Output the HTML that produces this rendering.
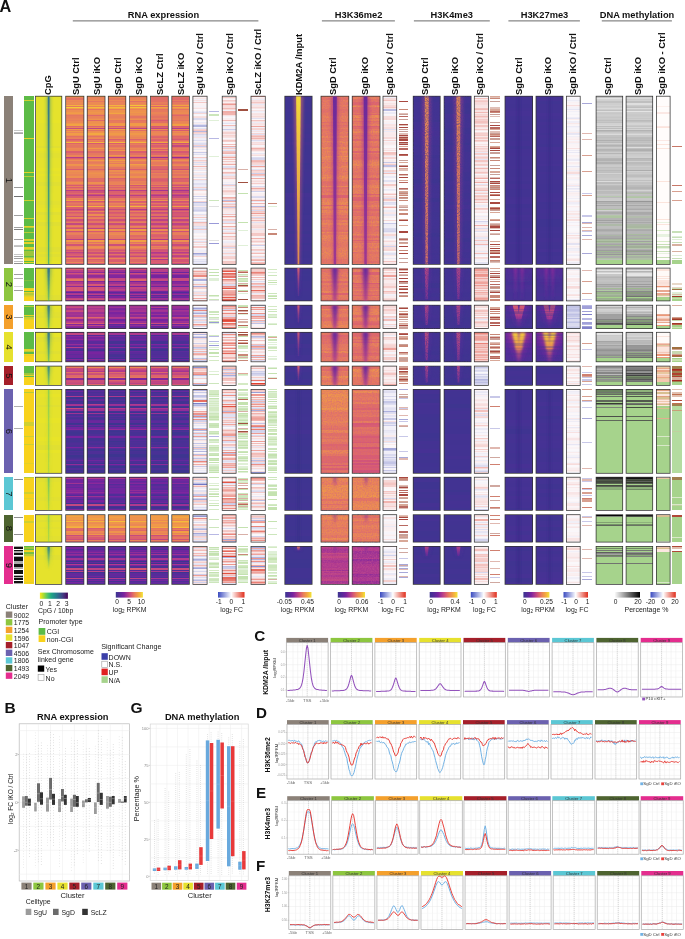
<!DOCTYPE html><html><head><meta charset="utf-8"><style>
html,body{margin:0;padding:0;background:#fff}
body{width:685px;height:939px;overflow:hidden;position:relative;font-family:"Liberation Sans",sans-serif}
#h>div,#o>div{position:absolute}
svg{position:absolute;left:0;top:0;will-change:transform}
.b{fill:none;stroke:#333;stroke-width:.75px}
</style></head><body><div id="h"><div style="left:4px;top:96.2px;width:9.1px;height:168.3px;background:#8b8178"></div><div style="left:4px;top:268.1px;width:9.1px;height:32.8px;background:#8dc63f"></div><div style="left:4px;top:305.2px;width:9.1px;height:23.4px;background:#f4a02c"></div><div style="left:4px;top:332.3px;width:9.1px;height:29.5px;background:#e6e12e"></div><div style="left:4px;top:366.1px;width:9.1px;height:19.4px;background:#a51f2a"></div><div style="left:4px;top:389.4px;width:9.1px;height:83.9px;background:#6b61af"></div><div style="left:4px;top:477.2px;width:9.1px;height:33.3px;background:#5bc7d4"></div><div style="left:4px;top:514.7px;width:9.1px;height:27.4px;background:#4e6430"></div><div style="left:4px;top:546.4px;width:9.1px;height:38.1px;background:#e42d8e"></div><div style="left:14.1px;top:130.4px;width:9.2px;height:0.6px;background:#c8c8c8"></div><div style="left:14.1px;top:131.9px;width:9.2px;height:0.6px;background:#c0c0c0"></div><div style="left:14.1px;top:133.3px;width:9.2px;height:0.7px;background:#a8a8a8"></div><div style="left:14.1px;top:186.6px;width:9.2px;height:0.6px;background:#9a9a9a"></div><div style="left:14.1px;top:196px;width:9.2px;height:1.1px;background:#707070"></div><div style="left:14.1px;top:215px;width:9.2px;height:0.6px;background:#a0a0a0"></div><div style="left:14.1px;top:227.2px;width:9.2px;height:0.6px;background:#a0a0a0"></div><div style="left:14.1px;top:228.7px;width:9.2px;height:0.9px;background:#808080"></div><div style="left:14.1px;top:239px;width:9.2px;height:0.6px;background:#a0a0a0"></div><div style="left:14.1px;top:244.6px;width:9.2px;height:0.9px;background:#c8c8c8"></div><div style="left:14.1px;top:246.4px;width:9.2px;height:0.9px;background:#c0c0c0"></div><div style="left:14.1px;top:254.4px;width:9.2px;height:0.6px;background:#c8c8c8"></div><div style="left:14.1px;top:256.3px;width:9.2px;height:0.7px;background:#a8a8a8"></div><div style="left:14.1px;top:258.4px;width:9.2px;height:0.7px;background:#a0a0a0"></div><div style="left:14.1px;top:260.5px;width:9.2px;height:0.7px;background:#c0c0c0"></div><div style="left:14.1px;top:262.6px;width:9.2px;height:0.9px;background:#909090"></div><div style="left:14.1px;top:273.5px;width:9.2px;height:0.6px;background:#a0a0a0"></div><div style="left:14.1px;top:277.5px;width:9.2px;height:0.6px;background:#b0b0b0"></div><div style="left:14.1px;top:286px;width:9.2px;height:0.8px;background:#d8d8d8"></div><div style="left:14.1px;top:290px;width:9.2px;height:0.6px;background:#a0a0a0"></div><div style="left:14.1px;top:316.5px;width:9.2px;height:0.6px;background:#a0a0a0"></div><div style="left:14.1px;top:406px;width:9.2px;height:0.5px;background:#b0b0b0"></div><div style="left:14.1px;top:428px;width:9.2px;height:0.5px;background:#b0b0b0"></div><div style="left:14.1px;top:478.5px;width:9.2px;height:0.5px;background:#909090"></div><div style="left:14.1px;top:516.5px;width:9.2px;height:0.5px;background:#909090"></div><div style="left:14.1px;top:533.5px;width:9.2px;height:0.5px;background:#909090"></div><div style="left:14.1px;top:546.4px;width:9.2px;height:38.1px;background:linear-gradient(#aaa 0px 1px,#111 1px 2.9px,#fff 2.9px 4px,#111 4px 5.5px,#aaa 5.5px 7.5px,#111 7.5px 9.2px,#fff 9.2px 9.7px,#aaa 9.7px 10.9px,#111 10.9px 15.4px,#aaa 15.4px 17.8px,#111 17.8px 20.8px,#fff 20.8px 21.4px,#aaa 21.4px 22.7px,#fff 22.7px 23.7px,#111 23.7px 27.7px,#fff 27.7px 28.9px,#aaa 28.9px 30.1px,#111 30.1px 31px,#aaa 31px 32.3px,#111 32.3px 34.1px,#fff 34.1px 34.7px,#111 34.7px 37.5px,#aaa 37.5px 38.1px)"></div><div style="left:24.2px;top:96.2px;width:9.7px;height:168.3px;background:linear-gradient(#5dbb46 0px 4.4px,#d0d030 4.4px 5.5px,#5dbb46 5.5px 41.8px,#e4d228 41.8px 43.3px,#5dbb46 43.3px 76.4px,#e4d228 76.4px 77.2px,#5dbb46 77.2px 79.6px,#b8cc36 79.6px 81px,#5dbb46 81px 103.7px,#d0d030 103.7px 105.1px,#5dbb46 105.1px 121.6px,#d0d030 121.6px 123px,#5dbb46 123px 129.8px,#e4d228 129.8px 131px,#b8cc36 131px 132.2px,#5dbb46 132.2px 136.3px,#b8cc36 136.3px 137.2px,#5dbb46 137.2px 142.8px,#e4d228 142.8px 143.6px,#d0d030 143.6px 144.8px,#5dbb46 144.8px 145.8px,#e4d228 145.8px 147.7px,#5dbb46 147.7px 151.4px,#e4d228 151.4px 153.5px,#b8cc36 153.5px 154.4px,#5dbb46 154.4px 155.1px,#9cc63c 155.1px 157.6px,#e4d228 157.6px 158.4px,#9cc63c 158.4px 159.9px,#5dbb46 159.9px 160.8px,#9cc63c 160.8px 162px,#d0d030 162px 163.5px,#e4d228 163.5px 164.8px,#5dbb46 164.8px 166.2px,#e4d228 166.2px 167.5px,#5dbb46 167.5px 168.1px,#b8cc36 168.1px 168.3px)"></div><div style="left:24.2px;top:268.1px;width:9.7px;height:32.8px;background:linear-gradient(#5dbb46 0px 11.9px,#7cc040 11.9px 12.9px,#5dbb46 12.9px 20.4px,#e4d228 20.4px 21.2px,#f8d21c 21.2px 22.7px,#5dbb46 22.7px 24.2px,#e4d228 24.2px 25.2px,#b8cc36 25.2px 26.7px,#d0d030 26.7px 28.1px,#e4d228 28.1px 28.7px,#f8d21c 28.7px 32.8px)"></div><div style="left:24.2px;top:305.2px;width:9.7px;height:23.4px;background:linear-gradient(#5dbb46 0px 1px,#b8cc36 1px 1.7px,#5dbb46 1.7px 10.1px,#e4d228 10.1px 10.9px,#7cc040 10.9px 12.4px,#d0d030 12.4px 14px,#e4d228 14px 15.1px,#f8d21c 15.1px 23.4px)"></div><div style="left:24.2px;top:332.3px;width:9.7px;height:29.5px;background:linear-gradient(#5dbb46 0px 17.4px,#e4d228 17.4px 18.7px,#d0d030 18.7px 19.4px,#b8cc36 19.4px 20.5px,#5dbb46 20.5px 21.6px,#f8d21c 21.6px 22.8px,#e4d228 22.8px 23.6px,#f8d21c 23.6px 29.5px)"></div><div style="left:24.2px;top:366.1px;width:9.7px;height:19.4px;background:linear-gradient(#5dbb46 0px 7.3px,#9cc63c 7.3px 8.8px,#e4d228 8.8px 9.8px,#5dbb46 9.8px 10.8px,#f8d21c 10.8px 19.4px)"></div><div style="left:24.2px;top:389.4px;width:9.7px;height:83.9px;background:linear-gradient(#f8d21c 0px 3.1px,#b8cc36 3.1px 4px,#f8d21c 4px 33.1px,#d0d030 33.1px 34.6px,#f8d21c 34.6px 35.4px,#d0d030 35.4px 36.5px,#f8d21c 36.5px 47.3px,#d0d030 47.3px 48.2px,#f8d21c 48.2px 54.9px,#d0d030 54.9px 56px,#f8d21c 56px 73.7px,#e4d228 73.7px 74.8px,#f8d21c 74.8px 83.9px)"></div><div style="left:24.2px;top:477.2px;width:9.7px;height:33.3px;background:linear-gradient(#b8cc36 0px 0.6px,#f8d21c 0.6px 15.1px,#d0d030 15.1px 16.6px,#f8d21c 16.6px 20.7px,#e4d228 20.7px 21.6px,#f8d21c 21.6px 33.3px)"></div><div style="left:24.2px;top:514.7px;width:9.7px;height:27.4px;background:linear-gradient(#f8d21c 0px 6.2px,#d0d030 6.2px 7.7px,#f8d21c 7.7px 27.4px)"></div><div style="left:24.2px;top:546.4px;width:9.7px;height:38.1px;background:linear-gradient(#5dbb46 0px 1.5px,#9cc63c 1.5px 2.9px,#5dbb46 2.9px 3.9px,#e4d228 3.9px 5.4px,#f8d21c 5.4px 6.5px,#7cc040 6.5px 8.1px,#b8cc36 8.1px 10.3px,#e4d228 10.3px 10.9px,#f8d21c 10.9px 36.1px,#e4d228 36.1px 37.3px,#f8d21c 37.3px 38.1px)"></div><div style="left:35.5px;top:96.2px;width:26.3px;height:168.3px;background:linear-gradient(#e5e22c 0px 23.6px,#e8e428 23.6px 27.4px,#e5e22c 27.4px 50.2px,#e0df32 50.2px 52.3px,#e8e428 52.3px 54.9px,#e5e22c 54.9px 57px,#e2e030 57px 61.8px,#e5e22c 61.8px 72.2px,#e8e428 72.2px 74.7px,#e5e22c 74.7px 77.7px,#e8e428 77.7px 79.9px,#e5e22c 79.9px 85.9px,#e0df32 85.9px 89.6px,#e5e22c 89.6px 104.7px,#e2e030 104.7px 109.1px,#e5e22c 109.1px 111.7px,#e8e428 111.7px 116.2px,#e0df32 116.2px 118.9px,#e5e22c 118.9px 123.9px,#e8e428 123.9px 126.5px,#e0df32 126.5px 130px,#e5e22c 130px 150.7px,#e0df32 150.7px 155.6px,#e5e22c 155.6px 157.9px,#e0df32 157.9px 161.2px,#e5e22c 161.2px 165.3px,#e8e428 165.3px 168px,#e5e22c 168px 168.3px)"></div><div style="left:35.5px;top:268.1px;width:26.3px;height:32.8px;background:linear-gradient(#e5e22c 0px 27.5px,#e0df32 27.5px 32.2px,#e8e428 32.2px 32.8px)"></div><div style="left:35.5px;top:305.2px;width:26.3px;height:23.4px;background:linear-gradient(#e8e428 0px 2.9px,#e5e22c 2.9px 7px,#e2e030 7px 10.8px,#e0df32 10.8px 13px,#e5e22c 13px 22.2px,#e8e428 22.2px 23.4px)"></div><div style="left:35.5px;top:332.3px;width:26.3px;height:29.5px;background:linear-gradient(#e8e428 0px 4.9px,#e0df32 4.9px 7.5px,#e2e030 7.5px 10.1px,#e5e22c 10.1px 19.4px,#e0df32 19.4px 21.8px,#e5e22c 21.8px 29.5px)"></div><div style="left:35.5px;top:366.1px;width:26.3px;height:19.4px;background:linear-gradient(#e5e22c 0px 19.4px)"></div><div style="left:35.5px;top:389.4px;width:26.3px;height:83.9px;background:linear-gradient(#e5e22c 0px 4.7px,#e8e428 4.7px 8.2px,#e5e22c 8.2px 15.5px,#e0df32 15.5px 18.4px,#e5e22c 18.4px 29.4px,#e8e428 29.4px 33.8px,#e5e22c 33.8px 48.3px,#e8e428 48.3px 52px,#e5e22c 52px 56.2px,#e0df32 56.2px 61.1px,#e8e428 61.1px 64.4px,#e5e22c 64.4px 83.9px)"></div><div style="left:35.5px;top:477.2px;width:26.3px;height:33.3px;background:linear-gradient(#e2e030 0px 4.8px,#e5e22c 4.8px 19.6px,#e2e030 19.6px 24.1px,#e5e22c 24.1px 33.3px)"></div><div style="left:35.5px;top:514.7px;width:26.3px;height:27.4px;background:linear-gradient(#e5e22c 0px 4.6px,#e0df32 4.6px 7.5px,#e5e22c 7.5px 12.2px,#e2e030 12.2px 14.5px,#e5e22c 14.5px 21.4px,#e2e030 21.4px 25.1px,#e5e22c 25.1px 27.4px)"></div><div style="left:35.5px;top:546.4px;width:26.3px;height:38.1px;background:linear-gradient(#e5e22c 0px 8.9px,#e0df32 8.9px 13.6px,#e5e22c 13.6px 38.1px)"></div><div style="left:65.7px;top:96.2px;width:18.2px;height:168.3px;background:linear-gradient(#f19e45 0px 1.1px,#ea8458 1.1px 2.5px,#e37263 2.5px 3.7px,#ec8a53 3.7px 4.6px,#f4b83d 4.6px 5.3px,#ea8557 5.3px 6.4px,#ec8c52 6.4px 7.8px,#eb8656 7.8px 9px,#f4b33e 9px 9.7px,#e57760 9.7px 10.7px,#f4cb3a 10.7px 11.7px,#f19d46 11.7px 12.9px,#e77c5d 12.9px 14.1px,#ed8e51 14.1px 15.6px,#f0984a 15.6px 16.6px,#f19c47 16.6px 17.6px,#ec8a54 17.6px 18.8px,#e47760 18.8px 20.3px,#e77d5c 20.3px 21.6px,#e9815a 21.6px 22.7px,#ea8557 22.7px 24.1px,#e87f5b 24.1px 25.2px,#eb8855 25.2px 26.7px,#ef964b 26.7px 27.6px,#f2a343 27.6px 29.8px,#df6b68 29.8px 30.7px,#e9815a 30.7px 32.1px,#c94d7d 32.1px 33.3px,#f0984a 33.3px 34.4px,#e67b5e 34.4px 35.1px,#f0974a 35.1px 36.5px,#ea8657 36.5px 37.2px,#f19c47 37.2px 38.7px,#ed904f 38.7px 40.2px,#e27164 40.2px 41.1px,#e87e5c 41.1px 41.8px,#e9825a 41.8px 43.3px,#d85b72 43.3px 44.4px,#df6b68 44.4px 45.1px,#e87e5c 45.1px 46.2px,#f4b43e 46.2px 47.1px,#dc646c 47.1px 48.1px,#e77c5d 48.1px 49.3px,#e47661 49.3px 50.8px,#e67a5e 50.8px 52.2px,#ec8b53 52.2px 53px,#eb8855 53px 54.1px,#eb8756 54.1px 55.2px,#da5f6f 55.2px 56.8px,#ef974b 56.8px 57.5px,#e27264 57.5px 58.6px,#eb8756 58.6px 60.1px,#ea8458 60.1px 61.1px,#b43c8c 61.1px 61.9px,#da5f6f 61.9px 63.1px,#e77c5d 63.1px 64px,#ed8e51 64px 65.5px,#e67a5e 65.5px 66.2px,#e77b5d 66.2px 67px,#e67b5e 67px 67.7px,#ef954c 67.7px 69px,#ee924e 69px 69.9px,#e87f5b 69.9px 71.4px,#e77c5d 71.4px 72.9px,#d85a72 72.9px 74.5px,#ec8b53 74.5px 75.3px,#ed8f50 75.3px 75.9px,#eb8954 75.9px 76.9px,#ec8b53 76.9px 78.5px,#ea8458 78.5px 79.8px,#dc626d 79.8px 80.5px,#ee914f 80.5px 81.8px,#e06c67 81.8px 83.3px,#e27064 83.3px 84.9px,#e77d5c 84.9px 86.2px,#ed8f50 86.2px 87.6px,#e77d5c 87.6px 89.1px,#d85b71 89.1px 90px,#e9805a 90px 90.7px,#d95b71 90.7px 92.1px,#e47661 92.1px 92.8px,#e87e5c 92.8px 93.8px,#b83f89 93.8px 95.4px,#d95d70 95.4px 96.6px,#df6b68 96.6px 97.7px,#d45675 97.7px 99.2px,#bf4585 99.2px 100.1px,#d95c71 100.1px 101.7px,#eb8954 101.7px 103.2px,#e8805b 103.2px 104.2px,#f29f45 104.2px 105.1px,#da5e70 105.1px 105.8px,#e16f65 105.8px 107.4px,#e67b5e 107.4px 108.1px,#e27164 108.1px 108.7px,#e16f65 108.7px 110.2px,#f3a842 110.2px 111.4px,#da5e70 111.4px 112.7px,#c14783 112.7px 114px,#d85a72 114px 114.7px,#e57760 114.7px 115.4px,#e57860 115.4px 116.5px,#d85a72 116.5px 117.1px,#dd666b 117.1px 118.2px,#e37363 118.2px 119.6px,#ce5279 119.6px 120.8px,#ea8656 120.8px 122px,#e87f5b 122px 122.7px,#e67a5e 122.7px 123.5px,#cd517a 123.5px 125px,#dd666b 125px 125.7px,#e6795f 125.7px 126.9px,#e27264 126.9px 127.5px,#c34981 127.5px 129.1px,#e6795f 129.1px 129.8px,#ea8557 129.8px 130.8px,#dc636c 130.8px 132px,#cf5378 132px 133.3px,#ed904f 133.3px 134.8px,#ce517a 134.8px 136.2px,#e57760 136.2px 137.1px,#e98359 137.1px 137.8px,#e87f5b 137.8px 139.1px,#e16e66 139.1px 140.7px,#d95c71 140.7px 141.3px,#df6969 141.3px 142.7px,#dd666a 142.7px 143.5px,#b83f8a 143.5px 144.5px,#ef964b 144.5px 145.6px,#e57860 145.6px 146.9px,#ea8458 146.9px 148.4px,#d15477 148.4px 149.7px,#e8805b 149.7px 150.7px,#eb8855 150.7px 152px,#ec8b53 152px 153.1px,#e27164 153.1px 154.1px,#ce5279 154.1px 155.1px,#dc636c 155.1px 156.2px,#bf4585 156.2px 157.1px,#d05478 157.1px 157.9px,#d95d70 157.9px 158.6px,#dd646c 158.6px 159.7px,#bf4585 159.7px 160.6px,#dc636c 160.6px 162px,#ed8d51 162px 163.5px,#dc646c 163.5px 164.4px,#e06d66 164.4px 165.6px,#eb8756 165.6px 167.1px,#da5e70 167.1px 168.1px,#c74c7e 168.1px 168.3px)"></div><div style="left:87.2px;top:96.2px;width:17.8px;height:168.3px;background:linear-gradient(#f19c47 0px 1.1px,#e9815a 1.1px 2.5px,#ea8458 2.5px 3.7px,#ec8c52 3.7px 4.6px,#f3ae40 4.6px 5.3px,#e57760 5.3px 6.4px,#ec8a53 6.4px 7.8px,#ec8b53 7.8px 9px,#f3a941 9px 9.7px,#e9815a 9.7px 10.7px,#f4bb3c 10.7px 11.7px,#f29f45 11.7px 12.9px,#e37462 12.9px 14.1px,#ed904f 14.1px 15.6px,#ef974a 15.6px 16.6px,#ee934d 16.6px 17.6px,#ec8b53 17.6px 18.8px,#df6969 18.8px 20.3px,#e98259 20.3px 21.6px,#eb8855 21.6px 22.7px,#ee934d 22.7px 24.1px,#df6969 24.1px 25.2px,#ed8f50 25.2px 26.7px,#ee924e 26.7px 27.6px,#f29f45 27.6px 28.3px,#f0984a 28.3px 29.8px,#dd656b 29.8px 30.7px,#e9825a 30.7px 32.1px,#be4485 32.1px 33.3px,#ef964b 33.3px 34.4px,#e37363 34.4px 35.1px,#ed8e51 35.1px 36.5px,#ee934d 36.5px 37.2px,#f3a842 37.2px 38.7px,#ec8c52 38.7px 40.2px,#e37363 40.2px 41.1px,#eb8756 41.1px 41.8px,#ec8b53 41.8px 43.3px,#dd656b 43.3px 44.4px,#e98259 44.4px 45.1px,#e67a5e 45.1px 46.2px,#f4b33e 46.2px 47.1px,#d65873 47.1px 48.1px,#e67a5e 48.1px 49.3px,#e5795f 49.3px 50.8px,#e87f5b 50.8px 52.2px,#f19b47 52.2px 53px,#e9805b 53px 54.1px,#eb8756 54.1px 55.2px,#df6a68 55.2px 56.8px,#f19b47 56.8px 57.5px,#e5795f 57.5px 58.6px,#e9815a 58.6px 60.1px,#ea8458 60.1px 61.1px,#b73e8b 61.1px 61.9px,#e06d66 61.9px 63.1px,#e77c5d 63.1px 64px,#f19b47 64px 65.5px,#ea8458 65.5px 66.2px,#e67a5f 66.2px 67px,#e87f5b 67px 67.7px,#ed8e51 67.7px 69px,#f09a48 69px 69.9px,#e87f5c 69.9px 71.4px,#e98259 71.4px 72.9px,#dd656b 72.9px 74.5px,#e87f5b 74.5px 75.3px,#eb8756 75.3px 75.9px,#ec8d51 75.9px 76.9px,#ee924e 76.9px 78.5px,#ec8b53 78.5px 79.8px,#dd656b 79.8px 80.5px,#eb8954 80.5px 81.8px,#e06c67 81.8px 83.3px,#e16e66 83.3px 86.2px,#ed8f50 86.2px 87.6px,#e67b5e 87.6px 89.1px,#d55874 89.1px 90px,#e87e5c 90px 90.7px,#d65874 90.7px 92.1px,#e27164 92.1px 92.8px,#df6969 92.8px 93.8px,#be4485 93.8px 95.4px,#ce5279 95.4px 96.6px,#e47561 96.6px 97.7px,#cc507b 97.7px 99.2px,#b23a8e 99.2px 100.1px,#da606f 100.1px 101.7px,#e67a5f 101.7px 103.2px,#e27264 103.2px 104.2px,#f2a144 104.2px 105.1px,#d35676 105.1px 105.8px,#e06c67 105.8px 107.4px,#eb8656 107.4px 108.1px,#e77d5c 108.1px 108.7px,#e06c67 108.7px 110.2px,#f4b23f 110.2px 111.4px,#df6969 111.4px 112.7px,#c34882 112.7px 114px,#d55874 114px 114.7px,#e57860 114.7px 115.4px,#eb8855 115.4px 116.5px,#da5e6f 116.5px 117.1px,#dc636c 117.1px 118.2px,#ec8d52 118.2px 119.6px,#d85a72 119.6px 120.8px,#e87e5c 120.8px 122px,#ea8458 122px 122.7px,#e37462 122.7px 123.5px,#d95c71 123.5px 125px,#e57760 125px 125.7px,#e47561 125.7px 126.9px,#dc636d 126.9px 127.5px,#cc507a 127.5px 129.1px,#e06d66 129.1px 129.8px,#e57760 129.8px 130.8px,#e06b67 130.8px 132px,#bb4188 132px 133.3px,#ef974b 133.3px 134.8px,#d75973 134.8px 136.2px,#e87f5b 136.2px 137.1px,#eb8756 137.1px 137.8px,#e57860 137.8px 139.1px,#e57760 139.1px 140.7px,#d75972 140.7px 141.3px,#e47561 141.3px 142.7px,#d65874 142.7px 143.5px,#ba4088 143.5px 144.5px,#f19d46 144.5px 145.6px,#e37362 145.6px 146.9px,#ec8c52 146.9px 148.4px,#dd666a 148.4px 149.7px,#ed8d51 149.7px 150.7px,#ee924e 150.7px 152px,#ea8657 152px 153.1px,#dc646c 153.1px 154.1px,#da606e 154.1px 155.1px,#e06c67 155.1px 156.2px,#cd517a 156.2px 157.9px,#e57860 157.9px 158.6px,#db616e 158.6px 159.7px,#c84c7e 159.7px 160.6px,#e16e66 160.6px 162px,#ed8e51 162px 163.5px,#d95d70 163.5px 164.4px,#e06c67 164.4px 165.6px,#eb8756 165.6px 167.1px,#d65973 167.1px 168.1px,#cb4f7c 168.1px 168.3px)"></div><div style="left:108.3px;top:96.2px;width:17.5px;height:168.3px;background:linear-gradient(#ee934d 0px 1.1px,#eb8855 1.1px 2.5px,#e5795f 2.5px 3.7px,#eb8954 3.7px 4.6px,#f5bf3b 4.6px 5.3px,#e77c5d 5.3px 6.4px,#ea8458 6.4px 7.8px,#e9825a 7.8px 9px,#f4b23f 9px 9.7px,#ec8b53 9.7px 10.7px,#f4b93d 10.7px 11.7px,#f2a443 11.7px 12.9px,#e87e5c 12.9px 14.1px,#ee934d 14.1px 15.6px,#ef974a 15.6px 16.6px,#f2a543 16.6px 17.6px,#ea8656 17.6px 18.8px,#e9815a 18.8px 20.3px,#e8805b 20.3px 21.6px,#ea8656 21.6px 22.7px,#ed8d51 22.7px 24.1px,#e47661 24.1px 25.2px,#e67a5e 25.2px 26.7px,#f0984a 26.7px 27.6px,#f19d46 27.6px 28.3px,#f19b48 28.3px 29.8px,#da5f6f 29.8px 30.7px,#e77c5d 30.7px 32.1px,#c64b7f 32.1px 33.3px,#f2a144 33.3px 34.4px,#e9805a 34.4px 35.1px,#ee914e 35.1px 36.5px,#ee914f 36.5px 37.2px,#f09a48 37.2px 38.7px,#ee914f 38.7px 40.2px,#e9805a 40.2px 41.1px,#e87f5b 41.1px 41.8px,#ec8b53 41.8px 43.3px,#da5f6f 43.3px 44.4px,#e57760 44.4px 45.1px,#e87f5b 45.1px 46.2px,#f4b83d 46.2px 47.1px,#d95c71 47.1px 48.1px,#e9825a 48.1px 49.3px,#e27064 49.3px 50.8px,#e8805b 50.8px 52.2px,#ec8c52 52.2px 53px,#e67a5e 53px 54.1px,#f09849 54.1px 55.2px,#e16e65 55.2px 56.8px,#ee934d 56.8px 57.5px,#e37462 57.5px 58.6px,#ef974b 58.6px 60.1px,#ea8458 60.1px 61.1px,#aa3790 61.1px 61.9px,#e37462 61.9px 63.1px,#ea8458 63.1px 64px,#f19e45 64px 65.5px,#e98359 65.5px 66.2px,#ed9050 66.2px 67px,#e67b5e 67px 67.7px,#ef974a 67.7px 69px,#ee914e 69px 69.9px,#ec8a54 69.9px 71.4px,#e47661 71.4px 72.9px,#da5f6f 72.9px 74.5px,#ed9050 74.5px 75.3px,#ec8d52 75.3px 75.9px,#e8805b 75.9px 76.9px,#ec8d52 76.9px 78.5px,#e67a5e 78.5px 79.8px,#df6b68 79.8px 80.5px,#ed8f50 80.5px 81.8px,#db626d 81.8px 83.3px,#e27164 83.3px 84.9px,#e77c5d 84.9px 86.2px,#ea8358 86.2px 87.6px,#ea8558 87.6px 89.1px,#dd666b 89.1px 90px,#e6795f 90px 90.7px,#db616e 90.7px 92.1px,#e47760 92.1px 92.8px,#e27064 92.8px 93.8px,#b43c8c 93.8px 95.4px,#db606e 95.4px 96.6px,#de676a 96.6px 97.7px,#d95c71 97.7px 99.2px,#bb4188 99.2px 100.1px,#d75973 100.1px 101.7px,#e77d5c 101.7px 103.2px,#e77c5d 103.2px 104.2px,#ec8b53 104.2px 105.1px,#db606e 105.1px 105.8px,#e06c67 105.8px 107.4px,#ea8458 107.4px 108.1px,#e67a5e 108.1px 108.7px,#e67a5f 108.7px 110.2px,#f2a044 110.2px 111.4px,#de6969 111.4px 112.7px,#c64b7f 112.7px 114px,#de6969 114px 114.7px,#e47562 114.7px 115.4px,#e27064 115.4px 116.5px,#d55774 116.5px 117.1px,#da5e6f 117.1px 118.2px,#e27064 118.2px 119.6px,#d55874 119.6px 120.8px,#e67b5e 120.8px 122px,#e47462 122px 122.7px,#ea8458 122.7px 123.5px,#cd507a 123.5px 125px,#e06c67 125px 125.7px,#e87f5b 125.7px 126.9px,#e16f65 126.9px 127.5px,#c94d7d 127.5px 129.1px,#e06d66 129.1px 129.8px,#e5785f 129.8px 130.8px,#e47561 130.8px 132px,#ce5279 132px 133.3px,#ee924e 133.3px 134.8px,#d95c70 134.8px 136.2px,#ea8656 136.2px 137.1px,#eb8855 137.1px 137.8px,#ed8d51 137.8px 139.1px,#e77e5c 139.1px 140.7px,#d55774 140.7px 141.3px,#e67a5e 141.3px 142.7px,#d65873 142.7px 143.5px,#c44981 143.5px 144.5px,#f19c47 144.5px 145.6px,#ed8e51 145.6px 146.9px,#ec8d52 146.9px 148.4px,#cc507b 148.4px 149.7px,#e98259 149.7px 150.7px,#eb8954 150.7px 152px,#e87f5b 152px 153.1px,#dd666b 153.1px 154.1px,#d35676 154.1px 155.1px,#e06c67 155.1px 156.2px,#c44981 156.2px 157.1px,#c74b7f 157.1px 157.9px,#e37462 157.9px 158.6px,#d45775 158.6px 159.7px,#bf4585 159.7px 160.6px,#da5e6f 160.6px 162px,#ea8656 162px 163.5px,#db616e 163.5px 164.4px,#d95d70 164.4px 165.6px,#e8805b 165.6px 167.1px,#dc626d 167.1px 168.1px,#bb4287 168.1px 168.3px)"></div><div style="left:129.5px;top:96.2px;width:17.4px;height:168.3px;background:linear-gradient(#ef954b 0px 1.1px,#e5795f 1.1px 2.5px,#ea8458 2.5px 3.7px,#ee924e 3.7px 4.6px,#f3af3f 4.6px 5.3px,#e27064 5.3px 6.4px,#ea8657 6.4px 7.8px,#ec8c52 7.8px 9px,#f5c33a 9px 9.7px,#e87f5c 9.7px 10.7px,#f5c23a 10.7px 11.7px,#f09949 11.7px 12.9px,#ea8458 12.9px 14.1px,#ee914f 14.1px 15.6px,#ef964b 15.6px 16.6px,#ed8e51 16.6px 17.6px,#ee914f 17.6px 18.8px,#ea8657 18.8px 20.3px,#e37462 20.3px 21.6px,#ea8458 21.6px 22.7px,#ed9050 22.7px 24.1px,#e37363 24.1px 25.2px,#e67a5e 25.2px 26.7px,#f09949 26.7px 27.6px,#f19b48 27.6px 28.3px,#f09b48 28.3px 29.8px,#e77c5d 29.8px 30.7px,#e27164 30.7px 32.1px,#be4485 32.1px 33.3px,#f09b48 33.3px 34.4px,#e06c67 34.4px 35.1px,#ed904f 35.1px 36.5px,#ed8e51 36.5px 37.2px,#f0984a 37.2px 38.7px,#ed8e51 38.7px 40.2px,#ec8c52 40.2px 41.1px,#ea8557 41.1px 41.8px,#eb8955 41.8px 43.3px,#dc636d 43.3px 44.4px,#e77d5d 44.4px 45.1px,#ec8b53 45.1px 46.2px,#f4b53e 46.2px 47.1px,#e37263 47.1px 48.1px,#e87e5c 48.1px 49.3px,#e16f65 49.3px 50.8px,#e5795f 50.8px 52.2px,#ec8a53 52.2px 53px,#ea8359 53px 54.1px,#ef954c 54.1px 55.2px,#da5e6f 55.2px 56.8px,#ed9050 56.8px 57.5px,#e27263 57.5px 58.6px,#ea8458 58.6px 60.1px,#e5795f 60.1px 61.1px,#ac3790 61.1px 61.9px,#dc636c 61.9px 63.1px,#ea8359 63.1px 64px,#ef954c 64px 65.5px,#e87e5c 65.5px 66.2px,#e67a5e 66.2px 67px,#e47660 67px 67.7px,#f29f45 67.7px 69px,#ed8f50 69px 69.9px,#eb8855 69.9px 71.4px,#e87e5c 71.4px 72.9px,#d95d70 72.9px 74.5px,#e98259 74.5px 75.3px,#ec8b53 75.3px 75.9px,#ee924e 75.9px 76.9px,#eb8955 76.9px 78.5px,#e98259 78.5px 79.8px,#e37263 79.8px 80.5px,#ee914e 80.5px 81.8px,#e47561 81.8px 83.3px,#e37263 83.3px 84.9px,#ea8359 84.9px 86.2px,#e8805b 86.2px 87.6px,#ed8f50 87.6px 89.1px,#d25576 89.1px 90px,#e57760 90px 90.7px,#db616e 90.7px 92.1px,#e5795f 92.1px 92.8px,#e77c5d 92.8px 93.8px,#b94089 93.8px 95.4px,#db616d 95.4px 96.6px,#e37462 96.6px 97.7px,#dc646c 97.7px 99.2px,#b94089 99.2px 100.1px,#dc626d 100.1px 101.7px,#e87e5c 101.7px 103.2px,#e77c5d 103.2px 104.2px,#ef964b 104.2px 105.1px,#d95c71 105.1px 105.8px,#dc636d 105.8px 107.4px,#ec8d51 107.4px 108.1px,#de676a 108.1px 108.7px,#e6795f 108.7px 110.2px,#f4b23f 110.2px 111.4px,#e16e66 111.4px 112.7px,#b53c8c 112.7px 114px,#d95b71 114px 114.7px,#e87e5c 114.7px 115.4px,#e9805b 115.4px 116.5px,#da5e70 116.5px 117.1px,#df6a68 117.1px 118.2px,#e5795f 118.2px 119.6px,#d75973 119.6px 120.8px,#e5785f 120.8px 122px,#ea8458 122px 122.7px,#e87e5c 122.7px 123.5px,#cf5279 123.5px 125px,#e47661 125px 125.7px,#e87f5b 125.7px 126.9px,#d05378 126.9px 127.5px,#cb4f7b 127.5px 129.1px,#db616e 129.1px 129.8px,#eb8656 129.8px 130.8px,#e67b5e 130.8px 132px,#c64b7f 132px 133.3px,#f09a48 133.3px 134.8px,#d85a72 134.8px 136.2px,#ea8458 136.2px 137.1px,#eb8954 137.1px 137.8px,#ec8a54 137.8px 139.1px,#df6a68 139.1px 140.7px,#de686a 140.7px 141.3px,#e37363 141.3px 142.7px,#dd656b 142.7px 143.5px,#cb4f7c 143.5px 144.5px,#f29f45 144.5px 145.6px,#e37462 145.6px 146.9px,#eb8755 146.9px 148.4px,#d85a72 148.4px 149.7px,#eb8656 149.7px 150.7px,#ed9050 150.7px 152px,#e87f5b 152px 153.1px,#e27064 153.1px 154.1px,#d95c71 154.1px 155.1px,#e16e66 155.1px 156.2px,#c94d7d 156.2px 157.1px,#d85a72 157.1px 157.9px,#e27263 157.9px 158.6px,#db616e 158.6px 159.7px,#c64b7f 159.7px 160.6px,#e5785f 160.6px 162px,#e87e5c 162px 163.5px,#dd666b 163.5px 164.4px,#de6869 164.4px 165.6px,#e87e5c 165.6px 167.1px,#d35676 167.1px 168.1px,#b0398f 168.1px 168.3px)"></div><div style="left:150.5px;top:96.2px;width:17.8px;height:168.3px;background:linear-gradient(#ea8558 0px 1.1px,#e06c67 1.1px 2.5px,#e06d66 2.5px 3.7px,#e27164 3.7px 4.6px,#f3a941 4.6px 5.3px,#e27064 5.3px 6.4px,#e77d5c 6.4px 7.8px,#e27164 7.8px 9px,#f19d46 9px 9.7px,#dc636d 9.7px 10.7px,#f2a243 10.7px 11.7px,#ed904f 11.7px 12.9px,#e37462 12.9px 14.1px,#e6795f 14.1px 15.6px,#ea8458 15.6px 16.6px,#ea8557 16.6px 17.6px,#e87e5c 17.6px 18.8px,#e67b5e 18.8px 20.3px,#e27263 20.3px 21.6px,#e77d5d 21.6px 22.7px,#e37363 22.7px 24.1px,#d95c71 24.1px 25.2px,#e16f65 25.2px 26.7px,#ec8b53 26.7px 27.6px,#eb8855 27.6px 28.3px,#ee914e 28.3px 29.8px,#d45675 29.8px 30.7px,#db606e 30.7px 32.1px,#c04584 32.1px 33.3px,#eb8954 33.3px 34.4px,#db626d 34.4px 35.1px,#e98359 35.1px 36.5px,#ea8458 36.5px 37.2px,#eb8855 37.2px 38.7px,#e77c5d 38.7px 40.2px,#dd666b 40.2px 41.1px,#dc636c 41.1px 41.8px,#e57860 41.8px 43.3px,#dc636c 43.3px 44.4px,#db606e 44.4px 45.1px,#e5795f 45.1px 46.2px,#f3a642 46.2px 47.1px,#ca4e7d 47.1px 48.1px,#e37362 48.1px 49.3px,#da5f6f 49.3px 50.8px,#e16e66 50.8px 52.2px,#ec8c52 52.2px 53px,#da606f 53px 54.1px,#e9815a 54.1px 55.2px,#d45775 55.2px 56.8px,#e87f5c 56.8px 57.5px,#dd666b 57.5px 58.6px,#e9815a 58.6px 60.1px,#e37362 60.1px 61.1px,#9c3195 61.1px 61.9px,#dd676a 61.9px 63.1px,#db626d 63.1px 64px,#ee924e 64px 65.5px,#ea8558 65.5px 66.2px,#e67a5e 66.2px 67.7px,#e77b5d 67.7px 69px,#ec8a54 69px 69.9px,#de676a 69.9px 71.4px,#dc646c 71.4px 72.9px,#d55874 72.9px 74.5px,#e47561 74.5px 75.3px,#e37462 75.3px 75.9px,#df6969 75.9px 76.9px,#e9815a 76.9px 78.5px,#e47661 78.5px 79.8px,#d25576 79.8px 80.5px,#e77d5d 80.5px 81.8px,#dc646c 81.8px 83.3px,#d95d70 83.3px 84.9px,#dd666a 84.9px 86.2px,#e37363 86.2px 87.6px,#e67b5e 87.6px 89.1px,#d85a72 89.1px 90px,#e77b5d 90px 90.7px,#cb4f7b 90.7px 92.1px,#dd666a 92.1px 92.8px,#dd646c 92.8px 93.8px,#a33493 93.8px 95.4px,#d95d70 95.4px 96.6px,#df6a68 96.6px 97.7px,#c74c7f 97.7px 99.2px,#af398f 99.2px 100.1px,#cf5279 100.1px 101.7px,#e47760 101.7px 103.2px,#dd656b 103.2px 104.2px,#ed904f 104.2px 105.1px,#c84d7e 105.1px 105.8px,#d25576 105.8px 107.4px,#e57760 107.4px 108.1px,#db606e 108.1px 108.7px,#d65874 108.7px 110.2px,#ed904f 110.2px 111.4px,#d55874 111.4px 112.7px,#b63e8b 112.7px 114px,#d95d70 114px 114.7px,#e17065 114.7px 115.4px,#e37362 115.4px 116.5px,#c74c7e 116.5px 117.1px,#d05478 117.1px 118.2px,#e16f65 118.2px 119.6px,#bf4585 119.6px 120.8px,#e06d66 120.8px 122px,#e16f65 122px 122.7px,#df6a68 122.7px 123.5px,#bb4287 123.5px 125px,#db606e 125px 125.7px,#de676a 125.7px 126.9px,#db606e 126.9px 127.5px,#bd4386 127.5px 129.1px,#d85a72 129.1px 129.8px,#e27065 129.8px 130.8px,#d35675 130.8px 132px,#b63d8b 132px 133.3px,#ec8a54 133.3px 134.8px,#d15477 134.8px 136.2px,#e47660 136.2px 137.1px,#e9805a 137.1px 137.8px,#dc646c 137.8px 139.1px,#da5f6f 139.1px 140.7px,#c74c7e 140.7px 141.3px,#e06c67 141.3px 142.7px,#ce517a 142.7px 143.5px,#af398f 143.5px 144.5px,#ee934d 144.5px 145.6px,#e06c67 145.6px 146.9px,#e47561 146.9px 148.4px,#d65973 148.4px 149.7px,#e8805b 149.7px 150.7px,#e47561 150.7px 152px,#e8805b 152px 153.1px,#d55774 153.1px 154.1px,#cf5378 154.1px 155.1px,#d65874 155.1px 156.2px,#b0398e 156.2px 157.1px,#bc4287 157.1px 157.9px,#d65874 157.9px 158.6px,#cb4f7c 158.6px 159.7px,#b53d8c 159.7px 160.6px,#d85a72 160.6px 162px,#e6795f 162px 163.5px,#af398f 163.5px 164.4px,#d85b72 164.4px 165.6px,#db616e 165.6px 167.1px,#cd517a 167.1px 168.1px,#b83f8a 168.1px 168.3px)"></div><div style="left:171.8px;top:96.2px;width:17.6px;height:168.3px;background:linear-gradient(#eb8955 0px 1.1px,#e16e66 1.1px 2.5px,#de6869 2.5px 3.7px,#e77c5d 3.7px 4.6px,#f09a48 4.6px 5.3px,#df6969 5.3px 6.4px,#e57860 6.4px 7.8px,#e9815a 7.8px 9px,#f2a343 9px 9.7px,#e37462 9.7px 10.7px,#f2a443 10.7px 11.7px,#ee914f 11.7px 12.9px,#e37462 12.9px 14.1px,#eb8756 14.1px 15.6px,#ec8b53 15.6px 16.6px,#ec8d52 16.6px 17.6px,#e57760 17.6px 18.8px,#dd666b 18.8px 20.3px,#e67a5e 20.3px 21.6px,#e77d5c 21.6px 22.7px,#e87e5c 22.7px 24.1px,#e37462 24.1px 25.2px,#ea8557 25.2px 26.7px,#ec8a53 26.7px 27.6px,#ec8b53 27.6px 28.3px,#f2a044 28.3px 29.8px,#d95d70 29.8px 30.7px,#dc646c 30.7px 32.1px,#b43c8c 32.1px 33.3px,#ea8458 33.3px 34.4px,#d85a72 34.4px 35.1px,#ec8a53 35.1px 36.5px,#e9815a 36.5px 37.2px,#ec8d52 37.2px 38.7px,#e77b5e 38.7px 40.2px,#dd656b 40.2px 41.1px,#e06c67 41.1px 41.8px,#de6869 41.8px 43.3px,#d45775 43.3px 44.4px,#e27263 44.4px 45.1px,#eb8756 45.1px 46.2px,#f3ab41 46.2px 47.1px,#cd517a 47.1px 48.1px,#e16f65 48.1px 49.3px,#c54a80 49.3px 50.8px,#e16f65 50.8px 52.2px,#e87e5c 52.2px 53px,#e57760 53px 54.1px,#e98259 54.1px 55.2px,#d65973 55.2px 56.8px,#ea8458 56.8px 57.5px,#df6a68 57.5px 58.6px,#ea8557 58.6px 60.1px,#df6969 60.1px 61.1px,#942e97 61.1px 61.9px,#d45775 61.9px 63.1px,#e87f5b 63.1px 64px,#ed904f 64px 65.5px,#e6795f 65.5px 66.2px,#de6969 66.2px 67px,#e37363 67px 67.7px,#ea8458 67.7px 69px,#ec8b53 69px 69.9px,#e06c67 69.9px 71.4px,#e06d66 71.4px 72.9px,#cc4f7b 72.9px 74.5px,#e98259 74.5px 75.3px,#e57760 75.3px 75.9px,#e47661 75.9px 76.9px,#e9815a 76.9px 78.5px,#e27164 78.5px 79.8px,#db606e 79.8px 80.5px,#e9815a 80.5px 81.8px,#d55874 81.8px 83.3px,#dc636c 83.3px 84.9px,#dc636d 84.9px 86.2px,#e9815a 86.2px 87.6px,#de6869 87.6px 89.1px,#ce517a 89.1px 90px,#e77c5d 90px 90.7px,#c54a80 90.7px 92.1px,#dc626d 92.1px 92.8px,#d65874 92.8px 93.8px,#a43492 93.8px 95.4px,#c84c7e 95.4px 96.6px,#dd656b 96.6px 97.7px,#c54a80 97.7px 99.2px,#ad3890 99.2px 100.1px,#c64b7f 100.1px 101.7px,#e06c67 101.7px 103.2px,#de686a 103.2px 104.2px,#eb8855 104.2px 105.1px,#cf5279 105.1px 105.8px,#d85a72 105.8px 107.4px,#e37263 107.4px 108.1px,#d75973 108.1px 108.7px,#db616e 108.7px 110.2px,#f19d46 110.2px 111.4px,#d95d70 111.4px 112.7px,#a33493 112.7px 114px,#d05378 114px 114.7px,#e87e5c 114.7px 115.4px,#de676a 115.4px 116.5px,#cd517a 116.5px 117.1px,#d45675 117.1px 118.2px,#d65973 118.2px 119.6px,#c74c7e 119.6px 120.8px,#e16f65 120.8px 122px,#e6795f 122px 122.7px,#df6b68 122.7px 123.5px,#bd4486 123.5px 125px,#d85b71 125px 125.7px,#df6b68 125.7px 126.9px,#d25577 126.9px 127.5px,#bc4387 127.5px 129.1px,#d05478 129.1px 129.8px,#e06d66 129.8px 130.8px,#d95d70 130.8px 132px,#c94e7d 132px 133.3px,#ee914f 133.3px 134.8px,#ce517a 134.8px 136.2px,#e67b5e 136.2px 137.1px,#e87e5c 137.1px 137.8px,#e87f5b 137.8px 139.1px,#df6b68 139.1px 140.7px,#c94e7d 140.7px 141.3px,#e06c67 141.3px 142.7px,#d25576 142.7px 143.5px,#b63d8b 143.5px 144.5px,#ed8f50 144.5px 145.6px,#dd656c 145.6px 146.9px,#e06d66 146.9px 148.4px,#c84c7e 148.4px 149.7px,#de676a 149.7px 150.7px,#e67a5e 150.7px 152px,#e5795f 152px 153.1px,#ce5279 153.1px 154.1px,#cc507b 154.1px 155.1px,#db606e 155.1px 156.2px,#b73e8a 156.2px 157.1px,#cb4f7c 157.1px 157.9px,#e06d66 157.9px 158.6px,#c14683 158.6px 159.7px,#bb4287 159.7px 160.6px,#d95d70 160.6px 162px,#e9815a 162px 163.5px,#d15477 163.5px 164.4px,#d35576 164.4px 165.6px,#df6b67 165.6px 167.1px,#c64a80 167.1px 168.1px,#a83691 168.1px 168.3px)"></div><div style="left:65.7px;top:268.1px;width:18.2px;height:32.8px;background:linear-gradient(#cc507b 0px 0.9px,#da5f6f 0.9px 2.2px,#ba4188 2.2px 3.6px,#9c3295 3.6px 4.6px,#d05378 4.6px 6.2px,#b83f89 6.2px 7.4px,#9f3294 7.4px 8.8px,#aa3790 8.8px 9.4px,#9c3295 9.4px 10.1px,#d65874 10.1px 11.4px,#e57860 11.4px 13px,#973096 13px 14.2px,#b33b8d 14.2px 15.7px,#ae388f 15.7px 16.4px,#c94e7d 16.4px 17.9px,#8e2c99 17.9px 19.3px,#d45775 19.3px 20.6px,#d45675 20.6px 21.6px,#d95c71 21.6px 22.9px,#922d98 22.9px 23.7px,#66289c 23.7px 25px,#aa3791 25px 26.3px,#b33b8d 26.3px 27.4px,#6a279d 27.4px 28.3px,#8c2b9a 28.3px 28.9px,#892a9a 28.9px 29.7px,#c24782 29.7px 31.1px,#cd517a 31.1px 31.9px,#8b2b9a 31.9px 32.6px,#ae388f 32.6px 32.8px)"></div><div style="left:87.2px;top:268.1px;width:17.8px;height:32.8px;background:linear-gradient(#c54a80 0px 0.9px,#db616e 0.9px 2.2px,#b94089 2.2px 3.6px,#8e2c99 3.6px 4.6px,#d95c71 4.6px 6.2px,#bd4486 6.2px 7.4px,#912d98 7.4px 8.8px,#b43c8c 8.8px 9.4px,#9f3294 9.4px 10.1px,#d15477 10.1px 11.4px,#e16f65 11.4px 13px,#86299b 13px 14.2px,#a73691 14.2px 15.7px,#942e97 15.7px 16.4px,#d75973 16.4px 17.9px,#7d259e 17.9px 19.3px,#d05378 19.3px 20.6px,#d65873 20.6px 21.6px,#cd517a 21.6px 22.9px,#84289c 22.9px 23.7px,#6b279d 23.7px 25px,#9f3294 25px 26.3px,#bc4287 26.3px 27.4px,#68289d 27.4px 28.3px,#9d3294 28.3px 28.9px,#892a9a 28.9px 29.7px,#c44981 29.7px 31.1px,#ca4e7c 31.1px 31.9px,#7c259e 31.9px 32.6px,#a23493 32.6px 32.8px)"></div><div style="left:108.3px;top:268.1px;width:17.5px;height:32.8px;background:linear-gradient(#ad388f 0px 0.9px,#c64b7f 0.9px 2.2px,#983096 2.2px 3.6px,#77259f 3.6px 4.6px,#ba4188 4.6px 6.2px,#952e97 6.2px 7.4px,#82279d 7.4px 8.8px,#942e97 8.8px 9.4px,#7f269e 9.4px 10.1px,#c34882 10.1px 11.4px,#c64b7f 11.4px 13px,#70269e 13px 14.2px,#9c3195 14.2px 15.7px,#83289c 15.7px 16.4px,#ba4188 16.4px 17.9px,#6a279d 17.9px 19.3px,#aa3790 19.3px 20.6px,#bc4287 20.6px 21.6px,#b43c8c 21.6px 22.9px,#85289c 22.9px 23.7px,#5d2a9b 23.7px 25px,#78249f 25px 26.3px,#a03393 26.3px 27.4px,#542d99 27.4px 28.3px,#7c259e 28.3px 28.9px,#7a249f 28.9px 29.7px,#a43492 29.7px 31.1px,#b53d8c 31.1px 31.9px,#6f269e 31.9px 32.6px,#912d98 32.6px 32.8px)"></div><div style="left:129.5px;top:268.1px;width:17.4px;height:32.8px;background:linear-gradient(#b53d8b 0px 0.9px,#ce5279 0.9px 2.2px,#a23493 2.2px 3.6px,#72269e 3.6px 4.6px,#cb4f7b 4.6px 6.2px,#b43b8d 6.2px 7.4px,#8c2b9a 7.4px 8.8px,#9d3294 8.8px 9.4px,#8c2b9a 9.4px 10.1px,#c14683 10.1px 11.4px,#dc646c 11.4px 13px,#79249f 13px 14.2px,#a43592 14.2px 15.7px,#8c2b9a 15.7px 16.4px,#c04684 16.4px 17.9px,#79249f 17.9px 19.3px,#c24782 19.3px 20.6px,#b83f8a 20.6px 21.6px,#bb4188 21.6px 22.9px,#8d2c99 22.9px 23.7px,#5b2b9b 23.7px 25px,#86299b 25px 26.3px,#a93691 26.3px 27.4px,#63299c 27.4px 28.3px,#973096 28.3px 28.9px,#65299c 28.9px 29.7px,#ad3890 29.7px 31.1px,#ac3890 31.1px 31.9px,#6b279d 31.9px 32.6px,#8d2b99 32.6px 32.8px)"></div><div style="left:150.5px;top:268.1px;width:17.8px;height:32.8px;background:linear-gradient(#a23493 0px 0.9px,#c04684 0.9px 2.2px,#b83f89 2.2px 3.6px,#76259e 3.6px 4.6px,#ba4188 4.6px 6.2px,#8f2c99 6.2px 7.4px,#75259e 7.4px 8.8px,#82279d 8.8px 9.4px,#78259f 9.4px 10.1px,#b23a8e 10.1px 11.4px,#c54a80 11.4px 13px,#6a279d 13px 14.2px,#87299b 14.2px 15.7px,#71269e 15.7px 16.4px,#9e3294 16.4px 17.9px,#6f269e 17.9px 19.3px,#b13a8e 19.3px 20.6px,#bc4287 20.6px 21.6px,#b33b8d 21.6px 22.9px,#6d279d 22.9px 23.7px,#592b9a 23.7px 25px,#70269e 25px 26.3px,#a73691 26.3px 27.4px,#5b2b9b 27.4px 28.3px,#81279d 28.3px 28.9px,#5e2a9b 28.9px 29.7px,#9d3294 29.7px 31.1px,#962f96 31.1px 31.9px,#62299c 31.9px 32.6px,#80269d 32.6px 32.8px)"></div><div style="left:171.8px;top:268.1px;width:17.6px;height:32.8px;background:linear-gradient(#a63592 0px 0.9px,#b63e8b 0.9px 2.2px,#a53592 2.2px 3.6px,#6a279d 3.6px 4.6px,#b73e8a 4.6px 6.2px,#932e97 6.2px 7.4px,#74259e 7.4px 8.8px,#902d98 8.8px 9.4px,#75259e 9.4px 10.1px,#c84c7e 10.1px 11.4px,#c64b7f 11.4px 13px,#78249f 13px 14.2px,#86299b 14.2px 15.7px,#7f269e 15.7px 16.4px,#a03394 16.4px 17.9px,#64299c 17.9px 19.3px,#b23a8e 19.3px 20.6px,#b94089 20.6px 21.6px,#9e3294 21.6px 22.9px,#77259f 22.9px 23.7px,#512d99 23.7px 25px,#7a249f 25px 26.3px,#952f97 26.3px 27.4px,#572c9a 27.4px 28.3px,#75259e 28.3px 28.9px,#6f269e 28.9px 29.7px,#9f3294 29.7px 31.1px,#a43492 31.1px 31.9px,#602a9c 31.9px 32.6px,#6f269d 32.6px 32.8px)"></div><div style="left:65.7px;top:305.2px;width:18.2px;height:23.4px;background:linear-gradient(#b43c8d 0px 1.4px,#bc4287 1.4px 2.1px,#c94d7d 2.1px 2.7px,#a73691 2.7px 4px,#a53592 4px 5px,#c34882 5px 6px,#c94d7d 6px 7.4px,#a03393 7.4px 8.9px,#a73691 8.9px 10.5px,#9d3294 10.5px 11.9px,#8c2b99 11.9px 12.5px,#d95d70 12.5px 13.3px,#cf5378 13.3px 14.4px,#932e98 14.4px 16px,#b33b8d 16px 16.7px,#bb4188 16.7px 17.8px,#dc646c 17.8px 18.8px,#83289c 18.8px 19.8px,#b83f89 19.8px 20.7px,#da5e6f 20.7px 21.5px,#8f2c98 21.5px 22.4px,#7e269e 22.4px 23.1px,#8e2c99 23.1px 23.4px)"></div><div style="left:87.2px;top:305.2px;width:17.8px;height:23.4px;background:linear-gradient(#b73e8b 0px 1.4px,#b0398f 1.4px 2.1px,#bc4387 2.1px 2.7px,#a63592 2.7px 4px,#b43c8c 4px 5px,#ba4088 5px 6px,#b83f8a 6px 7.4px,#9e3294 7.4px 8.9px,#b43c8c 8.9px 10.5px,#aa3790 10.5px 11.9px,#942e97 11.9px 12.5px,#de676a 12.5px 13.3px,#c64b7f 13.3px 14.4px,#9e3294 14.4px 16px,#ba4188 16px 16.7px,#b94089 16.7px 17.8px,#d85b71 17.8px 18.8px,#78249f 18.8px 19.8px,#c34882 19.8px 20.7px,#d35576 20.7px 21.5px,#8a2a9a 21.5px 22.4px,#8d2b99 22.4px 23.1px,#932e97 23.1px 23.4px)"></div><div style="left:108.3px;top:305.2px;width:17.5px;height:23.4px;background:linear-gradient(#84289c 0px 1.4px,#85289c 1.4px 2.1px,#9b3195 2.1px 2.7px,#7c259e 2.7px 4px,#77259f 4px 5px,#892a9b 5px 6px,#922d98 6px 7.4px,#7a249f 7.4px 8.9px,#84289c 8.9px 10.5px,#87299b 10.5px 11.9px,#6b279d 11.9px 12.5px,#b33b8d 12.5px 13.3px,#ab3790 13.3px 14.4px,#6f269e 14.4px 16px,#85289c 16px 16.7px,#8c2b99 16.7px 17.8px,#b73e8a 17.8px 18.8px,#5a2b9b 18.8px 19.8px,#78249f 19.8px 20.7px,#a63592 20.7px 21.5px,#552c9a 21.5px 22.4px,#64299c 22.4px 23.1px,#65289c 23.1px 23.4px)"></div><div style="left:129.5px;top:305.2px;width:17.4px;height:23.4px;background:linear-gradient(#952f97 0px 1.4px,#a03394 1.4px 2.1px,#aa3790 2.1px 2.7px,#952f97 2.7px 4px,#9f3394 4px 5px,#a53592 5px 6px,#ab3790 6px 7.4px,#87299b 7.4px 8.9px,#a83691 8.9px 10.5px,#8e2c99 10.5px 11.9px,#76259e 11.9px 12.5px,#c44981 12.5px 13.3px,#b33b8d 13.3px 14.4px,#79249f 14.4px 16px,#9f3394 16px 16.7px,#993096 16.7px 17.8px,#cb4f7c 17.8px 18.8px,#71269e 18.8px 19.8px,#932e98 19.8px 20.7px,#ab3790 20.7px 21.5px,#79249f 21.5px 22.4px,#5d2a9b 22.4px 23.1px,#75259e 23.1px 23.4px)"></div><div style="left:150.5px;top:305.2px;width:17.8px;height:23.4px;background:linear-gradient(#993095 0px 1.4px,#87299b 1.4px 2.1px,#b43c8c 2.1px 2.7px,#71269e 2.7px 4px,#912d98 4px 5px,#a53592 5px 6px,#a03393 6px 7.4px,#80269d 7.4px 8.9px,#9a3195 8.9px 10.5px,#7a249f 10.5px 11.9px,#76259e 11.9px 12.5px,#b33b8d 12.5px 13.3px,#a63592 13.3px 14.4px,#76259e 14.4px 16px,#86299b 16px 16.7px,#8f2c99 16.7px 17.8px,#c94d7d 17.8px 18.8px,#5d2a9b 18.8px 19.8px,#a23493 19.8px 20.7px,#a93691 20.7px 21.5px,#5f2a9b 21.5px 22.4px,#66289c 22.4px 23.1px,#6d279d 23.1px 23.4px)"></div><div style="left:171.8px;top:305.2px;width:17.6px;height:23.4px;background:linear-gradient(#902d98 0px 1.4px,#9b3195 1.4px 2.1px,#9a3095 2.1px 2.7px,#912d98 2.7px 4px,#81279d 4px 5px,#a43492 5px 6px,#9b3195 6px 7.4px,#8d2c99 7.4px 8.9px,#952f97 8.9px 10.5px,#81279d 10.5px 11.9px,#6d279d 11.9px 12.5px,#c34882 12.5px 13.3px,#b43c8c 13.3px 14.4px,#82279c 14.4px 16px,#a03393 16px 16.7px,#983096 16.7px 17.8px,#c94d7d 17.8px 18.8px,#6a279d 18.8px 19.8px,#9b3195 19.8px 20.7px,#b63d8b 20.7px 21.5px,#70269e 21.5px 22.4px,#64299c 22.4px 23.1px,#70269e 23.1px 23.4px)"></div><div style="left:65.7px;top:332.3px;width:18.2px;height:29.5px;background:linear-gradient(#7e269e 0px 1.3px,#c24782 1.3px 2.8px,#5c2b9b 2.8px 4.3px,#85289c 4.3px 5.2px,#77259f 5.2px 6.7px,#912d98 6.7px 7.7px,#68289d 7.7px 9px,#5f2a9b 9px 10.5px,#68289d 10.5px 11.7px,#962f97 11.7px 12.9px,#70269e 12.9px 13.6px,#582b9a 13.6px 14.8px,#b83f8a 14.8px 15.6px,#5d2a9b 15.6px 16.6px,#4e2f97 16.6px 17.6px,#473194 17.6px 19.2px,#77259f 19.2px 20.4px,#6d279d 20.4px 21.7px,#6a289d 21.7px 22.5px,#5f2a9b 22.5px 23.4px,#6a279d 23.4px 25.6px,#443293 25.6px 27.2px,#892a9a 27.2px 28.2px,#542d99 28.2px 29.2px,#922e98 29.2px 29.5px)"></div><div style="left:87.2px;top:332.3px;width:17.8px;height:29.5px;background:linear-gradient(#9a3095 0px 1.3px,#c34881 1.3px 2.8px,#542c9a 2.8px 4.3px,#942e97 4.3px 5.2px,#75259e 5.2px 6.7px,#892a9a 6.7px 7.7px,#77259f 7.7px 9px,#5b2b9b 9px 10.5px,#5a2b9b 10.5px 11.7px,#902d98 11.7px 12.9px,#71269e 12.9px 13.6px,#602a9b 13.6px 14.8px,#932e97 14.8px 15.6px,#64299c 15.6px 16.6px,#4f2e98 16.6px 17.6px,#443293 17.6px 19.2px,#6b279d 19.2px 20.4px,#79249f 20.4px 21.7px,#63299c 21.7px 22.5px,#6e279d 22.5px 23.4px,#6d279d 23.4px 24.9px,#6f269e 24.9px 25.6px,#493195 25.6px 27.2px,#902d98 27.2px 28.2px,#5b2b9b 28.2px 29.2px,#a13393 29.2px 29.5px)"></div><div style="left:108.3px;top:332.3px;width:17.5px;height:29.5px;background:linear-gradient(#6b279d 0px 1.3px,#a23493 1.3px 2.8px,#4d2f97 2.8px 4.3px,#6e279d 4.3px 5.2px,#592b9a 5.2px 6.7px,#62299c 6.7px 7.7px,#5e2a9b 7.7px 9px,#443393 9px 10.5px,#453293 10.5px 11.7px,#6b279d 11.7px 12.9px,#542c9a 12.9px 13.6px,#443293 13.6px 14.8px,#882a9b 14.8px 15.6px,#4d2f97 15.6px 16.6px,#443293 16.6px 17.6px,#3d3590 17.6px 19.2px,#6c279d 19.2px 20.4px,#572c9a 20.4px 21.7px,#502e98 21.7px 22.5px,#493095 22.5px 23.4px,#463294 23.4px 24.9px,#532d99 24.9px 25.6px,#3d3590 25.6px 27.2px,#76259e 27.2px 28.2px,#3d3590 28.2px 29.2px,#86299b 29.2px 29.5px)"></div><div style="left:129.5px;top:332.3px;width:17.4px;height:29.5px;background:linear-gradient(#70269e 0px 1.3px,#b23a8e 1.3px 2.8px,#433392 2.8px 4.3px,#71269e 4.3px 5.2px,#64299c 5.2px 6.7px,#71269e 6.7px 7.7px,#64299c 7.7px 9px,#463294 9px 10.5px,#4f2e97 10.5px 11.7px,#7e269e 11.7px 12.9px,#612a9c 12.9px 13.6px,#4b3096 13.6px 14.8px,#942e97 14.8px 15.6px,#522d99 15.6px 16.6px,#3d3590 16.6px 19.2px,#68289d 19.2px 20.4px,#5c2a9b 20.4px 21.7px,#532d99 21.7px 22.5px,#4f2e97 22.5px 23.4px,#562c9a 23.4px 24.9px,#5b2b9b 24.9px 25.6px,#3d3590 25.6px 27.2px,#6d279d 27.2px 28.2px,#502e98 28.2px 29.2px,#81279d 29.2px 29.5px)"></div><div style="left:150.5px;top:332.3px;width:17.8px;height:29.5px;background:linear-gradient(#69289d 0px 1.3px,#973096 1.3px 2.8px,#473194 2.8px 4.3px,#70269e 4.3px 5.2px,#66289c 5.2px 6.7px,#67289c 6.7px 7.7px,#5f2a9b 7.7px 9px,#463194 9px 10.5px,#433393 10.5px 11.7px,#7d259e 11.7px 12.9px,#5a2b9b 12.9px 13.6px,#4e2f97 13.6px 14.8px,#7c259f 14.8px 15.6px,#4e2f97 15.6px 16.6px,#413392 16.6px 17.6px,#3d3590 17.6px 19.2px,#532d99 19.2px 20.4px,#502e98 20.4px 22.5px,#4e2e97 22.5px 23.4px,#522d99 23.4px 24.9px,#5c2a9b 24.9px 25.6px,#3d3590 25.6px 27.2px,#6e279d 27.2px 28.2px,#443293 28.2px 29.2px,#77259f 29.2px 29.5px)"></div><div style="left:171.8px;top:332.3px;width:17.6px;height:29.5px;background:linear-gradient(#70269e 0px 1.3px,#ac3890 1.3px 2.8px,#4a3095 2.8px 4.3px,#6e279d 4.3px 5.2px,#5f2a9b 5.2px 7.7px,#592b9a 7.7px 9px,#4b3096 9px 10.5px,#4a3095 10.5px 11.7px,#7f269d 11.7px 12.9px,#582b9a 12.9px 13.6px,#473194 13.6px 14.8px,#8f2c99 14.8px 15.6px,#532d99 15.6px 16.6px,#3d3590 16.6px 19.2px,#5c2b9b 19.2px 20.4px,#502e98 20.4px 21.7px,#522d99 21.7px 22.5px,#512d98 22.5px 23.4px,#512e98 23.4px 24.9px,#62299c 24.9px 25.6px,#3d3590 25.6px 27.2px,#6b279d 27.2px 28.2px,#433393 28.2px 29.2px,#74259e 29.2px 29.5px)"></div><div style="left:65.7px;top:366.1px;width:18.2px;height:19.4px;background:linear-gradient(#de676a 0px 1.3px,#e87f5b 1.3px 1.9px,#c54a80 1.9px 3.3px,#c24882 3.3px 4.1px,#c24782 4.1px 4.9px,#bb4287 4.9px 6px,#e16e66 6px 7.2px,#ce517a 7.2px 8.5px,#c74b7f 8.5px 9.4px,#de6869 9.4px 11px,#e27264 11px 12.2px,#8a2a9a 12.2px 13.6px,#cb4f7c 13.6px 14.7px,#d05478 14.7px 15.4px,#d05378 15.4px 16px,#ca4f7c 16px 17.2px,#c54a80 17.2px 18.3px,#d65973 18.3px 19.3px,#c14783 19.3px 19.4px)"></div><div style="left:87.2px;top:366.1px;width:17.8px;height:19.4px;background:linear-gradient(#d65874 0px 1.3px,#ec8c52 1.3px 1.9px,#d65874 1.9px 3.3px,#c74c7f 3.3px 4.1px,#cb4f7c 4.1px 4.9px,#b13a8e 4.9px 6px,#e27064 6px 7.2px,#d05378 7.2px 8.5px,#cc507b 8.5px 9.4px,#e37462 9.4px 11px,#e37363 11px 12.2px,#83279c 12.2px 13.6px,#cd517a 13.6px 14.7px,#d15477 14.7px 15.4px,#cb4f7c 15.4px 17.2px,#bf4585 17.2px 18.3px,#e06b67 18.3px 19.3px,#c84d7e 19.3px 19.4px)"></div><div style="left:108.3px;top:366.1px;width:17.5px;height:19.4px;background:linear-gradient(#d55774 0px 1.3px,#ec8c52 1.3px 1.9px,#d85b72 1.9px 3.3px,#cd517a 3.3px 4.1px,#b53d8c 4.1px 4.9px,#af398f 4.9px 6px,#df6969 6px 7.2px,#cc507b 7.2px 8.5px,#d95d70 8.5px 9.4px,#dc626d 9.4px 11px,#e87e5c 11px 12.2px,#86299b 12.2px 13.6px,#dd656b 13.6px 14.7px,#cf5279 14.7px 15.4px,#d35576 15.4px 16px,#c74c7f 16px 17.2px,#b73f8a 17.2px 18.3px,#d55774 18.3px 19.3px,#c74c7e 19.3px 19.4px)"></div><div style="left:129.5px;top:366.1px;width:17.4px;height:19.4px;background:linear-gradient(#d35676 0px 1.3px,#ec8c52 1.3px 1.9px,#d85a72 1.9px 3.3px,#cc507b 3.3px 4.1px,#ba4188 4.1px 4.9px,#b33b8d 4.9px 6px,#da5f6f 6px 7.2px,#d75973 7.2px 8.5px,#d25577 8.5px 9.4px,#e27164 9.4px 11px,#e47661 11px 12.2px,#79249f 12.2px 13.6px,#d25576 13.6px 14.7px,#c74c7e 14.7px 15.4px,#ce517a 15.4px 16px,#cc507b 16px 17.2px,#bc4287 17.2px 18.3px,#d95c70 18.3px 19.3px,#d75973 19.3px 19.4px)"></div><div style="left:150.5px;top:366.1px;width:17.8px;height:19.4px;background:linear-gradient(#ca4f7c 0px 1.3px,#e37462 1.3px 1.9px,#c44981 1.9px 3.3px,#bc4386 3.3px 4.1px,#b63d8b 4.1px 4.9px,#ae388f 4.9px 6px,#de6869 6px 7.2px,#b63e8b 7.2px 8.5px,#c64b7f 8.5px 9.4px,#dc646c 9.4px 11px,#e16e65 11px 12.2px,#7f269e 12.2px 13.6px,#cd507a 13.6px 14.7px,#ce5279 14.7px 15.4px,#bf4585 15.4px 16px,#c24782 16px 17.2px,#b94089 17.2px 18.3px,#d55874 18.3px 19.3px,#c14783 19.3px 19.4px)"></div><div style="left:171.8px;top:366.1px;width:17.6px;height:19.4px;background:linear-gradient(#d85b71 0px 1.3px,#e67b5e 1.3px 1.9px,#c74b7f 1.9px 3.3px,#c14783 3.3px 4.1px,#b23a8e 4.1px 4.9px,#a13393 4.9px 6px,#d15477 6px 7.2px,#c54a80 7.2px 8.5px,#c14783 8.5px 9.4px,#d85b71 9.4px 11px,#e27164 11px 12.2px,#85289c 12.2px 13.6px,#c24882 13.6px 14.7px,#d35676 14.7px 15.4px,#c24882 15.4px 16px,#c24782 16px 17.2px,#c14683 17.2px 18.3px,#d55774 18.3px 19.3px,#be4485 19.3px 19.4px)"></div><div style="left:65.7px;top:389.4px;width:18.2px;height:83.9px;background:linear-gradient(#522d99 0px 0.7px,#4c2f96 0.7px 2.1px,#6f269e 2.1px 3px,#493095 3px 3.7px,#483195 3.7px 4.4px,#502e98 4.4px 5.6px,#4e2f97 5.6px 6.7px,#af398f 6.7px 8.1px,#3d3590 8.1px 9.5px,#83279c 9.5px 10.1px,#5c2a9b 10.1px 11.6px,#413492 11.6px 13.1px,#483195 13.1px 14.6px,#a13393 14.6px 16px,#a53592 16px 17px,#3d3590 17px 19.4px,#c64b7f 19.4px 20.4px,#932e97 20.4px 21.5px,#463294 21.5px 22.8px,#3d3590 22.8px 24px,#9f3294 24px 25.3px,#4b3096 25.3px 26.6px,#602a9c 26.6px 27.7px,#4d2f97 27.7px 29px,#473194 29px 30px,#542c9a 30px 30.9px,#61299c 30.9px 32.4px,#5c2a9b 32.4px 33.9px,#3d3590 33.9px 35.2px,#423392 35.2px 35.9px,#67289c 35.9px 36.6px,#4a3095 36.6px 38.1px,#73259e 38.1px 39.6px,#84289c 39.6px 40.5px,#4b3096 40.5px 41.8px,#473194 41.8px 42.4px,#433393 42.4px 43.4px,#403491 43.4px 44.7px,#423392 44.7px 45.6px,#4a3095 45.6px 47px,#78249f 47px 48.5px,#3f3491 48.5px 49.3px,#473194 49.3px 50.6px,#582b9a 50.6px 51.5px,#473194 51.5px 52.3px,#443393 52.3px 53.3px,#4a3095 53.3px 54.4px,#4f2e97 54.4px 55.9px,#493195 55.9px 57.2px,#4b3096 57.2px 57.8px,#7a249f 57.8px 58.5px,#532d99 58.5px 60.1px,#483195 60.1px 61.2px,#3e3590 61.2px 62.4px,#4f2e98 62.4px 63.4px,#473194 63.4px 64.8px,#4b3096 64.8px 66px,#3d3590 66px 68px,#423392 68px 69.4px,#483194 69.4px 70.2px,#512e98 70.2px 70.9px,#67289c 70.9px 72.1px,#4d2f97 72.1px 73.6px,#3e3590 73.6px 74.5px,#423392 74.5px 75.4px,#902d98 75.4px 76.1px,#532d99 76.1px 77.3px,#3d3590 77.3px 79.4px,#522d99 79.4px 80.6px,#3d3590 80.6px 81.7px,#493095 81.7px 82.4px,#463294 82.4px 83.5px,#4e2f97 83.5px 83.9px)"></div><div style="left:87.2px;top:389.4px;width:17.8px;height:83.9px;background:linear-gradient(#4e2e97 0px 0.7px,#4d2f97 0.7px 2.1px,#5a2b9b 2.1px 3px,#4a3095 3px 3.7px,#473194 3.7px 4.4px,#522d99 4.4px 5.6px,#4c2f96 5.6px 6.7px,#9c3195 6.7px 8.1px,#3d3590 8.1px 9.5px,#84289c 9.5px 10.1px,#64299c 10.1px 11.6px,#423392 11.6px 13.1px,#453293 13.1px 14.6px,#b63e8b 14.6px 16px,#942e97 16px 17px,#4d2f97 17px 17.8px,#3e3590 17.8px 19.4px,#ad388f 19.4px 20.4px,#a03394 20.4px 21.5px,#512d98 21.5px 22.8px,#3d3590 22.8px 24px,#a13393 24px 25.3px,#4a3095 25.3px 26.6px,#66289c 26.6px 27.7px,#4b3096 27.7px 29px,#423392 29px 30px,#493095 30px 30.9px,#67289c 30.9px 32.4px,#6d279d 32.4px 33.9px,#3d3590 33.9px 35.2px,#443393 35.2px 35.9px,#63299c 35.9px 36.6px,#453293 36.6px 38.1px,#71269e 38.1px 39.6px,#8a2a9a 39.6px 40.5px,#483194 40.5px 41.8px,#3f3491 41.8px 42.4px,#453293 42.4px 43.4px,#463294 43.4px 44.7px,#4e2f97 44.7px 45.6px,#502e98 45.6px 47px,#76259e 47px 48.5px,#473194 48.5px 49.3px,#413392 49.3px 50.6px,#542c9a 50.6px 51.5px,#443293 51.5px 52.3px,#4c2f96 52.3px 53.3px,#4f2e98 53.3px 54.4px,#473194 54.4px 55.9px,#522d99 55.9px 57.2px,#502e98 57.2px 57.8px,#8e2c99 57.8px 58.5px,#572c9a 58.5px 60.1px,#423392 60.1px 61.2px,#3e3590 61.2px 62.4px,#4f2e98 62.4px 63.4px,#4e2f97 63.4px 64.8px,#403491 64.8px 66px,#3d3590 66px 68px,#443293 68px 69.4px,#502e98 69.4px 70.2px,#4d2f97 70.2px 70.9px,#6e279d 70.9px 72.1px,#552c9a 72.1px 73.6px,#3f3491 73.6px 74.5px,#4a3095 74.5px 75.4px,#81279d 75.4px 76.1px,#502e98 76.1px 77.3px,#3e3590 77.3px 78.7px,#3d3590 78.7px 79.4px,#572c9a 79.4px 80.6px,#3d3590 80.6px 81.7px,#473194 81.7px 82.4px,#423392 82.4px 83.5px,#4f2e97 83.5px 83.9px)"></div><div style="left:108.3px;top:389.4px;width:17.5px;height:83.9px;background:linear-gradient(#493095 0px 0.7px,#473194 0.7px 2.1px,#602a9b 2.1px 3px,#473194 3px 3.7px,#413492 3.7px 4.4px,#502e98 4.4px 5.6px,#443293 5.6px 6.7px,#ac3890 6.7px 8.1px,#3d3590 8.1px 9.5px,#7f269e 9.5px 10.1px,#4f2e98 10.1px 11.6px,#3f3491 11.6px 13.1px,#4b3096 13.1px 14.6px,#9b3195 14.6px 16px,#952f97 16px 17px,#403491 17px 17.8px,#3d3590 17.8px 19.4px,#b13a8e 19.4px 20.4px,#932e97 20.4px 21.5px,#433392 21.5px 22.8px,#3d3590 22.8px 24px,#84289c 24px 25.3px,#443293 25.3px 26.6px,#572b9a 26.6px 27.7px,#463194 27.7px 29px,#4e2e97 29px 30px,#3e3590 30px 30.9px,#602a9c 30.9px 32.4px,#61299c 32.4px 33.9px,#3d3590 33.9px 35.9px,#63299c 35.9px 36.6px,#423392 36.6px 38.1px,#70269e 38.1px 39.6px,#952e97 39.6px 40.5px,#443293 40.5px 41.8px,#413392 41.8px 42.4px,#3d3590 42.4px 43.4px,#433393 43.4px 44.7px,#3d3590 44.7px 45.6px,#4b3096 45.6px 47px,#75259e 47px 48.5px,#3d3590 48.5px 49.3px,#4a3095 49.3px 50.6px,#592b9b 50.6px 51.5px,#4c2f96 51.5px 52.3px,#3e3590 52.3px 53.3px,#483195 53.3px 54.4px,#463294 54.4px 55.9px,#4e2f97 55.9px 57.2px,#443293 57.2px 57.8px,#86299b 57.8px 58.5px,#532d99 58.5px 60.1px,#433393 60.1px 61.2px,#3d3590 61.2px 62.4px,#512e98 62.4px 63.4px,#483195 63.4px 64.8px,#3d3590 64.8px 68px,#483195 68px 69.4px,#483194 69.4px 70.2px,#483195 70.2px 70.9px,#5f2a9b 70.9px 72.1px,#4e2f97 72.1px 73.6px,#3d3590 73.6px 74.5px,#413492 74.5px 75.4px,#7b249f 75.4px 76.1px,#512d99 76.1px 77.3px,#3d3590 77.3px 79.4px,#502e98 79.4px 80.6px,#3d3590 80.6px 81.7px,#443293 81.7px 82.4px,#3f3491 82.4px 83.5px,#4c2f96 83.5px 83.9px)"></div><div style="left:129.5px;top:389.4px;width:17.4px;height:83.9px;background:linear-gradient(#512e98 0px 0.7px,#483195 0.7px 2.1px,#6a279d 2.1px 3px,#413392 3px 3.7px,#4f2e97 3.7px 4.4px,#532d99 4.4px 6.7px,#a63592 6.7px 8.1px,#3d3590 8.1px 9.5px,#8d2b99 9.5px 10.1px,#5c2b9b 10.1px 11.6px,#453293 11.6px 13.1px,#493095 13.1px 14.6px,#b0398f 14.6px 16px,#a13393 16px 17px,#3f3491 17px 17.8px,#423392 17.8px 19.4px,#b1398e 19.4px 20.4px,#922e98 20.4px 21.5px,#512d99 21.5px 22.8px,#3d3590 22.8px 24px,#902c98 24px 25.3px,#443293 25.3px 26.6px,#5d2a9b 26.6px 27.7px,#4f2e97 27.7px 29px,#483195 29px 30px,#423392 30px 30.9px,#5c2b9b 30.9px 32.4px,#582b9a 32.4px 33.9px,#3d3590 33.9px 35.2px,#443293 35.2px 35.9px,#6b279d 35.9px 36.6px,#443293 36.6px 38.1px,#74259e 38.1px 39.6px,#972f96 39.6px 40.5px,#473194 40.5px 41.8px,#483195 41.8px 42.4px,#4d2f97 42.4px 43.4px,#473194 43.4px 45.6px,#4b3096 45.6px 47px,#79249f 47px 48.5px,#3e3590 48.5px 49.3px,#463294 49.3px 50.6px,#5e2a9b 50.6px 51.5px,#542c9a 51.5px 52.3px,#4b3096 52.3px 53.3px,#502e98 53.3px 54.4px,#4c3096 54.4px 55.9px,#502e98 55.9px 57.2px,#4b3096 57.2px 57.8px,#902c98 57.8px 58.5px,#522d99 58.5px 60.1px,#493195 60.1px 61.2px,#3d3590 61.2px 62.4px,#483194 62.4px 63.4px,#463194 63.4px 64.8px,#3d3590 64.8px 68px,#473194 68px 69.4px,#4d2f97 69.4px 70.2px,#512e98 70.2px 70.9px,#70269e 70.9px 72.1px,#4c2f96 72.1px 73.6px,#423392 73.6px 74.5px,#483195 74.5px 75.4px,#892a9a 75.4px 76.1px,#542c9a 76.1px 77.3px,#3d3590 77.3px 79.4px,#502e98 79.4px 80.6px,#3d3590 80.6px 81.7px,#443293 81.7px 82.4px,#413491 82.4px 83.5px,#4e2e97 83.5px 83.9px)"></div><div style="left:150.5px;top:389.4px;width:17.8px;height:83.9px;background:linear-gradient(#4f2e97 0px 0.7px,#4a3096 0.7px 2.1px,#6e279d 2.1px 3px,#413392 3px 3.7px,#443293 3.7px 4.4px,#4f2e98 4.4px 5.6px,#493195 5.6px 6.7px,#9d3294 6.7px 8.1px,#3d3590 8.1px 9.5px,#77259f 9.5px 10.1px,#522d99 10.1px 11.6px,#433392 11.6px 13.1px,#4d2f97 13.1px 14.6px,#a33492 14.6px 16px,#a03394 16px 17px,#403491 17px 17.8px,#3d3590 17.8px 19.4px,#a83691 19.4px 20.4px,#8e2c99 20.4px 21.5px,#4f2e97 21.5px 22.8px,#3d3590 22.8px 24px,#9b3195 24px 25.3px,#443293 25.3px 26.6px,#562c9a 26.6px 27.7px,#4d2f96 27.7px 29px,#483194 29px 30px,#453293 30px 30.9px,#532d99 30.9px 32.4px,#5d2a9b 32.4px 33.9px,#3d3590 33.9px 35.2px,#483195 35.2px 35.9px,#5e2a9b 35.9px 36.6px,#443293 36.6px 38.1px,#66289c 38.1px 39.6px,#86299b 39.6px 40.5px,#403491 40.5px 41.8px,#493095 41.8px 42.4px,#403491 42.4px 43.4px,#453293 43.4px 44.7px,#3e3590 44.7px 45.6px,#473194 45.6px 47px,#7d259e 47px 48.5px,#3e3590 48.5px 49.3px,#3d3590 49.3px 50.6px,#552c9a 50.6px 51.5px,#443293 51.5px 52.3px,#413392 52.3px 53.3px,#4e2f97 53.3px 54.4px,#453293 54.4px 55.9px,#532d99 55.9px 57.2px,#463294 57.2px 57.8px,#902d98 57.8px 58.5px,#582b9a 58.5px 60.1px,#403491 60.1px 61.2px,#3d3590 61.2px 62.4px,#483195 62.4px 64.8px,#453293 64.8px 66px,#3d3590 66px 68px,#3f3491 68px 69.4px,#453294 69.4px 70.2px,#423392 70.2px 70.9px,#70269e 70.9px 72.1px,#4b3096 72.1px 73.6px,#3d3590 73.6px 74.5px,#413492 74.5px 75.4px,#8c2b9a 75.4px 76.1px,#473194 76.1px 77.3px,#3d3590 77.3px 79.4px,#4c2f96 79.4px 80.6px,#3d3590 80.6px 81.7px,#453293 81.7px 82.4px,#3d3590 82.4px 83.5px,#473194 83.5px 83.9px)"></div><div style="left:171.8px;top:389.4px;width:17.6px;height:83.9px;background:linear-gradient(#4d2f97 0px 0.7px,#483195 0.7px 2.1px,#68289d 2.1px 3px,#423392 3px 3.7px,#463294 3.7px 4.4px,#4e2f97 4.4px 5.6px,#502e98 5.6px 6.7px,#a83691 6.7px 8.1px,#3d3590 8.1px 9.5px,#69289d 9.5px 10.1px,#5a2b9b 10.1px 11.6px,#443293 11.6px 13.1px,#423392 13.1px 14.6px,#902d98 14.6px 16px,#8a2a9a 16px 17px,#463294 17px 17.8px,#3d3590 17.8px 19.4px,#aa3790 19.4px 20.4px,#912d98 20.4px 21.5px,#4c2f96 21.5px 22.8px,#3d3590 22.8px 24px,#8a2a9a 24px 25.3px,#463294 25.3px 26.6px,#61299c 26.6px 27.7px,#4d2f97 27.7px 29px,#453293 29px 30px,#3f3491 30px 30.9px,#572c9a 30.9px 32.4px,#5e2a9b 32.4px 33.9px,#3d3590 33.9px 35.2px,#413392 35.2px 35.9px,#62299c 35.9px 36.6px,#453293 36.6px 38.1px,#71269e 38.1px 39.6px,#8f2c99 39.6px 40.5px,#423392 40.5px 41.8px,#443293 41.8px 42.4px,#4a3096 42.4px 43.4px,#3e3590 43.4px 44.7px,#3f3491 44.7px 45.6px,#4e2f97 45.6px 47px,#73269e 47px 48.5px,#3f3491 48.5px 49.3px,#3e3590 49.3px 50.6px,#552c9a 50.6px 51.5px,#4d2f96 51.5px 52.3px,#483195 52.3px 53.3px,#4a3095 53.3px 54.4px,#4c2f96 54.4px 55.9px,#4b3096 55.9px 57.2px,#493095 57.2px 57.8px,#7c259e 57.8px 58.5px,#522d99 58.5px 60.1px,#453293 60.1px 61.2px,#423392 61.2px 62.4px,#483194 62.4px 63.4px,#4c2f96 63.4px 64.8px,#3e3591 64.8px 66px,#3d3590 66px 68px,#3f3491 68px 69.4px,#493195 69.4px 70.2px,#4a3096 70.2px 70.9px,#62299c 70.9px 72.1px,#4d2f97 72.1px 73.6px,#3d3590 73.6px 74.5px,#433393 74.5px 75.4px,#76259e 75.4px 76.1px,#4f2e98 76.1px 77.3px,#3d3590 77.3px 79.4px,#4d2f97 79.4px 80.6px,#3d3590 80.6px 83.5px,#463294 83.5px 83.9px)"></div><div style="left:65.7px;top:477.2px;width:18.2px;height:33.3px;background:linear-gradient(#a13393 0px 0.9px,#b23a8e 0.9px 1.7px,#78259f 1.7px 3.1px,#70269e 3.1px 4.7px,#75259e 4.7px 6px,#a03393 6px 6.9px,#63299c 6.9px 8.5px,#6f269d 8.5px 9.3px,#75259e 9.3px 10.4px,#62299c 10.4px 11.5px,#7c259e 11.5px 12.6px,#8a2a9a 12.6px 14px,#83289c 14px 14.6px,#973096 14.6px 15.8px,#7e269e 15.8px 17.2px,#67289c 17.2px 17.8px,#542c9a 17.8px 19px,#a23493 19px 20px,#6c279d 20px 21px,#70269e 21px 22.2px,#532d99 22.2px 23.4px,#6c279d 23.4px 24.7px,#72269e 24.7px 26.2px,#433392 26.2px 27.4px,#c34882 27.4px 29px,#483194 29px 30.3px,#473194 30.3px 31.2px,#4c2f96 31.2px 31.9px,#84289c 31.9px 32.6px,#65299c 32.6px 33.3px)"></div><div style="left:87.2px;top:477.2px;width:17.8px;height:33.3px;background:linear-gradient(#9a3195 0px 0.9px,#b53d8c 0.9px 1.7px,#7b259f 1.7px 3.1px,#7c259e 3.1px 3.8px,#6a279d 3.8px 4.7px,#7b249f 4.7px 6px,#8a2a9a 6px 6.9px,#63299c 6.9px 8.5px,#6e279d 8.5px 9.3px,#73269e 9.3px 10.4px,#72269e 10.4px 11.5px,#64299c 11.5px 12.6px,#7b249f 12.6px 14px,#6f269e 14px 14.6px,#8f2c99 14.6px 15.8px,#79249f 15.8px 17.2px,#5b2b9b 17.2px 17.8px,#522d99 17.8px 19px,#9b3195 19px 20px,#72269e 20px 21px,#62299c 21px 22.2px,#4f2e98 22.2px 23.4px,#79249f 23.4px 24.7px,#64299c 24.7px 26.2px,#413492 26.2px 27.4px,#c14783 27.4px 29px,#512e98 29px 30.3px,#433393 30.3px 31.2px,#4f2e97 31.2px 31.9px,#81279d 31.9px 32.6px,#6f269d 32.6px 33.3px)"></div><div style="left:108.3px;top:477.2px;width:17.5px;height:33.3px;background:linear-gradient(#78249f 0px 0.9px,#ab3790 0.9px 1.7px,#6a289d 1.7px 3.1px,#6d279d 3.1px 3.8px,#66289c 3.8px 4.7px,#69289d 4.7px 6px,#76259e 6px 6.9px,#552c9a 6.9px 8.5px,#65299c 8.5px 9.3px,#6b279d 9.3px 10.4px,#5e2a9b 10.4px 11.5px,#70269e 11.5px 12.6px,#71269e 12.6px 14px,#6e279d 14px 14.6px,#78249f 14.6px 15.8px,#6a279d 15.8px 17.2px,#502e98 17.2px 17.8px,#4f2e98 17.8px 19px,#77259f 19px 20px,#63299c 20px 21px,#532d99 21px 22.2px,#4d2f96 22.2px 23.4px,#5b2b9b 23.4px 24.7px,#66289c 24.7px 26.2px,#3d3590 26.2px 27.4px,#9e3294 27.4px 29px,#493095 29px 30.3px,#3d3590 30.3px 31.2px,#483195 31.2px 31.9px,#6e279d 31.9px 32.6px,#562c9a 32.6px 33.3px)"></div><div style="left:129.5px;top:477.2px;width:17.4px;height:33.3px;background:linear-gradient(#87299b 0px 0.9px,#bf4584 0.9px 1.7px,#78249f 1.7px 3.1px,#7c259e 3.1px 3.8px,#602a9b 3.8px 4.7px,#70269e 4.7px 6px,#84289c 6px 6.9px,#5b2b9b 6.9px 8.5px,#6f269e 8.5px 9.3px,#7a249f 9.3px 10.4px,#6b279d 10.4px 11.5px,#71269e 11.5px 12.6px,#932e97 12.6px 14px,#76259e 14px 14.6px,#972f96 14.6px 15.8px,#79249f 15.8px 17.2px,#502e98 17.2px 17.8px,#512d98 17.8px 19px,#a13393 19px 20px,#72269e 20px 21px,#69289d 21px 22.2px,#522d99 22.2px 23.4px,#69289d 23.4px 24.7px,#79249f 24.7px 26.2px,#403491 26.2px 27.4px,#ae398f 27.4px 29px,#423392 29px 30.3px,#443293 30.3px 31.2px,#473194 31.2px 31.9px,#6e279d 31.9px 32.6px,#6c279d 32.6px 33.3px)"></div><div style="left:150.5px;top:477.2px;width:17.8px;height:33.3px;background:linear-gradient(#86299b 0px 0.9px,#922d98 0.9px 1.7px,#6d279d 1.7px 3.1px,#69289d 3.1px 3.8px,#592b9b 3.8px 4.7px,#70269e 4.7px 6px,#75259e 6px 6.9px,#4e2f97 6.9px 8.5px,#532d99 8.5px 9.3px,#602a9c 9.3px 10.4px,#62299c 10.4px 11.5px,#592b9b 11.5px 12.6px,#70269e 12.6px 14px,#63299c 14px 14.6px,#7f269e 14.6px 15.8px,#68289d 15.8px 17.2px,#532d99 17.2px 17.8px,#463294 17.8px 19px,#75259e 19px 20px,#63299c 20px 21px,#5c2b9b 21px 22.2px,#473194 22.2px 23.4px,#5f2a9b 23.4px 24.7px,#6f269d 24.7px 26.2px,#3d3590 26.2px 27.4px,#a23493 27.4px 29px,#4b3096 29px 30.3px,#3d3590 30.3px 31.2px,#423392 31.2px 31.9px,#64299c 31.9px 32.6px,#5b2b9b 32.6px 33.3px)"></div><div style="left:171.8px;top:477.2px;width:17.6px;height:33.3px;background:linear-gradient(#8c2b9a 0px 0.9px,#aa3791 0.9px 1.7px,#6d279d 1.7px 3.1px,#73259e 3.1px 3.8px,#68289d 3.8px 6px,#892a9b 6px 6.9px,#572b9a 6.9px 8.5px,#63299c 8.5px 9.3px,#6b279d 9.3px 10.4px,#5d2a9b 10.4px 11.5px,#64299c 11.5px 12.6px,#71269e 12.6px 14px,#6d279d 14px 14.6px,#7f269e 14.6px 15.8px,#71269e 15.8px 17.2px,#4e2e97 17.2px 17.8px,#4a3096 17.8px 19px,#7c259e 19px 20px,#64299c 20px 22.2px,#4c2f96 22.2px 23.4px,#65299c 23.4px 24.7px,#61299c 24.7px 26.2px,#3d3590 26.2px 27.4px,#993096 27.4px 29px,#463194 29px 30.3px,#3e3590 30.3px 31.2px,#4b3096 31.2px 31.9px,#70269e 31.9px 32.6px,#5c2b9b 32.6px 33.3px)"></div><div style="left:65.7px;top:514.7px;width:18.2px;height:27.4px;background:linear-gradient(#f2a443 0px 1.6px,#f09a48 1.6px 2.6px,#ea8557 2.6px 3.2px,#f19d46 3.2px 4.6px,#ec8c52 4.6px 5.5px,#f4b53e 5.5px 6.9px,#e9815a 6.9px 7.5px,#eb8955 7.5px 8.1px,#ee934d 8.1px 9.3px,#ef974b 9.3px 10.6px,#f3a941 10.6px 11.8px,#f4b23f 11.8px 12.9px,#e16e66 12.9px 14.1px,#df6b68 14.1px 14.8px,#de676a 14.8px 15.5px,#e17065 15.5px 16.4px,#ee934d 16.4px 17.6px,#ec8b53 17.6px 18.4px,#ea8657 18.4px 19.2px,#ed8f50 19.2px 20.3px,#c94e7d 20.3px 21.3px,#de676a 21.3px 22.1px,#d95d70 22.1px 23.7px,#cb4f7b 23.7px 25.2px,#e98359 25.2px 25.9px,#de6969 25.9px 26.9px,#ed8e51 26.9px 27.4px)"></div><div style="left:87.2px;top:514.7px;width:17.8px;height:27.4px;background:linear-gradient(#f09949 0px 1.6px,#f0984a 1.6px 2.6px,#e87f5b 2.6px 3.2px,#f2a044 3.2px 4.6px,#eb8756 4.6px 5.5px,#f3b03f 5.5px 6.9px,#e87f5b 6.9px 7.5px,#ed8e51 7.5px 8.1px,#ec8c52 8.1px 9.3px,#ef964b 9.3px 10.6px,#f2a243 10.6px 11.8px,#f3ad40 11.8px 12.9px,#da5d70 12.9px 14.1px,#df6b68 14.1px 14.8px,#e06c67 14.8px 15.5px,#e5795f 15.5px 16.4px,#eb8855 16.4px 17.6px,#ec8a54 17.6px 18.4px,#e77c5d 18.4px 19.2px,#ef964b 19.2px 20.3px,#d75973 20.3px 21.3px,#e16e66 21.3px 22.1px,#d75973 22.1px 23.7px,#ca4e7c 23.7px 25.2px,#e98259 25.2px 25.9px,#df6a68 25.9px 26.9px,#f19d46 26.9px 27.4px)"></div><div style="left:108.3px;top:514.7px;width:17.5px;height:27.4px;background:linear-gradient(#f09a48 0px 1.6px,#f2a044 1.6px 2.6px,#eb8756 2.6px 3.2px,#f0984a 3.2px 4.6px,#eb8954 4.6px 5.5px,#f5bd3b 5.5px 6.9px,#e9805b 6.9px 7.5px,#ef944c 7.5px 8.1px,#ef954b 8.1px 9.3px,#ec8b53 9.3px 10.6px,#f3a941 10.6px 11.8px,#f3a842 11.8px 12.9px,#df6b67 12.9px 14.1px,#e5795f 14.1px 14.8px,#e57760 14.8px 15.5px,#e87e5c 15.5px 16.4px,#ee934e 16.4px 17.6px,#ef974b 17.6px 18.4px,#e67a5f 18.4px 19.2px,#ec8a54 19.2px 20.3px,#dc626d 20.3px 21.3px,#db616e 21.3px 22.1px,#dc636c 22.1px 23.7px,#cb4f7b 23.7px 25.2px,#e47661 25.2px 25.9px,#d45675 25.9px 26.9px,#f2a144 26.9px 27.4px)"></div><div style="left:129.5px;top:514.7px;width:17.4px;height:27.4px;background:linear-gradient(#ef964b 0px 1.6px,#ee914f 1.6px 2.6px,#e67a5e 2.6px 3.2px,#ee924e 3.2px 4.6px,#eb8855 4.6px 5.5px,#f3ad40 5.5px 6.9px,#ee934d 6.9px 7.5px,#ee914e 7.5px 8.1px,#ed8e51 8.1px 9.3px,#eb8855 9.3px 10.6px,#f3a642 10.6px 11.8px,#f2a144 11.8px 12.9px,#e06d66 12.9px 14.1px,#e37462 14.1px 14.8px,#de6869 14.8px 15.5px,#e5785f 15.5px 16.4px,#ed8f50 16.4px 17.6px,#ea8557 17.6px 18.4px,#e9815a 18.4px 19.2px,#ea8358 19.2px 20.3px,#c64b7f 20.3px 21.3px,#dd656b 21.3px 22.1px,#db616e 22.1px 23.7px,#cd517a 23.7px 25.2px,#ea8657 25.2px 25.9px,#de6869 25.9px 26.9px,#f19b47 26.9px 27.4px)"></div><div style="left:150.5px;top:514.7px;width:17.8px;height:27.4px;background:linear-gradient(#f19c47 0px 1.6px,#f09a48 1.6px 2.6px,#e16e66 2.6px 3.2px,#f19b47 3.2px 4.6px,#eb8954 4.6px 5.5px,#f2a144 5.5px 6.9px,#ea8458 6.9px 7.5px,#ec8a54 7.5px 8.1px,#ec8d52 8.1px 9.3px,#f09949 9.3px 10.6px,#ef964b 10.6px 11.8px,#f3ab41 11.8px 12.9px,#e57760 12.9px 14.1px,#e77d5c 14.1px 14.8px,#e37362 14.8px 15.5px,#e67a5e 15.5px 16.4px,#eb8954 16.4px 17.6px,#eb8855 17.6px 18.4px,#e9815a 18.4px 19.2px,#ee924e 19.2px 20.3px,#ca4e7d 20.3px 21.3px,#dd656b 21.3px 22.1px,#df6969 22.1px 23.7px,#be4485 23.7px 25.2px,#e77c5d 25.2px 25.9px,#e37462 25.9px 26.9px,#f3ab41 26.9px 27.4px)"></div><div style="left:171.8px;top:514.7px;width:17.6px;height:27.4px;background:linear-gradient(#f2a044 0px 1.6px,#f3a742 1.6px 2.6px,#e87f5b 2.6px 3.2px,#f09949 3.2px 4.6px,#ea8656 4.6px 5.5px,#f4bb3c 5.5px 6.9px,#eb8756 6.9px 7.5px,#f2a144 7.5px 8.1px,#ed904f 8.1px 9.3px,#f0984a 9.3px 10.6px,#f29f45 10.6px 11.8px,#f5bf3b 11.8px 12.9px,#df6a68 12.9px 14.1px,#e67b5e 14.1px 14.8px,#d95c71 14.8px 15.5px,#ea8657 15.5px 16.4px,#f19e45 16.4px 17.6px,#ee914f 17.6px 18.4px,#e98359 18.4px 19.2px,#ee944d 19.2px 20.3px,#da5e6f 20.3px 21.3px,#e16f65 21.3px 22.1px,#e77c5d 22.1px 23.7px,#cf5379 23.7px 25.2px,#e9805a 25.2px 25.9px,#df6969 25.9px 26.9px,#ed8f50 26.9px 27.4px)"></div><div style="left:65.7px;top:546.4px;width:18.2px;height:38.1px;background:linear-gradient(#5b2b9b 0px 1.3px,#79249f 1.3px 2.6px,#71269e 2.6px 3.5px,#512e98 3.5px 4.2px,#6b279d 4.2px 4.8px,#79249f 4.8px 5.6px,#552c9a 5.6px 6.5px,#8b2b9a 6.5px 7.3px,#68289d 7.3px 8px,#912d98 8px 8.7px,#84289c 8.7px 9.7px,#6f269e 9.7px 10.4px,#532d99 10.4px 11.2px,#572c9a 11.2px 12.2px,#a13393 12.2px 13.7px,#65289c 13.7px 15.1px,#3e3590 15.1px 16.1px,#72269e 16.1px 16.9px,#443293 16.9px 17.7px,#b23a8e 17.7px 19px,#74259e 19px 20px,#532d99 20px 21.2px,#443393 21.2px 22.5px,#c54a80 22.5px 23.8px,#582b9a 23.8px 25.2px,#bc4386 25.2px 25.9px,#3d3590 25.9px 26.8px,#6a279d 26.8px 27.5px,#64299c 27.5px 28.6px,#69289d 28.6px 29.8px,#62299c 29.8px 30.7px,#4f2e97 30.7px 31.3px,#512d98 31.3px 32.4px,#c14683 32.4px 33.1px,#542c99 33.1px 33.9px,#76259e 33.9px 34.9px,#502e98 34.9px 36.5px,#79249f 36.5px 37.4px,#5d2a9b 37.4px 38.1px)"></div><div style="left:87.2px;top:546.4px;width:17.8px;height:38.1px;background:linear-gradient(#542c9a 0px 1.3px,#5d2a9b 1.3px 2.6px,#73269e 2.6px 3.5px,#532d99 3.5px 4.2px,#6b279d 4.2px 4.8px,#74259e 4.8px 5.6px,#572c9a 5.6px 6.5px,#8b2b9a 6.5px 7.3px,#5e2a9b 7.3px 8px,#902c98 8px 8.7px,#73269e 8.7px 9.7px,#62299c 9.7px 10.4px,#582b9a 10.4px 11.2px,#5f2a9b 11.2px 12.2px,#ab3790 12.2px 13.7px,#67289c 13.7px 15.1px,#3f3491 15.1px 16.1px,#62299c 16.1px 16.9px,#3d3590 16.9px 17.7px,#b63d8b 17.7px 19px,#7c259e 19px 20px,#562c9a 20px 21.2px,#493195 21.2px 22.5px,#bb4287 22.5px 23.8px,#4f2e97 23.8px 25.2px,#b73e8b 25.2px 25.9px,#3d3590 25.9px 26.8px,#68289d 26.8px 27.5px,#542c9a 27.5px 28.6px,#572c9a 28.6px 29.8px,#70269e 29.8px 30.7px,#522d99 30.7px 31.3px,#4c2f96 31.3px 32.4px,#af398f 32.4px 33.1px,#552c9a 33.1px 33.9px,#75259e 33.9px 34.9px,#4c2f96 34.9px 36.5px,#6a289d 36.5px 37.4px,#502e98 37.4px 38.1px)"></div><div style="left:108.3px;top:546.4px;width:17.5px;height:38.1px;background:linear-gradient(#4c2f96 0px 1.3px,#5d2a9b 1.3px 2.6px,#6d279d 2.6px 3.5px,#493195 3.5px 4.2px,#68289d 4.2px 4.8px,#72269e 4.8px 5.6px,#582b9a 5.6px 6.5px,#86299b 6.5px 7.3px,#64299c 7.3px 8px,#962f96 8px 8.7px,#79249f 8.7px 9.7px,#69289d 9.7px 10.4px,#502e98 10.4px 11.2px,#552c9a 11.2px 12.2px,#a53592 12.2px 13.7px,#61299c 13.7px 15.1px,#3d3590 15.1px 16.1px,#6f269e 16.1px 16.9px,#3d3590 16.9px 17.7px,#b23a8e 17.7px 19px,#74259e 19px 20px,#4e2f97 20px 21.2px,#483195 21.2px 22.5px,#c24882 22.5px 23.8px,#532d99 23.8px 25.2px,#a83691 25.2px 25.9px,#3d3590 25.9px 26.8px,#66289c 26.8px 27.5px,#63299c 27.5px 28.6px,#5f2a9b 28.6px 29.8px,#602a9c 29.8px 30.7px,#4c2f96 30.7px 31.3px,#4a3096 31.3px 32.4px,#b23a8e 32.4px 33.1px,#552c9a 33.1px 33.9px,#7c259e 33.9px 34.9px,#473194 34.9px 36.5px,#6c279d 36.5px 37.4px,#592b9a 37.4px 38.1px)"></div><div style="left:129.5px;top:546.4px;width:17.4px;height:38.1px;background:linear-gradient(#522d99 0px 1.3px,#5f2a9b 1.3px 2.6px,#69289d 2.6px 3.5px,#512e98 3.5px 4.2px,#78249f 4.2px 4.8px,#69289d 4.8px 5.6px,#68289d 5.6px 6.5px,#8f2c99 6.5px 7.3px,#6f269e 7.3px 8px,#a03393 8px 8.7px,#81279d 8.7px 9.7px,#6c279d 9.7px 10.4px,#5c2b9b 10.4px 11.2px,#5b2b9b 11.2px 12.2px,#a63592 12.2px 13.7px,#72269e 13.7px 15.1px,#3f3491 15.1px 16.1px,#7c259e 16.1px 16.9px,#3d3590 16.9px 17.7px,#ae388f 17.7px 19px,#80269d 19px 20px,#4d2f96 20px 21.2px,#493195 21.2px 22.5px,#d45775 22.5px 23.8px,#582b9a 23.8px 25.2px,#ab3790 25.2px 25.9px,#413492 25.9px 26.8px,#73259e 26.8px 27.5px,#61299c 27.5px 29.8px,#6c279d 29.8px 30.7px,#4d2f97 30.7px 31.3px,#4e2e97 31.3px 32.4px,#bd4386 32.4px 33.1px,#592b9b 33.1px 33.9px,#7f269d 33.9px 34.9px,#502e98 34.9px 36.5px,#5c2a9b 36.5px 37.4px,#592b9b 37.4px 38.1px)"></div><div style="left:150.5px;top:546.4px;width:17.8px;height:38.1px;background:linear-gradient(#532d99 0px 1.3px,#5d2a9b 1.3px 2.6px,#68289d 2.6px 3.5px,#4a3095 3.5px 4.2px,#76259e 4.2px 4.8px,#69289d 4.8px 5.6px,#5f2a9b 5.6px 6.5px,#892a9b 6.5px 7.3px,#592b9b 7.3px 8px,#a23493 8px 8.7px,#63299c 8.7px 9.7px,#5e2a9b 9.7px 10.4px,#542d99 10.4px 11.2px,#542c9a 11.2px 12.2px,#ad388f 12.2px 13.7px,#68289d 13.7px 15.1px,#3d3590 15.1px 16.1px,#77259f 16.1px 16.9px,#3e3491 16.9px 17.7px,#a73691 17.7px 19px,#6c279d 19px 20px,#4b3096 20px 21.2px,#493195 21.2px 22.5px,#c34881 22.5px 23.8px,#4e2f97 23.8px 25.2px,#a53592 25.2px 25.9px,#3d3590 25.9px 26.8px,#5d2a9b 26.8px 27.5px,#552c9a 27.5px 28.6px,#582b9a 28.6px 29.8px,#61299c 29.8px 30.7px,#4e2f97 30.7px 31.3px,#4b3096 31.3px 32.4px,#aa3790 32.4px 33.1px,#5f2a9b 33.1px 33.9px,#72269e 33.9px 34.9px,#532d99 34.9px 36.5px,#66289c 36.5px 37.4px,#5c2b9b 37.4px 38.1px)"></div><div style="left:171.8px;top:546.4px;width:17.6px;height:38.1px;background:linear-gradient(#552c9a 0px 1.3px,#62299c 1.3px 2.6px,#76259e 2.6px 3.5px,#4d2f97 3.5px 4.2px,#6f269d 4.2px 4.8px,#6d279d 4.8px 5.6px,#4b3096 5.6px 6.5px,#7e269e 6.5px 7.3px,#61299c 7.3px 8px,#9b3195 8px 8.7px,#6f269e 8.7px 9.7px,#6b279d 9.7px 10.4px,#582b9a 10.4px 11.2px,#542c9a 11.2px 12.2px,#b33b8d 12.2px 13.7px,#74259e 13.7px 15.1px,#3d3590 15.1px 16.1px,#63299c 16.1px 16.9px,#453293 16.9px 17.7px,#a73691 17.7px 19px,#70269e 19px 20px,#4f2e98 20px 21.2px,#443293 21.2px 22.5px,#c74c7f 22.5px 23.8px,#512d98 23.8px 25.2px,#b63d8b 25.2px 25.9px,#3d3590 25.9px 26.8px,#62299c 26.8px 27.5px,#562c9a 27.5px 28.6px,#5f2a9b 28.6px 29.8px,#64299c 29.8px 30.7px,#5b2b9b 30.7px 31.3px,#4c2f96 31.3px 32.4px,#ad3890 32.4px 33.1px,#5b2b9b 33.1px 33.9px,#72269e 33.9px 34.9px,#4e2f97 34.9px 36.5px,#65299c 36.5px 37.4px,#592b9b 37.4px 38.1px)"></div><div style="left:192.9px;top:96.2px;width:14.2px;height:168.3px;background:linear-gradient(#f8e6e6 0px 1.2px,#faf0f1 1.2px 2px,#f8e6e6 2px 2.7px,#dedef0 2.7px 3.3px,#f1eff7 3.3px 4.2px,#f8e1e1 4.2px 5.1px,#f4f2f8 5.1px 6.2px,#f4c8c6 6.2px 7.3px,#faf3f5 7.3px 8.4px,#faf2f4 8.4px 9px,#faf1f3 9px 10.1px,#f4f2f9 10.1px 11px,#faeef0 11px 12.2px,#f8e2e2 12.2px 13.4px,#fbf8fb 13.4px 14px,#fbf5f7 14px 14.8px,#ebe9f5 14.8px 15.8px,#dddcf0 15.8px 17px,#f6d6d5 17px 17.6px,#f7f5fa 17.6px 18.8px,#f8f6fa 18.8px 19.3px,#f9f7fb 19.3px 19.9px,#f8e1e1 19.9px 21.2px,#f7dedd 21.2px 22.4px,#dadaee 22.4px 23.7px,#f3f1f8 23.7px 24.2px,#faf1f3 24.2px 25.4px,#faf7fb 25.4px 26.5px,#ebeaf5 26.5px 27.1px,#f9ecee 27.1px 27.9px,#dfdff1 27.9px 28.6px,#e7e6f3 28.6px 29.5px,#b4b7e0 29.5px 30.7px,#f5f3f9 30.7px 31.9px,#e2e2f2 31.9px 33px,#f6d4d3 33px 34.2px,#f4c7c5 34.2px 34.8px,#b5b8e1 34.8px 35.7px,#edecf6 35.7px 36.2px,#f5cecc 36.2px 37.2px,#f7dad9 37.2px 37.7px,#e2e2f2 37.7px 38.5px,#d7d7ed 38.5px 39.5px,#e7e6f3 39.5px 40.8px,#f8e0e0 40.8px 41.9px,#f9eaeb 41.9px 42.5px,#f0eef7 42.5px 43.2px,#f1eff7 43.2px 44.1px,#dddcf0 44.1px 45.3px,#faf0f2 45.3px 46.3px,#ecebf5 46.3px 47.5px,#ddddf0 47.5px 48.8px,#e3e3f2 48.8px 49.3px,#f5cfcd 49.3px 49.9px,#cacbe9 49.9px 50.8px,#f7dddd 50.8px 51.7px,#f7dbdb 51.7px 52.3px,#faf0f1 52.3px 53.1px,#e9e8f4 53.1px 54.2px,#faf7fb 54.2px 54.8px,#faf0f1 54.8px 55.6px,#faf7fb 55.6px 56.3px,#cacbe8 56.3px 56.9px,#e1e1f1 56.9px 57.5px,#f0eef7 57.5px 58.5px,#dfdff1 58.5px 59px,#faf4f6 59px 59.8px,#f8f6fa 59.8px 60.8px,#f4cac7 60.8px 61.9px,#edebf6 61.9px 63.1px,#f2f1f8 63.1px 64.1px,#f5cecc 64.1px 64.9px,#f8e3e3 64.9px 65.8px,#dcdcf0 65.8px 66.9px,#f9e7e8 66.9px 68px,#e0dff1 68px 68.9px,#faf0f1 68.9px 70px,#f2b8b4 70px 71.1px,#f1f0f7 71.1px 71.6px,#f8e1e1 71.6px 72.6px,#f9ebec 72.6px 73.8px,#f5d0ce 73.8px 74.5px,#eae9f5 74.5px 75px,#fbf8fb 75px 76.3px,#f9e8e9 76.3px 77px,#f0eef7 77px 77.8px,#e9e8f4 77.8px 78.8px,#faf3f5 78.8px 79.3px,#f8e5e5 79.3px 80.1px,#f9ebec 80.1px 80.9px,#e2e2f2 80.9px 81.8px,#fbf4f6 81.8px 82.4px,#fbf8fa 82.4px 83.2px,#f6d5d4 83.2px 84px,#e6e5f3 84px 85.1px,#efeef7 85.1px 85.8px,#f5cdca 85.8px 86.5px,#f1eff7 86.5px 87.3px,#e0dff1 87.3px 88.6px,#edebf6 88.6px 89.6px,#eceaf5 89.6px 90.6px,#ebeaf5 90.6px 91.4px,#f5d0ce 91.4px 91.9px,#e6e5f3 91.9px 92.9px,#d1d1eb 92.9px 94px,#f6d7d6 94px 95.1px,#fbf6f8 95.1px 95.7px,#f9edee 95.7px 96.2px,#fbf5f8 96.2px 96.8px,#faeeef 96.8px 98.1px,#f9e9ea 98.1px 99.1px,#faf4f6 99.1px 100.4px,#cfd0eb 100.4px 101.4px,#faf8fb 101.4px 102.2px,#dfdef0 102.2px 102.7px,#faf3f5 102.7px 103.8px,#faf8fb 103.8px 105px,#f6d4d2 105px 106px,#babde3 106px 106.7px,#e1e0f1 106.7px 107.9px,#dedef0 107.9px 109.1px,#ddddf0 109.1px 109.8px,#f9eced 109.8px 110.9px,#dbdbef 110.9px 112.2px,#ddddf0 112.2px 112.7px,#f9e8e8 112.7px 113.3px,#d8d8ee 113.3px 114px,#cdceea 114px 114.7px,#ddddf0 114.7px 115.6px,#fbf8fb 115.6px 116.6px,#d3d3ec 116.6px 117.1px,#f8f6fa 117.1px 117.9px,#e4e3f2 117.9px 119.2px,#f8e3e3 119.2px 120.1px,#f2f0f8 120.1px 121.4px,#f4c9c6 121.4px 122.4px,#f5f3f9 122.4px 123.1px,#e1e1f1 123.1px 123.6px,#f9f7fa 123.6px 124.9px,#f1f0f7 124.9px 125.5px,#e9e7f4 125.5px 126.1px,#f2b9b4 126.1px 127.3px,#f6d8d7 127.3px 128px,#f7dfde 128px 129px,#f7dede 129px 129.7px,#dedef0 129.7px 130.9px,#e9e8f4 130.9px 131.8px,#d7d8ee 131.8px 132.6px,#f7dddd 132.6px 133.4px,#f4c9c6 133.4px 134.5px,#edecf6 134.5px 135.6px,#f6f4f9 135.6px 136.4px,#edebf6 136.4px 137px,#faf2f4 137px 137.8px,#fbf8fb 137.8px 139px,#faf3f5 139px 139.9px,#faeeef 139.9px 140.9px,#fbf8fa 140.9px 142.1px,#f1eff7 142.1px 143.2px,#f6d7d6 143.2px 144.3px,#faf0f1 144.3px 145px,#e3e2f2 145px 145.7px,#f6d3d2 145.7px 147px,#f6f4f9 147px 147.8px,#f8e2e2 147.8px 149.1px,#f6f4f9 149.1px 150.3px,#f4cac8 150.3px 152.4px,#f9f7fa 152.4px 153.2px,#f4f2f9 153.2px 154.5px,#f0eef7 154.5px 155.6px,#f9edee 155.6px 156.8px,#f9eced 156.8px 157.3px,#9fa4d8 157.3px 158.1px,#c5c6e6 158.1px 159.4px,#dfdef0 159.4px 160px,#f6d4d2 160px 160.9px,#fbf7f9 160.9px 161.7px,#c2c4e5 161.7px 162.2px,#f9f6fa 162.2px 163px,#e3e2f2 163px 163.7px,#ecebf6 163.7px 164.6px,#ddddf0 164.6px 165.7px,#edebf6 165.7px 167px,#dadaef 167px 167.7px,#eae9f5 167.7px 168.3px)"></div><div style="left:222.2px;top:96.2px;width:13.9px;height:168.3px;background:linear-gradient(#fbf9fb 0px 0.8px,#f4c8c5 0.8px 1.7px,#f9ebec 1.7px 2.6px,#f7dad9 2.6px 3.1px,#faf3f5 3.1px 4.4px,#f4cbc9 4.4px 5px,#f7dbda 5px 6px,#faeff0 6px 6.9px,#f3c2bf 6.9px 7.8px,#f8e6e7 7.8px 8.5px,#ed9b93 8.5px 9.1px,#f7dad9 9.1px 9.6px,#f7dcdc 9.6px 10.8px,#f7dcdb 10.8px 11.8px,#f2bbb6 11.8px 12.7px,#f7dbda 12.7px 13.6px,#f9edee 13.6px 14.2px,#f2f0f8 14.2px 15.4px,#f0aea9 15.4px 16.6px,#f2bbb7 16.6px 17.3px,#f1b4af 17.3px 18.6px,#f8e2e2 18.6px 19.6px,#f4f2f8 19.6px 20.8px,#f6d8d7 20.8px 21.5px,#f9f7fa 21.5px 22.5px,#faeef0 22.5px 23.7px,#f2bcb8 23.7px 24.9px,#faf0f1 24.9px 26px,#f1eff7 26px 26.6px,#f7dede 26.6px 27.3px,#e3e3f2 27.3px 28px,#f5d1cf 28px 28.5px,#f8f6fa 28.5px 29.1px,#f2bab5 29.1px 30.1px,#ecebf5 30.1px 31.1px,#f0eff7 31.1px 32px,#faeeef 32px 32.8px,#cbcce9 32.8px 33.9px,#efeef7 33.9px 35.1px,#f8e5e6 35.1px 36.3px,#f5d2d0 36.3px 37.6px,#f9e8e9 37.6px 38.8px,#f6d4d2 38.8px 39.6px,#f7dcdb 39.6px 40.9px,#f8e2e2 40.9px 41.9px,#f8f6fa 41.9px 42.9px,#f9e9ea 42.9px 43.9px,#f4c5c2 43.9px 44.8px,#f4c7c4 44.8px 45.5px,#f5d0ce 45.5px 46.4px,#fbf8fb 46.4px 47.6px,#f2bdb9 47.6px 48.6px,#fbf6f8 48.6px 49.9px,#f8e0e0 49.9px 50.5px,#f0b0aa 50.5px 51.3px,#dedef0 51.3px 52px,#f8e0e0 52px 52.5px,#f4cac8 52.5px 53.1px,#f9ebec 53.1px 53.9px,#e0e0f1 53.9px 54.8px,#f4c7c4 54.8px 55.9px,#f3beba 55.9px 57.2px,#f1b4af 57.2px 58.4px,#f4f2f9 58.4px 59.4px,#e7e6f3 59.4px 60.3px,#f6d9d8 60.3px 61.4px,#efa7a0 61.4px 62.5px,#f9e8e8 62.5px 63.2px,#f3c3c0 63.2px 64.2px,#faf2f4 64.2px 64.8px,#f5d0ce 64.8px 65.5px,#f4cbc8 65.5px 66.1px,#f9eced 66.1px 66.6px,#f0ada7 66.6px 67.1px,#f8e5e5 67.1px 68.2px,#f0aba5 68.2px 69.2px,#faf4f6 69.2px 69.9px,#f0eef7 69.9px 70.5px,#dfdff1 70.5px 71.7px,#f3c1be 71.7px 72.7px,#f7dad9 72.7px 73.8px,#f9ecee 73.8px 74.5px,#fbf6f8 74.5px 75.2px,#faeff1 75.2px 76.4px,#f2bab6 76.4px 77.1px,#f5d0ce 77.1px 77.8px,#d2d3ec 77.8px 78.4px,#ecebf5 78.4px 79.2px,#e6e5f3 79.2px 79.9px,#f6d8d6 79.9px 80.9px,#f7dddd 80.9px 82px,#f4c6c3 82px 82.9px,#faeef0 82.9px 83.8px,#f9eced 83.8px 84.5px,#faf3f5 84.5px 85.8px,#f5ccca 85.8px 86.5px,#f1eff7 86.5px 87.1px,#faf2f4 87.1px 87.9px,#dbdbef 87.9px 88.9px,#f4cbc8 88.9px 89.9px,#ebeaf5 89.9px 90.6px,#faf1f2 90.6px 91.6px,#f8e3e3 91.6px 92.8px,#faedef 92.8px 93.7px,#d1d2eb 93.7px 94.4px,#f6d2d0 94.4px 95.1px,#f4cbc8 95.1px 96.2px,#f7dedd 96.2px 96.8px,#faeeef 96.8px 97.4px,#f8e4e4 97.4px 98.6px,#eea19a 98.6px 99.3px,#fbf8fb 99.3px 100.4px,#f7f5f9 100.4px 100.9px,#f4c8c6 100.9px 101.5px,#f0aca6 101.5px 102.1px,#f3c1be 102.1px 103px,#f8e1e0 103px 103.6px,#bdbfe4 103.6px 104.6px,#f0aca6 104.6px 105.9px,#faf0f2 105.9px 106.6px,#f5d0ce 106.6px 107.3px,#e0e0f1 107.3px 108.1px,#f4c7c4 108.1px 109px,#f8e2e2 109px 109.8px,#f2bab5 109.8px 110.9px,#c8c9e8 110.9px 112.1px,#f6d5d4 112.1px 112.8px,#f8e3e3 112.8px 114px,#f9e7e8 114px 114.9px,#f7d9d9 114.9px 115.5px,#f9eaeb 115.5px 116.7px,#f4cac7 116.7px 117.4px,#f0eef7 117.4px 117.9px,#f6d3d1 117.9px 118.4px,#f3bfbb 118.4px 119.3px,#f6f4f9 119.3px 120.5px,#efa69f 120.5px 121px,#f8e2e2 121px 122.1px,#fbf5f7 122.1px 122.7px,#f5d0ce 122.7px 124px,#f5d1d0 124px 124.6px,#f6d7d6 124.6px 125.4px,#e3e2f2 125.4px 126.7px,#f4c8c5 126.7px 127.6px,#f4c9c6 127.6px 128.5px,#fbf8fa 128.5px 129.7px,#f0ada7 129.7px 130.8px,#f8e4e4 130.8px 131.6px,#f6d6d5 131.6px 132.3px,#e8e7f4 132.3px 133.2px,#f6d2d0 133.2px 134.2px,#f2f0f8 134.2px 135.3px,#e8e7f4 135.3px 136.4px,#f7dddc 136.4px 137.2px,#f2b9b4 137.2px 137.7px,#faf4f6 137.7px 139px,#f6f4f9 139px 139.9px,#f3beba 139.9px 140.7px,#f3c3c0 140.7px 141.4px,#f8e1e1 141.4px 142.6px,#f6d7d6 142.6px 143.7px,#f7f5f9 143.7px 144.9px,#efeef7 144.9px 146px,#edebf6 146px 147.1px,#f9eaeb 147.1px 147.9px,#f4c9c6 147.9px 148.5px,#f9eaea 148.5px 149.2px,#f7e0df 149.2px 149.8px,#f5ccca 149.8px 151.1px,#d8d8ee 151.1px 151.6px,#f4c5c1 151.6px 152.5px,#f6d7d5 152.5px 153.1px,#f6f4f9 153.1px 154.3px,#f9e7e8 154.3px 155.6px,#e9e8f4 155.6px 156.6px,#f5d0ce 156.6px 157.6px,#f8e0e0 157.6px 158.3px,#f9e7e7 158.3px 158.8px,#efeef7 158.8px 159.7px,#f6d4d3 159.7px 160.8px,#f6d2d0 160.8px 161.5px,#f5cecc 161.5px 162.7px,#e7e6f4 162.7px 163.2px,#f9eaeb 163.2px 164.2px,#faeeef 164.2px 164.9px,#f4c7c4 164.9px 165.8px,#f4cac8 165.8px 166.6px,#f6d3d2 166.6px 167.2px,#f4c7c4 167.2px 167.9px,#f7dfde 167.9px 168.3px)"></div><div style="left:251px;top:96.2px;width:14.3px;height:168.3px;background:linear-gradient(#eea19a 0px 1.2px,#faeff0 1.2px 2.3px,#f9e9ea 2.3px 3px,#ebeaf5 3px 4px,#f7dfdf 4px 5.2px,#f8e0e0 5.2px 6.2px,#f4c6c3 6.2px 6.9px,#f7dddd 6.9px 8.1px,#eae9f5 8.1px 9.2px,#f9e7e7 9.2px 9.9px,#f8e6e6 9.9px 10.9px,#f6d5d4 10.9px 11.8px,#f8e5e5 11.8px 13px,#fbf6f8 13px 13.7px,#f8e4e5 13.7px 14.2px,#f8e3e3 14.2px 15.3px,#efeef7 15.3px 16.2px,#f5f3f9 16.2px 16.8px,#f8e5e5 16.8px 17.6px,#f4cac7 17.6px 18.2px,#f8e3e3 18.2px 19.2px,#f9e9e9 19.2px 19.8px,#f7dad9 19.8px 21px,#f8e6e7 21px 22px,#e1e0f1 22px 23.2px,#fbf7f9 23.2px 23.8px,#f4c5c2 23.8px 24.8px,#f8e4e4 24.8px 25.7px,#edecf6 25.7px 26.8px,#cbcce9 26.8px 27.4px,#f8e3e4 27.4px 28.6px,#f9ebec 28.6px 29.6px,#efa8a2 29.6px 30.6px,#f3f1f8 30.6px 31.7px,#f6d6d5 31.7px 32.6px,#f4c5c2 32.6px 33.2px,#f6d5d4 33.2px 34.1px,#eeecf6 34.1px 35px,#f8e3e3 35px 36.1px,#f5f3f9 36.1px 36.7px,#faf3f5 36.7px 37.3px,#f6d5d3 37.3px 38.4px,#e0dff1 38.4px 39px,#f5ccca 39px 40.2px,#f2b8b4 40.2px 40.9px,#f5d1cf 40.9px 42px,#faf1f2 42px 42.5px,#f1b5b0 42.5px 43.4px,#f7dddc 43.4px 44.3px,#dcdcef 44.3px 44.9px,#f2f0f8 44.9px 46px,#f7dede 46px 46.7px,#f8e3e4 46.7px 47.8px,#f6d8d7 47.8px 48.6px,#f7dad9 48.6px 49.5px,#f7f4f9 49.5px 50.5px,#faf3f5 50.5px 51.3px,#f7dedd 51.3px 52.3px,#f1b0ab 52.3px 53.1px,#f4cac7 53.1px 53.8px,#f3c1bd 53.8px 54.3px,#f6d4d2 54.3px 55px,#f9eced 55px 55.8px,#fbf7f9 55.8px 56.9px,#e8e7f4 56.9px 57.9px,#f9e9e9 57.9px 58.7px,#f7dede 58.7px 59.7px,#faf8fb 59.7px 60.8px,#deddf0 60.8px 61.9px,#d4d5ec 61.9px 62.9px,#d7d8ee 62.9px 63.9px,#f2bcb8 63.9px 64.8px,#f2b8b3 64.8px 65.8px,#f5ccca 65.8px 66.9px,#f6d6d4 66.9px 67.9px,#f6d9d8 67.9px 69.1px,#e6e5f3 69.1px 69.6px,#efa49d 69.6px 70.7px,#f9e9e9 70.7px 71.2px,#f8e4e4 71.2px 72.3px,#faf4f6 72.3px 73.1px,#e3e3f2 73.1px 73.6px,#f7dfdf 73.6px 74.5px,#f4c9c6 74.5px 75.4px,#f7d9d8 75.4px 76.6px,#e6e5f3 76.6px 77.4px,#cfd0ea 77.4px 78.3px,#f2b7b3 78.3px 79.5px,#f4c6c3 79.5px 80.3px,#e5e4f3 80.3px 81.1px,#faf3f5 81.1px 81.7px,#f0ada7 81.7px 82.8px,#faf2f4 82.8px 83.9px,#faf2f3 83.9px 84.4px,#f8e5e5 84.4px 85.1px,#f7dcdb 85.1px 85.9px,#f9ebec 85.9px 86.7px,#f5ccca 86.7px 87.9px,#faeff1 87.9px 88.9px,#fbf8fb 88.9px 89.8px,#dadaef 89.8px 90.7px,#f7e0df 90.7px 91.8px,#efa9a3 91.8px 92.8px,#f6d7d6 92.8px 93.7px,#f3c4c1 93.7px 94.3px,#f7dedd 94.3px 94.9px,#f7dfdf 94.9px 95.5px,#d1d2eb 95.5px 96.5px,#fbf8fa 96.5px 97.4px,#faf0f2 97.4px 98.6px,#f5d1d0 98.6px 99.3px,#faeeef 99.3px 100.4px,#dddcf0 100.4px 101.3px,#d8d8ee 101.3px 102.1px,#faf0f2 102.1px 103.2px,#f8e5e6 103.2px 104.3px,#efa8a1 104.3px 105.3px,#e9e8f4 105.3px 105.9px,#f9f7fb 105.9px 106.5px,#fbf8fb 106.5px 107.5px,#f1b6b1 107.5px 108.2px,#faf1f3 108.2px 108.8px,#faedef 108.8px 109.7px,#f7d9d8 109.7px 110.3px,#b4b7e0 110.3px 111.2px,#f4c8c5 111.2px 112px,#f8e6e7 112px 113.1px,#f6d6d4 113.1px 114.2px,#d9d9ee 114.2px 115.5px,#f4c8c5 115.5px 116.3px,#f5d2d0 116.3px 117px,#ee9d95 117px 117.8px,#f9e9ea 117.8px 118.7px,#f3c0bc 118.7px 119.3px,#f5cdca 119.3px 120.2px,#f9e9ea 120.2px 121.2px,#d7d7ed 121.2px 122.2px,#f5ccc9 122.2px 123.3px,#f9e7e8 123.3px 124.5px,#f2b8b4 124.5px 125.2px,#f8e6e6 125.2px 126.4px,#e2e1f2 126.4px 127.5px,#f8e5e5 127.5px 129.5px,#f7dad9 129.5px 130.6px,#f6d3d2 130.6px 131.8px,#f9e8e8 131.8px 132.6px,#dbdbef 132.6px 133.3px,#e8e7f4 133.3px 134.5px,#f8e6e7 134.5px 135.8px,#f8e6e6 135.8px 136.9px,#f4c7c4 136.9px 137.9px,#f8e3e3 137.9px 138.4px,#f4c9c6 138.4px 139.6px,#f8e0e0 139.6px 140.5px,#faf2f4 140.5px 141.6px,#f1b1ac 141.6px 142.6px,#f9e9ea 142.6px 143.5px,#f9eaeb 143.5px 144.5px,#f8e2e2 144.5px 145.1px,#f4cac8 145.1px 145.7px,#faeff0 145.7px 146.3px,#f8e0e0 146.3px 147.1px,#faf8fb 147.1px 147.8px,#f7dad9 147.8px 148.8px,#cecfea 148.8px 149.6px,#f9f7fa 149.6px 150.7px,#fbf7f9 150.7px 151.5px,#f9edee 151.5px 152.2px,#faf4f6 152.2px 153.4px,#f4cac7 153.4px 154.3px,#f5d2d0 154.3px 154.8px,#f0eff7 154.8px 155.6px,#f8e0e0 155.6px 156.8px,#f2bcb8 156.8px 158px,#fbf9fb 158px 159.1px,#faf0f2 159.1px 160px,#f6d7d6 160px 161.1px,#e5e4f3 161.1px 161.9px,#f9eaea 161.9px 163px,#f3c1bd 163px 164.1px,#f1b2ad 164.1px 165.4px,#f2f0f8 165.4px 166.1px,#f3c3c0 166.1px 167px,#ebeaf5 167px 167.5px,#f0aba5 167.5px 168.3px)"></div><div style="left:192.9px;top:268.1px;width:14.2px;height:32.8px;background:linear-gradient(#f7dcdc 0px 0.8px,#f5f3f9 0.8px 1.7px,#ebeaf5 1.7px 2.5px,#f7dad9 2.5px 3.3px,#efa8a2 3.3px 4.1px,#f6d7d5 4.1px 5px,#f2bbb6 5px 6px,#f3c2bf 6px 6.8px,#f4c6c3 6.8px 7.4px,#eb8a80 7.4px 8.6px,#f2bbb7 8.6px 9.5px,#faeff1 9.5px 10.2px,#f8e1e1 10.2px 10.7px,#b7bae1 10.7px 11.5px,#aeb1de 11.5px 12.7px,#eeecf6 12.7px 13.5px,#fbf5f7 13.5px 14.5px,#edecf6 14.5px 15.6px,#f5f3f9 15.6px 16.1px,#f3beba 16.1px 17.1px,#f8e6e6 17.1px 18.2px,#a8acdc 18.2px 19.2px,#f5cdcb 19.2px 20.3px,#f5cfcd 20.3px 21.5px,#faf3f5 21.5px 22.8px,#f9e8e9 22.8px 23.5px,#e4e3f2 23.5px 24.5px,#f7dddc 24.5px 25.6px,#e6e5f3 25.6px 26.7px,#faf7fb 26.7px 27.4px,#f4c6c3 27.4px 28px,#faf0f1 28px 29.3px,#faf3f5 29.3px 30.1px,#efa8a2 30.1px 30.7px,#f3f1f8 30.7px 31.8px,#f3beba 31.8px 32.8px,#f8e6e7 32.8px 32.8px)"></div><div style="left:222.2px;top:268.1px;width:13.9px;height:32.8px;background:linear-gradient(#f4cbc9 0px 0.7px,#f4c7c4 0.7px 1.9px,#ec928a 1.9px 3px,#e45849 3px 3.7px,#f7dedd 3.7px 4.3px,#f9ecee 4.3px 5.4px,#e66759 5.4px 6.4px,#ea847a 6.4px 7px,#efa49d 7px 7.7px,#f7f5fa 7.7px 8.5px,#e8776c 8.5px 9.8px,#f6f4f9 9.8px 10.7px,#ea8277 10.7px 11.7px,#f2bdb9 11.7px 12.2px,#f0aea8 12.2px 13.4px,#f4c5c1 13.4px 14.1px,#f7dcdc 14.1px 15px,#f4c6c2 15px 15.8px,#ec938a 15.8px 16.5px,#dbdbef 16.5px 17.7px,#faf7fb 17.7px 18.5px,#eb8b82 18.5px 19.2px,#eea29b 19.2px 20.4px,#e25040 20.4px 21.1px,#faf1f3 21.1px 21.8px,#f8e3e3 21.8px 22.5px,#f1b5af 22.5px 23.2px,#f0aca6 23.2px 24.3px,#efa49d 24.3px 25.1px,#efa59f 25.1px 25.9px,#eb8c83 25.9px 26.7px,#e5e4f3 26.7px 27.3px,#efa69f 27.3px 28.1px,#f5cdcb 28.1px 28.7px,#f5d2d0 28.7px 29.2px,#e45a4b 29.2px 30.4px,#f3c2bf 30.4px 31.1px,#e77265 31.1px 32.2px,#e0402e 32.2px 32.8px)"></div><div style="left:251px;top:268.1px;width:14.3px;height:32.8px;background:linear-gradient(#f7dede 0px 1px,#f5cdca 1px 1.9px,#f5d1cf 1.9px 2.7px,#f4c6c3 2.7px 4px,#ea8176 4px 5.1px,#ee9f97 5.1px 6.3px,#f4c6c3 6.3px 6.9px,#f4cac8 6.9px 7.9px,#faf8fb 7.9px 8.9px,#f2bab6 8.9px 10px,#e7e6f4 10px 10.5px,#fbf5f7 10.5px 11.1px,#f4c8c5 11.1px 11.6px,#faf3f5 11.6px 12.6px,#ddddf0 12.6px 13.7px,#f6d4d3 13.7px 14.3px,#f2f0f8 14.3px 15.2px,#f1b1ac 15.2px 16.5px,#f3c4c0 16.5px 17.1px,#e3e2f2 17.1px 17.8px,#f2bab6 17.8px 18.4px,#f0aaa4 18.4px 19.3px,#f3c4c1 19.3px 20.3px,#f6d9d8 20.3px 21.2px,#f8e5e5 21.2px 21.8px,#e66c5e 21.8px 22.9px,#f4c6c3 22.9px 23.6px,#f4cbc9 23.6px 24.7px,#f7dddc 24.7px 25.5px,#eae9f5 25.5px 26.1px,#f9e8e9 26.1px 27.2px,#f0b0aa 27.2px 28.2px,#f2bdb9 28.2px 30.3px,#f4c7c4 30.3px 31px,#f8f6fa 31px 31.7px,#f4cbc8 31.7px 32.8px)"></div><div style="left:192.9px;top:305.2px;width:14.2px;height:23.4px;background:linear-gradient(#f4c8c6 0px 0.7px,#f8f6fa 0.7px 1.8px,#868ccf 1.8px 2.4px,#d3d3ec 2.4px 3.2px,#9ca0d7 3.2px 4px,#cccde9 4px 5.2px,#eb897f 5.2px 6.5px,#e4e3f2 6.5px 7.5px,#cecfea 7.5px 8.5px,#a7abdb 8.5px 9.5px,#ecebf6 9.5px 10.4px,#f2b8b4 10.4px 11.6px,#cfd0ea 11.6px 12.6px,#f8e4e5 12.6px 13.1px,#faf0f1 13.1px 13.7px,#dbdbef 13.7px 14.9px,#f6d5d4 14.9px 16px,#e4e3f2 16px 16.6px,#d3d3ec 16.6px 17.2px,#d7d7ed 17.2px 17.9px,#faeef0 17.9px 18.9px,#ed988f 18.9px 20.1px,#f4c9c6 20.1px 20.8px,#d5d5ed 20.8px 21.9px,#fbf8fb 21.9px 23.2px,#cecfea 23.2px 23.4px)"></div><div style="left:222.2px;top:305.2px;width:13.9px;height:23.4px;background:linear-gradient(#f5d1cf 0px 1px,#f3f1f8 1px 1.5px,#ec8e85 1.5px 2.4px,#f3bfbb 2.4px 3.3px,#f0aca6 3.3px 4px,#d1d2eb 4px 5.1px,#eb8e85 5.1px 6.3px,#f9ebec 6.3px 7px,#f7dfdf 7px 8.2px,#eb8980 8.2px 9.2px,#f6d8d7 9.2px 10px,#f6d5d4 10px 10.8px,#e77164 10.8px 11.4px,#dcdcef 11.4px 12.5px,#efa59f 12.5px 13.8px,#e56152 13.8px 14.6px,#e14837 14.6px 15.9px,#e35748 15.9px 17.2px,#f9edee 17.2px 17.8px,#ed978f 17.8px 18.3px,#e77265 18.3px 19.2px,#ec8f86 19.2px 20px,#f1b6b2 20px 21px,#f7dad9 21px 22px,#e97f74 22px 23px,#faedef 23px 23.4px)"></div><div style="left:251px;top:305.2px;width:14.3px;height:23.4px;background:linear-gradient(#d3d3ec 0px 1.2px,#f8f5fa 1.2px 1.7px,#f5ccca 1.7px 2.5px,#eb897f 2.5px 3.4px,#f7dddc 3.4px 4.3px,#ee9d95 4.3px 5px,#f5f3f9 5px 6px,#f8e6e6 6px 6.6px,#f8e2e2 6.6px 7.4px,#faf2f4 7.4px 8.1px,#ec9289 8.1px 8.9px,#dbdbef 8.9px 9.7px,#d6d6ed 9.7px 10.7px,#ec948b 10.7px 11.9px,#f3c0bc 11.9px 13.2px,#f0aba5 13.2px 14.3px,#fbf7f9 14.3px 14.8px,#f0ada7 14.8px 15.7px,#cdceea 15.7px 16.6px,#f6d5d4 16.6px 17.6px,#f3beba 17.6px 18.4px,#c1c2e5 18.4px 19.4px,#fbf4f6 19.4px 20.7px,#deddf0 20.7px 21.3px,#f8f5fa 21.3px 22.3px,#f8e1e1 22.3px 23px,#f9e7e7 23px 23.4px)"></div><div style="left:192.9px;top:332.3px;width:14.2px;height:29.5px;background:linear-gradient(#9096d3 0px 1.1px,#f7dedd 1.1px 2.1px,#b4b6e0 2.1px 3.1px,#faf2f3 3.1px 4.1px,#d0d1eb 4.1px 5.1px,#a2a6d9 5.1px 6px,#f6d5d3 6px 6.7px,#e9e8f4 6.7px 7.9px,#f9eced 7.9px 9.1px,#f9eaeb 9.1px 10.3px,#faf1f2 10.3px 11px,#cecfea 11px 12.2px,#f9e9e9 12.2px 13.4px,#f5d1cf 13.4px 14.6px,#d2d2eb 14.6px 15.5px,#bfc1e4 15.5px 16.2px,#d6d6ed 16.2px 16.8px,#f4c9c7 16.8px 18px,#efeef7 18px 18.6px,#f1b6b1 18.6px 19.6px,#dfdff1 19.6px 20.8px,#f5f3f9 20.8px 21.3px,#f1b4af 21.3px 22.4px,#f0aaa3 22.4px 23px,#f7dbda 23px 23.6px,#bcbee3 23.6px 24.1px,#f5f3f9 24.1px 25px,#f1f0f7 25px 26.1px,#c0c2e5 26.1px 26.9px,#f3c0bc 26.9px 27.7px,#f9ebec 27.7px 28.4px,#c9cae8 28.4px 29.3px,#bbbde3 29.3px 29.5px)"></div><div style="left:222.2px;top:332.3px;width:13.9px;height:29.5px;background:linear-gradient(#f1b6b1 0px 1.2px,#dddcf0 1.2px 2.1px,#ec9087 2.1px 2.8px,#f7d9d8 2.8px 3.9px,#f2f0f8 3.9px 4.8px,#efa59e 4.8px 5.6px,#faeeef 5.6px 6.6px,#f4c8c6 6.6px 7.6px,#f2b9b4 7.6px 8.8px,#faf3f5 8.8px 9.7px,#f0aca6 9.7px 10.6px,#e97e73 10.6px 11.6px,#eb8b81 11.6px 12.5px,#f4c5c1 12.5px 13.1px,#ed9990 13.1px 13.8px,#fbf8fb 13.8px 15.1px,#f4cac8 15.1px 16px,#eb887e 16px 16.8px,#fbf7f9 16.8px 17.9px,#f2b7b3 17.9px 19px,#ed978e 19px 20.3px,#f2bbb6 20.3px 21.4px,#e66659 21.4px 22.3px,#f6d5d4 22.3px 23.5px,#f7dddc 23.5px 24.6px,#ebe9f5 24.6px 25.2px,#f1b5b0 25.2px 25.7px,#f2bab6 25.7px 26.9px,#f9ebec 26.9px 28.1px,#f0ada7 28.1px 28.9px,#e76f63 28.9px 29.5px)"></div><div style="left:251px;top:332.3px;width:14.3px;height:29.5px;background:linear-gradient(#faeef0 0px 0.8px,#ec8f85 0.8px 2.1px,#f0aea8 2.1px 2.9px,#f7dcdc 2.9px 4.1px,#b5b8e1 4.1px 5.3px,#cccde9 5.3px 6.1px,#f7dada 6.1px 7.3px,#f8f5fa 7.3px 8.1px,#f3c3bf 8.1px 9px,#faeff1 9px 9.8px,#f7dfde 9.8px 10.5px,#faf8fb 10.5px 11.4px,#faf1f3 11.4px 12.4px,#f3bfbb 12.4px 13.2px,#c6c7e7 13.2px 13.9px,#ed988f 13.9px 15px,#f1b5b0 15px 15.9px,#c2c4e5 15.9px 16.6px,#f4c5c1 16.6px 17.7px,#f9e8e9 17.7px 18.3px,#faf3f5 18.3px 19.1px,#f7dfdf 19.1px 20.2px,#f7dcdc 20.2px 21px,#f4f2f9 21px 22.1px,#faeeef 22.1px 23.2px,#ee9d95 23.2px 24.2px,#d2d2eb 24.2px 24.9px,#efa6a0 24.9px 25.8px,#f6f4f9 25.8px 26.9px,#f2bbb7 26.9px 28px,#dadaef 28px 29px,#f5f3f9 29px 29.5px)"></div><div style="left:192.9px;top:366.1px;width:14.2px;height:19.4px;background:linear-gradient(#e8e7f4 0px 1px,#8e94d2 1px 1.6px,#b3b6e0 1.6px 2.3px,#f0b0aa 2.3px 2.9px,#f6d6d4 2.9px 4px,#f5cecc 4px 5.1px,#f8e0e0 5.1px 5.8px,#d8d8ee 5.8px 6.3px,#efa59e 6.3px 7.6px,#eb8c82 7.6px 8.7px,#bcbee3 8.7px 9.7px,#f4f2f8 9.7px 10.5px,#eeedf6 10.5px 11.6px,#f2f0f8 11.6px 12.5px,#f5cfcd 12.5px 13.4px,#f5f3f9 13.4px 14.2px,#fbf9fb 14.2px 15.4px,#f5f3f9 15.4px 16.5px,#b5b8e1 16.5px 17.2px,#efa69f 17.2px 17.8px,#b0b3df 17.8px 18.8px,#e5e4f3 18.8px 19.4px)"></div><div style="left:222.2px;top:366.1px;width:13.9px;height:19.4px;background:linear-gradient(#f8e3e3 0px 1.2px,#f4c4c1 1.2px 2.1px,#f2b8b4 2.1px 3.1px,#b9bce2 3.1px 4.1px,#f5cfcd 4.1px 5.2px,#e8e7f4 5.2px 6.3px,#f3c0bc 6.3px 6.9px,#bbbde3 6.9px 7.6px,#f4cbc9 7.6px 8.8px,#aaaedc 8.8px 9.8px,#d9d9ee 9.8px 10.8px,#f7dddd 10.8px 12px,#f2b7b3 12px 12.9px,#f0aea8 12.9px 13.5px,#f3c4c0 13.5px 14.6px,#fbf8fb 14.6px 15.9px,#f4cac8 15.9px 16.9px,#f7dcdb 16.9px 17.9px,#fbf4f6 17.9px 18.7px,#eea29b 18.7px 19.4px)"></div><div style="left:251px;top:366.1px;width:14.3px;height:19.4px;background:linear-gradient(#f8e0e0 0px 1px,#f8e1e1 1px 2.2px,#f2bdb9 2.2px 2.9px,#f2f1f8 2.9px 4.2px,#f9eced 4.2px 5.1px,#d0d0eb 5.1px 6.2px,#dfdff1 6.2px 7.4px,#c6c8e7 7.4px 8.4px,#d3d3ec 8.4px 9.5px,#d9d9ee 9.5px 10.5px,#faeff0 10.5px 11.5px,#f5cdca 11.5px 12.3px,#efeef7 12.3px 13.1px,#f8e2e3 13.1px 13.8px,#e8766b 13.8px 15px,#ebeaf5 15px 16.2px,#fbf7f9 16.2px 17.3px,#e0402e 17.3px 18.3px,#eb8b81 18.3px 19.3px,#f7f4f9 19.3px 19.4px)"></div><div style="left:192.9px;top:389.4px;width:14.2px;height:83.9px;background:linear-gradient(#efa7a1 0px 0.8px,#faf2f4 0.8px 1.3px,#adb1de 1.3px 2.3px,#f9eced 2.3px 2.9px,#cacbe8 2.9px 4px,#f1eff7 4px 4.5px,#f7d9d9 4.5px 5.1px,#fbf4f7 5.1px 6.2px,#c3c5e6 6.2px 7.5px,#a9acdc 7.5px 8.1px,#d6d7ed 8.1px 9.1px,#faeff1 9.1px 9.8px,#d6d6ed 9.8px 11.4px,#e77064 11.4px 12.5px,#f6f4f9 12.5px 13.7px,#f5ccca 13.7px 14.4px,#7d84cb 14.4px 15.4px,#c1c3e5 15.4px 16.1px,#b3b6e0 16.1px 17.1px,#dedef0 17.1px 17.7px,#f6d2d0 17.7px 18.3px,#f8e4e4 18.3px 19.3px,#fbf8fa 19.3px 19.8px,#f7dedd 19.8px 20.3px,#f0eef7 20.3px 21.1px,#fbf8fb 21.1px 21.7px,#efa59f 21.7px 23px,#f6d7d6 23px 23.5px,#f3bfbb 23.5px 24.4px,#ec948c 24.4px 25.7px,#babce2 25.7px 26.9px,#eb8a80 26.9px 27.8px,#babce2 27.8px 28.5px,#f2b9b5 28.5px 29.4px,#edecf6 29.4px 30px,#ec8f85 30px 30.6px,#f2bab6 30.6px 31.4px,#cfcfea 31.4px 32.6px,#f7dedd 32.6px 33.5px,#f7dddd 33.5px 34.2px,#d8d8ee 34.2px 35.2px,#faf0f2 35.2px 35.9px,#d9d9ee 35.9px 36.4px,#e9e8f4 36.4px 36.9px,#f4f2f8 36.9px 38.2px,#faf7fb 38.2px 39.1px,#c3c5e6 39.1px 39.9px,#ed9b93 39.9px 41px,#b3b6e0 41px 41.8px,#faf3f5 41.8px 42.9px,#d9d9ee 42.9px 43.7px,#f1b7b2 43.7px 44.6px,#e2e1f1 44.6px 45.9px,#e1e1f1 45.9px 47px,#ee9e97 47px 48.2px,#dfdff1 48.2px 48.8px,#f6f4f9 48.8px 50px,#d1d2eb 50px 51.3px,#f8e2e2 51.3px 52.5px,#faf1f3 52.5px 53.8px,#c3c5e6 53.8px 55px,#faeeef 55px 56px,#ddddf0 56px 57px,#f9e7e7 57px 57.7px,#bfc1e4 57.7px 58.8px,#f5d0ce 58.8px 59.5px,#f4c8c5 59.5px 60.1px,#cccde9 60.1px 61.2px,#f4f2f8 61.2px 61.9px,#f7dcdb 61.9px 62.4px,#b4b7e0 62.4px 63.3px,#fbf8fb 63.3px 63.9px,#f9edee 63.9px 65.1px,#bbbde3 65.1px 65.9px,#cecfea 65.9px 66.4px,#f2b9b5 66.4px 67.4px,#f9e9ea 67.4px 68.1px,#e8e7f4 68.1px 68.7px,#c2c4e6 68.7px 69.7px,#f7dcdc 69.7px 70.8px,#dadaef 70.8px 71.7px,#eb887e 71.7px 72.8px,#f9eced 72.8px 73.5px,#f3c4c1 73.5px 74.1px,#faf2f3 74.1px 75.3px,#f0aca6 75.3px 76.3px,#f9eaeb 76.3px 77.2px,#c9cbe8 77.2px 78.1px,#faf0f2 78.1px 79.2px,#e8e7f4 79.2px 80.1px,#faf3f4 80.1px 81.2px,#ecebf6 81.2px 82px,#f5f3f9 82px 83.3px,#dbdbef 83.3px 83.9px)"></div><div style="left:222.2px;top:389.4px;width:13.9px;height:83.9px;background:linear-gradient(#f9e8e8 0px 1px,#f4c8c6 1px 2.1px,#f8e1e1 2.1px 2.7px,#ee9e96 2.7px 3.4px,#f0aaa3 3.4px 4px,#f9e8e9 4px 4.9px,#e4e3f2 4.9px 6px,#ec9086 6px 6.8px,#f9e9e9 6.8px 8px,#e2e2f2 8px 8.7px,#f9f7fa 8.7px 9.9px,#f8e2e3 9.9px 10.5px,#eb8d84 10.5px 11.2px,#efa9a2 11.2px 12.3px,#f5cecc 12.3px 13.4px,#ddddf0 13.4px 14.3px,#f8e6e6 14.3px 14.8px,#faf3f5 14.8px 15.3px,#ea867c 15.3px 16.2px,#f7dcdc 16.2px 17.2px,#e35545 17.2px 18.2px,#f2b9b5 18.2px 18.8px,#faf8fb 18.8px 19.4px,#f4cbc8 19.4px 20.5px,#f3f1f8 20.5px 21.4px,#f2bbb7 21.4px 22.4px,#b6b9e1 22.4px 23.1px,#ec958c 23.1px 24px,#f4c9c6 24px 24.7px,#f0aba5 24.7px 25.3px,#e0e0f1 25.3px 26.6px,#e45d4e 26.6px 27.1px,#e0dff1 27.1px 28px,#f4cac7 28px 29.3px,#dfdff1 29.3px 29.9px,#f8e5e6 29.9px 31px,#f3c3c0 31px 31.7px,#d4d5ec 31.7px 32.3px,#f7dcdb 32.3px 32.9px,#f2bdb9 32.9px 33.6px,#ebeaf5 33.6px 34.7px,#efa59e 34.7px 35.9px,#f7dede 35.9px 36.9px,#e2e2f2 36.9px 37.8px,#fbf8fa 37.8px 38.7px,#f3f1f8 38.7px 40px,#f6d8d7 40px 41.1px,#f1b4af 41.1px 42.2px,#f6d5d4 42.2px 42.9px,#f4c5c2 42.9px 43.5px,#f6d6d5 43.5px 44.2px,#f2b8b4 44.2px 45.2px,#ed9b93 45.2px 47.5px,#d0d1eb 47.5px 48.2px,#f5cdcb 48.2px 49.4px,#f7dede 49.4px 50.6px,#eb887e 50.6px 51.4px,#ee9f98 51.4px 52.5px,#dddcf0 52.5px 53.5px,#faf1f3 53.5px 54.5px,#c3c5e6 54.5px 55.5px,#f3c0bc 55.5px 56.1px,#f4c7c4 56.1px 56.8px,#f8e5e6 56.8px 58.1px,#d2d3ec 58.1px 58.9px,#f3bfbb 58.9px 59.4px,#f0eef7 59.4px 60.7px,#f1b4af 60.7px 61.8px,#f2f0f8 61.8px 62.7px,#e66a5d 62.7px 63.3px,#eb8b81 63.3px 63.8px,#eb8c82 63.8px 64.4px,#c2c4e5 64.4px 65.4px,#eea099 65.4px 66.2px,#ed9890 66.2px 66.9px,#f9f6fa 66.9px 67.9px,#f6d7d6 67.9px 68.8px,#faeeef 68.8px 69.4px,#efa9a2 69.4px 70.5px,#e56153 70.5px 71.1px,#e5e4f3 71.1px 71.8px,#ddddf0 71.8px 72.6px,#f2bab5 72.6px 73.3px,#eae9f5 73.3px 73.8px,#f0ada7 73.8px 74.8px,#f9e7e8 74.8px 75.4px,#f2bdb9 75.4px 76.3px,#efa59e 76.3px 77.1px,#f4cac8 77.1px 78.2px,#eea19a 78.2px 79.4px,#eae9f5 79.4px 80.2px,#e4e3f2 80.2px 81px,#f4cbc8 81px 82.2px,#e7e6f3 82.2px 83px,#f6d6d5 83px 83.7px,#f2b9b4 83.7px 83.9px)"></div><div style="left:251px;top:389.4px;width:14.3px;height:83.9px;background:linear-gradient(#f7dfde 0px 1.3px,#f4c9c6 1.3px 2px,#f5cfcd 2px 2.8px,#9a9fd6 2.8px 3.6px,#f9eaeb 3.6px 4.2px,#fbf7fa 4.2px 5.1px,#ed958d 5.1px 6.3px,#ed9b93 6.3px 7.3px,#f9f7fa 7.3px 7.9px,#f0ada7 7.9px 8.5px,#f9ebec 8.5px 9.5px,#f2bcb8 9.5px 10.7px,#d5d5ed 10.7px 11.6px,#f2bab5 11.6px 12.2px,#f1b7b2 12.2px 13.1px,#cccde9 13.1px 13.7px,#f4c6c3 13.7px 14.9px,#ed978e 14.9px 16px,#f8e2e2 16px 16.7px,#eea099 16.7px 18px,#e6e6f3 18px 18.9px,#e1e0f1 18.9px 19.4px,#d3d4ec 19.4px 19.9px,#f0afa9 19.9px 21.2px,#aaaedc 21.2px 22.4px,#f2b8b4 22.4px 23.2px,#f9ebec 23.2px 24.2px,#f1b1ac 24.2px 25.3px,#f5d0cf 25.3px 26.2px,#f7dede 26.2px 27px,#f2b9b5 27px 28.1px,#f0aaa4 28.1px 29.2px,#eea19a 29.2px 30.3px,#efa59e 30.3px 31px,#f1b3ae 31px 31.8px,#f9f7fa 31.8px 32.8px,#f9e7e8 32.8px 34px,#c5c6e7 34px 34.7px,#f9ebec 34.7px 35.2px,#f9e9e9 35.2px 35.8px,#ed978f 35.8px 36.9px,#e97e73 36.9px 37.6px,#dbdbef 37.6px 38.1px,#c2c4e6 38.1px 38.7px,#f2f0f8 38.7px 39.3px,#f5d2d0 39.3px 39.9px,#e98075 39.9px 41px,#d5d5ed 41px 41.6px,#d2d3ec 41.6px 42.6px,#d7d7ed 42.6px 43.7px,#ed9c94 43.7px 44.5px,#f4f2f9 44.5px 45.1px,#faeff0 45.1px 46.2px,#dadaef 46.2px 46.9px,#f3c1be 46.9px 48.2px,#faf2f3 48.2px 49.3px,#f7dfdf 49.3px 50.2px,#f1eff7 50.2px 51.2px,#f7f5fa 51.2px 52.3px,#eea098 52.3px 53.1px,#f8f6fa 53.1px 54px,#f2bcb7 54px 54.9px,#fbf6f8 54.9px 55.6px,#ddddf0 55.6px 56.4px,#f5cecb 56.4px 57px,#e7e6f3 57px 57.9px,#f7dbdb 57.9px 58.8px,#efa8a2 58.8px 59.3px,#f9edee 59.3px 60.2px,#f2f0f8 60.2px 61px,#efa59f 61px 61.6px,#f8e6e6 61.6px 62.4px,#f0eef7 62.4px 63.3px,#f7dfdf 63.3px 64.4px,#f2bab5 64.4px 65.1px,#f3bfbb 65.1px 66.4px,#f5ccc9 66.4px 67.3px,#f3c4c0 67.3px 68.3px,#f8e2e2 68.3px 69.5px,#d9d9ee 69.5px 70.1px,#f7dfde 70.1px 70.9px,#bcbee3 70.9px 71.7px,#f4c7c4 71.7px 72.8px,#e1e0f1 72.8px 74px,#d6d7ed 74px 75.3px,#ec9087 75.3px 76px,#f6d4d3 76px 76.9px,#f6d6d4 76.9px 77.8px,#faf1f3 77.8px 78.6px,#f7dbda 78.6px 79.7px,#f1eff7 79.7px 80.7px,#faf8fb 80.7px 81.8px,#f7dfde 81.8px 82.4px,#f7dede 82.4px 83px,#8c92d1 83px 83.9px)"></div><div style="left:192.9px;top:477.2px;width:14.2px;height:33.3px;background:linear-gradient(#f2bdb9 0px 0.5px,#cfd0ea 0.5px 1.1px,#f6d5d3 1.1px 2.1px,#f3c4c1 2.1px 2.6px,#faf0f2 2.6px 3.5px,#dadaef 3.5px 4.5px,#f8e5e6 4.5px 5.4px,#dcdcef 5.4px 6px,#bcbee3 6px 6.7px,#7078c6 6.7px 7.9px,#f8e0e0 7.9px 8.8px,#f8f5fa 8.8px 9.5px,#f1b7b2 9.5px 10.4px,#eeecf6 10.4px 11.6px,#fbf5f7 11.6px 12.4px,#faf7fb 12.4px 13.5px,#e3e2f2 13.5px 14.8px,#f9e8e9 14.8px 15.4px,#f8e6e7 15.4px 17.3px,#c4c5e6 17.3px 18.6px,#e4e4f3 18.6px 19.2px,#eea29b 19.2px 19.7px,#fbf8fb 19.7px 20.7px,#d1d2eb 20.7px 21.9px,#a9acdc 21.9px 22.9px,#f3c0bc 22.9px 23.5px,#f5ccca 23.5px 24.7px,#faeef0 24.7px 25.5px,#dcdcef 25.5px 26.2px,#f8e1e1 26.2px 27.2px,#f4c8c5 27.2px 28.2px,#f9f7fa 28.2px 28.7px,#f3f1f8 28.7px 29.6px,#dedef0 29.6px 30.9px,#f2f0f8 30.9px 32px,#c6c7e7 32px 32.8px,#fbf4f6 32.8px 33.3px)"></div><div style="left:222.2px;top:477.2px;width:13.9px;height:33.3px;background:linear-gradient(#f7dede 0px 1.1px,#f6d3d1 1.1px 2.2px,#f9eced 2.2px 3px,#faf8fb 3px 4px,#f0aca6 4px 5.2px,#e35647 5.2px 6.4px,#dedef0 6.4px 6.9px,#f1b4af 6.9px 7.5px,#efeef7 7.5px 8.5px,#f1b5b0 8.5px 9.3px,#f1eff7 9.3px 10px,#f2b7b2 10px 11px,#f4c9c6 11px 12.3px,#f0ada8 12.3px 13px,#ee9f97 13px 14.2px,#f2bab6 14.2px 15px,#f1b6b1 15px 15.5px,#f7dddc 15.5px 16.1px,#f5d1cf 16.1px 16.9px,#f3c2be 16.9px 17.5px,#f2b7b2 17.5px 18.1px,#efa59e 18.1px 19.1px,#ee9d95 19.1px 20.1px,#fbf7f9 20.1px 21px,#e97f74 21px 21.9px,#ee9f97 21.9px 22.8px,#f1b5b0 22.8px 23.7px,#f1b3ae 23.7px 24.6px,#f8e3e3 24.6px 25.2px,#ed978f 25.2px 26.1px,#c9cae8 26.1px 27px,#d0d0eb 27px 27.9px,#ec9087 27.9px 28.6px,#f6d5d3 28.6px 29.8px,#f3beba 29.8px 30.5px,#f7dad9 30.5px 31.4px,#ec9189 31.4px 31.9px,#f9e7e8 31.9px 32.7px,#f1b3ae 32.7px 33.3px)"></div><div style="left:251px;top:477.2px;width:14.3px;height:33.3px;background:linear-gradient(#f5ccc9 0px 1.1px,#ec9087 1.1px 1.7px,#f0aba4 1.7px 2.6px,#f7dfdf 2.6px 3.4px,#f2b7b3 3.4px 4.1px,#faf7fb 4.1px 5px,#f8e1e1 5px 5.8px,#f2bab5 5.8px 7px,#ed9991 7px 7.5px,#d7d7ed 7.5px 8.4px,#fbf5f7 8.4px 9.6px,#f4c8c5 9.6px 10.2px,#f3c0bc 10.2px 10.9px,#f5d1cf 10.9px 11.7px,#f9e8e9 11.7px 12.7px,#e3e2f2 12.7px 13.7px,#d9d9ee 13.7px 14.7px,#f4c9c7 14.7px 15.8px,#f8f6fa 15.8px 16.8px,#f9eced 16.8px 17.6px,#efedf6 17.6px 18.2px,#fbf7fa 18.2px 18.9px,#e6e5f3 18.9px 19.7px,#faf2f4 19.7px 20.4px,#faeef0 20.4px 21.7px,#f4cac7 21.7px 22.8px,#e6e5f3 22.8px 23.3px,#bbbde3 23.3px 24.3px,#faf3f5 24.3px 25.1px,#f6d4d2 25.1px 25.8px,#f8f5fa 25.8px 26.4px,#f2b8b4 26.4px 27.4px,#f8e2e2 27.4px 28.4px,#e7e6f4 28.4px 29.5px,#f3beba 29.5px 30px,#f5d0ce 30px 31.1px,#faeeef 31.1px 32.3px,#faf2f4 32.3px 33.3px)"></div><div style="left:192.9px;top:514.7px;width:14.2px;height:27.4px;background:linear-gradient(#babce2 0px 1.3px,#9297d3 1.3px 2.3px,#f9eced 2.3px 3px,#ec9087 3px 4.2px,#f7dcdb 4.2px 5.5px,#f9e9ea 5.5px 6.4px,#f5f3f9 6.4px 7px,#dcdcef 7px 7.8px,#f1b2ad 7.8px 8.4px,#fbf7f9 8.4px 9.5px,#f5ccca 9.5px 10.6px,#eae9f5 10.6px 11.9px,#f8e1e1 11.9px 12.6px,#f7dad9 12.6px 13.2px,#c8cae8 13.2px 13.9px,#afb3de 13.9px 15px,#f9e7e7 15px 16.2px,#f6d4d2 16.2px 17.1px,#f8e6e6 17.1px 17.7px,#dedef0 17.7px 18.4px,#a4a8da 18.4px 19.5px,#d0d0eb 19.5px 20.8px,#f5cfcd 20.8px 21.6px,#f7dad9 21.6px 22.8px,#e2e1f2 22.8px 23.9px,#f7dad9 23.9px 24.7px,#e7e6f4 24.7px 25.6px,#c6c7e7 25.6px 26.7px,#f0eef7 26.7px 27.3px,#cdceea 27.3px 27.4px)"></div><div style="left:222.2px;top:514.7px;width:13.9px;height:27.4px;background:linear-gradient(#f1b3ae 0px 0.7px,#eeecf6 0.7px 1.4px,#f6d5d3 1.4px 2.5px,#efa59e 2.5px 3.7px,#f8e4e4 3.7px 4.3px,#edecf6 4.3px 4.8px,#f0b0aa 4.8px 6.1px,#f4c8c6 6.1px 7.3px,#efa69f 7.3px 7.8px,#f8e5e6 7.8px 8.5px,#f4cac8 8.5px 9.4px,#f9e8e8 9.4px 9.9px,#f3c4c1 9.9px 10.6px,#f7dddd 10.6px 11.6px,#fbf4f7 11.6px 12.7px,#dadaef 12.7px 13.6px,#eeedf6 13.6px 14.1px,#faf4f6 14.1px 15.1px,#f4cac8 15.1px 16px,#f4c7c4 16px 17px,#f9e9ea 17px 18.1px,#f1b6b1 18.1px 18.6px,#eb887e 18.6px 19.9px,#faf4f6 19.9px 21px,#f2bdb9 21px 21.9px,#f5ccca 21.9px 22.6px,#f5d0ce 22.6px 23.5px,#f7dbdb 23.5px 24.4px,#a0a5d9 24.4px 25.5px,#f0aaa4 25.5px 26.4px,#afb3de 26.4px 26.9px,#c0c2e5 26.9px 27.4px)"></div><div style="left:251px;top:514.7px;width:14.3px;height:27.4px;background:linear-gradient(#f8e1e1 0px 1.3px,#f3c3c0 1.3px 2px,#f5cfcd 2px 2.7px,#d3d3ec 2.7px 3.6px,#cbcce9 3.6px 4.2px,#f9e7e8 4.2px 5.3px,#b5b8e1 5.3px 5.8px,#efa49d 5.8px 7px,#ed9a92 7px 8.3px,#fbf5f7 8.3px 9.5px,#fbf7f9 9.5px 10.5px,#f8e3e3 10.5px 11.3px,#ea857a 11.3px 11.8px,#d7d7ed 11.8px 12.6px,#dfdff1 12.6px 13.7px,#f6d7d6 13.7px 14.3px,#eeecf6 14.3px 15px,#f3c1bd 15px 16.2px,#e97d72 16.2px 17px,#f3c4c0 17px 17.9px,#e6e5f3 17.9px 18.4px,#f8e4e4 18.4px 19.4px,#fbf8fb 19.4px 20.7px,#d1d1eb 20.7px 21.9px,#f4c9c6 21.9px 22.6px,#efa8a2 22.6px 23.6px,#f5cdcb 23.6px 24.5px,#ec9188 24.5px 25.7px,#dedef0 25.7px 26.5px,#fbf4f6 26.5px 27px,#c4c6e6 27px 27.4px)"></div><div style="left:192.9px;top:546.4px;width:14.2px;height:38.1px;background:linear-gradient(#fbf8fb 0px 1.2px,#f2b8b4 1.2px 1.8px,#f5f3f9 1.8px 2.3px,#e4e3f2 2.3px 3.2px,#f6d7d6 3.2px 4px,#f2bcb8 4px 4.8px,#faf3f4 4.8px 5.9px,#f2f0f8 5.9px 7.1px,#f2bab6 7.1px 7.7px,#f8e4e4 7.7px 8.9px,#f1b6b1 8.9px 10px,#d7d8ee 10px 11.1px,#f6f4f9 11.1px 12.3px,#d9d9ee 12.3px 13.4px,#aaaedd 13.4px 14.1px,#c2c4e6 14.1px 15px,#f8e1e0 15px 15.9px,#f5cfcd 15.9px 17.2px,#e9e8f4 17.2px 18.2px,#e1e1f1 18.2px 19.4px,#f2b9b4 19.4px 20px,#d5d6ed 20px 20.5px,#f8e0e0 20.5px 21.2px,#bcbee3 21.2px 22.4px,#a5a9db 22.4px 23.3px,#fbf5f7 23.3px 24.1px,#f2f0f8 24.1px 25.1px,#d6d7ed 25.1px 25.9px,#abafdd 25.9px 26.4px,#faf0f2 26.4px 27.6px,#cdceea 27.6px 28.8px,#eea19a 28.8px 29.9px,#f8e2e2 29.9px 30.8px,#dadaef 30.8px 31.6px,#bec0e4 31.6px 32.3px,#f4f2f8 32.3px 33.2px,#d5d5ed 33.2px 34.3px,#b8bbe2 34.3px 35.5px,#f7dddc 35.5px 36.3px,#d0d0eb 36.3px 36.9px,#f8e1e1 36.9px 37.8px,#dadaef 37.8px 38.1px)"></div><div style="left:222.2px;top:546.4px;width:13.9px;height:38.1px;background:linear-gradient(#f2b9b4 0px 0.7px,#f3bfbb 0.7px 2px,#ec948b 2px 2.9px,#ee9f98 2.9px 3.4px,#f8f6fa 3.4px 4.4px,#ee9e96 4.4px 5.1px,#e6695b 5.1px 6.3px,#fbf8fa 6.3px 7px,#efa49e 7px 8.1px,#f5cfcd 8.1px 9.3px,#f1b6b2 9.3px 10px,#e0402e 10px 11px,#adb1de 11px 11.9px,#f4f2f9 11.9px 13.1px,#f4c6c3 13.1px 13.8px,#f1eff7 13.8px 14.4px,#f6d4d3 14.4px 15.4px,#ed9a92 15.4px 16.2px,#f4cbc8 16.2px 16.9px,#f7f4f9 16.9px 17.7px,#ed978e 17.7px 18.7px,#f1b3ae 18.7px 19.2px,#faf3f5 19.2px 19.8px,#f1b0ab 19.8px 20.3px,#bfc1e4 20.3px 21.4px,#cbcce9 21.4px 22.6px,#f3c1bd 22.6px 23.3px,#f6d8d7 23.3px 24.4px,#eb8d84 24.4px 25.3px,#f5d1cf 25.3px 26.6px,#d4d4ec 26.6px 27.4px,#e25140 27.4px 28.2px,#f4c8c5 28.2px 29.1px,#f3c0bd 29.1px 30.3px,#e0e0f1 30.3px 31.5px,#e66b5e 31.5px 32.6px,#e8796d 32.6px 33.8px,#e97f75 33.8px 34.8px,#f1b1ac 34.8px 35.7px,#ed978e 35.7px 36.5px,#ee9d95 36.5px 37.3px,#e2e1f2 37.3px 38.1px,#ea8379 38.1px 38.1px)"></div><div style="left:251px;top:546.4px;width:14.3px;height:38.1px;background:linear-gradient(#e1e0f1 0px 0.6px,#f1b1ac 0.6px 1.2px,#a5a9da 1.2px 1.9px,#efa6a0 1.9px 3.1px,#cacbe8 3.1px 4.2px,#eea099 4.2px 5px,#f2bab6 5px 5.6px,#f3bfbc 5.6px 6.2px,#f8e4e4 6.2px 7.2px,#f4c6c3 7.2px 7.9px,#efa39c 7.9px 8.8px,#f7f4f9 8.8px 9.5px,#e7e6f4 9.5px 10.6px,#ee9c94 10.6px 11.5px,#b2b5df 11.5px 12.5px,#ec958c 12.5px 13.4px,#b1b4df 13.4px 14.2px,#f6d9d8 14.2px 15px,#ec8f85 15px 15.7px,#ec948c 15.7px 16.2px,#d7d7ed 16.2px 17.3px,#f9eced 17.3px 18.6px,#eea099 18.6px 19.3px,#efa59e 19.3px 20.3px,#878ecf 20.3px 21.4px,#f2bcb8 21.4px 21.9px,#edebf6 21.9px 22.7px,#e77063 22.7px 23.6px,#fbf8fb 23.6px 24.1px,#e76e61 24.1px 25px,#f1b4af 25px 25.8px,#ee9c94 25.8px 26.5px,#eea29b 26.5px 27.3px,#f2bab6 27.3px 28.2px,#faf1f2 28.2px 29.2px,#faeff0 29.2px 29.7px,#fbf5f8 29.7px 30.3px,#e8e7f4 30.3px 30.9px,#f8e6e7 30.9px 31.9px,#f5cdcb 31.9px 32.7px,#f7dfdf 32.7px 33.3px,#ed9b93 33.3px 34.3px,#f8e0e0 34.3px 34.8px,#eea099 34.8px 35.5px,#f2bab5 35.5px 36.3px,#e97f74 36.3px 37.3px,#f1b4af 37.3px 37.9px,#ec9188 37.9px 38.1px)"></div><div style="left:209px;top:96.2px;width:9.7px;height:168.3px;background:linear-gradient(#ffffff 0px 14.7px,#b8b8e4 14.7px 15.6px,#ffffff 15.6px 18.4px,#cce6bc 18.4px 19.6px,#ffffff 19.6px 23.6px,#e0f0d8 23.6px 24.6px,#ffffff 24.6px 41.9px,#b8b8e4 41.9px 43.1px,#ffffff 43.1px 59.7px,#e0f0d8 59.7px 60.7px,#ffffff 60.7px 104.1px,#cce6bc 104.1px 104.7px,#ffffff 104.7px 109.8px,#e0e0e0 109.8px 110.8px,#ffffff 110.8px 120.6px,#9a9ad8 120.6px 121.2px,#ffffff 121.2px 127.3px,#9a9ad8 127.3px 127.9px,#ffffff 127.9px 143.8px,#e0e0e0 143.8px 145px,#ffffff 145px 147.4px,#9a9ad8 147.4px 148.3px,#ffffff 148.3px 161.5px,#b8b8e4 161.5px 162.4px,#ffffff 162.4px 168.3px)"></div><div style="left:238px;top:96.2px;width:10px;height:168.3px;background:linear-gradient(#ffffff 0px 13.5px,#a05040 13.5px 14.7px,#ffffff 14.7px 23.7px,#b86858 23.7px 24.3px,#ffffff 24.3px 72.6px,#d8b0a8 72.6px 73.6px,#ffffff 73.6px 85.9px,#a05040 85.9px 86.7px,#ffffff 86.7px 97.1px,#c4e2b0 97.1px 98.1px,#ffffff 98.1px 108.7px,#e0f0d8 108.7px 109.5px,#ffffff 109.5px 126.3px,#c4e2b0 126.3px 126.9px,#ffffff 126.9px 133.8px,#e0f0d8 133.8px 134.6px,#ffffff 134.6px 148.9px,#e0f0d8 148.9px 149.7px,#ffffff 149.7px 168.3px)"></div><div style="left:267.8px;top:96.2px;width:9.2px;height:168.3px;background:linear-gradient(#ffffff 0px 27.7px,#e0a89c 27.7px 28.3px,#ffffff 28.3px 106.9px,#c88878 106.9px 107.9px,#ffffff 107.9px 110.1px,#e0f0d8 110.1px 111px,#ffffff 111px 133.5px,#d8b0a8 133.5px 134.4px,#ffffff 134.4px 137px,#c88878 137px 137.7px,#ffffff 137.7px 138.4px,#c88878 138.4px 139.4px,#ffffff 139.4px 148.6px,#e0f0d8 148.6px 149.1px,#ffffff 149.1px 168.3px)"></div><div style="left:209px;top:268.1px;width:9.7px;height:32.8px;background:linear-gradient(#ffffff 0px 1.2px,#cce6bc 1.2px 2px,#ffffff 2px 3.7px,#c4e2b0 3.7px 4.8px,#ffffff 4.8px 7.3px,#c4e2b0 7.3px 8.4px,#ffffff 8.4px 10.5px,#e0f0d8 10.5px 11.7px,#ffffff 11.7px 12.5px,#e0f0d8 12.5px 13.2px,#ffffff 13.2px 16.7px,#cce6bc 16.7px 17.5px,#ffffff 17.5px 27.5px,#c4e2b0 27.5px 28.3px,#e0f0d8 28.3px 29.1px,#ffffff 29.1px 31.4px,#cce6bc 31.4px 32.4px,#e0e0e0 32.4px 32.8px)"></div><div style="left:238px;top:268.1px;width:10px;height:32.8px;background:linear-gradient(#ffffff 0px 2.2px,#c4e2b0 2.2px 3px,#e0a89c 3px 3.7px,#b86858 3.7px 4.7px,#ffffff 4.7px 5.6px,#cce6bc 5.6px 7.3px,#e0f0d8 7.3px 8.2px,#d8b0a8 8.2px 9px,#ffffff 9px 10px,#c4e2b0 10px 11px,#d4eac4 11px 12.9px,#c4e2b0 12.9px 13.6px,#d4eac4 13.6px 14.5px,#ffffff 14.5px 15.3px,#d8b0a8 15.3px 16.1px,#d4eac4 16.1px 16.9px,#a05040 16.9px 17.9px,#e0a89c 17.9px 18.8px,#ffffff 18.8px 21.7px,#c4e2b0 21.7px 22.6px,#c88878 22.6px 23.6px,#c4e2b0 23.6px 24.1px,#ffffff 24.1px 24.8px,#e0f0d8 24.8px 25.6px,#d8b0a8 25.6px 26.2px,#ffffff 26.2px 30.7px,#a05040 30.7px 31.7px,#ffffff 31.7px 32.7px,#b86858 32.7px 32.8px)"></div><div style="left:267.8px;top:268.1px;width:9.2px;height:32.8px;background:linear-gradient(#ffffff 0px 1px,#d4eac4 1px 2.1px,#ffffff 2.1px 3.8px,#c4e2b0 3.8px 4.3px,#e0f0d8 4.3px 5.3px,#ffffff 5.3px 7.1px,#cce6bc 7.1px 7.9px,#ffffff 7.9px 10.9px,#cce6bc 10.9px 11.5px,#ffffff 11.5px 12.1px,#d4eac4 12.1px 12.6px,#e0f0d8 12.6px 13.4px,#ffffff 13.4px 14.1px,#c4e2b0 14.1px 14.7px,#ffffff 14.7px 15.8px,#e0f0d8 15.8px 16.9px,#ffffff 16.9px 24.9px,#cce6bc 24.9px 25.8px,#ffffff 25.8px 26.6px,#d4eac4 26.6px 27.7px,#e0f0d8 27.7px 28.5px,#c4e2b0 28.5px 29.1px,#ffffff 29.1px 30px,#c4e2b0 30px 31.1px,#ffffff 31.1px 32.8px)"></div><div style="left:209px;top:305.2px;width:9.7px;height:23.4px;background:linear-gradient(#ffffff 0px 6.4px,#cce6bc 6.4px 7.6px,#ffffff 7.6px 9.2px,#cce6bc 9.2px 9.9px,#ffffff 9.9px 12.1px,#cce6bc 12.1px 12.6px,#e0f0d8 12.6px 13.7px,#e0e0e0 13.7px 14.8px,#ffffff 14.8px 15.8px,#cce6bc 15.8px 16.6px,#ffffff 16.6px 17.4px,#9a9ad8 17.4px 18px,#e0f0d8 18px 18.6px,#d4eac4 18.6px 19.3px,#ffffff 19.3px 23.4px)"></div><div style="left:238px;top:305.2px;width:10px;height:23.4px;background:linear-gradient(#cce6bc 0px 0.7px,#c4e2b0 0.7px 1.7px,#ffffff 1.7px 2.2px,#c88878 2.2px 2.8px,#ffffff 2.8px 5.3px,#a05040 5.3px 6.3px,#d8b0a8 6.3px 7px,#ffffff 7px 7.9px,#b86858 7.9px 8.7px,#e0f0d8 8.7px 9.9px,#ffffff 9.9px 13.7px,#d4eac4 13.7px 14.4px,#d8b0a8 14.4px 15.4px,#ffffff 15.4px 16px,#d8b0a8 16px 17.9px,#ffffff 17.9px 20.1px,#b86858 20.1px 20.8px,#e0f0d8 20.8px 22px,#c4e2b0 22px 22.7px,#ffffff 22.7px 23.4px)"></div><div style="left:267.8px;top:305.2px;width:9.2px;height:23.4px;background:linear-gradient(#ffffff 0px 0.7px,#d4eac4 0.7px 1.6px,#ffffff 1.6px 4.2px,#d4eac4 4.2px 4.8px,#ffffff 4.8px 5.7px,#d4eac4 5.7px 6.3px,#cce6bc 6.3px 7.2px,#ffffff 7.2px 9.5px,#d4eac4 9.5px 10px,#e0f0d8 10px 11.6px,#ffffff 11.6px 12.2px,#cce6bc 12.2px 13.4px,#ffffff 13.4px 17.9px,#e0f0d8 17.9px 18.7px,#cce6bc 18.7px 19.9px,#ffffff 19.9px 23.4px)"></div><div style="left:209px;top:332.3px;width:9.7px;height:29.5px;background:linear-gradient(#ffffff 0px 3px,#d4eac4 3px 3.7px,#ffffff 3.7px 4.4px,#b8b8e4 4.4px 5.2px,#ffffff 5.2px 9.1px,#b8b8e4 9.1px 9.9px,#ffffff 9.9px 11px,#e0f0d8 11px 12.1px,#ffffff 12.1px 13.2px,#9a9ad8 13.2px 14.1px,#ffffff 14.1px 14.7px,#e0f0d8 14.7px 15.8px,#ffffff 15.8px 17.2px,#cce6bc 17.2px 17.8px,#ffffff 17.8px 20px,#c4e2b0 20px 20.6px,#ffffff 20.6px 21.5px,#c4e2b0 21.5px 22.5px,#ffffff 22.5px 24.5px,#cce6bc 24.5px 25.4px,#ffffff 25.4px 28px,#d4eac4 28px 28.7px,#ffffff 28.7px 29.5px)"></div><div style="left:238px;top:332.3px;width:10px;height:29.5px;background:linear-gradient(#a05040 0px 1.2px,#ffffff 1.2px 1.7px,#a05040 1.7px 2.6px,#d4eac4 2.6px 3.3px,#c88878 3.3px 4.2px,#c4e2b0 4.2px 5.4px,#ffffff 5.4px 8px,#b86858 8px 8.7px,#ffffff 8.7px 10.4px,#e0a89c 10.4px 11.4px,#a05040 11.4px 11.9px,#ffffff 11.9px 12.8px,#c4e2b0 12.8px 13.4px,#d4eac4 13.4px 14px,#c4e2b0 14px 14.9px,#d4eac4 14.9px 16.9px,#ffffff 16.9px 18.6px,#e0f0d8 18.6px 19.6px,#ffffff 19.6px 22.5px,#c88878 22.5px 23.9px,#cce6bc 23.9px 25px,#d8b0a8 25px 25.6px,#d4eac4 25.6px 26.9px,#ffffff 26.9px 28px,#c88878 28px 29.2px,#ffffff 29.2px 29.5px)"></div><div style="left:267.8px;top:332.3px;width:9.2px;height:29.5px;background:linear-gradient(#ffffff 0px 3.6px,#d4eac4 3.6px 4.2px,#c4e2b0 4.2px 4.8px,#ffffff 4.8px 5.4px,#e0a89c 5.4px 6.4px,#ffffff 6.4px 7.5px,#cce6bc 7.5px 8.7px,#ffffff 8.7px 9.6px,#e0f0d8 9.6px 10.7px,#ffffff 10.7px 11.8px,#e0f0d8 11.8px 12.7px,#ffffff 12.7px 14.2px,#e0f0d8 14.2px 15.2px,#cce6bc 15.2px 15.7px,#d4eac4 15.7px 16.8px,#ffffff 16.8px 18.2px,#d4eac4 18.2px 19.4px,#ffffff 19.4px 23.7px,#e0f0d8 23.7px 24.6px,#c4e2b0 24.6px 25.2px,#ffffff 25.2px 26px,#e0f0d8 26px 27.7px,#ffffff 27.7px 28.6px,#cce6bc 28.6px 29.2px,#ffffff 29.2px 29.5px)"></div><div style="left:209px;top:366.1px;width:9.7px;height:19.4px;background:linear-gradient(#ffffff 0px 5.2px,#e0f0d8 5.2px 6.2px,#ffffff 6.2px 8.3px,#d4eac4 8.3px 9px,#ffffff 9px 16.9px,#cce6bc 16.9px 17.8px,#ffffff 17.8px 18.6px,#e0f0d8 18.6px 19.4px)"></div><div style="left:238px;top:366.1px;width:10px;height:19.4px;background:linear-gradient(#ffffff 0px 7.5px,#e0a89c 7.5px 8.5px,#cce6bc 8.5px 9.3px,#e0f0d8 9.3px 9.9px,#ffffff 9.9px 17.5px,#d4eac4 17.5px 18.7px,#ffffff 18.7px 19.4px)"></div><div style="left:267.8px;top:366.1px;width:9.2px;height:19.4px;background:linear-gradient(#ffffff 0px 1.3px,#e0f0d8 1.3px 2.1px,#c4e2b0 2.1px 3.2px,#ffffff 3.2px 4.8px,#c4e2b0 4.8px 5.5px,#ffffff 5.5px 7.4px,#c4e2b0 7.4px 8.3px,#ffffff 8.3px 10.9px,#e0f0d8 10.9px 12px,#c88878 12px 12.6px,#ffffff 12.6px 19.1px,#c4e2b0 19.1px 19.4px)"></div><div style="left:209px;top:389.4px;width:9.7px;height:83.9px;background:linear-gradient(#ffffff 0px 0.9px,#d4eac4 0.9px 4.7px,#c4e2b0 4.7px 5.7px,#e0f0d8 5.7px 6.5px,#d4eac4 6.5px 7.6px,#ffffff 7.6px 8.7px,#c4e2b0 8.7px 9.8px,#e0f0d8 9.8px 12.2px,#d4eac4 12.2px 13.3px,#e0f0d8 13.3px 13.8px,#d4eac4 13.8px 14.9px,#e0f0d8 14.9px 15.8px,#d4eac4 15.8px 16.8px,#e0f0d8 16.8px 18.3px,#d4eac4 18.3px 21.6px,#e0f0d8 21.6px 23.6px,#cce6bc 23.6px 25px,#d4eac4 25px 26.7px,#c4e2b0 26.7px 28.9px,#d4eac4 28.9px 29.5px,#ffffff 29.5px 30.1px,#c4e2b0 30.1px 30.7px,#cce6bc 30.7px 31.4px,#e0f0d8 31.4px 31.9px,#cce6bc 31.9px 32.4px,#ffffff 32.4px 33.5px,#cce6bc 33.5px 35.6px,#c4e2b0 35.6px 36.6px,#cce6bc 36.6px 38.5px,#ffffff 38.5px 39.5px,#cce6bc 39.5px 40.2px,#ffffff 40.2px 41.9px,#cce6bc 41.9px 42.7px,#d4eac4 42.7px 43.8px,#c4e2b0 43.8px 44.7px,#ffffff 44.7px 45.2px,#e0f0d8 45.2px 46.2px,#ffffff 46.2px 46.8px,#b8b8e4 46.8px 47.6px,#ffffff 47.6px 49.6px,#e0f0d8 49.6px 50.1px,#cce6bc 50.1px 51.7px,#e0f0d8 51.7px 52.8px,#d4eac4 52.8px 53.7px,#cce6bc 53.7px 54.4px,#ffffff 54.4px 55.6px,#d4eac4 55.6px 56.6px,#e0f0d8 56.6px 57.9px,#c4e2b0 57.9px 59.5px,#cce6bc 59.5px 60.7px,#d4eac4 60.7px 61.8px,#e0f0d8 61.8px 62.8px,#ffffff 62.8px 63.9px,#cce6bc 63.9px 65.7px,#d4eac4 65.7px 66.3px,#c4e2b0 66.3px 67.4px,#ffffff 67.4px 69.2px,#c4e2b0 69.2px 69.7px,#cce6bc 69.7px 70.7px,#c4e2b0 70.7px 72.4px,#ffffff 72.4px 73.1px,#c4e2b0 73.1px 73.7px,#ffffff 73.7px 74.8px,#e0f0d8 74.8px 76.9px,#d4eac4 76.9px 77.6px,#cce6bc 77.6px 80px,#d4eac4 80px 80.7px,#c4e2b0 80.7px 81.7px,#e0f0d8 81.7px 83.4px,#c4e2b0 83.4px 83.9px)"></div><div style="left:238px;top:389.4px;width:10px;height:83.9px;background:linear-gradient(#c4e2b0 0px 0.5px,#e0f0d8 0.5px 1.1px,#cce6bc 1.1px 2.3px,#ffffff 2.3px 2.9px,#d8b0a8 2.9px 3.4px,#e0f0d8 3.4px 4.5px,#cce6bc 4.5px 5.7px,#d4eac4 5.7px 6.6px,#c4e2b0 6.6px 7.4px,#ffffff 7.4px 8px,#c4e2b0 8px 9.9px,#b86858 9.9px 10.7px,#c4e2b0 10.7px 11.3px,#ffffff 11.3px 12.9px,#c4e2b0 12.9px 16.1px,#ffffff 16.1px 17.3px,#cce6bc 17.3px 18.2px,#e0f0d8 18.2px 19.4px,#cce6bc 19.4px 19.9px,#c4e2b0 19.9px 20.8px,#d4eac4 20.8px 21.9px,#d8b0a8 21.9px 22.5px,#ffffff 22.5px 23.5px,#c4e2b0 23.5px 24.6px,#d4eac4 24.6px 25.7px,#c4e2b0 25.7px 26.7px,#cce6bc 26.7px 28.2px,#d4eac4 28.2px 29px,#e0f0d8 29px 30.1px,#d4eac4 30.1px 31.2px,#c4e2b0 31.2px 32px,#e0f0d8 32px 32.6px,#d4eac4 32.6px 33.2px,#c4e2b0 33.2px 33.9px,#a05040 33.9px 34.7px,#c4e2b0 34.7px 35.7px,#cce6bc 35.7px 36.4px,#d4eac4 36.4px 37.4px,#ffffff 37.4px 38.5px,#e0f0d8 38.5px 39.1px,#d8b0a8 39.1px 40.2px,#c4e2b0 40.2px 41.2px,#ffffff 41.2px 42.2px,#a05040 42.2px 43px,#e0a89c 43px 43.8px,#cce6bc 43.8px 44.8px,#c4e2b0 44.8px 45.8px,#e0f0d8 45.8px 46.9px,#c4e2b0 46.9px 47.8px,#e0f0d8 47.8px 48.9px,#cce6bc 48.9px 49.6px,#ffffff 49.6px 51.4px,#e0f0d8 51.4px 52.3px,#c4e2b0 52.3px 53.4px,#d4eac4 53.4px 54.6px,#e0f0d8 54.6px 55.2px,#d4eac4 55.2px 55.8px,#e0f0d8 55.8px 56.5px,#c4e2b0 56.5px 57.4px,#e0f0d8 57.4px 58.4px,#c4e2b0 58.4px 59.4px,#cce6bc 59.4px 60.5px,#ffffff 60.5px 62.4px,#cce6bc 62.4px 63.1px,#c4e2b0 63.1px 63.6px,#ffffff 63.6px 65.3px,#e0f0d8 65.3px 66.2px,#ffffff 66.2px 66.7px,#d4eac4 66.7px 67.7px,#cce6bc 67.7px 68.8px,#c4e2b0 68.8px 69.9px,#e0f0d8 69.9px 70.5px,#c4e2b0 70.5px 71.6px,#e0f0d8 71.6px 72.7px,#ffffff 72.7px 74px,#e0f0d8 74px 76.1px,#ffffff 76.1px 76.6px,#cce6bc 76.6px 77.4px,#e0f0d8 77.4px 78.5px,#d4eac4 78.5px 79.5px,#e0f0d8 79.5px 80.1px,#c4e2b0 80.1px 80.7px,#d4eac4 80.7px 81.3px,#ffffff 81.3px 82px,#c4e2b0 82px 82.8px,#e0f0d8 82.8px 83.9px)"></div><div style="left:267.8px;top:389.4px;width:9.2px;height:83.9px;background:linear-gradient(#cce6bc 0px 0.8px,#ffffff 0.8px 2.2px,#cce6bc 2.2px 3px,#e0f0d8 3px 4px,#d4eac4 4px 7.7px,#cce6bc 7.7px 9.4px,#ffffff 9.4px 10.4px,#d4eac4 10.4px 11.4px,#ffffff 11.4px 12.4px,#c4e2b0 12.4px 13px,#ffffff 13px 14.1px,#e0f0d8 14.1px 14.8px,#d4eac4 14.8px 15.4px,#ffffff 15.4px 16.1px,#e0f0d8 16.1px 16.9px,#c4e2b0 16.9px 17.9px,#d4eac4 17.9px 18.5px,#ffffff 18.5px 19.1px,#c4e2b0 19.1px 20.3px,#ffffff 20.3px 21.8px,#d4eac4 21.8px 22.8px,#c4e2b0 22.8px 23.5px,#ffffff 23.5px 24.1px,#e0f0d8 24.1px 24.8px,#d4eac4 24.8px 26.5px,#e0f0d8 26.5px 27px,#c4e2b0 27px 27.6px,#cce6bc 27.6px 29.3px,#e0f0d8 29.3px 29.9px,#cce6bc 29.9px 30.9px,#c4e2b0 30.9px 31.7px,#cce6bc 31.7px 33.7px,#e0f0d8 33.7px 35.9px,#cce6bc 35.9px 37.1px,#ffffff 37.1px 37.6px,#d4eac4 37.6px 38.6px,#ffffff 38.6px 39.5px,#cce6bc 39.5px 40px,#c4e2b0 40px 41.2px,#d4eac4 41.2px 42.6px,#cce6bc 42.6px 43.2px,#ffffff 43.2px 44.4px,#c4e2b0 44.4px 46px,#ffffff 46px 47.5px,#e0f0d8 47.5px 48.3px,#d4eac4 48.3px 49.7px,#cce6bc 49.7px 50.4px,#c4e2b0 50.4px 51.5px,#e0f0d8 51.5px 52.4px,#d4eac4 52.4px 53.3px,#e0f0d8 53.3px 53.9px,#d4eac4 53.9px 54.8px,#c4e2b0 54.8px 55.5px,#cce6bc 55.5px 56.2px,#e0f0d8 56.2px 56.9px,#ffffff 56.9px 58.7px,#c4e2b0 58.7px 59.3px,#cce6bc 59.3px 61.2px,#ffffff 61.2px 62.3px,#d4eac4 62.3px 63px,#ffffff 63px 64.4px,#e0f0d8 64.4px 65.4px,#c4e2b0 65.4px 67px,#cce6bc 67px 67.7px,#ffffff 67.7px 68.5px,#cce6bc 68.5px 69.3px,#e0f0d8 69.3px 70.3px,#ffffff 70.3px 71.4px,#cce6bc 71.4px 72.3px,#c4e2b0 72.3px 72.9px,#e0f0d8 72.9px 74.1px,#c4e2b0 74.1px 75.5px,#ffffff 75.5px 77.1px,#e0f0d8 77.1px 78.4px,#d4eac4 78.4px 79.2px,#cce6bc 79.2px 79.8px,#d4eac4 79.8px 80.9px,#c4e2b0 80.9px 81.6px,#ffffff 81.6px 83.3px,#d4eac4 83.3px 83.9px)"></div><div style="left:209px;top:477.2px;width:9.7px;height:33.3px;background:linear-gradient(#c4e2b0 0px 0.6px,#ffffff 0.6px 6.4px,#e0f0d8 6.4px 7.2px,#ffffff 7.2px 8.1px,#d4eac4 8.1px 8.7px,#ffffff 8.7px 11px,#e0f0d8 11px 12.1px,#cce6bc 12.1px 13.2px,#ffffff 13.2px 14.1px,#e0f0d8 14.1px 14.7px,#ffffff 14.7px 15.7px,#d4eac4 15.7px 16.9px,#c4e2b0 16.9px 17.7px,#ffffff 17.7px 18.6px,#c4e2b0 18.6px 19.6px,#ffffff 19.6px 23.3px,#e0f0d8 23.3px 24.3px,#ffffff 24.3px 26.5px,#d4eac4 26.5px 27px,#ffffff 27px 28.2px,#c4e2b0 28.2px 28.8px,#ffffff 28.8px 32.5px,#d4eac4 32.5px 33.2px,#c4e2b0 33.2px 33.3px)"></div><div style="left:238px;top:477.2px;width:10px;height:33.3px;background:linear-gradient(#ffffff 0px 0.9px,#cce6bc 0.9px 1.8px,#e0a89c 1.8px 2.6px,#c4e2b0 2.6px 3.8px,#e0f0d8 3.8px 4.8px,#d4eac4 4.8px 5.9px,#e0a89c 5.9px 6.9px,#ffffff 6.9px 8.5px,#d8b0a8 8.5px 9.5px,#ffffff 9.5px 11px,#c88878 11px 11.7px,#c4e2b0 11.7px 12.7px,#ffffff 12.7px 13.9px,#cce6bc 13.9px 14.4px,#ffffff 14.4px 16px,#cce6bc 16px 17px,#e0a89c 17px 18px,#cce6bc 18px 20.6px,#c4e2b0 20.6px 21.4px,#d8b0a8 21.4px 22.1px,#c4e2b0 22.1px 22.8px,#e0f0d8 22.8px 23.5px,#d8b0a8 23.5px 24.1px,#ffffff 24.1px 25.1px,#d4eac4 25.1px 26px,#e0a89c 26px 26.9px,#d4eac4 26.9px 27.5px,#b86858 27.5px 28.4px,#cce6bc 28.4px 29px,#d8b0a8 29px 29.9px,#c4e2b0 29.9px 30.8px,#e0f0d8 30.8px 31.8px,#ffffff 31.8px 32.3px,#d4eac4 32.3px 32.9px,#c88878 32.9px 33.3px)"></div><div style="left:267.8px;top:477.2px;width:9.2px;height:33.3px;background:linear-gradient(#cce6bc 0px 1px,#ffffff 1px 1.6px,#d4eac4 1.6px 2.7px,#ffffff 2.7px 3.6px,#d4eac4 3.6px 4.3px,#ffffff 4.3px 6.6px,#c4e2b0 6.6px 7.5px,#e0f0d8 7.5px 8.5px,#c4e2b0 8.5px 9.2px,#cce6bc 9.2px 10px,#ffffff 10px 10.8px,#c4e2b0 10.8px 11.3px,#cce6bc 11.3px 13.3px,#ffffff 13.3px 14.4px,#d4eac4 14.4px 15.3px,#c4e2b0 15.3px 17px,#e0f0d8 17px 17.5px,#c4e2b0 17.5px 19.5px,#ffffff 19.5px 21.9px,#c4e2b0 21.9px 22.9px,#ffffff 22.9px 27.1px,#d4eac4 27.1px 27.7px,#cce6bc 27.7px 28.9px,#ffffff 28.9px 29.7px,#c4e2b0 29.7px 30.6px,#ffffff 30.6px 31.5px,#c4e2b0 31.5px 33.3px,#d4eac4 33.3px 33.3px)"></div><div style="left:209px;top:514.7px;width:9.7px;height:27.4px;background:linear-gradient(#ffffff 0px 4.1px,#cce6bc 4.1px 5.1px,#ffffff 5.1px 11.6px,#cce6bc 11.6px 12.7px,#ffffff 12.7px 13.6px,#c4e2b0 13.6px 14.1px,#ffffff 14.1px 18.8px,#b8b8e4 18.8px 19.6px,#ffffff 19.6px 27.4px)"></div><div style="left:238px;top:514.7px;width:10px;height:27.4px;background:linear-gradient(#ffffff 0px 11.8px,#c4e2b0 11.8px 12.8px,#ffffff 12.8px 19.1px,#d8b0a8 19.1px 19.7px,#ffffff 19.7px 22.7px,#d8b0a8 22.7px 23.4px,#ffffff 23.4px 27.4px)"></div><div style="left:267.8px;top:514.7px;width:9.2px;height:27.4px;background:linear-gradient(#ffffff 0px 5.6px,#c4e2b0 5.6px 6.6px,#ffffff 6.6px 13.1px,#e0f0d8 13.1px 14px,#ffffff 14px 18.6px,#cce6bc 18.6px 19.6px,#ffffff 19.6px 20.5px,#e0f0d8 20.5px 21.2px,#ffffff 21.2px 24.7px,#d4eac4 24.7px 25.5px,#ffffff 25.5px 27.4px)"></div><div style="left:209px;top:546.4px;width:9.7px;height:38.1px;background:linear-gradient(#cce6bc 0px 0.5px,#ffffff 0.5px 1.5px,#c4e2b0 1.5px 2px,#e0f0d8 2px 2.8px,#cce6bc 2.8px 4.4px,#ffffff 4.4px 5px,#c4e2b0 5px 6.1px,#e0f0d8 6.1px 6.8px,#c4e2b0 6.8px 8.6px,#ffffff 8.6px 9.5px,#cce6bc 9.5px 10.2px,#ffffff 10.2px 10.9px,#e0f0d8 10.9px 12.6px,#d4eac4 12.6px 13.8px,#ffffff 13.8px 16.4px,#e0f0d8 16.4px 17.5px,#c4e2b0 17.5px 18.2px,#cce6bc 18.2px 19.3px,#e0f0d8 19.3px 20.1px,#d4eac4 20.1px 21.1px,#c4e2b0 21.1px 22.1px,#ffffff 22.1px 22.7px,#c4e2b0 22.7px 23.4px,#ffffff 23.4px 24px,#d4eac4 24px 24.6px,#cce6bc 24.6px 25.2px,#ffffff 25.2px 26px,#c4e2b0 26px 26.6px,#e0f0d8 26.6px 28.2px,#d4eac4 28.2px 29.2px,#cce6bc 29.2px 30.4px,#d4eac4 30.4px 30.9px,#ffffff 30.9px 31.6px,#d4eac4 31.6px 32.6px,#c4e2b0 32.6px 33.1px,#cce6bc 33.1px 34.9px,#e0f0d8 34.9px 35.9px,#cce6bc 35.9px 37px,#ffffff 37px 38.1px)"></div><div style="left:238px;top:546.4px;width:10px;height:38.1px;background:linear-gradient(#c4e2b0 0px 0.9px,#ffffff 0.9px 1.6px,#d4eac4 1.6px 2.7px,#c4e2b0 2.7px 3.6px,#d4eac4 3.6px 4.6px,#c4e2b0 4.6px 5.2px,#d4eac4 5.2px 6.3px,#e0f0d8 6.3px 6.9px,#c4e2b0 6.9px 7.5px,#ffffff 7.5px 8px,#c88878 8px 9.1px,#d4eac4 9.1px 10.2px,#ffffff 10.2px 13.9px,#cce6bc 13.9px 14.9px,#e0f0d8 14.9px 15.7px,#c4e2b0 15.7px 16.7px,#cce6bc 16.7px 17.9px,#ffffff 17.9px 18.9px,#d4eac4 18.9px 19.6px,#c4e2b0 19.6px 20.2px,#cce6bc 20.2px 21.4px,#c4e2b0 21.4px 22.5px,#e0f0d8 22.5px 23.6px,#c4e2b0 23.6px 24.5px,#d4eac4 24.5px 27.8px,#c4e2b0 27.8px 29.4px,#ffffff 29.4px 30.4px,#c4e2b0 30.4px 32.9px,#d4eac4 32.9px 33.7px,#e0f0d8 33.7px 36.3px,#c4e2b0 36.3px 36.9px,#ffffff 36.9px 38.1px)"></div><div style="left:267.8px;top:546.4px;width:9.2px;height:38.1px;background:linear-gradient(#e0f0d8 0px 0.7px,#d4eac4 0.7px 1.8px,#ffffff 1.8px 4.7px,#e0f0d8 4.7px 5.6px,#ffffff 5.6px 6.4px,#e0f0d8 6.4px 8.1px,#d4eac4 8.1px 8.9px,#e0f0d8 8.9px 10.8px,#d4eac4 10.8px 12.5px,#c4e2b0 12.5px 13.6px,#cce6bc 13.6px 14.3px,#d4eac4 14.3px 16.9px,#ffffff 16.9px 17.9px,#e0f0d8 17.9px 18.7px,#ffffff 18.7px 19.3px,#cce6bc 19.3px 21.9px,#e0f0d8 21.9px 22.5px,#d4eac4 22.5px 25.1px,#ffffff 25.1px 25.7px,#cce6bc 25.7px 26.3px,#d4eac4 26.3px 27.2px,#e0f0d8 27.2px 28.2px,#ffffff 28.2px 29.3px,#c4e2b0 29.3px 29.9px,#cce6bc 29.9px 30.5px,#d4eac4 30.5px 31.3px,#ffffff 31.3px 32.4px,#d4eac4 32.4px 33.4px,#d8b0a8 33.4px 34px,#ffffff 34px 34.8px,#d4eac4 34.8px 35.3px,#e0f0d8 35.3px 36.9px,#c4e2b0 36.9px 37.6px,#ffffff 37.6px 38.1px)"></div><div style="left:284.8px;top:96.2px;width:27.3px;height:168.3px;background:linear-gradient(#403491 0px 6.5px,#3f3491 6.5px 13.1px,#413392 13.1px 16.1px,#3f3491 16.1px 20.5px,#3e3590 20.5px 23.4px,#3f3491 23.4px 27.8px,#423392 27.8px 32.3px,#403491 32.3px 35.8px,#3f3491 35.8px 37.9px,#423392 37.9px 42.2px,#403491 42.2px 46.5px,#433392 46.5px 49.1px,#403491 49.1px 53.9px,#3f3491 53.9px 58.8px,#403491 58.8px 67px,#3d3590 67px 69.4px,#3f3491 69.4px 72.7px,#403491 72.7px 76.2px,#413392 76.2px 79.9px,#403491 79.9px 84.2px,#413392 84.2px 87.8px,#3f3491 87.8px 92.4px,#3e3590 92.4px 96.7px,#443393 96.7px 101.3px,#423392 101.3px 104.3px,#413491 104.3px 109.2px,#403491 109.2px 113.8px,#3f3491 113.8px 116.6px,#3e3491 116.6px 119px,#413492 119px 123px,#403491 123px 131.4px,#413491 131.4px 134.7px,#3e3590 134.7px 138.2px,#423392 138.2px 140.7px,#403491 140.7px 144px,#423392 144px 146.6px,#3f3491 146.6px 148.9px,#423392 148.9px 155.1px,#403491 155.1px 159.4px,#3f3491 159.4px 161.9px,#413492 161.9px 164.5px,#403491 164.5px 168.3px)"></div><div style="left:284.8px;top:268.1px;width:27.3px;height:32.8px;background:linear-gradient(#3f3491 0px 3.4px,#3d3590 3.4px 5.7px,#3e3591 5.7px 8.1px,#3e3491 8.1px 12.9px,#403491 12.9px 20.2px,#413392 20.2px 23.5px,#403491 23.5px 27.5px,#3f3491 27.5px 32px,#403491 32px 32.8px)"></div><div style="left:284.8px;top:305.2px;width:27.3px;height:23.4px;background:linear-gradient(#433392 0px 3.1px,#413392 3.1px 7px,#413491 7px 11.4px,#433392 11.4px 13.8px,#413492 13.8px 18.4px,#423392 18.4px 20.6px,#413492 20.6px 23.4px)"></div><div style="left:284.8px;top:332.3px;width:27.3px;height:29.5px;background:linear-gradient(#423392 0px 3.3px,#413392 3.3px 8px,#3d3590 8px 11.9px,#423392 11.9px 16.3px,#3f3491 16.3px 20.4px,#403491 20.4px 22.9px,#433393 22.9px 27.8px,#3f3491 27.8px 29.5px)"></div><div style="left:284.8px;top:366.1px;width:27.3px;height:19.4px;background:linear-gradient(#413492 0px 3.5px,#423392 3.5px 6.2px,#3f3491 6.2px 9.3px,#3e3590 9.3px 13.2px,#413392 13.2px 17.4px,#3d3590 17.4px 19.4px)"></div><div style="left:284.8px;top:389.4px;width:27.3px;height:83.9px;background:linear-gradient(#403491 0px 2.6px,#413392 2.6px 4.8px,#413492 4.8px 8.2px,#403491 8.2px 11.6px,#3f3491 11.6px 16.1px,#403491 16.1px 24.5px,#413392 24.5px 28.2px,#413492 28.2px 31.8px,#413392 31.8px 35.7px,#403491 35.7px 40.7px,#443293 40.7px 44.6px,#403491 44.6px 49.4px,#3f3491 49.4px 57.1px,#3e3590 57.1px 61.8px,#3e3591 61.8px 65.8px,#3e3590 65.8px 70.8px,#403491 70.8px 75.2px,#3d3590 75.2px 80.1px,#403491 80.1px 83.9px)"></div><div style="left:284.8px;top:477.2px;width:27.3px;height:33.3px;background:linear-gradient(#3e3590 0px 3.2px,#3f3491 3.2px 6.3px,#403491 6.3px 12.5px,#413392 12.5px 15.6px,#413491 15.6px 18.8px,#3f3491 18.8px 21.7px,#403491 21.7px 26px,#413392 26px 30.4px,#403491 30.4px 33.3px)"></div><div style="left:284.8px;top:514.7px;width:27.3px;height:27.4px;background:linear-gradient(#423392 0px 2.9px,#3f3491 2.9px 10.9px,#3e3590 10.9px 15.1px,#423392 15.1px 17.9px,#433392 17.9px 20.8px,#3f3491 20.8px 26.1px,#3e3591 26.1px 27.4px)"></div><div style="left:284.8px;top:546.4px;width:27.3px;height:38.1px;background:linear-gradient(#423392 0px 3px,#403491 3px 13.5px,#3e3590 13.5px 17.2px,#3d3590 17.2px 21.9px,#423392 21.9px 32.5px,#403491 32.5px 37.4px,#3f3491 37.4px 38.1px)"></div><div style="left:321px;top:96.2px;width:27.8px;height:168.3px;background:linear-gradient(#e77d5c 0px 2.3px,#e47462 2.3px 3.9px,#e9805b 3.9px 5.5px,#e77c5d 5.5px 7.7px,#e6795f 7.7px 9.1px,#e9805b 9.1px 10.4px,#e67b5e 10.4px 12.7px,#e37462 12.7px 15px,#e47661 15px 16.6px,#e77c5d 16.6px 18.2px,#e67a5e 18.2px 20px,#ea8458 20px 21.9px,#e87f5b 21.9px 24.2px,#e9805a 24.2px 26px,#e27164 26px 27.4px,#e67b5e 27.4px 29.3px,#e27164 29.3px 30.5px,#e57860 30.5px 31.7px,#e98259 31.7px 32.8px,#e57760 32.8px 34.6px,#e67a5f 34.6px 36.1px,#e87f5b 36.1px 38.4px,#e6795f 38.4px 40px,#eb8656 40px 41.6px,#e5785f 41.6px 42.9px,#e67b5e 42.9px 44.6px,#eb8855 44.6px 46.7px,#e87f5b 46.7px 48.6px,#e77c5d 48.6px 50.6px,#ec8c52 50.6px 52.7px,#e9805b 52.7px 54.7px,#eb8855 54.7px 57.2px,#e98359 57.2px 58.4px,#ea8359 58.4px 60.1px,#ee914f 60.1px 61.3px,#eb8955 61.3px 63.8px,#e98259 63.8px 65.6px,#e67a5e 65.6px 66.6px,#e77d5d 66.6px 67.9px,#e77d5c 67.9px 69.7px,#eb8755 69.7px 71.6px,#ea8657 71.6px 73px,#e9805b 73px 75.1px,#e87e5c 75.1px 76.8px,#e8805b 76.8px 79.3px,#eb8756 79.3px 80.5px,#ec8c52 80.5px 82.8px,#e9815a 82.8px 84.7px,#e47561 84.7px 85.7px,#e27263 85.7px 87.7px,#e47562 87.7px 89.8px,#ec8d52 89.8px 91.1px,#e27263 91.1px 92.7px,#e67a5e 92.7px 93.9px,#e87f5b 93.9px 95.3px,#e47661 95.3px 96.7px,#e87f5b 96.7px 99.1px,#dc636d 99.1px 101.6px,#e98259 101.6px 103.4px,#e9815a 103.4px 104.4px,#eb8656 104.4px 106.5px,#ec8d52 106.5px 108.7px,#e06b67 108.7px 110.3px,#ed8d51 110.3px 112px,#eb8656 112px 113.2px,#e57760 113.2px 114.5px,#eb8855 114.5px 117px,#e9815a 117px 118.8px,#e47562 118.8px 120px,#e67a5f 120px 122.4px,#e27164 122.4px 123.7px,#ea8458 123.7px 125.8px,#e77c5d 125.8px 126.9px,#eb8954 126.9px 129.1px,#e77c5d 129.1px 131.5px,#e67b5e 131.5px 133.8px,#e37462 133.8px 135.7px,#ec8c52 135.7px 137.3px,#e67b5e 137.3px 139.4px,#eb8855 139.4px 141.6px,#eb8954 141.6px 142.9px,#e9825a 142.9px 145.2px,#e87f5b 145.2px 147.5px,#e67b5e 147.5px 150px,#e87e5c 150px 152.4px,#ea8359 152.4px 154.1px,#ea8557 154.1px 156.2px,#eb8855 156.2px 158.4px,#ea8557 158.4px 160.7px,#e87f5b 160.7px 163.1px,#e47661 163.1px 164.5px,#e57760 164.5px 166.8px,#e77b5d 166.8px 168.3px)"></div><div style="left:352.2px;top:96.2px;width:27.8px;height:168.3px;background:linear-gradient(#e9825a 0px 1px,#ea8458 1px 3px,#e47561 3px 4.8px,#e57760 4.8px 6.1px,#de6869 6.1px 8.6px,#e8805b 8.6px 9.6px,#ed904f 9.6px 11.4px,#e37363 11.4px 12.4px,#e37263 12.4px 14.3px,#e27064 14.3px 16.6px,#e67b5e 16.6px 17.7px,#e06b67 17.7px 19.5px,#ed8d51 19.5px 21.8px,#e6795f 21.8px 23.4px,#ea8557 23.4px 25.3px,#e27164 25.3px 26.4px,#e67a5e 26.4px 28.1px,#ea8458 28.1px 30.2px,#dd656b 30.2px 31.3px,#e16e66 31.3px 33.1px,#e87e5c 33.1px 35.3px,#ec8b53 35.3px 36.9px,#e77b5d 36.9px 38.6px,#e27164 38.6px 40.5px,#e67b5e 40.5px 42.8px,#df6a68 42.8px 44.9px,#e98259 44.9px 47.1px,#e77c5d 47.1px 49.3px,#e67b5e 49.3px 50.3px,#e37263 50.3px 52.3px,#e98359 52.3px 54.8px,#de676a 54.8px 56.8px,#e9815a 56.8px 58.5px,#e37362 58.5px 60.9px,#e06d66 60.9px 63.1px,#e37363 63.1px 64.1px,#e87f5b 64.1px 65.2px,#ea8558 65.2px 67.7px,#ed8f50 67.7px 69.8px,#e9805b 69.8px 71.7px,#e67a5e 71.7px 73.5px,#e6795f 73.5px 74.8px,#e87e5c 74.8px 76px,#e47562 76px 77.1px,#e37462 77.1px 79.2px,#e77d5c 79.2px 80.2px,#e8805b 80.2px 82.3px,#dd666a 82.3px 83.7px,#e67b5e 83.7px 85.6px,#e57760 85.6px 87.4px,#e67b5e 87.4px 89.2px,#eb8855 89.2px 90.5px,#ec8b53 90.5px 92.2px,#e87f5b 92.2px 94.3px,#ea8657 94.3px 96.6px,#ea8358 96.6px 97.8px,#dd666b 97.8px 99.4px,#e77e5c 99.4px 100.7px,#de676a 100.7px 102.9px,#dc636c 102.9px 105px,#e5795f 105px 107px,#e57760 107px 108.9px,#ea8557 108.9px 111.3px,#e57860 111.3px 113.2px,#e06b67 113.2px 115.1px,#e57860 115.1px 117.2px,#e37263 117.2px 119.3px,#e16e66 119.3px 120.5px,#e9815a 120.5px 122.9px,#e5795f 122.9px 124.7px,#eb8756 124.7px 127.1px,#e77c5d 127.1px 129px,#eb8954 129px 130.2px,#e37462 130.2px 132.3px,#e47562 132.3px 136.2px,#e67a5e 136.2px 137.8px,#eb8656 137.8px 139px,#e87e5c 139px 140.2px,#e16e66 140.2px 141.9px,#e77d5d 141.9px 143.7px,#de676a 143.7px 144.8px,#e5795f 144.8px 145.9px,#e37462 145.9px 146.9px,#eb8855 146.9px 148.5px,#e8805b 148.5px 150px,#ea8557 150px 152px,#e67b5e 152px 154.4px,#ea8359 154.4px 156.4px,#e47661 156.4px 158.3px,#e87e5c 158.3px 159.7px,#e77d5d 159.7px 161.1px,#e77c5d 161.1px 162.2px,#e67b5e 162.2px 164.7px,#e27164 164.7px 167.1px,#e8805b 167.1px 168.3px)"></div><div style="left:321px;top:268.1px;width:27.8px;height:32.8px;background:linear-gradient(#e67a5f 0px 2.1px,#e47561 2.1px 4.3px,#e77c5d 4.3px 6.6px,#e98259 6.6px 7.6px,#e77c5d 7.6px 9.7px,#e6795f 9.7px 11.3px,#ea8458 11.3px 13.2px,#e06d66 13.2px 15.1px,#e9815a 15.1px 17.1px,#e47661 17.1px 18.6px,#e67a5e 18.6px 20.7px,#e67b5e 20.7px 23px,#ec8a54 23px 25.1px,#dd656b 25.1px 26.6px,#e98259 26.6px 27.9px,#e8805b 27.9px 30px,#e77d5d 30px 31.2px,#e47661 31.2px 32.8px)"></div><div style="left:352.2px;top:268.1px;width:27.8px;height:32.8px;background:linear-gradient(#e47562 0px 2.4px,#ea8458 2.4px 4.5px,#dc646c 4.5px 6.6px,#e98259 6.6px 8.1px,#e87f5b 8.1px 9.3px,#e67b5e 9.3px 10.9px,#e77c5d 10.9px 12.4px,#e9815a 12.4px 14.6px,#da5f6f 14.6px 16.2px,#e37263 16.2px 18.2px,#e5785f 18.2px 19.2px,#df6b67 19.2px 20.2px,#e57760 20.2px 21.8px,#eb8656 21.8px 23.5px,#e37462 23.5px 25.2px,#e67a5f 25.2px 26.8px,#de6869 26.8px 28.4px,#e87f5b 28.4px 29.5px,#e67a5e 29.5px 30.7px,#e5785f 30.7px 32.1px,#e06c67 32.1px 32.8px)"></div><div style="left:321px;top:305.2px;width:27.8px;height:23.4px;background:linear-gradient(#e9815a 0px 1.4px,#e27164 1.4px 3.7px,#ed8e51 3.7px 5.1px,#e77d5c 5.1px 7px,#e77c5d 7px 9.2px,#e98359 9.2px 10.2px,#ea8657 10.2px 11.8px,#e47661 11.8px 13.4px,#e37462 13.4px 15.7px,#ea8358 15.7px 17.7px,#ea8557 17.7px 19.6px,#ec8c52 19.6px 21.9px,#ea8458 21.9px 23.4px)"></div><div style="left:352.2px;top:305.2px;width:27.8px;height:23.4px;background:linear-gradient(#eb8756 0px 1.2px,#e77e5c 1.2px 3px,#e87f5b 3px 4.5px,#eb8656 4.5px 6.1px,#ea8557 6.1px 7.1px,#eb8955 7.1px 9.6px,#e27164 9.6px 11.7px,#e67b5e 11.7px 13px,#eb8756 13px 14.4px,#e9825a 14.4px 15.7px,#e27164 15.7px 17.3px,#e06d67 17.3px 18.5px,#dd676a 18.5px 20px,#e57860 20px 21.5px,#e5795f 21.5px 23.4px,#e77e5c 23.4px 23.4px)"></div><div style="left:321px;top:332.3px;width:27.8px;height:29.5px;background:linear-gradient(#e77c5d 0px 1.6px,#e67b5e 1.6px 3.1px,#df6969 3.1px 5.3px,#e16f65 5.3px 7.4px,#e37363 7.4px 11.7px,#e87e5c 11.7px 14.2px,#e77d5d 14.2px 16.5px,#e9825a 16.5px 18.2px,#e57860 18.2px 19.3px,#ec8b53 19.3px 20.7px,#e37363 20.7px 23px,#e27263 23px 25.1px,#e67b5e 25.1px 26.1px,#e77b5d 26.1px 28.4px,#e87f5b 28.4px 29.5px)"></div><div style="left:352.2px;top:332.3px;width:27.8px;height:29.5px;background:linear-gradient(#e9805a 0px 1.3px,#df6b68 1.3px 3.6px,#e16e66 3.6px 4.8px,#e67b5e 4.8px 6.9px,#e06d66 6.9px 8.4px,#e67b5e 8.4px 9.7px,#de6869 9.7px 11.4px,#e98259 11.4px 13.6px,#e77d5c 13.6px 15px,#e47561 15px 16.6px,#e27065 16.6px 19px,#e47661 19px 20.8px,#dd666a 20.8px 22.2px,#e06d66 22.2px 24.5px,#e87e5c 24.5px 26.9px,#e27263 26.9px 29px,#e87f5b 29px 29.5px)"></div><div style="left:321px;top:366.1px;width:27.8px;height:19.4px;background:linear-gradient(#ea8458 0px 1.4px,#e47661 1.4px 3.1px,#e16e66 3.1px 5.4px,#e98259 5.4px 6.4px,#e67b5e 6.4px 8.9px,#e77d5c 8.9px 10.3px,#ee924e 10.3px 12.3px,#e98259 12.3px 13.9px,#e67b5e 13.9px 16px,#e87f5b 16px 17.5px,#ea8458 17.5px 19.4px)"></div><div style="left:352.2px;top:366.1px;width:27.8px;height:19.4px;background:linear-gradient(#e5785f 0px 1px,#e47561 1px 3.3px,#ee924e 3.3px 4.9px,#ec8b53 4.9px 7.4px,#ea8458 7.4px 8.9px,#ec8c52 8.9px 10.8px,#e77c5d 10.8px 13.1px,#e67a5e 13.1px 15.4px,#e77c5d 15.4px 16.7px,#e47661 16.7px 17.8px,#e57860 17.8px 18.9px,#e98259 18.9px 19.4px)"></div><div style="left:321px;top:389.4px;width:27.8px;height:83.9px;background:linear-gradient(#ed8f50 0px 1.8px,#ec8c52 1.8px 4px,#ec8a54 4px 5.4px,#ee944d 5.4px 7.5px,#ee924e 7.5px 8.6px,#ed8f50 8.6px 11px,#ee944d 11px 12.3px,#ed8d51 12.3px 14px,#eb8954 14px 15.1px,#ec8c52 15.1px 17.6px,#ed8f50 17.6px 18.9px,#ef974b 18.9px 20.8px,#ea8557 20.8px 22.2px,#ea8657 22.2px 23.2px,#e67b5e 23.2px 25.2px,#e87f5b 25.2px 26.9px,#e5795f 26.9px 27.9px,#e9815a 27.9px 32px,#eb8954 32px 34.1px,#e9815a 34.1px 36px,#e77c5d 36px 37.4px,#e5795f 37.4px 39.1px,#e37462 39.1px 40.9px,#ec8a54 40.9px 43px,#ea8557 43px 44.4px,#e27263 44.4px 46.8px,#e67b5e 46.8px 48.6px,#e27263 48.6px 49.9px,#e77d5d 49.9px 51.2px,#e8805b 51.2px 53.3px,#e47661 53.3px 55.4px,#de676a 55.4px 56.9px,#e06d66 56.9px 61.4px,#eb8756 61.4px 63.8px,#e9815a 63.8px 64.9px,#e5785f 64.9px 67.2px,#df6a68 67.2px 71.7px,#de6969 71.7px 73.6px,#e47661 73.6px 75.7px,#d95d70 75.7px 76.9px,#e47661 76.9px 79.2px,#da606f 79.2px 80.8px,#e47661 80.8px 82.6px,#e27064 82.6px 83.8px,#df6b67 83.8px 83.9px)"></div><div style="left:352.2px;top:389.4px;width:27.8px;height:83.9px;background:linear-gradient(#e87e5c 0px 1.4px,#e67a5f 1.4px 2.4px,#ed9050 2.4px 4.4px,#e5785f 4.4px 6.5px,#e67b5e 6.5px 8.1px,#e77c5d 8.1px 10.5px,#e47562 10.5px 12.7px,#ea8458 12.7px 14.9px,#e16f65 14.9px 18.5px,#dd656b 18.5px 20.7px,#e57760 20.7px 22.8px,#e16f65 22.8px 23.9px,#e37462 23.9px 25.6px,#e6795f 25.6px 27.8px,#df6a68 27.8px 29.6px,#de686a 29.6px 30.7px,#df6a68 30.7px 31.8px,#e87f5b 31.8px 34.2px,#d75a72 34.2px 36px,#da5f6f 36px 38.4px,#e47661 38.4px 40.4px,#e27164 40.4px 42.5px,#e47561 42.5px 44.6px,#e06c67 44.6px 46px,#de6869 46px 47.4px,#d95c71 47.4px 49.1px,#dd666b 49.1px 50.8px,#dd656b 50.8px 52.7px,#d85b72 52.7px 53.7px,#e17065 53.7px 55.9px,#e27164 55.9px 57.9px,#d35675 57.9px 60px,#df6969 60px 61.9px,#de676a 61.9px 63.6px,#df6a68 63.6px 66px,#da5e6f 66px 67.6px,#da5e70 67.6px 69.8px,#df6b68 69.8px 71.2px,#d35576 71.2px 72.8px,#dd656c 72.8px 73.9px,#cf5378 73.9px 75.5px,#db616e 75.5px 76.8px,#d75973 76.8px 78.7px,#da5e6f 78.7px 80.7px,#cf5279 80.7px 82.9px,#d55874 82.9px 83.9px)"></div><div style="left:321px;top:477.2px;width:27.8px;height:33.3px;background:linear-gradient(#eb8954 0px 1.7px,#ee914e 1.7px 3.1px,#eb8a54 3.1px 4.4px,#ea8458 4.4px 5.9px,#e9815a 5.9px 8.1px,#ed904f 8.1px 9.7px,#ee914e 9.7px 11.2px,#ee924e 11.2px 13.2px,#ef944c 13.2px 15.4px,#ec8d52 15.4px 17px,#ee924e 17px 18.5px,#ed8f50 18.5px 20.5px,#ed8d51 20.5px 22.3px,#e47561 22.3px 24.2px,#ea8458 24.2px 26.6px,#e27164 26.6px 28.1px,#e9805a 28.1px 30.1px,#eb8855 30.1px 31.1px,#e5795f 31.1px 32.8px,#ea8458 32.8px 33.3px)"></div><div style="left:352.2px;top:477.2px;width:27.8px;height:33.3px;background:linear-gradient(#eb8756 0px 2.4px,#ea8458 2.4px 3.6px,#ec8c52 3.6px 5.4px,#ea8458 5.4px 6.9px,#ea8557 6.9px 8.2px,#ed904f 8.2px 10.2px,#ec8c52 10.2px 14px,#ed8f50 14px 16.2px,#ed8e51 16.2px 17.7px,#ef964b 17.7px 20.1px,#ed8e51 20.1px 21.5px,#e5785f 21.5px 23.8px,#eb8855 23.8px 25.9px,#ec8c52 25.9px 27.7px,#ee914f 27.7px 29.8px,#ed8e51 29.8px 31.1px,#ec8b53 31.1px 33.3px)"></div><div style="left:321px;top:514.7px;width:27.8px;height:27.4px;background:linear-gradient(#ec8a54 0px 2.2px,#ee914f 2.2px 3.7px,#ec8c52 3.7px 4.9px,#e87f5b 4.9px 6.2px,#ea8557 6.2px 8.7px,#ea8657 8.7px 10px,#e9815a 10px 11.2px,#eb8855 11.2px 12.5px,#e77c5d 12.5px 14.2px,#ea8557 14.2px 16.5px,#eb8855 16.5px 17.8px,#ea8558 17.8px 19.9px,#e77d5d 19.9px 22.1px,#e67b5e 22.1px 23.4px,#ed8f50 23.4px 25px,#e57860 25px 26.2px,#ea8359 26.2px 27.4px)"></div><div style="left:352.2px;top:514.7px;width:27.8px;height:27.4px;background:linear-gradient(#e9805a 0px 1.2px,#e37462 1.2px 2.8px,#e9805a 2.8px 4.5px,#ec8a54 4.5px 6px,#e5795f 6px 8.1px,#e67b5e 8.1px 9.8px,#ea8657 9.8px 12.2px,#ea8358 12.2px 13.9px,#e77c5d 13.9px 17px,#e6795f 17px 18.5px,#ea8657 18.5px 20.4px,#eb8756 20.4px 21.9px,#e9815a 21.9px 24px,#e57760 24px 25.3px,#e9815a 25.3px 26.8px,#ea8458 26.8px 27.4px)"></div><div style="left:321px;top:546.4px;width:27.8px;height:38.1px;background:linear-gradient(#b73e8a 0px 2.2px,#af398f 2.2px 3.3px,#a33493 3.3px 4.8px,#a83691 4.8px 6.9px,#c54a80 6.9px 8.3px,#b83f89 8.3px 10.5px,#c24782 10.5px 12px,#b53c8c 12px 13.8px,#a53592 13.8px 15px,#a63592 15px 17px,#b23a8e 17px 18.2px,#af398f 18.2px 20.5px,#ae388f 20.5px 22px,#b53c8c 22px 23.8px,#9c3195 23.8px 24.8px,#bb4287 24.8px 26.1px,#ac3790 26.1px 27.4px,#b94089 27.4px 29.5px,#ac3890 29.5px 31.2px,#b83f89 31.2px 33.5px,#bf4584 33.5px 34.7px,#a33493 34.7px 36.7px,#ad3890 36.7px 38.1px)"></div><div style="left:352.2px;top:546.4px;width:27.8px;height:38.1px;background:linear-gradient(#a63592 0px 2.2px,#b33a8e 2.2px 3.9px,#b0398f 3.9px 5.2px,#9b3195 5.2px 7.6px,#a13393 7.6px 9.9px,#a23493 9.9px 11.8px,#b23a8e 11.8px 13.4px,#8e2c99 13.4px 14.9px,#a03394 14.9px 16.9px,#9f3294 16.9px 18.2px,#a93691 18.2px 20.5px,#ad3890 20.5px 21.9px,#ab3790 21.9px 24.1px,#a93791 24.1px 25.9px,#ab3790 25.9px 27.9px,#922d98 27.9px 29.3px,#9c3195 29.3px 30.6px,#a73691 30.6px 32.8px,#a83691 32.8px 35px,#942e97 35px 36.8px,#972f96 36.8px 38.1px)"></div><div style="left:383px;top:96.2px;width:13.7px;height:168.3px;background:linear-gradient(#f8e2e2 0px 1.3px,#f0eef7 1.3px 2.5px,#f7dcdc 2.5px 3.6px,#f3c4c1 3.6px 5px,#faeff0 5px 6.6px,#f8e5e5 6.6px 7.7px,#f9eaeb 7.7px 9.3px,#f6d9d8 9.3px 10.8px,#f4c7c4 10.8px 11.9px,#f8e6e7 11.9px 13.4px,#babce2 13.4px 15.1px,#fbf6f9 15.1px 16.5px,#ecebf6 16.5px 18.2px,#fbf6f8 18.2px 18.9px,#f6f4f9 18.9px 20.1px,#f7dddc 20.1px 22.1px,#f7d9d8 22.1px 23.9px,#f9f7fa 23.9px 24.8px,#faf2f3 24.8px 26.6px,#f8e1e1 26.6px 27.3px,#f3f1f8 27.3px 28.4px,#f8e4e4 28.4px 29.7px,#f9ebec 29.7px 31.2px,#f7dfdf 31.2px 33px,#e0e0f1 33px 34.2px,#f9e8e8 34.2px 35px,#ebeaf5 35px 35.7px,#f9eced 35.7px 37.6px,#fbf5f7 37.6px 38.4px,#f9eaeb 38.4px 40.3px,#f9edee 40.3px 41.5px,#f7dad9 41.5px 43.3px,#faf3f5 43.3px 44.2px,#f6d4d3 44.2px 45.4px,#f6f4f9 45.4px 46.3px,#f9eaeb 46.3px 48.1px,#f9edee 48.1px 49.1px,#faf4f6 49.1px 50px,#fbf8fa 50px 51.7px,#f9e7e8 51.7px 53.2px,#faf1f3 53.2px 54.2px,#f8e0e0 54.2px 55.4px,#fbf6f8 55.4px 56.5px,#f3c3bf 56.5px 57.7px,#f4cbc8 57.7px 58.8px,#f7f5fa 58.8px 59.5px,#f8e3e4 59.5px 60.5px,#f1eff7 60.5px 61.4px,#f6d6d5 61.4px 63.4px,#faf2f4 63.4px 64.3px,#f9edee 64.3px 65.7px,#f8e6e7 65.7px 66.4px,#c6c8e7 66.4px 67.2px,#f9e8e9 67.2px 68.5px,#f5cdca 68.5px 69.5px,#bfc1e4 69.5px 71.3px,#f9e9e9 71.3px 72.2px,#f8f6fa 72.2px 74px,#f6d5d3 74px 75.7px,#e5e4f3 75.7px 76.8px,#f3c0bc 76.8px 78.1px,#faf3f5 78.1px 80.1px,#ebeaf5 80.1px 81.8px,#faf7fb 81.8px 83.7px,#e2e2f2 83.7px 85.6px,#faf0f2 85.6px 87.4px,#f7f5fa 87.4px 88.2px,#f5ccc9 88.2px 90.2px,#faeeef 90.2px 91.6px,#f9f7fa 91.6px 92.9px,#ebeaf5 92.9px 94px,#efeef7 94px 95px,#fbf8fb 95px 96.7px,#f8e2e2 96.7px 97.7px,#f4c5c2 97.7px 98.9px,#fbf4f6 98.9px 100.1px,#f8e0e0 100.1px 101.6px,#dbdbef 101.6px 103.4px,#f4c8c5 103.4px 105.2px,#faf0f1 105.2px 106.4px,#dcdcf0 106.4px 107.3px,#e3e2f2 107.3px 108.9px,#f8f6fa 108.9px 109.8px,#f7dbda 109.8px 110.6px,#f1b3ad 110.6px 112.5px,#faf3f5 112.5px 114.1px,#eeecf6 114.1px 115.6px,#f9e9ea 115.6px 117px,#f9e7e8 117px 118.2px,#e7e6f4 118.2px 120.2px,#faf1f2 120.2px 121.2px,#faeff0 121.2px 122.5px,#faf8fb 122.5px 124.3px,#f6d8d7 124.3px 125.5px,#f9f6fa 125.5px 126.6px,#c8c9e8 126.6px 128.2px,#efedf6 128.2px 130.2px,#f1eff7 130.2px 132.1px,#dcdcef 132.1px 132.8px,#d9d9ee 132.8px 134.6px,#d3d3ec 134.6px 136.1px,#ebeaf5 136.1px 137.2px,#faeeef 137.2px 138.3px,#f6d8d6 138.3px 139.9px,#e9e8f4 139.9px 141.8px,#eeecf6 141.8px 142.7px,#fbf7f9 142.7px 143.6px,#f9eaeb 143.6px 144.6px,#f7dada 144.6px 145.9px,#faeff0 145.9px 147.7px,#edecf6 147.7px 148.8px,#f7dfdf 148.8px 149.9px,#d3d3ec 149.9px 151.5px,#f7dddc 151.5px 153px,#f6d6d4 153px 154.6px,#faf8fb 154.6px 155.6px,#eceaf5 155.6px 156.3px,#efedf6 156.3px 157.2px,#e1e1f1 157.2px 158.8px,#f8e6e6 158.8px 160.3px,#faf4f6 160.3px 161.6px,#cecfea 161.6px 162.5px,#eae9f5 162.5px 163.3px,#faf2f4 163.3px 165px,#f4c5c2 165px 165.9px,#f9e7e8 165.9px 166.8px,#f8e2e3 166.8px 168.3px)"></div><div style="left:383px;top:268.1px;width:13.7px;height:32.8px;background:linear-gradient(#f6d3d1 0px 1.9px,#f6d4d2 1.9px 2.9px,#fbf6f8 2.9px 3.8px,#f5cfcd 3.8px 5.1px,#f9e8e9 5.1px 7px,#eea19a 7px 8.9px,#f4f2f9 8.9px 10.4px,#f6d7d6 10.4px 12.1px,#f9eced 12.1px 14px,#f9edee 14px 15px,#f8e4e4 15px 16.5px,#f8e1e1 16.5px 18.3px,#f5cdca 18.3px 20.2px,#f9e9e9 20.2px 20.9px,#faeeef 20.9px 22.8px,#f3bfbb 22.8px 24.4px,#f6d6d5 24.4px 25.8px,#f4f2f8 25.8px 27.4px,#f1eff7 27.4px 28.4px,#f9edee 28.4px 30.4px,#f7dcdb 30.4px 31.3px,#f5d1cf 31.3px 32.8px)"></div><div style="left:383px;top:305.2px;width:13.7px;height:23.4px;background:linear-gradient(#f6d5d3 0px 1.1px,#f6d8d7 1.1px 2.9px,#f8e5e6 2.9px 4.3px,#f5cdcb 4.3px 5.8px,#efedf7 5.8px 6.5px,#f8e1e1 6.5px 7.9px,#f7dddc 7.9px 8.9px,#faf7fb 8.9px 10.7px,#f5cecc 10.7px 11.7px,#f6d6d5 11.7px 13.5px,#e9e7f4 13.5px 14.3px,#f2bdb9 14.3px 15.9px,#f5f3f9 15.9px 16.6px,#fbf6f8 16.6px 18.6px,#f6d4d2 18.6px 19.6px,#efedf6 19.6px 21px,#f7dfde 21px 21.9px,#faf0f2 21.9px 22.8px,#f8e0e0 22.8px 23.4px)"></div><div style="left:383px;top:332.3px;width:13.7px;height:29.5px;background:linear-gradient(#fbf5f7 0px 1.2px,#f8e5e5 1.2px 2.8px,#edebf6 2.8px 3.7px,#fbf6f8 3.7px 5.1px,#f5ccc9 5.1px 6.3px,#f6d8d7 6.3px 7.8px,#faeff0 7.8px 9.7px,#faf2f4 9.7px 10.7px,#f9f7fa 10.7px 11.5px,#f9e9ea 11.5px 12.5px,#f7dad9 12.5px 13.5px,#f6d5d3 13.5px 14.9px,#f5cfcd 14.9px 16.2px,#efa39c 16.2px 17.6px,#f9e9e9 17.6px 18.7px,#f8e0e0 18.7px 20.2px,#f6f4f9 20.2px 21.8px,#f8e0e0 21.8px 23.7px,#f3f1f8 23.7px 25.2px,#f5ccca 25.2px 26.5px,#f5cecb 26.5px 27.6px,#f9eced 27.6px 29.2px,#f7dddc 29.2px 29.5px)"></div><div style="left:383px;top:366.1px;width:13.7px;height:19.4px;background:linear-gradient(#f8e4e5 0px 1.2px,#faedef 1.2px 3.9px,#f8e0e0 3.9px 5.1px,#faedef 5.1px 6px,#f7dcdc 6px 7.4px,#f4c6c3 7.4px 8.9px,#f8e3e4 8.9px 10.8px,#faf1f2 10.8px 12.7px,#f8e1e1 12.7px 14.1px,#f9eced 14.1px 16.1px,#f7dddc 16.1px 17.8px,#f0ada8 17.8px 19px,#f9e7e7 19px 19.4px)"></div><div style="left:383px;top:389.4px;width:13.7px;height:83.9px;background:linear-gradient(#e5e4f3 0px 1.9px,#dfdef0 1.9px 3.5px,#cdceea 3.5px 4.4px,#f0eef7 4.4px 5.6px,#f3f1f8 5.6px 7.2px,#d7d7ed 7.2px 7.9px,#f5f3f9 7.9px 9.6px,#dbdbef 9.6px 10.5px,#ebe9f5 10.5px 12.4px,#c6c8e7 12.4px 14.1px,#d5d6ed 14.1px 15.1px,#ddddf0 15.1px 15.8px,#f3f1f8 15.8px 17.6px,#e7e6f3 17.6px 19.1px,#e2e1f1 19.1px 20.1px,#e3e3f2 20.1px 21px,#e7e6f4 21px 21.8px,#aeb1de 21.8px 22.9px,#dadaee 22.9px 24px,#dedef0 24px 25px,#faf0f2 25px 26.1px,#e5e4f3 26.1px 27.3px,#e7e6f3 27.3px 28.2px,#f3f1f8 28.2px 29.1px,#c7c8e7 29.1px 31px,#f9f6fa 31px 32.1px,#f7dfdf 32.1px 33.4px,#cfd0ea 33.4px 35.1px,#e7e6f3 35.1px 36.4px,#cccde9 36.4px 37.2px,#f3f1f8 37.2px 38.8px,#f2f0f8 38.8px 40.6px,#e5e4f3 40.6px 42.4px,#eae9f5 42.4px 44.2px,#f1eff7 44.2px 45.6px,#dcdcef 45.6px 46.4px,#f9eced 46.4px 48.3px,#dadaef 48.3px 49.9px,#e6e5f3 49.9px 51.6px,#f7dddc 51.6px 52.7px,#e6e5f3 52.7px 53.7px,#fbf8fb 53.7px 55.1px,#f9ebec 55.1px 56.2px,#fbf7f9 56.2px 58.1px,#fbf5f7 58.1px 59.3px,#a4a8da 59.3px 60.6px,#c3c5e6 60.6px 61.7px,#f1eff7 61.7px 63.5px,#efedf7 63.5px 65.3px,#d9d9ee 65.3px 66.7px,#eae9f5 66.7px 68.4px,#c5c7e7 68.4px 69.1px,#e5e4f3 69.1px 70.4px,#dbdbef 70.4px 72.3px,#cccde9 72.3px 73.5px,#c3c5e6 73.5px 74.7px,#d5d5ed 74.7px 76.6px,#f0eef7 76.6px 77.9px,#cccde9 77.9px 79.4px,#f7f4f9 79.4px 80.8px,#c5c6e7 80.8px 81.9px,#e7e6f4 81.9px 83.4px,#e5e4f3 83.4px 83.9px)"></div><div style="left:383px;top:477.2px;width:13.7px;height:33.3px;background:linear-gradient(#f0eef7 0px 1.6px,#f7f4f9 1.6px 2.8px,#f6d7d6 2.8px 4.6px,#f5cfcd 4.6px 6.5px,#f4c6c3 6.5px 8.5px,#f6d2d0 8.5px 10.3px,#fbf5f7 10.3px 12.3px,#faf7fb 12.3px 14px,#f4c7c4 14px 15.1px,#f7dedd 15.1px 15.9px,#f4cbc9 15.9px 17.3px,#faf0f1 17.3px 18.2px,#f7dcdb 18.2px 18.9px,#f9eaeb 18.9px 20.6px,#d7d8ee 20.6px 21.9px,#f5d0ce 21.9px 22.9px,#faf2f4 22.9px 24.3px,#f1b4af 24.3px 25.6px,#f8e1e1 25.6px 27.2px,#f7dfdf 27.2px 28.8px,#f5cfcd 28.8px 29.9px,#f9e7e8 29.9px 31.9px,#faeeef 31.9px 32.8px,#f7f5fa 32.8px 33.3px)"></div><div style="left:383px;top:514.7px;width:13.7px;height:27.4px;background:linear-gradient(#f7f4f9 0px 1.2px,#f8f5fa 1.2px 2.5px,#f8e3e3 2.5px 3.6px,#f3f1f8 3.6px 5.3px,#f9f7fa 5.3px 6.4px,#faf2f4 6.4px 7.6px,#f4f2f8 7.6px 9.5px,#f9edee 9.5px 10.8px,#ecebf5 10.8px 12.5px,#faeef0 12.5px 14.4px,#faf0f1 14.4px 16.2px,#fbf5f7 16.2px 17px,#f7f5fa 17px 18.8px,#faf3f5 18.8px 19.7px,#faeeef 19.7px 20.8px,#f7f5fa 20.8px 21.7px,#f8f5fa 21.7px 23.5px,#f7dfdf 23.5px 25.1px,#fbf6f8 25.1px 26.7px,#f7dcdc 26.7px 27.4px)"></div><div style="left:383px;top:546.4px;width:13.7px;height:38.1px;background:linear-gradient(#f9e7e8 0px 1.2px,#faf7fb 1.2px 2.8px,#f8e4e4 2.8px 3.5px,#f2f0f8 3.5px 4.8px,#e6e5f3 4.8px 6.4px,#e3e2f2 6.4px 7.2px,#faeff1 7.2px 8.3px,#efedf6 8.3px 9.1px,#d2d3ec 9.1px 10px,#f9edee 10px 11.7px,#f8f6fa 11.7px 13.2px,#f5d0ce 13.2px 13.9px,#f9f6fa 13.9px 14.7px,#f6d5d3 14.7px 15.5px,#eeecf6 15.5px 17px,#f8e3e3 17px 18px,#faf4f6 18px 19.5px,#f3c4c1 19.5px 20.7px,#f6f4f9 20.7px 22.3px,#f7d9d8 22.3px 23.9px,#faf0f2 23.9px 25.3px,#f6f4f9 25.3px 26.1px,#fbf8fb 26.1px 27px,#eae9f5 27px 29px,#f9ecee 29px 30.5px,#f9f6fa 30.5px 32.3px,#edecf6 32.3px 33.9px,#f5d0ce 33.9px 35.7px,#edecf6 35.7px 37.6px,#f7f5fa 37.6px 38.1px)"></div><div style="left:398.5px;top:96.2px;width:9.6px;height:168.3px;background:linear-gradient(#ffffff 0px 2.7px,#c88878 2.7px 3.5px,#ffffff 3.5px 5.1px,#a84840 5.1px 5.9px,#ffffff 5.9px 12.9px,#c88878 12.9px 13.8px,#ffffff 13.8px 17.5px,#e0c0b8 17.5px 18.1px,#c8a098 18.1px 18.7px,#c88878 18.7px 19.2px,#ffffff 19.2px 19.9px,#b86860 19.9px 20.7px,#ffffff 20.7px 23.5px,#c8a098 23.5px 24.3px,#ffffff 24.3px 28.1px,#a84840 28.1px 29px,#e0c0b8 29px 30.2px,#ffffff 30.2px 31px,#a84840 31px 32.2px,#ffffff 32.2px 33.5px,#c8a098 33.5px 34.2px,#ffffff 34.2px 35px,#c8a098 35px 36.1px,#ffffff 36.1px 36.7px,#e0c0b8 36.7px 38.6px,#c88878 38.6px 39.5px,#a84840 39.5px 40.5px,#e0c0b8 40.5px 41.3px,#a84840 41.3px 42.3px,#c88878 42.3px 43.4px,#a84840 43.4px 44.7px,#ffffff 44.7px 46.5px,#a84840 46.5px 47.2px,#c8a098 47.2px 48.2px,#a84840 48.2px 49.4px,#ffffff 49.4px 50.1px,#d8a898 50.1px 51.3px,#ffffff 51.3px 52.3px,#b86860 52.3px 53.6px,#ffffff 53.6px 55.7px,#a84840 55.7px 56.2px,#ffffff 56.2px 57.8px,#a84840 57.8px 58.8px,#b86860 58.8px 59.8px,#a84840 59.8px 60.4px,#ffffff 60.4px 63.7px,#e0c0b8 63.7px 64.3px,#c8a098 64.3px 65.4px,#ffffff 65.4px 66.1px,#d8a898 66.1px 66.7px,#ffffff 66.7px 69.1px,#c8a098 69.1px 69.9px,#a84840 69.9px 70.9px,#ffffff 70.9px 71.8px,#d8a898 71.8px 72.8px,#ffffff 72.8px 73.4px,#e0c0b8 73.4px 75px,#ffffff 75px 77.9px,#b86860 77.9px 79px,#a84840 79px 79.5px,#e0c0b8 79.5px 80.4px,#ffffff 80.4px 80.9px,#a84840 80.9px 81.8px,#ffffff 81.8px 83.8px,#d8a898 83.8px 84.7px,#c88878 84.7px 85.5px,#ffffff 85.5px 86.4px,#b86860 86.4px 87.3px,#ffffff 87.3px 92.1px,#b86860 92.1px 93.1px,#c8a098 93.1px 93.7px,#ffffff 93.7px 94.9px,#d8a898 94.9px 95.8px,#c8a098 95.8px 97.2px,#c88878 97.2px 98.4px,#e0c0b8 98.4px 99.2px,#c88878 99.2px 100px,#ffffff 100px 100.7px,#c88878 100.7px 101.6px,#ffffff 101.6px 102.4px,#c8a098 102.4px 103.5px,#ffffff 103.5px 104.5px,#c88878 104.5px 105px,#ffffff 105px 108.8px,#b86860 108.8px 109.4px,#e0c0b8 109.4px 110.6px,#c8a098 110.6px 111.7px,#ffffff 111.7px 112.6px,#c8a098 112.6px 113.8px,#d8a898 113.8px 114.8px,#ffffff 114.8px 115.7px,#c88878 115.7px 116.5px,#ffffff 116.5px 117.2px,#c88878 117.2px 118.9px,#ffffff 118.9px 123.1px,#d8a898 123.1px 123.7px,#a84840 123.7px 124.8px,#ffffff 124.8px 129.3px,#d8a898 129.3px 130.3px,#ffffff 130.3px 135.5px,#a84840 135.5px 136.8px,#ffffff 136.8px 142.4px,#c8a098 142.4px 143px,#b86860 143px 144px,#e0c0b8 144px 145.2px,#ffffff 145.2px 145.9px,#c8a098 145.9px 147.2px,#d8a898 147.2px 148.1px,#ffffff 148.1px 150px,#a84840 150px 151.1px,#ffffff 151.1px 154.1px,#c88878 154.1px 155px,#ffffff 155px 157.3px,#a84840 157.3px 158.4px,#ffffff 158.4px 161.6px,#e0c0b8 161.6px 162.3px,#c8a098 162.3px 162.9px,#ffffff 162.9px 166.3px,#c8a098 166.3px 167.1px,#ffffff 167.1px 168.3px)"></div><div style="left:398.5px;top:268.1px;width:9.6px;height:32.8px;background:linear-gradient(#c8a098 0px 0.9px,#e0c0b8 0.9px 1.4px,#a84840 1.4px 2.2px,#e0c0b8 2.2px 2.8px,#ffffff 2.8px 3.9px,#a84840 3.9px 5px,#ffffff 5px 5.7px,#c88878 5.7px 6.4px,#e0c0b8 6.4px 7.4px,#c8a098 7.4px 8.3px,#ffffff 8.3px 9.8px,#a84840 9.8px 10.9px,#ffffff 10.9px 12.6px,#a84840 12.6px 13.8px,#c8a098 13.8px 15.6px,#ffffff 15.6px 17.9px,#e0c0b8 17.9px 18.5px,#a84840 18.5px 19.1px,#ffffff 19.1px 20.4px,#c88878 20.4px 20.9px,#a84840 20.9px 22.1px,#ffffff 22.1px 23.9px,#a84840 23.9px 24.8px,#ffffff 24.8px 25.5px,#e0c0b8 25.5px 26.2px,#ffffff 26.2px 27px,#c8a098 27px 27.7px,#c88878 27.7px 29px,#ffffff 29px 32.8px)"></div><div style="left:398.5px;top:305.2px;width:9.6px;height:23.4px;background:linear-gradient(#ffffff 0px 2px,#c8a098 2px 2.6px,#e0c0b8 2.6px 3.3px,#a84840 3.3px 4.5px,#ffffff 4.5px 5.8px,#d8a898 5.8px 6.8px,#ffffff 6.8px 8.1px,#c88878 8.1px 9.3px,#a84840 9.3px 10.4px,#e0c0b8 10.4px 11.3px,#d8a898 11.3px 12.1px,#c88878 12.1px 12.8px,#ffffff 12.8px 13.8px,#c8a098 13.8px 14.7px,#ffffff 14.7px 15.9px,#c8a098 15.9px 16.5px,#e0c0b8 16.5px 17.3px,#ffffff 17.3px 18px,#d8a898 18px 19.2px,#e0c0b8 19.2px 20.1px,#a84840 20.1px 20.9px,#e0c0b8 20.9px 21.6px,#c88878 21.6px 22.5px,#c8a098 22.5px 23.4px)"></div><div style="left:398.5px;top:332.3px;width:9.6px;height:29.5px;background:linear-gradient(#ffffff 0px 0.6px,#b86860 0.6px 1.8px,#a84840 1.8px 2.8px,#ffffff 2.8px 3.9px,#d8a898 3.9px 6px,#c88878 6px 6.8px,#d8a898 6.8px 8.3px,#ffffff 8.3px 12.1px,#c8a098 12.1px 12.9px,#ffffff 12.9px 13.5px,#c88878 13.5px 15.3px,#ffffff 15.3px 19.7px,#b86860 19.7px 21px,#d8a898 21px 22.4px,#e0c0b8 22.4px 23.5px,#ffffff 23.5px 24.6px,#a84840 24.6px 25.1px,#d8a898 25.1px 26.2px,#c8a098 26.2px 28.7px,#d8a898 28.7px 29.5px)"></div><div style="left:398.5px;top:366.1px;width:9.6px;height:19.4px;background:linear-gradient(#c8a098 0px 0.9px,#d8a898 0.9px 1.8px,#b86860 1.8px 4px,#ffffff 4px 5.1px,#a84840 5.1px 6.3px,#c88878 6.3px 7.3px,#d8a898 7.3px 9.4px,#ffffff 9.4px 9.9px,#c88878 9.9px 11.1px,#e0c0b8 11.1px 12.1px,#d8a898 12.1px 12.9px,#a84840 12.9px 13.6px,#c8a098 13.6px 14.1px,#c88878 14.1px 14.8px,#d8a898 14.8px 16.1px,#ffffff 16.1px 17.3px,#c88878 17.3px 17.9px,#ffffff 17.9px 19.3px,#a84840 19.3px 19.4px)"></div><div style="left:398.5px;top:389.4px;width:9.6px;height:83.9px;background:linear-gradient(#a8a8d8 0px 0.6px,#ffffff 0.6px 5.2px,#d0a8a0 5.2px 6.4px,#ffffff 6.4px 7.4px,#d0a8a0 7.4px 8.5px,#c8c8e8 8.5px 9.7px,#ffffff 9.7px 11.7px,#c8c8e8 11.7px 12.4px,#ffffff 12.4px 18.4px,#e0b8b0 18.4px 19.3px,#c8c8e8 19.3px 20.4px,#e0b8b0 20.4px 20.9px,#ffffff 20.9px 26.1px,#e0b8b0 26.1px 27.2px,#ffffff 27.2px 29.8px,#a8a8d8 29.8px 30.6px,#ffffff 30.6px 31.9px,#c8c8e8 31.9px 32.5px,#ffffff 32.5px 36.4px,#e0b8b0 36.4px 37.2px,#d0a8a0 37.2px 38.3px,#ffffff 38.3px 46.6px,#c8c8e8 46.6px 47.7px,#ffffff 47.7px 61.5px,#c8c8e8 61.5px 62.7px,#ffffff 62.7px 67.9px,#a8a8d8 67.9px 69px,#ffffff 69px 69.5px,#e0b8b0 69.5px 70.6px,#ffffff 70.6px 72.8px,#e0b8b0 72.8px 73.5px,#ffffff 73.5px 76.7px,#a8a8d8 76.7px 77.3px,#ffffff 77.3px 83.9px)"></div><div style="left:398.5px;top:477.2px;width:9.6px;height:33.3px;background:linear-gradient(#a84840 0px 0.9px,#c88878 0.9px 2.7px,#c8a098 2.7px 3.8px,#ffffff 3.8px 4.6px,#a84840 4.6px 5.5px,#ffffff 5.5px 8.1px,#e0c0b8 8.1px 9.4px,#c8a098 9.4px 10px,#a84840 10px 10.7px,#b86860 10.7px 11.3px,#e0c0b8 11.3px 12.4px,#ffffff 12.4px 13px,#b86860 13px 14px,#ffffff 14px 15.1px,#b86860 15.1px 16.1px,#ffffff 16.1px 17px,#a84840 17px 19.4px,#ffffff 19.4px 20.1px,#d8a898 20.1px 21.1px,#c8a098 21.1px 22.2px,#ffffff 22.2px 24.3px,#d8a898 24.3px 25px,#c8a098 25px 26.2px,#ffffff 26.2px 27px,#d8a898 27px 29.3px,#b86860 29.3px 30.8px,#e0c0b8 30.8px 31.9px,#ffffff 31.9px 32.8px,#e0c0b8 32.8px 33.3px)"></div><div style="left:398.5px;top:514.7px;width:9.6px;height:27.4px;background:linear-gradient(#e0c0b8 0px 1.3px,#d8a898 1.3px 2.1px,#a84840 2.1px 2.8px,#b86860 2.8px 3.4px,#ffffff 3.4px 4.4px,#a84840 4.4px 5.4px,#ffffff 5.4px 6.6px,#c88878 6.6px 7.5px,#ffffff 7.5px 9.6px,#c8a098 9.6px 10.3px,#b86860 10.3px 11.5px,#ffffff 11.5px 16px,#b86860 16px 17.7px,#ffffff 17.7px 19.4px,#c8a098 19.4px 20.6px,#d8a898 20.6px 21.8px,#c8a098 21.8px 22.8px,#e0c0b8 22.8px 23.8px,#ffffff 23.8px 24.5px,#d8a898 24.5px 25.8px,#ffffff 25.8px 26.5px,#d8a898 26.5px 27px,#c88878 27px 27.4px)"></div><div style="left:398.5px;top:546.4px;width:9.6px;height:38.1px;background:linear-gradient(#ffffff 0px 0.6px,#a8a8d8 0.6px 1.3px,#ffffff 1.3px 2.1px,#d0a8a0 2.1px 3.3px,#ffffff 3.3px 6px,#d0a8a0 6px 6.8px,#ffffff 6.8px 12.3px,#c8c8e8 12.3px 13.5px,#ffffff 13.5px 17.7px,#a8a8d8 17.7px 19.4px,#d0a8a0 19.4px 20.1px,#c8c8e8 20.1px 20.6px,#ffffff 20.6px 21.7px,#a8a8d8 21.7px 22.9px,#e0b8b0 22.9px 24.1px,#ffffff 24.1px 25.9px,#a8a8d8 25.9px 26.6px,#ffffff 26.6px 30.1px,#e0b8b0 30.1px 31.3px,#a8a8d8 31.3px 32.5px,#ffffff 32.5px 38px,#c8c8e8 38px 38.1px)"></div><div style="left:413.2px;top:96.2px;width:27px;height:168.3px;background:linear-gradient(#3f3491 0px 5.7px,#423392 5.7px 20px,#433392 20px 23.9px,#3e3590 23.9px 26.5px,#433393 26.5px 30.8px,#453294 30.8px 35.2px,#473194 35.2px 39.6px,#443393 39.6px 44.4px,#443293 44.4px 48.7px,#403491 48.7px 51.4px,#433392 51.4px 54.1px,#433393 54.1px 58.6px,#3f3491 58.6px 61.7px,#423392 61.7px 64.6px,#433392 64.6px 68.2px,#423392 68.2px 72.4px,#403491 72.4px 80.1px,#413392 80.1px 82.8px,#3d3590 82.8px 86.9px,#413492 86.9px 89.5px,#443293 89.5px 93.8px,#423392 93.8px 97.3px,#433393 97.3px 102.1px,#3d3590 102.1px 106.3px,#423392 106.3px 110.6px,#413492 110.6px 114px,#423392 114px 116.2px,#403491 116.2px 119.1px,#413491 119.1px 121.2px,#413492 121.2px 123.6px,#433393 123.6px 129.6px,#433392 129.6px 133.5px,#413491 133.5px 136.6px,#3d3590 136.6px 141px,#413392 141px 144.1px,#433392 144.1px 148.3px,#423392 148.3px 153px,#433392 153px 157px,#413392 157px 159px,#433393 159px 163.4px,#423392 163.4px 168.3px)"></div><div style="left:444.1px;top:96.2px;width:27px;height:168.3px;background:linear-gradient(#403491 0px 3.7px,#443393 3.7px 6.7px,#403491 6.7px 11.6px,#413491 11.6px 14.3px,#3e3590 14.3px 18.4px,#443293 18.4px 22.3px,#423392 22.3px 26.7px,#433393 26.7px 29px,#433392 29px 32.4px,#3f3491 32.4px 37.7px,#423392 37.7px 42.6px,#403491 42.6px 47.3px,#3d3590 47.3px 49.5px,#423392 49.5px 53.7px,#3f3491 53.7px 56.4px,#433392 56.4px 63.9px,#423392 63.9px 66.1px,#433392 66.1px 68.8px,#423392 68.8px 73.5px,#433392 73.5px 76.4px,#403491 76.4px 80.8px,#3f3491 80.8px 85px,#433393 85px 89px,#413392 89px 92.7px,#433392 92.7px 96.7px,#403491 96.7px 99.8px,#423392 99.8px 103.3px,#443293 103.3px 106.5px,#413492 106.5px 108.6px,#463294 108.6px 113.2px,#413392 113.2px 117.7px,#423392 117.7px 121.8px,#433392 121.8px 124.9px,#403491 124.9px 129.3px,#3f3491 129.3px 134.2px,#403491 134.2px 136.2px,#413492 136.2px 138.4px,#433393 138.4px 142.1px,#3e3590 142.1px 145.9px,#423392 145.9px 150.7px,#413492 150.7px 153.4px,#443293 153.4px 156.5px,#413392 156.5px 162.3px,#453293 162.3px 164.6px,#403491 164.6px 167.1px,#413392 167.1px 168.3px)"></div><div style="left:413.2px;top:268.1px;width:27px;height:32.8px;background:linear-gradient(#433393 0px 2.2px,#413392 2.2px 4.9px,#423392 4.9px 8.1px,#443393 8.1px 12.6px,#433392 12.6px 14.7px,#3e3590 14.7px 19.6px,#453293 19.6px 22.8px,#443293 22.8px 24.8px,#413492 24.8px 28.8px,#443293 28.8px 32.7px,#453293 32.7px 32.8px)"></div><div style="left:444.1px;top:268.1px;width:27px;height:32.8px;background:linear-gradient(#433393 0px 2.6px,#423392 2.6px 4.9px,#433392 4.9px 7.3px,#443293 7.3px 9.4px,#433393 9.4px 12.6px,#423392 12.6px 16.7px,#433392 16.7px 20.7px,#433393 20.7px 24.4px,#413392 24.4px 28.6px,#433392 28.6px 32.8px)"></div><div style="left:413.2px;top:305.2px;width:27px;height:23.4px;background:linear-gradient(#453294 0px 2.7px,#463294 2.7px 4.9px,#443393 4.9px 9.8px,#463294 9.8px 12.8px,#443293 12.8px 16.1px,#403491 16.1px 18.8px,#433393 18.8px 21.7px,#463194 21.7px 23.4px)"></div><div style="left:444.1px;top:305.2px;width:27px;height:23.4px;background:linear-gradient(#453293 0px 4px,#403491 4px 12.4px,#3e3590 12.4px 15.2px,#413492 15.2px 17.3px,#423392 17.3px 21.5px,#413492 21.5px 23.4px)"></div><div style="left:413.2px;top:332.3px;width:27px;height:29.5px;background:linear-gradient(#423392 0px 4.4px,#443293 4.4px 6.8px,#433393 6.8px 11.1px,#433392 11.1px 14.3px,#413492 14.3px 19.2px,#3f3491 19.2px 22.6px,#433392 22.6px 27.1px,#413392 27.1px 29.5px)"></div><div style="left:444.1px;top:332.3px;width:27px;height:29.5px;background:linear-gradient(#433393 0px 4.5px,#413492 4.5px 8.6px,#433393 8.6px 13.3px,#423392 13.3px 17.1px,#413392 17.1px 21.8px,#3f3491 21.8px 25px,#403491 25px 29.5px)"></div><div style="left:413.2px;top:366.1px;width:27px;height:19.4px;background:linear-gradient(#403491 0px 4.3px,#433392 4.3px 7.7px,#423392 7.7px 12.4px,#443293 12.4px 16.7px,#413392 16.7px 19.4px)"></div><div style="left:444.1px;top:366.1px;width:27px;height:19.4px;background:linear-gradient(#403491 0px 8px,#423392 8px 12.4px,#3f3491 12.4px 19.4px)"></div><div style="left:413.2px;top:389.4px;width:27px;height:83.9px;background:linear-gradient(#453293 0px 4.8px,#413392 4.8px 7.2px,#423392 7.2px 9.6px,#403491 9.6px 13.5px,#463294 13.5px 15.7px,#443293 15.7px 24.7px,#413392 24.7px 28.3px,#403491 28.3px 36px,#413392 36px 44.4px,#3e3491 44.4px 48.5px,#403491 48.5px 52px,#443293 52px 55.2px,#433392 55.2px 59.9px,#463194 59.9px 64.2px,#403491 64.2px 67.5px,#423392 67.5px 71.4px,#403491 71.4px 73.9px,#413392 73.9px 78.1px,#413492 78.1px 82.6px,#443293 82.6px 83.9px)"></div><div style="left:444.1px;top:389.4px;width:27px;height:83.9px;background:linear-gradient(#453293 0px 2.1px,#423392 2.1px 8.2px,#413392 8.2px 15.2px,#3e3590 15.2px 18.9px,#423392 18.9px 21.6px,#443293 21.6px 24.9px,#433392 24.9px 27.6px,#443293 27.6px 29.9px,#413492 29.9px 33.3px,#423392 33.3px 36.6px,#413392 36.6px 45.2px,#453293 45.2px 51.4px,#423392 51.4px 56.1px,#433393 56.1px 60.8px,#423392 60.8px 67.3px,#453293 67.3px 69.6px,#423392 69.6px 77.1px,#413392 77.1px 80.1px,#423392 80.1px 83.9px)"></div><div style="left:413.2px;top:477.2px;width:27px;height:33.3px;background:linear-gradient(#443293 0px 2px,#443393 2px 5px,#3f3491 5px 12.4px,#433392 12.4px 14.7px,#403491 14.7px 16.7px,#423392 16.7px 21.1px,#403491 21.1px 25.9px,#453293 25.9px 30.1px,#423392 30.1px 33.3px)"></div><div style="left:444.1px;top:477.2px;width:27px;height:33.3px;background:linear-gradient(#3e3591 0px 3px,#423392 3px 12.7px,#3e3590 12.7px 14.8px,#413392 14.8px 17.9px,#443293 17.9px 21.2px,#433392 21.2px 23.7px,#453293 23.7px 26.7px,#443293 26.7px 31.4px,#413492 31.4px 33.3px)"></div><div style="left:413.2px;top:514.7px;width:27px;height:27.4px;background:linear-gradient(#433392 0px 3.5px,#463294 3.5px 5.7px,#423392 5.7px 11.9px,#433392 11.9px 16.3px,#403491 16.3px 21px,#413392 21px 23.4px,#423392 23.4px 26px,#413492 26px 27.4px)"></div><div style="left:444.1px;top:514.7px;width:27px;height:27.4px;background:linear-gradient(#413392 0px 3.9px,#433393 3.9px 6.2px,#423392 6.2px 10.4px,#413491 10.4px 14.9px,#433392 14.9px 19.3px,#423392 19.3px 23.9px,#453293 23.9px 27.4px)"></div><div style="left:413.2px;top:546.4px;width:27px;height:38.1px;background:linear-gradient(#433392 0px 2.5px,#413492 2.5px 6.2px,#403491 6.2px 8.9px,#433392 8.9px 13.8px,#463194 13.8px 17px,#3f3491 17px 21px,#423392 21px 23.5px,#403491 23.5px 28.5px,#443393 28.5px 31.4px,#423392 31.4px 38.1px)"></div><div style="left:444.1px;top:546.4px;width:27px;height:38.1px;background:linear-gradient(#413392 0px 4.5px,#433392 4.5px 9.4px,#423392 9.4px 12.9px,#433392 12.9px 15.2px,#413492 15.2px 17.7px,#403491 17.7px 23.4px,#433393 23.4px 27.8px,#413492 27.8px 32.9px,#433393 32.9px 36.1px,#3d3590 36.1px 38.1px)"></div><div style="left:474.3px;top:96.2px;width:14.1px;height:168.3px;background:linear-gradient(#f9eced 0px 0.9px,#f8e0e0 0.9px 1.4px,#f6f3f9 1.4px 2.5px,#f3c1be 2.5px 3.1px,#f9e8e9 3.1px 4px,#f5d0ce 4px 5px,#f4c7c4 5px 6.2px,#f7dad9 6.2px 7.6px,#faf1f2 7.6px 8.4px,#f7dbdb 8.4px 9.1px,#f8e4e5 9.1px 10.1px,#f8e4e4 10.1px 10.6px,#f8e6e6 10.6px 12px,#f3c3bf 12px 12.7px,#f2bbb6 12.7px 13.6px,#f4c8c5 13.6px 14.3px,#f8e3e3 14.3px 15.6px,#f2b9b5 15.6px 16.9px,#f9e9e9 16.9px 17.7px,#f6d5d3 17.7px 18.7px,#f6d9d8 18.7px 20px,#f2bcb8 20px 20.8px,#f6d3d2 20.8px 22.1px,#f8e3e3 22.1px 23.1px,#f5ccca 23.1px 24.3px,#f5d0ce 24.3px 25.5px,#f3c2bf 25.5px 26.6px,#f5d0ce 26.6px 27.8px,#f7dbda 27.8px 28.3px,#f9e9e9 28.3px 29.5px,#f4c6c3 29.5px 30.8px,#f8e4e4 30.8px 31.9px,#f9eced 31.9px 32.6px,#f5ccca 32.6px 33.7px,#f9eaeb 33.7px 34.7px,#f4cac8 34.7px 35.4px,#fbf7f9 35.4px 36.5px,#f7dede 36.5px 37px,#f5cdcb 37px 38px,#f5d0ce 38px 38.7px,#f4c9c6 38.7px 39.7px,#f9e7e7 39.7px 40.8px,#f5ccc9 40.8px 42px,#f4c8c5 42px 43.3px,#f8e6e7 43.3px 43.9px,#f3c3bf 43.9px 44.7px,#f7d9d8 44.7px 45.2px,#f6d5d3 45.2px 46.2px,#faf3f5 46.2px 47.9px,#f8e3e3 47.9px 49.2px,#faf0f2 49.2px 50.2px,#f5d0ce 50.2px 51px,#f9e7e7 51px 52.1px,#f5d0ce 52.1px 53.3px,#f7dbda 53.3px 54.1px,#f8e4e4 54.1px 54.7px,#f6d7d6 54.7px 55.8px,#eae9f5 55.8px 57.1px,#f5cecb 57.1px 57.6px,#f9eced 57.6px 58.3px,#f5cfcd 58.3px 58.9px,#f0eef7 58.9px 60.3px,#f7dcdb 60.3px 61.4px,#f4cbc8 61.4px 62.4px,#f6d5d4 62.4px 63.1px,#e5e4f3 63.1px 63.9px,#f8e5e6 63.9px 64.5px,#f4c6c3 64.5px 65.9px,#f3c4c1 65.9px 66.4px,#f8e3e4 66.4px 66.9px,#f9e9ea 66.9px 68.1px,#f5ccc9 68.1px 69.4px,#f5d2d0 69.4px 70.4px,#f4f2f8 70.4px 71.1px,#f8e3e3 71.1px 72.2px,#f2b8b4 72.2px 73.4px,#f8e5e5 73.4px 74.3px,#f8e5e6 74.3px 74.9px,#f7dfdf 74.9px 76.1px,#f3c3c0 76.1px 77.4px,#f6d6d4 77.4px 78.3px,#f7f5fa 78.3px 79.5px,#f8e5e5 79.5px 80.6px,#f6d4d2 80.6px 81.7px,#f0aea8 81.7px 83.1px,#faf8fb 83.1px 83.6px,#f4cac8 83.6px 84.3px,#f8e4e5 84.3px 85.6px,#efedf6 85.6px 86.1px,#f0aea9 86.1px 87px,#faf3f5 87px 88px,#e5e4f3 88px 89.1px,#f6d8d6 89.1px 89.8px,#faf1f3 89.8px 91.1px,#f9e7e7 91.1px 92.4px,#f5d2d0 92.4px 93.8px,#f5cfcd 93.8px 94.5px,#f2bcb8 94.5px 95.3px,#efeef7 95.3px 95.8px,#fbf7f9 95.8px 96.5px,#f8e2e2 96.5px 97.5px,#f5cdcb 97.5px 98.5px,#f4f2f9 98.5px 99.3px,#f5cecb 99.3px 100.5px,#f4c6c2 100.5px 101.5px,#f7dad9 101.5px 102.9px,#f1b6b1 102.9px 103.6px,#efeef7 103.6px 104.2px,#f7dcdc 104.2px 105.2px,#f9e7e8 105.2px 105.9px,#f3c4c1 105.9px 107px,#fbf7f9 107px 107.9px,#f9edee 107.9px 109.1px,#edebf6 109.1px 109.9px,#edecf6 109.9px 111px,#faf1f3 111px 112.1px,#f4cbc8 112.1px 113.3px,#f6d4d3 113.3px 114.1px,#faf2f4 114.1px 115px,#faedef 115px 115.9px,#f9e6e7 115.9px 116.9px,#faf7fb 116.9px 118.3px,#fbf9fb 118.3px 119px,#faf0f1 119px 119.6px,#eeecf6 119.6px 120.4px,#edebf6 120.4px 121.3px,#faf0f1 121.3px 122.5px,#f4f2f8 122.5px 123px,#f9e8e8 123px 123.9px,#fbf7fa 123.9px 125px,#d4d4ec 125px 126.2px,#eeecf6 126.2px 127.6px,#f8f6fa 127.6px 128.1px,#faf3f5 128.1px 129.3px,#f1b2ad 129.3px 130.3px,#f9edee 130.3px 131.6px,#fbf5f7 131.6px 132.4px,#dcdcef 132.4px 133.5px,#f8e5e5 133.5px 134.8px,#f9e7e8 134.8px 135.3px,#e0e0f1 135.3px 136px,#faf8fb 136px 136.8px,#faeff0 136.8px 138.9px,#f9edee 138.9px 140px,#f8e4e5 140px 140.6px,#faf8fb 140.6px 141.5px,#e8e7f4 141.5px 142.6px,#f9ebec 142.6px 143.6px,#faf2f4 143.6px 144.2px,#f4c6c3 144.2px 145.5px,#ebeaf5 145.5px 146.4px,#f8e6e7 146.4px 147.7px,#eeecf6 147.7px 148.2px,#f2b8b4 148.2px 149.3px,#ebe9f5 149.3px 150.3px,#f3f1f8 150.3px 151.2px,#f9edee 151.2px 152.5px,#faf0f2 152.5px 153.7px,#f9ebec 153.7px 155px,#eae9f5 155px 155.7px,#f9eced 155.7px 156.8px,#f2beb9 156.8px 158px,#efedf6 158px 159.2px,#f3f1f8 159.2px 160px,#fbf7fa 160px 161.1px,#f6d7d5 161.1px 161.9px,#f7dddd 161.9px 162.6px,#e0dff1 162.6px 163.5px,#f3f1f8 163.5px 164.6px,#fbf5f7 164.6px 165.7px,#e3e2f2 165.7px 166.5px,#e3e3f2 166.5px 167.6px,#f3beba 167.6px 168.3px)"></div><div style="left:474.3px;top:268.1px;width:14.1px;height:32.8px;background:linear-gradient(#f4c6c2 0px 0.8px,#ee9e97 0.8px 2.2px,#ee9d95 2.2px 3.1px,#f3c0bd 3.1px 3.8px,#f1b1ab 3.8px 4.7px,#f4c9c6 4.7px 6.3px,#ed958d 6.3px 7.6px,#ee9e97 7.6px 8.7px,#f6d2d1 8.7px 10.1px,#efa7a0 10.1px 10.6px,#f5cecb 10.6px 11.5px,#f5cdcb 11.5px 13.2px,#f1b6b1 13.2px 14.3px,#efa49d 14.3px 15.6px,#f5cfcd 15.6px 16.7px,#ee9c94 16.7px 18px,#f0aba5 18px 18.5px,#f4c9c6 18.5px 19.6px,#f1b7b2 19.6px 20.9px,#f8e6e7 20.9px 21.7px,#f2bab5 21.7px 22.6px,#f4c7c4 22.6px 23.5px,#f7dbda 23.5px 24.2px,#f0aca6 24.2px 24.8px,#f4c6c3 24.8px 25.7px,#f4cac8 25.7px 26.4px,#f3bfbb 26.4px 27.4px,#f6d6d5 27.4px 27.9px,#f5d2d0 27.9px 29.2px,#f2b9b4 29.2px 30.2px,#ee9d95 30.2px 30.8px,#efa7a0 30.8px 31.6px,#f2beba 31.6px 32.8px)"></div><div style="left:474.3px;top:305.2px;width:14.1px;height:23.4px;background:linear-gradient(#f6d3d2 0px 1.3px,#f7e0df 1.3px 1.8px,#f7dbda 1.8px 2.9px,#faf4f6 2.9px 3.8px,#f7dfdf 3.8px 5.1px,#f3c2bf 5.1px 6.1px,#f3c4c0 6.1px 6.9px,#f7dfdf 6.9px 7.9px,#f4cbc8 7.9px 8.9px,#f8e3e3 8.9px 9.9px,#f5d1cf 9.9px 11.1px,#f9f7fa 11.1px 12px,#f3c4c1 12px 13.1px,#f6d8d7 13.1px 14.2px,#e5e4f3 14.2px 14.8px,#f9edee 14.8px 15.6px,#f2b8b3 15.6px 16.1px,#f6d3d1 16.1px 16.8px,#f7dcdb 16.8px 17.4px,#f3bfbb 17.4px 18.5px,#f6d5d3 18.5px 19.5px,#f7dfdf 19.5px 20.4px,#f8e3e3 20.4px 21.2px,#f6d3d1 21.2px 22.1px,#fbf5f7 22.1px 23.2px,#f5d1cf 23.2px 23.4px)"></div><div style="left:474.3px;top:332.3px;width:14.1px;height:29.5px;background:linear-gradient(#ee9e96 0px 1.1px,#ea867c 1.1px 1.8px,#f6d7d6 1.8px 2.3px,#f0aaa4 2.3px 3.1px,#f3c2bf 3.1px 3.9px,#f2bab5 3.9px 4.5px,#efa49d 4.5px 5.6px,#f3c0bc 5.6px 6.2px,#ee9f98 6.2px 7.6px,#f6d4d3 7.6px 8.4px,#f1b2ad 8.4px 9.4px,#f8e2e2 9.4px 10.6px,#f7d9d8 10.6px 11.3px,#ea8379 11.3px 11.9px,#f3beba 11.9px 13.3px,#f2b9b5 13.3px 14.3px,#f3c0bc 14.3px 15.1px,#efa69f 15.1px 15.9px,#f1b3ae 15.9px 16.5px,#f5cfcd 16.5px 17.4px,#f2bcb7 17.4px 17.9px,#f4c7c4 17.9px 19.1px,#efa7a0 19.1px 20.3px,#f1b0ab 20.3px 21.4px,#f6d9d8 21.4px 22.3px,#f0b0aa 22.3px 22.8px,#efa59f 22.8px 23.6px,#f3c4c1 23.6px 24.9px,#f0b0aa 24.9px 25.9px,#f6d2d1 25.9px 27.2px,#efa39c 27.2px 28.2px,#f5ccca 28.2px 29.3px,#f3bfbb 29.3px 29.5px)"></div><div style="left:474.3px;top:366.1px;width:14.1px;height:19.4px;background:linear-gradient(#efeef7 0px 1.2px,#c4c6e6 1.2px 1.8px,#dbdbef 1.8px 2.7px,#e7e6f3 2.7px 3.7px,#d7d7ed 3.7px 4.6px,#bfc1e4 4.6px 5.5px,#dfdff1 5.5px 6.4px,#f9f7fa 6.4px 7.4px,#f1eff7 7.4px 8px,#d1d1eb 8px 9.1px,#ecebf6 9.1px 9.9px,#d2d3ec 9.9px 10.6px,#d1d2eb 10.6px 11.2px,#d9d9ee 11.2px 12px,#e1e0f1 12px 12.9px,#b3b6e0 12.9px 13.6px,#c1c3e5 13.6px 14.7px,#cfd0ea 14.7px 16.1px,#bdbfe3 16.1px 17.3px,#d1d2eb 17.3px 18.1px,#d6d6ed 18.1px 19px,#dadaef 19px 19.4px)"></div><div style="left:474.3px;top:389.4px;width:14.1px;height:83.9px;background:linear-gradient(#f7dedd 0px 1.1px,#fbf4f6 1.1px 2.1px,#eceaf5 2.1px 3.4px,#e8e7f4 3.4px 4.4px,#f6f3f9 4.4px 5.1px,#ebe9f5 5.1px 6.3px,#faeef0 6.3px 6.9px,#f2f0f8 6.9px 7.6px,#faf8fb 7.6px 8.2px,#faf4f6 8.2px 9.5px,#f6d5d3 9.5px 10.3px,#f9eaeb 10.3px 11.2px,#f8e5e6 11.2px 12px,#faeff0 12px 12.7px,#faf2f4 12.7px 13.5px,#f8e4e4 13.5px 14.6px,#f5d1cf 14.6px 15.3px,#f7dede 15.3px 16.5px,#faeff0 16.5px 17.8px,#f8e3e3 17.8px 18.5px,#f4cac8 18.5px 19.5px,#f5d2d0 19.5px 20.1px,#e7e6f3 20.1px 21.4px,#f3c2be 21.4px 22.6px,#fbf5f7 22.6px 23.3px,#faf2f4 23.3px 24.4px,#e1e1f1 24.4px 25px,#f7dede 25px 25.5px,#dcdcef 25.5px 26.5px,#f9e9ea 26.5px 27.1px,#f7dbdb 27.1px 28px,#f6d7d6 28px 29.3px,#f4f2f8 29.3px 29.9px,#fbf8fb 29.9px 30.8px,#faf4f6 30.8px 32px,#fbf5f8 32px 33px,#efeef7 33px 34.2px,#f9e8e9 34.2px 35.2px,#faf1f3 35.2px 35.9px,#f5cecc 35.9px 37.1px,#f9eced 37.1px 38.2px,#fbf8fb 38.2px 39.3px,#ebeaf5 39.3px 40.6px,#dbdbef 40.6px 41.1px,#f8f5fa 41.1px 41.9px,#f8f6fa 41.9px 43.1px,#edecf6 43.1px 44.4px,#f8f5fa 44.4px 45.8px,#f9e8e8 45.8px 46.8px,#f6f4f9 46.8px 47.9px,#fbf8fb 47.9px 48.5px,#e6e5f3 48.5px 49.2px,#f4cac7 49.2px 49.9px,#f9edee 49.9px 50.7px,#f2f0f8 50.7px 51.9px,#f8e2e2 51.9px 52.7px,#faeef0 52.7px 53.5px,#fbf8fb 53.5px 54.1px,#f9e8e9 54.1px 54.9px,#f7dbda 54.9px 55.8px,#f9ebec 55.8px 56.3px,#f6d6d4 56.3px 57.7px,#faf2f4 57.7px 59px,#fbf8fb 59px 59.9px,#f5cdcb 59.9px 60.8px,#fbf5f7 60.8px 61.7px,#f8e1e1 61.7px 62.9px,#faf4f6 62.9px 63.8px,#efeef7 63.8px 64.8px,#f5f3f9 64.8px 65.9px,#f4f2f9 65.9px 67px,#f5d0ce 67px 67.9px,#e9e8f4 67.9px 68.7px,#fbf7f9 68.7px 70.1px,#fbf4f6 70.1px 71.3px,#ecebf6 71.3px 72px,#faedef 72px 72.9px,#faf2f4 72.9px 73.9px,#efedf7 73.9px 74.9px,#eae9f5 74.9px 75.6px,#f9eaeb 75.6px 76.5px,#ddddf0 76.5px 77.6px,#f2b9b5 77.6px 78.9px,#f7d9d8 78.9px 79.9px,#e4e3f2 79.9px 80.5px,#efeef7 80.5px 81.5px,#e2e2f2 81.5px 82.1px,#cfd0ea 82.1px 83px,#f6d5d3 83px 83.9px,#fbf8fb 83.9px 83.9px)"></div><div style="left:474.3px;top:477.2px;width:14.1px;height:33.3px;background:linear-gradient(#f7f5fa 0px 1.2px,#fbf4f6 1.2px 1.8px,#f1eff7 1.8px 2.4px,#f8e6e6 2.4px 3.4px,#efeef7 3.4px 4.3px,#f9f7fa 4.3px 5.3px,#f6f4f9 5.3px 6.6px,#f1eff7 6.6px 7.4px,#faf1f3 7.4px 8.7px,#f9edee 8.7px 9.7px,#dfdff1 9.7px 10.4px,#f5cecc 10.4px 10.9px,#f7d9d8 10.9px 11.7px,#e1e0f1 11.7px 12.7px,#f6d5d4 12.7px 13.4px,#f0eef7 13.4px 14.2px,#fbf9fb 14.2px 14.8px,#f9ebec 14.8px 15.9px,#faf8fb 15.9px 17px,#f8e1e1 17px 17.9px,#faf4f6 17.9px 18.5px,#eae9f5 18.5px 19px,#e0e0f1 19px 20.1px,#e8e7f4 20.1px 21.4px,#f8e5e6 21.4px 22.6px,#f7dcdc 22.6px 23.3px,#f8e3e3 23.3px 24.3px,#f7dede 24.3px 25.6px,#f3bfbc 25.6px 26.5px,#f8e6e6 26.5px 27.1px,#f7dbdb 27.1px 27.8px,#dfdff1 27.8px 28.4px,#f7f4f9 28.4px 29.2px,#f6d4d3 29.2px 29.9px,#eae9f5 29.9px 31.1px,#fbf8fb 31.1px 31.8px,#cccde9 31.8px 32.9px,#f6d8d7 32.9px 33.3px)"></div><div style="left:474.3px;top:514.7px;width:14.1px;height:27.4px;background:linear-gradient(#f7dede 0px 1.1px,#f7dfdf 1.1px 2px,#f2f0f8 2px 2.6px,#f8f5fa 2.6px 3.3px,#fbf8fb 3.3px 4.1px,#f0afa9 4.1px 5.5px,#f6f4f9 5.5px 6.9px,#e5e4f3 6.9px 8px,#f2f0f8 8px 8.5px,#faeff0 8.5px 9.3px,#f4c9c6 9.3px 10.4px,#ebeaf5 10.4px 11.6px,#e3e3f2 11.6px 12.4px,#f7dede 12.4px 13.2px,#faeef0 13.2px 14.3px,#ddddf0 14.3px 15.2px,#faeff0 15.2px 15.9px,#e6e5f3 15.9px 17.1px,#e5e4f3 17.1px 18.5px,#f1eff7 18.5px 19.9px,#f6d5d4 19.9px 20.7px,#f9edee 20.7px 22.1px,#f8f6fa 22.1px 22.9px,#ebeaf5 22.9px 24.2px,#d0d1eb 24.2px 24.8px,#d3d3ec 24.8px 25.6px,#dfdff1 25.6px 26.5px,#ebeaf5 26.5px 27.3px,#f8e2e2 27.3px 27.4px)"></div><div style="left:474.3px;top:546.4px;width:14.1px;height:38.1px;background:linear-gradient(#faf0f1 0px 1.8px,#f8e3e3 1.8px 2.7px,#e4e3f2 2.7px 3.4px,#f3c1be 3.4px 4.7px,#f7dedd 4.7px 5.5px,#f9eced 5.5px 6px,#f9f7fb 6px 7px,#f3f1f8 7px 7.7px,#f4f2f9 7.7px 8.4px,#f4c6c3 8.4px 8.9px,#f5cecc 8.9px 9.7px,#f3c3c0 9.7px 10.6px,#f8e3e4 10.6px 11.9px,#f3c1be 11.9px 12.5px,#f5ccca 12.5px 13.6px,#f9e8e9 13.6px 14.5px,#f4c9c6 14.5px 15.8px,#f2b8b3 15.8px 16.3px,#edecf6 16.3px 17.2px,#f8e2e2 17.2px 18.4px,#f3c2bf 18.4px 19.8px,#f6d5d4 19.8px 20.9px,#f4c6c3 20.9px 22.1px,#f7dcdc 22.1px 23.4px,#f6d5d4 23.4px 24.1px,#f6d7d6 24.1px 25.3px,#f5d0cd 25.3px 26.5px,#d6d6ed 26.5px 27.2px,#f9eaeb 27.2px 28.2px,#f6d9d8 28.2px 29.5px,#f7f5fa 29.5px 30.2px,#f5cfcd 30.2px 31.2px,#f8e6e7 31.2px 32.2px,#f2b9b4 32.2px 33px,#f2bab6 33px 34.1px,#faf0f2 34.1px 34.9px,#f7dddc 34.9px 36.2px,#faeff1 36.2px 37.6px,#faf2f3 37.6px 38.1px)"></div><div style="left:490px;top:96.2px;width:9.9px;height:168.3px;background:linear-gradient(#d8a898 0px 0.6px,#e0c0b8 0.6px 1.6px,#c88878 1.6px 2.9px,#ffffff 2.9px 4.9px,#c8a098 4.9px 5.6px,#e0c0b8 5.6px 6.4px,#ffffff 6.4px 11.2px,#e0c0b8 11.2px 12.6px,#ffffff 12.6px 13.4px,#d8a898 13.4px 14.9px,#b86860 14.9px 15.9px,#c88878 15.9px 17.1px,#ffffff 17.1px 18.1px,#c8a098 18.1px 18.7px,#ffffff 18.7px 19.8px,#e0c0b8 19.8px 20.9px,#a84840 20.9px 21.4px,#ffffff 21.4px 26.2px,#c8a098 26.2px 26.8px,#ffffff 26.8px 28.6px,#a84840 28.6px 29.6px,#ffffff 29.6px 31.5px,#b86860 31.5px 32.7px,#d8a898 32.7px 33.8px,#ffffff 33.8px 35.1px,#e0c0b8 35.1px 36.8px,#c8a098 36.8px 38px,#c88878 38px 39px,#d8a898 39px 39.6px,#ffffff 39.6px 40.2px,#b86860 40.2px 41px,#ffffff 41px 41.8px,#b86860 41.8px 42.5px,#c8a098 42.5px 43.8px,#ffffff 43.8px 46.5px,#d8a898 46.5px 47.2px,#ffffff 47.2px 49.6px,#d8a898 49.6px 50.7px,#c88878 50.7px 52px,#a84840 52px 53.1px,#ffffff 53.1px 54.2px,#a84840 54.2px 55.3px,#ffffff 55.3px 56.5px,#c8a098 56.5px 57.9px,#ffffff 57.9px 61.2px,#c88878 61.2px 62.5px,#e0c0b8 62.5px 63.3px,#ffffff 63.3px 64.2px,#c88878 64.2px 65.1px,#ffffff 65.1px 69px,#c8a098 69px 70.2px,#ffffff 70.2px 71.9px,#c88878 71.9px 72.7px,#ffffff 72.7px 74.6px,#d8a898 74.6px 76.8px,#ffffff 76.8px 78.5px,#c8a098 78.5px 79px,#ffffff 79px 79.6px,#c8a098 79.6px 80.3px,#ffffff 80.3px 81.4px,#e0c0b8 81.4px 82.5px,#b86860 82.5px 83px,#ffffff 83px 85.2px,#a84840 85.2px 86px,#c8a098 86px 87.3px,#a84840 87.3px 87.9px,#ffffff 87.9px 89.1px,#c88878 89.1px 90.1px,#c8a098 90.1px 90.9px,#c88878 90.9px 91.9px,#c8a098 91.9px 93.4px,#c88878 93.4px 94.4px,#ffffff 94.4px 96.4px,#a84840 96.4px 97.3px,#ffffff 97.3px 98.1px,#c88878 98.1px 99px,#a84840 99px 99.7px,#ffffff 99.7px 102.7px,#d8a898 102.7px 103.9px,#ffffff 103.9px 106.5px,#a84840 106.5px 107.7px,#ffffff 107.7px 111.2px,#c88878 111.2px 111.8px,#a84840 111.8px 112.7px,#ffffff 112.7px 113.3px,#c88878 113.3px 114.2px,#c8a098 114.2px 115px,#ffffff 115px 115.6px,#d8a898 115.6px 116.6px,#ffffff 116.6px 123.3px,#d8a898 123.3px 124.5px,#c88878 124.5px 125.1px,#ffffff 125.1px 126.8px,#e0c0b8 126.8px 128px,#c8a098 128px 129.1px,#c88878 129.1px 129.6px,#a84840 129.6px 131.6px,#e0c0b8 131.6px 132.7px,#ffffff 132.7px 133.8px,#a84840 133.8px 134.8px,#ffffff 134.8px 137.5px,#e0c0b8 137.5px 138.4px,#c8a098 138.4px 139.4px,#ffffff 139.4px 145.1px,#d8a898 145.1px 145.7px,#ffffff 145.7px 148.3px,#a84840 148.3px 149.1px,#ffffff 149.1px 150.2px,#e0c0b8 150.2px 151.1px,#ffffff 151.1px 152.4px,#a84840 152.4px 153.2px,#ffffff 153.2px 154px,#a84840 154px 154.7px,#d8a898 154.7px 155.9px,#c88878 155.9px 157px,#a84840 157px 157.9px,#ffffff 157.9px 159.8px,#c8a098 159.8px 160.5px,#b86860 160.5px 161.5px,#ffffff 161.5px 163.9px,#c88878 163.9px 164.6px,#c8a098 164.6px 165.7px,#e0c0b8 165.7px 166.7px,#ffffff 166.7px 168.3px)"></div><div style="left:490px;top:268.1px;width:9.9px;height:32.8px;background:linear-gradient(#d8a898 0px 1.2px,#ffffff 1.2px 2.8px,#c8a098 2.8px 4.1px,#ffffff 4.1px 4.9px,#a84840 4.9px 5.7px,#d8a898 5.7px 6.3px,#ffffff 6.3px 7.5px,#c8a098 7.5px 8.6px,#ffffff 8.6px 9.5px,#a84840 9.5px 10.2px,#ffffff 10.2px 11.5px,#e0c0b8 11.5px 12.5px,#ffffff 12.5px 13.3px,#c88878 13.3px 14.5px,#ffffff 14.5px 15.6px,#b86860 15.6px 16.7px,#ffffff 16.7px 17.6px,#c8a098 17.6px 18.9px,#c88878 18.9px 19.8px,#c8a098 19.8px 20.7px,#e0c0b8 20.7px 21.4px,#ffffff 21.4px 22.1px,#e0c0b8 22.1px 22.7px,#ffffff 22.7px 23.5px,#c8a098 23.5px 24px,#a84840 24px 25px,#ffffff 25px 25.8px,#c88878 25.8px 26.4px,#ffffff 26.4px 27.3px,#c88878 27.3px 29.6px,#ffffff 29.6px 30.8px,#c88878 30.8px 32.7px,#e0c0b8 32.7px 32.8px)"></div><div style="left:490px;top:305.2px;width:9.9px;height:23.4px;background:linear-gradient(#ffffff 0px 2px,#d8a898 2px 4.1px,#a84840 4.1px 5.1px,#ffffff 5.1px 6.1px,#c88878 6.1px 7px,#ffffff 7px 7.8px,#c88878 7.8px 8.6px,#ffffff 8.6px 11.1px,#e0c0b8 11.1px 11.8px,#a84840 11.8px 13px,#d8a898 13px 13.8px,#b86860 13.8px 14.9px,#ffffff 14.9px 15.7px,#d8a898 15.7px 16.2px,#ffffff 16.2px 17.5px,#b86860 17.5px 19.3px,#ffffff 19.3px 19.8px,#a84840 19.8px 21px,#ffffff 21px 23.4px)"></div><div style="left:490px;top:332.3px;width:9.9px;height:29.5px;background:linear-gradient(#ffffff 0px 2.4px,#c88878 2.4px 3.4px,#ffffff 3.4px 4.2px,#e0c0b8 4.2px 4.9px,#b86860 4.9px 5.9px,#c8a098 5.9px 7.8px,#ffffff 7.8px 8.9px,#b86860 8.9px 9.5px,#ffffff 9.5px 10.3px,#e0c0b8 10.3px 11px,#d8a898 11px 11.7px,#c88878 11.7px 12.7px,#ffffff 12.7px 13.6px,#b86860 13.6px 14.3px,#d8a898 14.3px 14.9px,#b86860 14.9px 15.7px,#d8a898 15.7px 16.7px,#ffffff 16.7px 18.2px,#c8a098 18.2px 19px,#a84840 19px 20.2px,#c88878 20.2px 21.1px,#e0c0b8 21.1px 21.8px,#c88878 21.8px 22.4px,#ffffff 22.4px 24.2px,#b86860 24.2px 25.1px,#c88878 25.1px 25.8px,#ffffff 25.8px 26.4px,#b86860 26.4px 27.3px,#ffffff 27.3px 28.2px,#d8a898 28.2px 28.8px,#ffffff 28.8px 29.5px)"></div><div style="left:490px;top:366.1px;width:9.9px;height:19.4px;background:linear-gradient(#ffffff 0px 19.4px)"></div><div style="left:490px;top:389.4px;width:9.9px;height:83.9px;background:linear-gradient(#ffffff 0px 7.1px,#c8c8e8 7.1px 8.9px,#ffffff 8.9px 16.8px,#d08070 16.8px 17.6px,#ffffff 17.6px 38.9px,#c8c8e8 38.9px 40.1px,#ffffff 40.1px 58px,#e0b8b0 58px 59.6px,#ffffff 59.6px 68.3px,#d0a8a0 68.3px 69px,#ffffff 69px 73.6px,#d08070 73.6px 74.1px,#ffffff 74.1px 75.4px,#d08070 75.4px 75.9px,#ffffff 75.9px 83.9px)"></div><div style="left:490px;top:477.2px;width:9.9px;height:33.3px;background:linear-gradient(#ffffff 0px 8.5px,#d0a8a0 8.5px 9.6px,#ffffff 9.6px 19.1px,#d08070 19.1px 20.1px,#ffffff 20.1px 22.7px,#d0a8a0 22.7px 23.7px,#ffffff 23.7px 28.8px,#e0b8b0 28.8px 29.3px,#ffffff 29.3px 29.9px,#d08070 29.9px 31px,#d0a8a0 31px 31.6px,#ffffff 31.6px 33.3px)"></div><div style="left:490px;top:514.7px;width:9.9px;height:27.4px;background:linear-gradient(#d08070 0px 1.2px,#ffffff 1.2px 4.3px,#d08070 4.3px 4.8px,#ffffff 4.8px 8.1px,#e0b8b0 8.1px 9px,#ffffff 9px 15.5px,#c8c8e8 15.5px 16px,#ffffff 16px 17.8px,#d0a8a0 17.8px 19px,#ffffff 19px 19.8px,#d08070 19.8px 20.8px,#ffffff 20.8px 26.7px,#d08070 26.7px 27.4px)"></div><div style="left:490px;top:546.4px;width:9.9px;height:38.1px;background:linear-gradient(#ffffff 0px 3.6px,#d08070 3.6px 4.6px,#c8c8e8 4.6px 5.2px,#ffffff 5.2px 14.7px,#e0b8b0 14.7px 15.9px,#ffffff 15.9px 22.5px,#e0b8b0 22.5px 23.5px,#ffffff 23.5px 25.7px,#d08070 25.7px 26.4px,#ffffff 26.4px 28.3px,#d08070 28.3px 29.5px,#ffffff 29.5px 30.7px,#c8c8e8 30.7px 31.7px,#ffffff 31.7px 36.2px,#d0a8a0 36.2px 37.3px,#ffffff 37.3px 38.1px)"></div><div style="left:505px;top:96.2px;width:27.6px;height:168.3px;background:linear-gradient(#453293 0px 3.5px,#433393 3.5px 8.1px,#423392 8.1px 12.3px,#443293 12.3px 15.5px,#463294 15.5px 20.2px,#433393 20.2px 24.6px,#413492 24.6px 27.7px,#433392 27.7px 34.8px,#423392 34.8px 37.6px,#433393 37.6px 40.5px,#423392 40.5px 45.3px,#443293 45.3px 49.6px,#403491 49.6px 52.7px,#443293 52.7px 57.1px,#453293 57.1px 59.8px,#443393 59.8px 64px,#443293 64px 70.4px,#453293 70.4px 72.7px,#433392 72.7px 80.9px,#443393 80.9px 85.4px,#423392 85.4px 88.2px,#453293 88.2px 92.7px,#423392 92.7px 101.1px,#453293 101.1px 103.2px,#463294 103.2px 107.6px,#413392 107.6px 111.6px,#443293 111.6px 116px,#433392 116px 118.7px,#463294 118.7px 121.3px,#453293 121.3px 125.3px,#423392 125.3px 132.5px,#453293 132.5px 135px,#443293 135px 139.8px,#433393 139.8px 145.7px,#463294 145.7px 147.9px,#433392 147.9px 152.7px,#443293 152.7px 161.6px,#453293 161.6px 168.3px)"></div><div style="left:536px;top:96.2px;width:27px;height:168.3px;background:linear-gradient(#453293 0px 4.8px,#413492 4.8px 7.9px,#433392 7.9px 17px,#463294 17px 20.1px,#443293 20.1px 22.7px,#423392 22.7px 26.3px,#453293 26.3px 28.7px,#433392 28.7px 31.8px,#443293 31.8px 36.8px,#423392 36.8px 38.8px,#453293 38.8px 42.2px,#433393 42.2px 47.9px,#413492 47.9px 50.7px,#463294 50.7px 54.1px,#433393 54.1px 56.3px,#453293 56.3px 65.5px,#443293 65.5px 67.6px,#463294 67.6px 69.9px,#423392 69.9px 75.6px,#453293 75.6px 78.4px,#433393 78.4px 83.3px,#433392 83.3px 87.7px,#423392 87.7px 97.5px,#443293 97.5px 101.6px,#453293 101.6px 106.2px,#413392 106.2px 108.5px,#423392 108.5px 113.4px,#443293 113.4px 116.6px,#433392 116.6px 119.6px,#443293 119.6px 123.3px,#3f3491 123.3px 130.7px,#423392 130.7px 134.7px,#433393 134.7px 137px,#423392 137px 141.8px,#453293 141.8px 146.5px,#433392 146.5px 149px,#423392 149px 153.3px,#463294 153.3px 156.2px,#413392 156.2px 160.4px,#433393 160.4px 165.1px,#413392 165.1px 167.6px,#463294 167.6px 168.3px)"></div><div style="left:505px;top:268.1px;width:27.6px;height:32.8px;background:linear-gradient(#473194 0px 3.5px,#463294 3.5px 7.4px,#4a3095 7.4px 13.3px,#463294 13.3px 17.4px,#4b3096 17.4px 21.2px,#483195 21.2px 24px,#463194 24px 28.5px,#473194 28.5px 32.3px,#4a3095 32.3px 32.8px)"></div><div style="left:536px;top:268.1px;width:27px;height:32.8px;background:linear-gradient(#4b3096 0px 2.7px,#493195 2.7px 5px,#4c3096 5px 7.3px,#4b3096 7.3px 10.5px,#493095 10.5px 13.9px,#483194 13.9px 17.4px,#473194 17.4px 24.7px,#493095 24.7px 28.2px,#463294 28.2px 30.9px,#453293 30.9px 32.8px)"></div><div style="left:505px;top:305.2px;width:27.6px;height:23.4px;background:linear-gradient(#4f2e97 0px 2.9px,#4e2f97 2.9px 7.4px,#4c2f96 7.4px 12.3px,#4a3095 12.3px 14.3px,#453293 14.3px 18.8px,#463294 18.8px 21.3px,#433393 21.3px 23.4px)"></div><div style="left:536px;top:305.2px;width:27px;height:23.4px;background:linear-gradient(#512e98 0px 3.9px,#522d99 3.9px 6.1px,#4c3096 6.1px 10.4px,#4a3095 10.4px 13px,#483194 13px 17.1px,#443293 17.1px 21.4px,#463294 21.4px 23.4px)"></div><div style="left:505px;top:332.3px;width:27.6px;height:29.5px;background:linear-gradient(#69289d 0px 4.7px,#67289c 4.7px 7.5px,#62299c 7.5px 10.6px,#61299c 10.6px 13.8px,#5b2b9b 13.8px 16.5px,#542c9a 16.5px 20.3px,#512d98 20.3px 25.2px,#4e2f97 25.2px 29.5px)"></div><div style="left:536px;top:332.3px;width:27px;height:29.5px;background:linear-gradient(#70269e 0px 2.3px,#67289c 2.3px 5.2px,#68289d 5.2px 7.8px,#67289c 7.8px 11.2px,#5e2a9b 11.2px 17.9px,#592b9b 17.9px 20.2px,#522d99 20.2px 22.8px,#4d2f97 22.8px 27.7px,#4b3096 27.7px 29.5px)"></div><div style="left:505px;top:366.1px;width:27.6px;height:19.4px;background:linear-gradient(#403491 0px 2.8px,#423392 2.8px 5.5px,#453293 5.5px 8.3px,#443293 8.3px 10.4px,#423392 10.4px 12.8px,#443293 12.8px 15.6px,#3f3491 15.6px 17.6px,#423392 17.6px 19.4px)"></div><div style="left:536px;top:366.1px;width:27px;height:19.4px;background:linear-gradient(#433392 0px 4px,#413392 4px 7.8px,#443293 7.8px 12.4px,#443393 12.4px 15.3px,#463294 15.3px 18.7px,#403491 18.7px 19.4px)"></div><div style="left:505px;top:389.4px;width:27.6px;height:83.9px;background:linear-gradient(#443293 0px 3.8px,#433392 3.8px 11px,#423392 11px 22.7px,#443293 22.7px 26.8px,#433392 26.8px 31.1px,#473194 31.1px 34.3px,#463294 34.3px 37.3px,#433392 37.3px 40.2px,#3f3491 40.2px 45px,#443393 45px 49.9px,#453293 49.9px 53.7px,#433393 53.7px 62.3px,#443293 62.3px 64.5px,#423392 64.5px 69.5px,#433392 69.5px 72px,#433393 72px 74.5px,#473194 74.5px 79.3px,#443393 79.3px 83.9px)"></div><div style="left:536px;top:389.4px;width:27px;height:83.9px;background:linear-gradient(#3f3491 0px 2.4px,#413392 2.4px 9.8px,#423392 9.8px 13px,#463294 13px 17.3px,#413492 17.3px 20.3px,#443293 20.3px 24.8px,#453293 24.8px 27.2px,#403491 27.2px 30.1px,#433393 30.1px 34px,#453293 34px 36.3px,#443293 36.3px 39.6px,#453293 39.6px 43.6px,#423392 43.6px 46.9px,#453293 46.9px 51.7px,#463294 51.7px 53.9px,#453294 53.9px 58.8px,#433392 58.8px 63.4px,#413492 63.4px 67.7px,#423392 67.7px 72.7px,#453294 72.7px 75px,#443393 75px 79.8px,#443293 79.8px 83.9px)"></div><div style="left:505px;top:477.2px;width:27.6px;height:33.3px;background:linear-gradient(#463294 0px 3.7px,#453293 3.7px 5.8px,#443293 5.8px 10.1px,#463294 10.1px 14.3px,#443293 14.3px 17px,#433392 17px 19.3px,#473194 19.3px 21.9px,#453293 21.9px 25.3px,#443293 25.3px 28.7px,#453293 28.7px 31px,#413392 31px 33.3px)"></div><div style="left:536px;top:477.2px;width:27px;height:33.3px;background:linear-gradient(#453293 0px 3.3px,#433393 3.3px 7.4px,#403491 7.4px 12.3px,#453293 12.3px 16.3px,#413392 16.3px 20.4px,#443293 20.4px 24.2px,#433393 24.2px 28.4px,#453293 28.4px 31.8px,#433392 31.8px 33.3px)"></div><div style="left:505px;top:514.7px;width:27.6px;height:27.4px;background:linear-gradient(#463294 0px 4.9px,#443293 4.9px 11.3px,#473194 11.3px 15.8px,#433393 15.8px 20.4px,#473194 20.4px 25.2px,#403491 25.2px 27.2px,#423392 27.2px 27.4px)"></div><div style="left:536px;top:514.7px;width:27px;height:27.4px;background:linear-gradient(#433392 0px 2.2px,#403491 2.2px 5.5px,#433393 5.5px 9.6px,#453293 9.6px 12.2px,#403491 12.2px 16px,#443293 16px 21.9px,#423392 21.9px 26.7px,#443293 26.7px 27.4px)"></div><div style="left:505px;top:546.4px;width:27.6px;height:38.1px;background:linear-gradient(#423392 0px 3.1px,#3f3491 3.1px 5.2px,#433392 5.2px 9.1px,#443293 9.1px 15.3px,#403491 15.3px 19.6px,#423392 19.6px 24.1px,#433393 24.1px 28.1px,#463294 28.1px 31.7px,#403491 31.7px 36.1px,#453293 36.1px 38.1px)"></div><div style="left:536px;top:546.4px;width:27px;height:38.1px;background:linear-gradient(#453293 0px 4.6px,#423392 4.6px 8.1px,#443293 8.1px 10.9px,#463294 10.9px 14.6px,#433393 14.6px 17px,#413392 17px 21.1px,#433392 21.1px 25.9px,#463294 25.9px 31.6px,#483195 31.6px 36.6px,#463294 36.6px 38.1px)"></div><div style="left:566.4px;top:96.2px;width:13.8px;height:168.3px;background:linear-gradient(#faf1f3 0px 0.9px,#fbf7fa 0.9px 1.7px,#fbf8fa 1.7px 2.3px,#f6f4f9 2.3px 3.8px,#edecf6 3.8px 5.1px,#f6f4f9 5.1px 6.5px,#faf1f3 6.5px 7.2px,#faf4f6 7.2px 8.6px,#f9f6fa 8.6px 9.5px,#f7dddd 9.5px 10.3px,#faf1f3 10.3px 11.3px,#f3f1f8 11.3px 12.6px,#e7e6f3 12.6px 14.1px,#fbf4f6 14.1px 15px,#f2f0f8 15px 15.7px,#f9f6fa 15.7px 17.3px,#f9f7fa 17.3px 18.5px,#f6f4f9 18.5px 19.3px,#fbf7fa 19.3px 20.9px,#efedf7 20.9px 22.3px,#e5e4f3 22.3px 23.1px,#faeeef 23.1px 24.1px,#fbf8fb 24.1px 25.4px,#f0eef7 25.4px 26.9px,#f9e8e8 26.9px 27.6px,#faf3f5 27.6px 28.9px,#fbf5f7 28.9px 30.3px,#ecebf6 30.3px 31.1px,#f4f2f9 31.1px 32.3px,#f8f5fa 32.3px 33.7px,#f5f3f9 33.7px 34.6px,#f4f2f8 34.6px 35.6px,#f9eaeb 35.6px 37px,#e6e5f3 37px 37.8px,#e8e7f4 37.8px 39.3px,#fbf8fb 39.3px 40.3px,#f1eff7 40.3px 41.4px,#faf1f3 41.4px 42.6px,#f5f2f9 42.6px 43.2px,#faedef 43.2px 44px,#f7f5fa 44px 44.8px,#faeef0 44.8px 45.9px,#f9eced 45.9px 47.1px,#f4f2f8 47.1px 47.8px,#faf4f6 47.8px 50.8px,#fbf6f8 50.8px 52px,#f8e1e1 52px 52.8px,#fbf6f8 52.8px 54px,#eeecf6 54px 54.7px,#faf7fb 54.7px 56px,#eae9f5 56px 57.3px,#fbf7fa 57.3px 58.6px,#edebf6 58.6px 59.2px,#faf0f2 59.2px 59.9px,#faf2f4 59.9px 61px,#fbf5f7 61px 62px,#f5f3f9 62px 63.3px,#eceaf5 63.3px 64.9px,#fbf8fb 64.9px 66.3px,#faeeef 66.3px 67.6px,#faf3f5 67.6px 68.6px,#f8f6fa 68.6px 70px,#e6e5f3 70px 70.9px,#f6f4f9 70.9px 72.3px,#faf0f1 72.3px 73.8px,#f0eef7 73.8px 75.3px,#f9ebec 75.3px 76.5px,#f7dcdb 76.5px 77.7px,#f0eef7 77.7px 78.6px,#f1eff7 78.6px 79.3px,#faf3f5 79.3px 79.9px,#fbf8fa 79.9px 81.4px,#faf0f2 81.4px 82.6px,#f4f2f8 82.6px 84.1px,#f7f5fa 84.1px 84.8px,#fbf6f8 84.8px 85.7px,#fbf7fa 85.7px 87.1px,#faf2f4 87.1px 87.8px,#f2f0f8 87.8px 89.3px,#f9e7e8 89.3px 90.1px,#ebe9f5 90.1px 90.8px,#fbf8fb 90.8px 91.6px,#e8e7f4 91.6px 93.1px,#f0eef7 93.1px 94.5px,#fbf6f8 94.5px 95.3px,#eeecf6 95.3px 96.4px,#faf1f3 96.4px 97.3px,#f9edee 97.3px 98.4px,#faf1f3 98.4px 99.7px,#f5f3f9 99.7px 101px,#fbf5f7 101px 102px,#f0eef7 102px 103.4px,#f9f7fa 103.4px 104.2px,#faf2f4 104.2px 105.3px,#f9ebec 105.3px 106.5px,#efedf7 106.5px 107.7px,#f4f2f8 107.7px 109px,#fbf8fb 109px 110.1px,#faedef 110.1px 111.2px,#fbf4f6 111.2px 112.4px,#f9f6fa 112.4px 113.8px,#f6f3f9 113.8px 115px,#f9eaeb 115px 116.2px,#faf4f6 116.2px 117.5px,#f8e6e6 117.5px 118.6px,#f4f2f8 118.6px 119.6px,#faf1f3 119.6px 121px,#f9e9e9 121px 122px,#f6f4f9 122px 123.3px,#f7e0df 123.3px 124.9px,#faf8fb 124.9px 125.9px,#f2f0f8 125.9px 127.3px,#faf7fb 127.3px 128.7px,#faeef0 128.7px 130.2px,#f8f6fa 130.2px 132.4px,#fbf8fb 132.4px 134px,#fbf8fa 134px 135.5px,#f9f7fa 135.5px 136.2px,#faf3f5 136.2px 136.8px,#eeecf6 136.8px 137.7px,#f8f6fa 137.7px 138.8px,#f7dedd 138.8px 140px,#fbf4f6 140px 141.4px,#f9e8e9 141.4px 143px,#f6f4f9 143px 143.8px,#fbf5f8 143.8px 144.9px,#faf4f6 144.9px 145.8px,#faf0f2 145.8px 147.1px,#e3e2f2 147.1px 148.6px,#fbf7f9 148.6px 149.8px,#faeef0 149.8px 151px,#faf3f5 151px 152.2px,#eceaf5 152.2px 153.5px,#f0eff7 153.5px 154.6px,#fbf6f8 154.6px 155.3px,#faeff1 155.3px 156.8px,#fbf8fb 156.8px 157.9px,#f4f2f9 157.9px 159.1px,#efedf6 159.1px 160.1px,#fbf7fa 160.1px 161.6px,#faeeef 161.6px 162.4px,#f9edee 162.4px 163.5px,#f8e4e4 163.5px 164.8px,#f7f5fa 164.8px 166.3px,#eeecf6 166.3px 167.6px,#f0eef7 167.6px 168.3px)"></div><div style="left:566.4px;top:268.1px;width:13.8px;height:32.8px;background:linear-gradient(#fbf7f9 0px 0.6px,#e9e8f4 0.6px 2.1px,#faeff1 2.1px 2.9px,#fbf7f9 2.9px 3.9px,#fbf4f6 3.9px 5.1px,#faf2f4 5.1px 6.4px,#faeff0 6.4px 7.3px,#f8f6fa 7.3px 8.1px,#f5f3f9 8.1px 8.8px,#fbf8fb 8.8px 10.1px,#f9e8e9 10.1px 11.6px,#f9ebec 11.6px 13.7px,#f8f6fa 13.7px 14.6px,#faf3f5 14.6px 16.1px,#f9edee 16.1px 16.8px,#f9f6fa 16.8px 18.2px,#f7dbdb 18.2px 19.7px,#f8e3e3 19.7px 20.8px,#fbf7f9 20.8px 21.7px,#faf3f5 21.7px 23.7px,#f8f6fa 23.7px 26px,#f8e5e6 26px 26.8px,#f7e0df 26.8px 28.1px,#fbf7f9 28.1px 29.4px,#faf1f2 29.4px 30.4px,#fbf8fb 30.4px 31.3px,#ebe9f5 31.3px 32.2px,#efedf6 32.2px 32.8px)"></div><div style="left:566.4px;top:305.2px;width:13.8px;height:23.4px;background:linear-gradient(#bec0e4 0px 0.7px,#e9e8f4 0.7px 1.3px,#c2c4e6 1.3px 2.9px,#cacbe9 2.9px 3.6px,#dcdcef 3.6px 4.4px,#bfc1e4 4.4px 6px,#c7c9e8 6px 6.8px,#d7d8ee 6.8px 8px,#cecfea 8px 9.1px,#bec0e4 9.1px 10.1px,#c7c9e7 10.1px 11.7px,#d9daee 11.7px 12.7px,#b8bbe2 12.7px 13.9px,#ddddf0 13.9px 14.9px,#deddf0 14.9px 15.7px,#cdceea 15.7px 17px,#bdc0e4 17px 18.2px,#d9d9ee 18.2px 19.8px,#c9cae8 19.8px 20.5px,#dbdbef 20.5px 21.4px,#d2d2eb 21.4px 22.5px,#c7c9e8 22.5px 23.4px)"></div><div style="left:566.4px;top:332.3px;width:13.8px;height:29.5px;background:linear-gradient(#f9ebec 0px 1.3px,#f8e0e0 1.3px 2.1px,#faedef 2.1px 3.6px,#f9e8e9 3.6px 4.2px,#f7dada 4.2px 4.8px,#f8e6e7 4.8px 7.7px,#f6d8d7 7.7px 9px,#f8e6e6 9px 10.3px,#f9ebec 10.3px 11.5px,#faf7fb 11.5px 12.9px,#f7dedd 12.9px 14.4px,#f6d8d7 14.4px 15.5px,#faf1f3 15.5px 16.9px,#f7dfdf 16.9px 18.4px,#faf0f1 18.4px 19.8px,#faf2f4 19.8px 20.7px,#faf3f5 20.7px 21.9px,#f8e1e1 21.9px 23.3px,#faeff0 23.3px 24.9px,#f8e1e1 24.9px 26.4px,#fbf6f9 26.4px 27.9px,#f9e9ea 27.9px 28.6px,#f8e5e5 28.6px 29.5px)"></div><div style="left:566.4px;top:366.1px;width:13.8px;height:19.4px;background:linear-gradient(#f9edee 0px 0.7px,#f1eff7 0.7px 2px,#faeff1 2px 3.3px,#f8e4e4 3.3px 4.8px,#faeff1 4.8px 5.8px,#faf4f6 5.8px 6.8px,#f7dfde 6.8px 8.1px,#fbf6f8 8.1px 8.8px,#f3f1f8 8.8px 9.8px,#faedef 9.8px 10.4px,#fbf9fb 10.4px 11.3px,#f8e2e2 11.3px 12.3px,#f8e6e6 12.3px 13.5px,#fbf8fa 13.5px 14.9px,#f8e5e5 14.9px 16.4px,#f1f0f7 16.4px 17.4px,#f8e2e2 17.4px 18.1px,#f9edee 18.1px 18.9px,#faf0f2 18.9px 19.4px)"></div><div style="left:566.4px;top:389.4px;width:13.8px;height:83.9px;background:linear-gradient(#f0eef7 0px 0.9px,#fbf7f9 0.9px 2.3px,#eeecf6 2.3px 3.4px,#f2f0f8 3.4px 4.9px,#faf2f4 4.9px 6.1px,#f8e6e7 6.1px 7px,#fbf8fb 7px 7.7px,#f8f6fa 7.7px 8.3px,#faf2f4 8.3px 9.9px,#f9eced 9.9px 10.6px,#f9e9e9 10.6px 11.4px,#f8e5e5 11.4px 12.3px,#f2f0f8 12.3px 13.7px,#faeeef 13.7px 14.8px,#f7f4f9 14.8px 15.6px,#f9edee 15.6px 16.3px,#faf8fb 16.3px 17.4px,#f8e5e5 17.4px 18.9px,#f7f5fa 18.9px 20.4px,#faf2f4 20.4px 21.6px,#faf0f2 21.6px 23px,#f5f3f9 23px 24.4px,#fbf7f9 24.4px 25.8px,#f2f1f8 25.8px 27.4px,#f8f6fa 27.4px 28.6px,#f9e7e8 28.6px 30.2px,#eae9f5 30.2px 30.9px,#faf4f6 30.9px 32.4px,#efedf6 32.4px 33.1px,#fbf7fa 33.1px 34.5px,#faf3f5 34.5px 35.1px,#fbf8fb 35.1px 36.2px,#faeeef 36.2px 36.9px,#fbf8fb 36.9px 37.9px,#eae9f5 37.9px 39.2px,#faf0f2 39.2px 40.2px,#fbf7f9 40.2px 40.9px,#faeff0 40.9px 42.2px,#f4f2f8 42.2px 43.3px,#f8e1e1 43.3px 44.2px,#fbf7fa 44.2px 45.6px,#fbf6f9 45.6px 46.8px,#fbf5f7 46.8px 48.2px,#faf1f2 48.2px 49.1px,#f8e5e6 49.1px 50.7px,#faeff1 50.7px 52.1px,#f6f4f9 52.1px 52.7px,#faf2f4 52.7px 53.6px,#faf3f5 53.6px 54.8px,#e7e6f4 54.8px 56.2px,#f7f4f9 56.2px 57px,#fbf8fa 57px 58.4px,#faf3f5 58.4px 59.7px,#f8e3e3 59.7px 60.5px,#faf8fb 60.5px 61.9px,#f6f4f9 61.9px 62.8px,#f9eced 62.8px 64.2px,#fbf6f9 64.2px 65.1px,#faf4f6 65.1px 66.4px,#f3f1f8 66.4px 67.8px,#e8e7f4 67.8px 68.8px,#faf1f3 68.8px 69.6px,#fbf8fa 69.6px 70.3px,#faf4f6 70.3px 71px,#fbf7f9 71px 72.6px,#fbf6f8 72.6px 73.5px,#f5f3f9 73.5px 74.2px,#f8e4e4 74.2px 75.3px,#f7dcdb 75.3px 76.5px,#fbf8fa 76.5px 78px,#faf3f4 78px 78.8px,#fbf6f8 78.8px 79.4px,#f9edee 79.4px 80.9px,#f8e6e7 80.9px 81.9px,#faeff0 81.9px 83.4px,#f3f1f8 83.4px 83.9px)"></div><div style="left:566.4px;top:477.2px;width:13.8px;height:33.3px;background:linear-gradient(#f9e9e9 0px 1.5px,#f8e6e7 1.5px 2.1px,#f9e7e8 2.1px 2.9px,#f6f4f9 2.9px 4.4px,#fbf5f7 4.4px 5.2px,#f9eaeb 5.2px 6.6px,#f7dbdb 6.6px 8px,#faf0f1 8px 8.8px,#faf7fb 8.8px 10px,#f9e9ea 10px 11.1px,#fbf4f6 11.1px 12.7px,#faf3f5 12.7px 13.9px,#fbf6f9 13.9px 15.2px,#f8e5e6 15.2px 16.7px,#f9e9e9 16.7px 18.2px,#faeff1 18.2px 19.6px,#f6f4f9 19.6px 20.8px,#f7f4f9 20.8px 22.4px,#fbf8fb 22.4px 23.9px,#fbf5f7 23.9px 25px,#f3f1f8 25px 26.3px,#f9e7e8 26.3px 27.9px,#f9e7e7 27.9px 28.6px,#fbf5f8 28.6px 29.6px,#faeff0 29.6px 30.5px,#faf3f5 30.5px 31.2px,#f9edee 31.2px 32.3px,#f9ebeb 32.3px 33.1px,#faeeef 33.1px 33.3px)"></div><div style="left:566.4px;top:514.7px;width:13.8px;height:27.4px;background:linear-gradient(#faeff0 0px 1.3px,#f8f6fa 1.3px 2.3px,#f7f5f9 2.3px 3.3px,#faeff0 3.3px 4.3px,#f9ebec 4.3px 5.3px,#f9eaeb 5.3px 6.2px,#f1eff7 6.2px 7.6px,#f8e5e6 7.6px 9px,#f6f4f9 9px 9.6px,#faf7fb 9.6px 10.7px,#f9edee 10.7px 11.8px,#f8e6e7 11.8px 12.9px,#f9f7fa 12.9px 14.4px,#fbf7f9 14.4px 15.5px,#faf7fb 15.5px 16.6px,#faf3f5 16.6px 18.2px,#fbf4f6 18.2px 19.6px,#faf0f2 19.6px 20.6px,#f8f5fa 20.6px 21.2px,#f2f0f8 21.2px 22.3px,#faf2f4 22.3px 23.3px,#f8e3e3 23.3px 24.5px,#faf8fb 24.5px 25.5px,#f8e5e5 25.5px 26.4px,#faf2f4 26.4px 27.4px)"></div><div style="left:566.4px;top:546.4px;width:13.8px;height:38.1px;background:linear-gradient(#f9e8e9 0px 1.6px,#faf2f4 1.6px 2.4px,#f6d5d3 2.4px 3.6px,#fbf6f8 3.6px 4.9px,#f2f0f8 4.9px 6.3px,#faf3f5 6.3px 7.4px,#faeeef 7.4px 9.7px,#f9eced 9.7px 10.9px,#f8e3e3 10.9px 11.6px,#f9eaeb 11.6px 13px,#faf3f5 13px 14.5px,#faeff0 14.5px 16.1px,#faf8fb 16.1px 17.4px,#fbf8fb 17.4px 18.5px,#fbf5f7 18.5px 20.1px,#f7dede 20.1px 21.4px,#fbf8fb 21.4px 22.5px,#f9eced 22.5px 24.1px,#f9e8e9 24.1px 25.4px,#f9e9ea 25.4px 26.1px,#f6f4f9 26.1px 27.2px,#faeff0 27.2px 28.8px,#f9eced 28.8px 29.8px,#faf7fb 29.8px 30.8px,#edecf6 30.8px 31.5px,#f1eff7 31.5px 32.6px,#fbf6f8 32.6px 33.4px,#f8f5fa 33.4px 34.3px,#fbf8fb 34.3px 35px,#faf2f4 35px 36.1px,#f8e6e6 36.1px 37px,#fbf5f8 37px 38px,#faf8fb 38px 38.1px)"></div><div style="left:581.8px;top:96.2px;width:10.2px;height:168.3px;background:linear-gradient(#ffffff 0px 7.5px,#a8a8d8 7.5px 8.4px,#ffffff 8.4px 34.6px,#a8a8d8 34.6px 35.4px,#ffffff 35.4px 36.8px,#e0b8b0 36.8px 37.9px,#ffffff 37.9px 43.4px,#e0b8b0 43.4px 44.2px,#ffffff 44.2px 49.7px,#e0b8b0 49.7px 50.5px,#ffffff 50.5px 59px,#d8a090 59px 60.2px,#ffffff 60.2px 67.6px,#d8a090 67.6px 68.4px,#ffffff 68.4px 75px,#d8a090 75px 76px,#ffffff 76px 96.7px,#c8c8e8 96.7px 97.8px,#ffffff 97.8px 98.9px,#d8a090 98.9px 99.6px,#ffffff 99.6px 118.6px,#d8a090 118.6px 119.4px,#c8c8e8 119.4px 120.6px,#ffffff 120.6px 126px,#a8a8d8 126px 127.1px,#e0b8b0 127.1px 128px,#ffffff 128px 131.4px,#e0b8b0 131.4px 132.3px,#ffffff 132.3px 133.7px,#e0b8b0 133.7px 134.8px,#c8c8e8 134.8px 135.9px,#ffffff 135.9px 139px,#a8a8d8 139px 140px,#ffffff 140px 143px,#e0b8b0 143px 144px,#ffffff 144px 157.3px,#a8a8d8 157.3px 158.1px,#ffffff 158.1px 168.3px)"></div><div style="left:581.8px;top:268.1px;width:10.2px;height:32.8px;background:linear-gradient(#ffffff 0px 2px,#e0b8b0 2px 2.7px,#ffffff 2.7px 13.3px,#d8a090 13.3px 14px,#ffffff 14px 24.7px,#d8a090 24.7px 25.8px,#ffffff 25.8px 31.5px,#c8c8e8 31.5px 32.1px,#ffffff 32.1px 32.8px)"></div><div style="left:581.8px;top:305.2px;width:10.2px;height:23.4px;background:linear-gradient(#b8b8e4 0px 1.2px,#a0a0d8 1.2px 4.5px,#ffffff 4.5px 6.5px,#a0a0d8 6.5px 7.4px,#ffffff 7.4px 8.8px,#8080c8 8.8px 9.8px,#ffffff 9.8px 13.2px,#b8b8e4 13.2px 14.9px,#ffffff 14.9px 16.9px,#a0a0d8 16.9px 19.3px,#b8b8e4 19.3px 20.1px,#ffffff 20.1px 21.3px,#a0a0d8 21.3px 22.3px,#8080c8 22.3px 23.4px)"></div><div style="left:581.8px;top:332.3px;width:10.2px;height:29.5px;background:linear-gradient(#ffffff 0px 1.5px,#d8a090 1.5px 2.2px,#ffffff 2.2px 10.7px,#d8a090 10.7px 11.8px,#ffffff 11.8px 14.6px,#a8a8d8 14.6px 15.5px,#ffffff 15.5px 16.6px,#c8c8e8 16.6px 17.9px,#ffffff 17.9px 29.5px)"></div><div style="left:581.8px;top:366.1px;width:10.2px;height:19.4px;background:linear-gradient(#e0b8b0 0px 1.2px,#ffffff 1.2px 5.9px,#c8c8e8 5.9px 7.3px,#ffffff 7.3px 8.5px,#d08070 8.5px 9.6px,#ffffff 9.6px 10.4px,#d8a090 10.4px 11.2px,#c8c8e8 11.2px 12.2px,#ffffff 12.2px 13.1px,#c8c8e8 13.1px 15.2px,#d8a090 15.2px 16.3px,#ffffff 16.3px 17.6px,#c8c8e8 17.6px 18.8px,#d08070 18.8px 19.4px)"></div><div style="left:581.8px;top:389.4px;width:10.2px;height:83.9px;background:linear-gradient(#d8a090 0px 1.2px,#ffffff 1.2px 6.8px,#d8a090 6.8px 8.1px,#ffffff 8.1px 10.6px,#d8a090 10.6px 11.9px,#c8c8e8 11.9px 12.5px,#ffffff 12.5px 17.8px,#c8c8e8 17.8px 18.9px,#ffffff 18.9px 28.7px,#a8a8d8 28.7px 29.6px,#ffffff 29.6px 53.3px,#c8c8e8 53.3px 54.2px,#ffffff 54.2px 79.3px,#e0b8b0 79.3px 80.1px,#ffffff 80.1px 83.9px)"></div><div style="left:581.8px;top:477.2px;width:10.2px;height:33.3px;background:linear-gradient(#ffffff 0px 1.2px,#c8c8e8 1.2px 2px,#e0b8b0 2px 3.6px,#c8c8e8 3.6px 5px,#ffffff 5px 5.7px,#d08070 5.7px 6.5px,#ffffff 6.5px 11.4px,#d08070 11.4px 12.4px,#c8c8e8 12.4px 13.2px,#ffffff 13.2px 15.4px,#d8a090 15.4px 16.8px,#ffffff 16.8px 18.2px,#c8c8e8 18.2px 19px,#ffffff 19px 21.5px,#d08070 21.5px 22.4px,#d8a090 22.4px 23.7px,#c8c8e8 23.7px 24.5px,#d8a090 24.5px 25.2px,#ffffff 25.2px 30.4px,#d08070 30.4px 31.3px,#ffffff 31.3px 33.3px)"></div><div style="left:581.8px;top:514.7px;width:10.2px;height:27.4px;background:linear-gradient(#ffffff 0px 0.8px,#c8c8e8 0.8px 1.8px,#e0b8b0 1.8px 3.1px,#ffffff 3.1px 4.5px,#e0b8b0 4.5px 5.3px,#ffffff 5.3px 6.2px,#c8c8e8 6.2px 7.1px,#ffffff 7.1px 9.9px,#e0b8b0 9.9px 11.1px,#ffffff 11.1px 27.4px)"></div><div style="left:581.8px;top:546.4px;width:10.2px;height:38.1px;background:linear-gradient(#ffffff 0px 3.1px,#e0b8b0 3.1px 4.2px,#ffffff 4.2px 12.3px,#e0b8b0 12.3px 13.2px,#ffffff 13.2px 25.7px,#d8a090 25.7px 26.3px,#c8c8e8 26.3px 27.1px,#ffffff 27.1px 30.2px,#c8c8e8 30.2px 31.2px,#ffffff 31.2px 32.6px,#a8a8d8 32.6px 33.9px,#ffffff 33.9px 38.1px)"></div><div style="left:596.1px;top:96.2px;width:26.6px;height:168.3px;background:linear-gradient(#cdcdcd 0px 1px,#c3c3c3 1px 2.4px,#e2e2e2 2.4px 3px,#d4d4d4 3px 4.3px,#d0d0d0 4.3px 5.5px,#c2c2c2 5.5px 6.6px,#c3c3c3 6.6px 7.4px,#cecece 7.4px 8.6px,#dcdcdc 8.6px 9.2px,#d2d2d2 9.2px 9.8px,#cbcbcb 9.8px 10.8px,#d9d9d9 10.8px 11.5px,#cecece 11.5px 12.2px,#d9d9d9 12.2px 13px,#cdcdcd 13px 13.8px,#bfbfbf 13.8px 14.8px,#dedede 14.8px 16.1px,#cacaca 16.1px 17.4px,#c7c7c7 17.4px 18.4px,#cbcbcb 18.4px 19px,#cdcdcd 19px 19.8px,#c9c9c9 19.8px 21.2px,#c5c5c5 21.2px 21.8px,#cacaca 21.8px 23px,#c7c7c7 23px 24px,#bebebe 24px 25.2px,#c7c7c7 25.2px 26.5px,#c0c0c0 26.5px 27.5px,#d1d1d1 27.5px 28.7px,#d6d6d6 28.7px 29.9px,#bcbcbc 29.9px 31.2px,#d0d0d0 31.2px 32.5px,#bcbcbc 32.5px 33.1px,#d7d7d7 33.1px 34px,#afafaf 34px 35.4px,#bbbbbb 35.4px 36.2px,#c8c8c8 36.2px 37px,#cfcfcf 37px 38.2px,#dbdbdb 38.2px 39.4px,#c2c2c2 39.4px 40.7px,#bdbdbd 40.7px 41.9px,#c2c2c2 41.9px 44px,#afafaf 44px 44.9px,#c1c1c1 44.9px 45.8px,#b9b9b9 45.8px 46.7px,#d0d0d0 46.7px 47.9px,#c1c1c1 47.9px 49.3px,#b2b2b2 49.3px 50.5px,#bababa 50.5px 51px,#cccccc 51px 51.9px,#c6c6c6 51.9px 53.2px,#b4b4b4 53.2px 54.2px,#b6b6b6 54.2px 54.9px,#c6c6c6 54.9px 55.5px,#c0c0c0 55.5px 56.2px,#cccccc 56.2px 56.7px,#b5b5b5 56.7px 58px,#cbcbcb 58px 59.1px,#cecece 59.1px 60.2px,#c9c9c9 60.2px 62.3px,#b6b6b6 62.3px 63.5px,#b2b2b2 63.5px 64.7px,#c1c1c1 64.7px 65.8px,#bdbdbd 65.8px 66.5px,#b1b1b1 66.5px 67.8px,#c3c3c3 67.8px 68.8px,#cacaca 68.8px 70.7px,#b8b8b8 70.7px 71.3px,#bebebe 71.3px 71.8px,#c1c1c1 71.8px 72.4px,#c4c4c4 72.4px 73.8px,#c6c6c6 73.8px 74.3px,#b9b9b9 74.3px 75px,#c1c1c1 75px 76.3px,#bfbfbf 76.3px 76.8px,#d3d3d3 76.8px 78px,#c2c2c2 78px 79.2px,#c5c5c5 79.2px 80.6px,#c6c6c6 80.6px 81.6px,#cdcdcd 81.6px 82.4px,#cacaca 82.4px 83.8px,#bdbdbd 83.8px 85px,#dcdcdc 85px 85.7px,#b5b5b5 85.7px 86.4px,#bcbcbc 86.4px 87.6px,#cbcbcb 87.6px 88.6px,#bdbdbd 88.6px 89.9px,#b7b7b7 89.9px 90.8px,#bcbcbc 90.8px 91.4px,#b6b6b6 91.4px 92.6px,#c2c2c2 92.6px 93.2px,#b8b8b8 93.2px 93.9px,#c6c6c6 93.9px 94.8px,#bababa 94.8px 95.8px,#bbbbbb 95.8px 96.8px,#bcbcbc 96.8px 98.1px,#c6c6c6 98.1px 99.3px,#c3c3c3 99.3px 100px,#b8c8b0 100px 100.6px,#bababa 100.6px 101.7px,#bdbdbd 101.7px 102.5px,#cbcbcb 102.5px 103.9px,#cecece 103.9px 104.7px,#b8c8af 104.7px 105.4px,#a3a3a3 105.4px 106.2px,#b3b3b3 106.2px 107.3px,#b0b0b0 107.3px 108.3px,#c1c1c1 108.3px 109px,#a8a8a8 109px 110.4px,#bebebe 110.4px 111.7px,#bcbcbc 111.7px 112.9px,#afc0a5 112.9px 113.7px,#bbbbbb 113.7px 114.3px,#d1d1d1 114.3px 115.3px,#bababa 115.3px 116.4px,#ababab 116.4px 117.7px,#a8a8a8 117.7px 118.3px,#b9b9b9 118.3px 119px,#b4c5aa 119px 120.3px,#aec4a1 120.3px 121.7px,#adadad 121.7px 122.5px,#b3b3b3 122.5px 123.8px,#a1a1a1 123.8px 125px,#bababa 125px 125.6px,#a5a5a5 125.6px 126.8px,#b9b9b9 126.8px 127.7px,#bbbbbb 127.7px 128.5px,#aeb9a8 128.5px 129.6px,#b9b9b9 129.6px 130.5px,#bdbdbd 130.5px 131.8px,#bbbbbb 131.8px 132.6px,#ababab 132.6px 133.3px,#acacac 133.3px 133.9px,#a8a8a8 133.9px 135.1px,#b2b2b2 135.1px 136px,#a5a5a5 136px 136.5px,#bbbbbb 136.5px 137.9px,#b1b1b1 137.9px 138.5px,#b3b3b3 138.5px 139.2px,#abb6a6 139.2px 140.3px,#aaaaaa 140.3px 141.7px,#a1a1a1 141.7px 143.1px,#a9b7a0 143.1px 144.5px,#afc1a5 144.5px 145.3px,#9eb192 145.3px 146.1px,#acbda3 146.1px 146.7px,#afafaf 146.7px 147.9px,#a5a5a5 147.9px 149.1px,#a6bc99 149.1px 149.6px,#acc0a0 149.6px 150.4px,#a4a4a4 150.4px 151.7px,#b0b0b0 151.7px 152.6px,#adadad 152.6px 153.8px,#9d9d9d 153.8px 154.7px,#a0b594 154.7px 156.1px,#a3a3a3 156.1px 156.7px,#a5b39c 156.7px 157.8px,#979797 157.8px 159.2px,#abbda0 159.2px 160.4px,#ababab 160.4px 161.6px,#b8b8b8 161.6px 162.4px,#aec3a3 162.4px 163.4px,#bbc5b5 163.4px 164.4px,#a6d38c 164.4px 168.3px)"></div><div style="left:626.1px;top:96.2px;width:26.6px;height:168.3px;background:linear-gradient(#c6c6c6 0px 1px,#d0d0d0 1px 2.4px,#d9d9d9 2.4px 3px,#cbcbcb 3px 4.3px,#d0d0d0 4.3px 5.5px,#bfbfbf 5.5px 6.6px,#c9c9c9 6.6px 7.4px,#dedede 7.4px 8.6px,#d5d5d5 8.6px 9.2px,#cccccc 9.2px 9.8px,#c4c4c4 9.8px 10.8px,#d2d2d2 10.8px 11.5px,#bebebe 11.5px 12.2px,#dadada 12.2px 13px,#c8c8c8 13px 13.8px,#c3c3c3 13.8px 14.8px,#e4e4e4 14.8px 16.1px,#cccccc 16.1px 18.4px,#c9c9c9 18.4px 19px,#c8c8c8 19px 19.8px,#cacaca 19.8px 21.2px,#cdcdcd 21.2px 21.8px,#c7c7c7 21.8px 23px,#cdcdcd 23px 24px,#bababa 24px 25.2px,#c0c0c0 25.2px 26.5px,#cbcbcb 26.5px 27.5px,#d4d4d4 27.5px 28.7px,#c9c9c9 28.7px 29.9px,#c3c3c3 29.9px 31.2px,#d5d5d5 31.2px 32.5px,#c2c2c2 32.5px 33.1px,#d3d3d3 33.1px 34px,#b3b3b3 34px 35.4px,#bfbfbf 35.4px 36.2px,#c4c4c4 36.2px 37px,#cecece 37px 38.2px,#dbdbdb 38.2px 39.4px,#c9c9c9 39.4px 40.7px,#bcbcbc 40.7px 41.9px,#bababa 41.9px 43.3px,#bdbdbd 43.3px 44px,#b6b6b6 44px 44.9px,#c2c2c2 44.9px 45.8px,#bfbfbf 45.8px 46.7px,#c9c9c9 46.7px 47.9px,#bcbcbc 47.9px 49.3px,#b4b4b4 49.3px 50.5px,#bdbdbd 50.5px 51px,#dedede 51px 51.9px,#c0c0c0 51.9px 53.2px,#b1b1b1 53.2px 54.2px,#aeaeae 54.2px 54.9px,#cdcdcd 54.9px 55.5px,#bebebe 55.5px 56.2px,#cecece 56.2px 56.7px,#c3c3c3 56.7px 58px,#cacaca 58px 59.1px,#cccccc 59.1px 60.2px,#cecece 60.2px 61.4px,#d0d0d0 61.4px 62.3px,#b5b5b5 62.3px 63.5px,#bbbbbb 63.5px 64.7px,#cfcfcf 64.7px 65.8px,#c0c0c0 65.8px 66.5px,#bbbbbb 66.5px 67.8px,#c0c0c0 67.8px 68.8px,#c4c4c4 68.8px 69.9px,#cccccc 69.9px 70.7px,#bbbbbb 70.7px 71.3px,#c4c4c4 71.3px 71.8px,#c7c7c7 71.8px 72.4px,#c6c6c6 72.4px 73.8px,#cacaca 73.8px 74.3px,#acacac 74.3px 75px,#d1d1d1 75px 76.3px,#c7c7c7 76.3px 76.8px,#cbcbcb 76.8px 78px,#c3c3c3 78px 79.2px,#bdbdbd 79.2px 80.6px,#c7c7c7 80.6px 82.4px,#d1d1d1 82.4px 83.8px,#c0c0c0 83.8px 85px,#d0d0d0 85px 85.7px,#bcbcbc 85.7px 86.4px,#c3c3c3 86.4px 87.6px,#c7c7c7 87.6px 88.6px,#bcbcbc 88.6px 89.9px,#bababa 89.9px 90.8px,#b6b6b6 90.8px 91.4px,#b4b4b4 91.4px 92.6px,#b5b5b5 92.6px 93.2px,#bebebe 93.2px 93.9px,#d3d3d3 93.9px 94.8px,#c3c3c3 94.8px 95.8px,#b7b7b7 95.8px 96.8px,#b2bdab 96.8px 98.1px,#c2c2c2 98.1px 99.3px,#bfbfbf 99.3px 100px,#b4c4ab 100px 100.6px,#b0c6a4 100.6px 101.7px,#b7b7b7 101.7px 102.5px,#c6c6c6 102.5px 103.9px,#c1c1c1 103.9px 104.7px,#b7c3b0 104.7px 105.4px,#969696 105.4px 106.2px,#b3b3b3 106.2px 108.3px,#bebebe 108.3px 109px,#a7a7a7 109px 110.4px,#bbbbbb 110.4px 111.7px,#b4b4b4 111.7px 112.9px,#aaaaaa 112.9px 113.7px,#bababa 113.7px 114.3px,#c1c1c1 114.3px 115.3px,#bdbdbd 115.3px 116.4px,#a9a9a9 116.4px 117.7px,#b4b4b4 117.7px 118.3px,#acacac 118.3px 119px,#b9b9b9 119px 120.3px,#b3bcad 120.3px 121.7px,#b7b7b7 121.7px 122.5px,#b1b1b1 122.5px 123.8px,#aeaeae 123.8px 125px,#b9b9b9 125px 125.6px,#a9a9a9 125.6px 126.8px,#b6b6b6 126.8px 128.5px,#acb7a6 128.5px 129.6px,#b8c3b1 129.6px 130.5px,#a9b8a0 130.5px 131.8px,#b7c4af 131.8px 132.6px,#b0b0b0 132.6px 133.3px,#adadad 133.3px 133.9px,#aaaaaa 133.9px 135.1px,#b6b6b6 135.1px 136px,#a7a7a7 136px 136.5px,#b6b6b6 136.5px 137.9px,#afafaf 137.9px 138.5px,#a9ba9f 138.5px 139.2px,#ababab 139.2px 140.3px,#adb7a7 140.3px 141.7px,#a9a9a9 141.7px 143.1px,#a8be9b 143.1px 144.5px,#b7c1b2 144.5px 145.3px,#a0a0a0 145.3px 146.1px,#aec4a1 146.1px 146.7px,#ababab 146.7px 147.9px,#9e9e9e 147.9px 149.1px,#abb9a3 149.1px 149.6px,#acbaa4 149.6px 150.4px,#a0af97 150.4px 151.7px,#b5c3ad 151.7px 152.6px,#b0b0b0 152.6px 153.8px,#9d9d9d 153.8px 154.7px,#96a38e 154.7px 156.1px,#a9a9a9 156.1px 156.7px,#a8b1a2 156.7px 157.8px,#999999 157.8px 159.2px,#aec4a1 159.2px 160.4px,#a8b2a3 160.4px 161.6px,#adadad 161.6px 162.4px,#b1bfa8 162.4px 163.4px,#aec2a2 163.4px 164.4px,#a6d38c 164.4px 168.3px)"></div><div style="left:596.1px;top:268.1px;width:26.6px;height:32.8px;background:linear-gradient(#d2d2d2 0px 0.7px,#c8c8c8 0.7px 1.6px,#e3e3e3 1.6px 2.7px,#d4d4d4 2.7px 3.3px,#bebebe 3.3px 3.9px,#d4d4d4 3.9px 4.8px,#e9e9e9 4.8px 5.6px,#c4c4c4 5.6px 6.2px,#c7c7c7 6.2px 7.6px,#cdcdcd 7.6px 8.1px,#bdbdbd 8.1px 8.9px,#c2c2c2 8.9px 9.5px,#b5b5b5 9.5px 10.2px,#bfbfbf 10.2px 11.6px,#c9c9c9 11.6px 12.4px,#c4c4c4 12.4px 13.4px,#c2c2c2 13.4px 14.5px,#bebebe 14.5px 15.8px,#a3a3a3 15.8px 17.1px,#b2b2b2 17.1px 17.9px,#a7a7a7 17.9px 19px,#bababa 19px 19.6px,#a3ba95 19.6px 20.7px,#c3c3c3 20.7px 21.4px,#ababab 21.4px 22px,#b2caa5 22px 23.1px,#949494 23.1px 24.5px,#9cb78d 24.5px 25.7px,#a8ba9e 25.7px 26.9px,#9fae97 26.9px 28.2px,#9bae8f 28.2px 29px,#a6d38c 29px 30.3px,#9ab08e 30.3px 31.3px,#9db092 31.3px 32.2px,#a6d38c 32.2px 32.8px)"></div><div style="left:626.1px;top:268.1px;width:26.6px;height:32.8px;background:linear-gradient(#cfcfcf 0px 0.7px,#bababa 0.7px 1.6px,#e2e2e2 1.6px 2.7px,#dedede 2.7px 3.3px,#b4b4b4 3.3px 3.9px,#c8c8c8 3.9px 4.8px,#e3e3e3 4.8px 5.6px,#bbbbbb 5.6px 6.2px,#e5e5e5 6.2px 7.6px,#c2c2c2 7.6px 8.1px,#c3c3c3 8.1px 8.9px,#bcbcbc 8.9px 9.5px,#a3a3a3 9.5px 10.2px,#b6b6b6 10.2px 11.6px,#bebebe 11.6px 12.4px,#b6b6b6 12.4px 13.4px,#a9a9a9 13.4px 14.5px,#b7b7b7 14.5px 15.8px,#9c9c9c 15.8px 17.1px,#b9b9b9 17.1px 17.9px,#9a9a9a 17.9px 19px,#aeaeae 19px 19.6px,#9cb78c 19.6px 20.7px,#d3d3d3 20.7px 21.4px,#a6a6a6 21.4px 22px,#a3b39a 22px 23.1px,#8a8a8a 23.1px 24.5px,#899a7f 24.5px 25.7px,#929292 25.7px 26.9px,#87947f 26.9px 28.2px,#727272 28.2px 29px,#a6d38c 29px 30.3px,#8ea283 30.3px 31.3px,#829379 31.3px 32.2px,#a6d38c 32.2px 32.8px)"></div><div style="left:596.1px;top:305.2px;width:26.6px;height:23.4px;background:linear-gradient(#c9c9c9 0px 0.6px,#d3d3d3 0.6px 1.3px,#d4d4d4 1.3px 1.8px,#b4b4b4 1.8px 3px,#c0c0c0 3px 3.8px,#d3d3d3 3.8px 5.1px,#cfcfcf 5.1px 6.1px,#cdcdcd 6.1px 7.2px,#bebebe 7.2px 8.2px,#c1c1c1 8.2px 9.5px,#a0a0a0 9.5px 10.7px,#b3b3b3 10.7px 11.3px,#a1a1a1 11.3px 13.6px,#848484 13.6px 14.8px,#8d9986 14.8px 16px,#84927c 16px 17.1px,#8b8b8b 17.1px 18px,#555555 18px 18.6px,#889b7d 18.6px 19.3px,#646464 19.3px 20.5px,#a6d38c 20.5px 23.4px)"></div><div style="left:626.1px;top:305.2px;width:26.6px;height:23.4px;background:linear-gradient(#bcbcbc 0px 0.6px,#c9c9c9 0.6px 1.3px,#cdcdcd 1.3px 1.8px,#afafaf 1.8px 3px,#cccccc 3px 3.8px,#cacaca 3.8px 5.1px,#dcdcdc 5.1px 6.1px,#c7c7c7 6.1px 7.2px,#b5b5b5 7.2px 8.2px,#c6c6c6 8.2px 9.5px,#a2a2a2 9.5px 10.7px,#a4a4a4 10.7px 11.3px,#898989 11.3px 12.4px,#9aad8f 12.4px 13.6px,#7b7b7b 13.6px 14.8px,#869a7a 14.8px 16px,#839b76 16px 17.1px,#7b7b7b 17.1px 18px,#748b66 18px 18.6px,#839976 18.6px 19.3px,#454545 19.3px 20.5px,#a6d38c 20.5px 23.4px)"></div><div style="left:596.1px;top:332.3px;width:26.6px;height:29.5px;background:linear-gradient(#bababa 0px 1.4px,#e2e2e2 1.4px 2.7px,#c9c9c9 2.7px 3.6px,#b9b9b9 3.6px 4.4px,#cecece 4.4px 5.5px,#cdcdcd 5.5px 6.9px,#cccccc 6.9px 8.2px,#cbcbcb 8.2px 9.2px,#a5a5a5 9.2px 10.4px,#b1b1b1 10.4px 11.8px,#bcbcbc 11.8px 12.6px,#d3d3d3 12.6px 13.1px,#a3a3a3 13.1px 14.3px,#b2b2b2 14.3px 15.7px,#a8a8a8 15.7px 16.7px,#9a9a9a 16.7px 18.3px,#939393 18.3px 18.8px,#9f9f9f 18.8px 20px,#a2a2a2 20px 22px,#979797 22px 23px,#8e8e8e 23px 23.9px,#98af8b 23.9px 25px,#929292 25px 26.3px,#a6d38c 26.3px 29.5px)"></div><div style="left:626.1px;top:332.3px;width:26.6px;height:29.5px;background:linear-gradient(#a5a5a5 0px 1.4px,#cfcfcf 1.4px 2.7px,#d0d0d0 2.7px 3.6px,#bbbbbb 3.6px 4.4px,#d6d6d6 4.4px 5.5px,#c5c5c5 5.5px 6.9px,#d3d3d3 6.9px 8.2px,#b8b8b8 8.2px 9.2px,#bababa 9.2px 10.4px,#b8b8b8 10.4px 11.8px,#c0c0c0 11.8px 12.6px,#d1d1d1 12.6px 13.1px,#949494 13.1px 14.3px,#979797 14.3px 15.7px,#989898 15.7px 16.7px,#8c8c8c 16.7px 17.4px,#8b8b8b 17.4px 18.3px,#808080 18.3px 18.8px,#989898 18.8px 20px,#95ab88 20px 21.4px,#7f7f7f 21.4px 22px,#8a9b80 22px 23px,#797979 23px 23.9px,#86987b 23.9px 25px,#6e6e6e 25px 26.3px,#a6d38c 26.3px 29.5px)"></div><div style="left:596.1px;top:366.1px;width:26.6px;height:19.4px;background:linear-gradient(#b4b4b4 0px 1.2px,#8b8b8b 1.2px 2px,#a5a5a5 2px 2.9px,#b5b5b5 2.9px 4.1px,#979797 4.1px 4.9px,#adadad 4.9px 5.9px,#878787 5.9px 6.8px,#868686 6.8px 8px,#bbbbbb 8px 8.8px,#858585 8.8px 9.4px,#828282 9.4px 10.3px,#8a9f7e 10.3px 11.2px,#7e7e7e 11.2px 12.2px,#98b18a 12.2px 13px,#929292 13px 13.8px,#8d9986 13.8px 15px,#8c9d82 15px 16.2px,#a6d38c 16.2px 19.4px)"></div><div style="left:626.1px;top:366.1px;width:26.6px;height:19.4px;background:linear-gradient(#717171 0px 1.2px,#818181 1.2px 2px,#7c7c7c 2px 2.9px,#7a7a7a 2.9px 4.1px,#5f5f5f 4.1px 4.9px,#909090 4.9px 5.9px,#959595 5.9px 6.8px,#494949 6.8px 8px,#747474 8px 8.8px,#666666 8.8px 9.4px,#434343 9.4px 10.3px,#768e69 10.3px 11.2px,#66775c 11.2px 12.2px,#6c7a64 12.2px 13px,#585858 13px 13.8px,#787878 13.8px 15px,#707070 15px 16.2px,#a6d38c 16.2px 19.4px)"></div><div style="left:596.1px;top:389.4px;width:26.6px;height:83.9px;background:linear-gradient(#728c66 0px 1.4px,#6b8361 1.4px 2.7px,#70756d 2.7px 3.7px,#a6d38c 3.7px 4.3px,#718c66 4.3px 5px,#666c62 5px 5.6px,#7e857b 5.6px 6.3px,#a6d38c 6.3px 7.1px,#676d63 7.1px 7.8px,#a6d38c 7.8px 11.4px,#5f675a 11.4px 12.7px,#a6d38c 12.7px 13.6px,#353e30 13.6px 14.9px,#798076 14.9px 16px,#a6d38c 16px 18.4px,#7e857a 18.4px 18.9px,#a6d38c 18.9px 26.5px,#4c4f4a 26.5px 27.8px,#a6d38c 27.8px 30.8px,#60695b 30.8px 31.8px,#a6d38c 31.8px 83.9px)"></div><div style="left:626.1px;top:389.4px;width:26.6px;height:83.9px;background:linear-gradient(#6a8160 0px 1.4px,#8fb37b 1.4px 2.7px,#5b6257 2.7px 3.7px,#a6d38c 3.7px 4.3px,#6f8864 4.3px 5px,#696d66 5px 5.6px,#4d5548 5.6px 6.3px,#a6d38c 6.3px 7.1px,#4e5849 7.1px 7.8px,#a6d38c 7.8px 11.4px,#525a4d 11.4px 12.7px,#a6d38c 12.7px 13.6px,#71766e 13.6px 14.9px,#5f635c 14.9px 16px,#a6d38c 16px 18.4px,#454b41 18.4px 18.9px,#a6d38c 18.9px 26.5px,#5b6456 26.5px 27.8px,#a6d38c 27.8px 30.8px,#565d51 30.8px 31.8px,#a6d38c 31.8px 83.9px)"></div><div style="left:596.1px;top:477.2px;width:26.6px;height:33.3px;background:linear-gradient(#131313 0px 1.3px,#292929 1.3px 2.4px,#4b4f48 2.4px 3.3px,#4f5a49 3.3px 4px,#42493e 4px 4.6px,#444c40 4.6px 5.6px,#5a6454 5.6px 6.8px,#a6d38c 6.8px 8px,#424b3d 8px 9.3px,#5e655a 9.3px 10.3px,#8db17a 10.3px 11.7px,#89ab77 11.7px 12.7px,#a6d38c 12.7px 33.3px)"></div><div style="left:626.1px;top:477.2px;width:26.6px;height:33.3px;background:linear-gradient(#0f0f0f 0px 1.3px,#131313 1.3px 2.4px,#4b5446 2.4px 3.3px,#3b4436 3.3px 4px,#5d615b 4px 4.6px,#323d2c 4.6px 5.6px,#585d55 5.6px 6.8px,#a6d38c 6.8px 8px,#576051 8px 9.3px,#474e44 9.3px 10.3px,#8eb37b 10.3px 11.7px,#718b65 11.7px 12.7px,#a6d38c 12.7px 33.3px)"></div><div style="left:596.1px;top:514.7px;width:26.6px;height:27.4px;background:linear-gradient(#040404 0px 1.3px,#7c8577 1.3px 2.3px,#a6d38c 2.3px 6.7px,#666f62 6.7px 7.3px,#82a271 7.3px 8.2px,#a6d38c 8.2px 8.8px,#759169 8.8px 9.7px,#5f665b 9.7px 10.7px,#a6d38c 10.7px 27.4px)"></div><div style="left:626.1px;top:514.7px;width:26.6px;height:27.4px;background:linear-gradient(#1c1c1c 0px 1.3px,#4d514a 1.3px 2.3px,#a6d38c 2.3px 6.7px,#4d534a 6.7px 7.3px,#8eb37b 7.3px 8.2px,#a6d38c 8.2px 8.8px,#728c66 8.8px 9.7px,#6a7564 9.7px 10.7px,#a6d38c 10.7px 27.4px)"></div><div style="left:596.1px;top:546.4px;width:26.6px;height:38.1px;background:linear-gradient(#a6d38c 0px 1.8px,#88ab77 1.8px 2.3px,#708a65 2.3px 2.8px,#a6d38c 2.8px 3.9px,#757972 3.9px 5.1px,#a6d38c 5.1px 5.9px,#5e5f5e 5.9px 7.2px,#8b8b8a 7.2px 7.9px,#a1a3a0 7.9px 8.9px,#a6d38c 8.9px 9.5px,#6a8160 9.5px 10.3px,#7d827a 10.3px 11.5px,#a6d38c 11.5px 17.1px,#717370 17.1px 18.4px,#a6d38c 18.4px 38.1px)"></div><div style="left:626.1px;top:546.4px;width:26.6px;height:38.1px;background:linear-gradient(#a6d38c 0px 1.8px,#8db17a 1.8px 2.3px,#6f8964 2.3px 2.8px,#a6d38c 2.8px 3.9px,#757973 3.9px 5.1px,#a6d38c 5.1px 5.9px,#909090 5.9px 7.2px,#676b64 7.2px 7.9px,#767a73 7.9px 8.9px,#a6d38c 8.9px 9.5px,#88aa76 9.5px 10.3px,#7e817d 10.3px 11.5px,#a6d38c 11.5px 17.1px,#727570 17.1px 18.4px,#a6d38c 18.4px 38.1px)"></div><div style="left:656.4px;top:96.2px;width:13.7px;height:168.3px;background:linear-gradient(#fffcfb 0px 9.9px,#fdf0ec 9.9px 10.6px,#fffcfb 10.6px 15.9px,#fbe8e4 15.9px 17.9px,#fffcfb 17.9px 29.8px,#fbe8e4 29.8px 30.9px,#fce4dc 30.9px 32.1px,#fffcfb 32.1px 44.2px,#fbe8e4 44.2px 44.9px,#fffcfb 44.9px 47.7px,#fce4dc 47.7px 49px,#fffcfb 49px 51.7px,#fce4dc 51.7px 52.8px,#fffcfb 52.8px 85px,#fbe4dc 85px 85.6px,#fffcfb 85.6px 106.2px,#fbe4dc 106.2px 107px,#fffcfb 107px 123.3px,#fbe4dc 123.3px 124.3px,#fffcfb 124.3px 126px,#e8f2e0 126px 126.7px,#fffcfb 126.7px 128px,#fbe4dc 128px 128.8px,#fffcfb 128.8px 134.4px,#d8ecc8 134.4px 135.2px,#fffcfb 135.2px 138.4px,#e8f2e0 138.4px 139.7px,#d8ecc8 139.7px 140.3px,#e8f2e0 140.3px 140.9px,#fffcfb 140.9px 144.7px,#d8ecc8 144.7px 145.9px,#fffcfb 145.9px 148px,#c8e0b8 148px 148.9px,#fffcfb 148.9px 150.3px,#c8e0b8 150.3px 151.6px,#e8f2e0 151.6px 153.2px,#fffcfb 153.2px 154.9px,#c8e0b8 154.9px 155.7px,#fffcfb 155.7px 157px,#e8f2e0 157px 158.2px,#fffcfb 158.2px 161.1px,#c8e0b8 161.1px 161.7px,#fffcfb 161.7px 163.7px,#a6d38c 163.7px 168.3px)"></div><div style="left:672px;top:96.2px;width:10.3px;height:168.3px;background:linear-gradient(#ffffff 0px 50.3px,#c87868 50.3px 51.4px,#ffffff 51.4px 89px,#c87868 89px 89.7px,#ffffff 89.7px 91.8px,#e8f2e0 91.8px 92.3px,#ffffff 92.3px 95.3px,#d8a090 95.3px 96.2px,#ffffff 96.2px 103.7px,#d8a090 103.7px 104.6px,#ffffff 104.6px 117.7px,#d8a090 117.7px 118.3px,#ffffff 118.3px 135.5px,#c8e0b8 135.5px 136.8px,#ffffff 136.8px 139.9px,#e0eed8 139.9px 141px,#c8e0b8 141px 142.3px,#ffffff 142.3px 143.1px,#e0eed8 143.1px 144.1px,#ffffff 144.1px 146.1px,#c8e0b8 146.1px 147.3px,#ffffff 147.3px 148.5px,#d8b0a0 148.5px 149.7px,#ffffff 149.7px 155.1px,#d8b0a0 155.1px 155.7px,#e0eed8 155.7px 156.4px,#ffffff 156.4px 158.9px,#e0eed8 158.9px 160.2px,#ffffff 160.2px 162.1px,#c8e0b8 162.1px 163.5px,#ffffff 163.5px 164.1px,#a6d38c 164.1px 168.3px)"></div><div style="left:656.4px;top:268.1px;width:13.7px;height:32.8px;background:linear-gradient(#fbe4dc 0px 0.5px,#fffaf8 0.5px 1.5px,#fbe4dc 1.5px 3.3px,#fffaf8 3.3px 8.3px,#fbe4dc 8.3px 9.3px,#fffaf8 9.3px 10px,#fbe4dc 10px 11.1px,#fffaf8 11.1px 12.2px,#fbe4dc 12.2px 13.6px,#f8e0d8 13.6px 14.6px,#ec9878 14.6px 15.2px,#f8e0d8 15.2px 16.2px,#fbe4dc 16.2px 18.5px,#ec9878 18.5px 19.3px,#f8e0d8 19.3px 20.3px,#fffaf8 20.3px 21.6px,#f4c8b8 21.6px 22.4px,#e8a890 22.4px 24.3px,#fffaf8 24.3px 25px,#e8a890 25px 25.7px,#ec9878 25.7px 26.4px,#e8a890 26.4px 27.2px,#dcc8a0 27.2px 28.4px,#fbe4dc 28.4px 29.1px,#a6d38c 29.1px 32.8px)"></div><div style="left:672px;top:268.1px;width:10.3px;height:32.8px;background:linear-gradient(#ffffff 0px 13.6px,#e8d8c8 13.6px 14.1px,#ffffff 14.1px 14.8px,#e8d8c8 14.8px 17.2px,#ffffff 17.2px 18.6px,#e8d8c8 18.6px 20.3px,#c8dcb0 20.3px 21.2px,#a07040 21.2px 22.3px,#ffffff 22.3px 24.3px,#e0eed8 24.3px 25.7px,#d8c0a8 25.7px 27px,#e0eed8 27px 27.6px,#e8d8c8 27.6px 28.2px,#a03828 28.2px 29.4px,#a6d38c 29.4px 29.9px,#c8e0b0 29.9px 31px,#a6d38c 31px 32.8px,#c8e0b0 32.8px 32.8px)"></div><div style="left:656.4px;top:305.2px;width:13.7px;height:23.4px;background:linear-gradient(#fffaf8 0px 9px,#e8a890 9px 10.1px,#ec9878 10.1px 10.6px,#fbe4dc 10.6px 11.4px,#f8e0d8 11.4px 13.1px,#f4c8b8 13.1px 13.8px,#e8a890 13.8px 16.2px,#fbe4dc 16.2px 17.2px,#e8a890 17.2px 18.5px,#fffaf8 18.5px 19.8px,#ec9878 19.8px 20.6px,#a6d38c 20.6px 23.4px)"></div><div style="left:672px;top:305.2px;width:10.3px;height:23.4px;background:linear-gradient(#d8b0a0 0px 0.8px,#ffffff 0.8px 11.6px,#a07040 11.6px 12.4px,#d0a090 12.4px 13.5px,#b86048 13.5px 14.3px,#a03828 14.3px 15.5px,#c8d8b0 15.5px 16.3px,#ffffff 16.3px 17.6px,#a03828 17.6px 18.6px,#b86048 18.6px 19.7px,#ffffff 19.7px 20.5px,#a6d38c 20.5px 22.4px,#c8e0b0 22.4px 23.3px,#a6d38c 23.3px 23.4px)"></div><div style="left:656.4px;top:332.3px;width:13.7px;height:29.5px;background:linear-gradient(#fffaf8 0px 4px,#fbe4dc 4px 5.1px,#fffaf8 5.1px 11.4px,#f4c8b8 11.4px 12.5px,#e8a890 12.5px 13.4px,#dcc8a0 13.4px 14.2px,#f4c8b8 14.2px 15px,#fbe4dc 15px 15.7px,#ec9878 15.7px 16.5px,#fbe4dc 16.5px 17.9px,#e8a890 17.9px 18.5px,#fbe4dc 18.5px 19.3px,#f8e0d8 19.3px 20.1px,#f4c8b8 20.1px 21.4px,#f8e0d8 21.4px 22.2px,#ec9878 22.2px 24px,#fffaf8 24px 24.9px,#ec9878 24.9px 26.2px,#a6d38c 26.2px 29.5px)"></div><div style="left:672px;top:332.3px;width:10.3px;height:29.5px;background:linear-gradient(#ffffff 0px 15.4px,#a07040 15.4px 17.3px,#d0a090 17.3px 18.4px,#ffffff 18.4px 19.2px,#c8d8b0 19.2px 21.6px,#ffffff 21.6px 22.5px,#d0a090 22.5px 23.1px,#b86048 23.1px 23.8px,#a07040 23.8px 24.6px,#ffffff 24.6px 26.4px,#a6d38c 26.4px 27.4px,#c8e0b0 27.4px 28.7px,#a6d38c 28.7px 29.5px)"></div><div style="left:656.4px;top:366.1px;width:13.7px;height:19.4px;background:linear-gradient(#f4c8b0 0px 1px,#e8c8a0 1px 2.2px,#eaa888 2.2px 2.9px,#e8c8a0 2.9px 3.5px,#f8dcd0 3.5px 4px,#eaa888 4px 5.7px,#e8c8a0 5.7px 8.3px,#f8dcd0 8.3px 9.4px,#f4c8b0 9.4px 10.8px,#eaa888 10.8px 11.6px,#e8c8a0 11.6px 12.9px,#f4c8b0 12.9px 15.7px,#a6d38c 15.7px 19.4px)"></div><div style="left:672px;top:366.1px;width:10.3px;height:19.4px;background:linear-gradient(#d8b0a0 0px 0.5px,#a08050 0.5px 1.6px,#d8b0a0 1.6px 2.4px,#a08050 2.4px 3.2px,#a82820 3.2px 4.3px,#b04030 4.3px 5.4px,#a08050 5.4px 7.5px,#b04030 7.5px 8.7px,#d8b0a0 8.7px 9.3px,#a08050 9.3px 9.9px,#b04030 9.9px 11.1px,#d8b0a0 11.1px 14.5px,#a82820 14.5px 15.1px,#a08050 15.1px 16px,#a6d38c 16px 19.4px)"></div><div style="left:656.4px;top:389.4px;width:13.7px;height:83.9px;background:linear-gradient(#e8c8a0 0px 1.3px,#e0a080 1.3px 1.9px,#fce8e0 1.9px 3px,#d8c090 3px 4.9px,#fce8e0 4.9px 7.1px,#e0a080 7.1px 8.3px,#d8c090 8.3px 10.1px,#f0c8b0 10.1px 10.7px,#fce8e0 10.7px 12.3px,#f0c8b0 12.3px 12.8px,#fce8e0 12.8px 14px,#f0c8b0 14px 15.4px,#d8c090 15.4px 16px,#fce8e0 16px 16.8px,#a6d38c 16.8px 19.2px,#d8c090 19.2px 20px,#a6d38c 20px 21.5px,#d8c090 21.5px 22.2px,#a6d38c 22.2px 29.3px,#e0b090 29.3px 30.2px,#a6d38c 30.2px 46.7px,#d8e8c8 46.7px 47.6px,#a6d38c 47.6px 56px,#d8e8c8 56px 57.2px,#a6d38c 57.2px 72.6px,#c8d8a8 72.6px 73.3px,#a6d38c 73.3px 83.9px)"></div><div style="left:672px;top:389.4px;width:10.3px;height:83.9px;background:linear-gradient(#e0c0b0 0px 0.8px,#fff 0.8px 3.4px,#e0c0b0 3.4px 4.6px,#c07050 4.6px 5.7px,#b04838 5.7px 6.4px,#e0c0b0 6.4px 8.4px,#fff 8.4px 10.9px,#b04838 10.9px 11.6px,#fff 11.6px 13.8px,#c07050 13.8px 14.7px,#a08050 14.7px 16.6px,#b4dca0 16.6px 21.3px,#c8a078 21.3px 21.9px,#b4dca0 21.9px 41.8px,#c0d0a0 41.8px 42.9px,#b4dca0 42.9px 83.9px)"></div><div style="left:656.4px;top:477.2px;width:13.7px;height:33.3px;background:linear-gradient(#fce8e0 0px 0.9px,#e8c8a0 0.9px 1.6px,#e0a080 1.6px 2.4px,#a6d38c 2.4px 33.3px)"></div><div style="left:672px;top:477.2px;width:10.3px;height:33.3px;background:linear-gradient(#a08050 0px 2.7px,#fff 2.7px 3.4px,#a6d38c 3.4px 19.8px,#d8e8c8 19.8px 20.7px,#a6d38c 20.7px 26.9px,#d8e8c8 26.9px 28.2px,#c0d0a0 28.2px 29.3px,#a6d38c 29.3px 33.3px)"></div><div style="left:656.4px;top:514.7px;width:13.7px;height:27.4px;background:linear-gradient(#e8c8a0 0px 0.9px,#d8c090 0.9px 1.5px,#e0a080 1.5px 2.5px,#a6d38c 2.5px 25.8px,#d8e8c8 25.8px 27.1px,#a6d38c 27.1px 27.4px)"></div><div style="left:672px;top:514.7px;width:10.3px;height:27.4px;background:linear-gradient(#b04838 0px 1.7px,#fff 1.7px 2.5px,#a6d38c 2.5px 22.2px,#d8e8c8 22.2px 23.1px,#a6d38c 23.1px 27.4px)"></div><div style="left:656.4px;top:546.4px;width:13.7px;height:38.1px;background:linear-gradient(#f0c8b0 0px 0.7px,#fce8e0 0.7px 1.5px,#f0c8b0 1.5px 2px,#d8c090 2px 3.3px,#fce8e0 3.3px 6.1px,#a6d38c 6.1px 35.7px,#d8e8c8 35.7px 37px,#a6d38c 37px 38.1px)"></div><div style="left:672px;top:546.4px;width:10.3px;height:38.1px;background:linear-gradient(#b04838 0px 0.8px,#e0c0b0 0.8px 2.8px,#fff 2.8px 5.2px,#b04838 5.2px 6px,#a6d38c 6px 6.8px,#c0d0a0 6.8px 7.5px,#a6d38c 7.5px 38.1px)"></div></div>
<svg width="685" height="939" viewBox="0 0 685 939" font-family="Liberation Sans, sans-serif"><defs><filter id="nz2" x="0" y="0" width="1" height="1" color-interpolation-filters="sRGB"><feTurbulence type="fractalNoise" baseFrequency="0.9" numOctaves="2" seed="9"/><feColorMatrix values="0 0 0 0 0.26 0 0 0 0 0.2 0 0 0 0 0.57 1.4 0 0 0 -0.52"/></filter><filter id="nz" x="0" y="0" width="1" height="1" color-interpolation-filters="sRGB"><feTurbulence type="fractalNoise" baseFrequency="0.8" numOctaves="2" seed="4"/><feColorMatrix values="0 0 0 0 0.8 0 0 0 0 0.35 0 0 0 0 0.55 1.1 0 0 0 -0.42"/></filter><filter id="b0_4" x="-50%" y="-50%" width="200%" height="200%"><feGaussianBlur stdDeviation="0.4"/></filter><filter id="b0_5" x="-50%" y="-50%" width="200%" height="200%"><feGaussianBlur stdDeviation="0.5"/></filter><filter id="b0_6" x="-50%" y="-50%" width="200%" height="200%"><feGaussianBlur stdDeviation="0.6"/></filter><filter id="b0_7" x="-50%" y="-50%" width="200%" height="200%"><feGaussianBlur stdDeviation="0.7"/></filter><filter id="b0_8" x="-50%" y="-50%" width="200%" height="200%"><feGaussianBlur stdDeviation="0.8"/></filter><filter id="b1_0" x="-50%" y="-50%" width="200%" height="200%"><feGaussianBlur stdDeviation="1.0"/></filter><filter id="b1_2" x="-50%" y="-50%" width="200%" height="200%"><feGaussianBlur stdDeviation="1.2"/></filter><filter id="b1_5" x="-50%" y="-50%" width="200%" height="200%"><feGaussianBlur stdDeviation="1.5"/></filter><filter id="b2_0" x="-50%" y="-50%" width="200%" height="200%"><feGaussianBlur stdDeviation="2.0"/></filter><clipPath id="c1"><rect x="35.5" y="96.2" width="26.3" height="168.3"/></clipPath><linearGradient id="g1" x1="0" y1="0" x2="0" y2="1"><stop offset="0" stop-color="#24868e" stop-opacity="0.4275"/><stop offset="1" stop-color="#29af7f" stop-opacity="0.27999999999999997"/></linearGradient><clipPath id="c2"><rect x="35.5" y="96.2" width="26.3" height="168.3"/></clipPath><linearGradient id="g2" x1="0" y1="0" x2="0" y2="1"><stop offset="0" stop-color="#2e6f8e" stop-opacity="0.95"/><stop offset="1" stop-color="#20a386" stop-opacity="0.7"/></linearGradient><clipPath id="c3"><rect x="35.5" y="268.1" width="26.3" height="32.8"/></clipPath><linearGradient id="g3" x1="0" y1="0" x2="0" y2="1"><stop offset="0" stop-color="#26828e" stop-opacity="0.4275"/><stop offset="1" stop-color="#2fb47c" stop-opacity="0.18000000000000002"/></linearGradient><clipPath id="c4"><rect x="35.5" y="268.1" width="26.3" height="32.8"/></clipPath><linearGradient id="g4" x1="0" y1="0" x2="0" y2="1"><stop offset="0" stop-color="#306a8e" stop-opacity="0.95"/><stop offset="1" stop-color="#22a884" stop-opacity="0.45"/></linearGradient><clipPath id="c5"><rect x="35.5" y="305.2" width="26.3" height="23.4"/></clipPath><linearGradient id="g5" x1="0" y1="0" x2="0" y2="1"><stop offset="0" stop-color="#26828e" stop-opacity="0.4275"/><stop offset="1" stop-color="#2fb47c" stop-opacity="0.18000000000000002"/></linearGradient><clipPath id="c6"><rect x="35.5" y="305.2" width="26.3" height="23.4"/></clipPath><linearGradient id="g6" x1="0" y1="0" x2="0" y2="1"><stop offset="0" stop-color="#306a8e" stop-opacity="0.95"/><stop offset="1" stop-color="#22a884" stop-opacity="0.45"/></linearGradient><clipPath id="c7"><rect x="35.5" y="332.3" width="26.3" height="29.5"/></clipPath><linearGradient id="g7" x1="0" y1="0" x2="0" y2="1"><stop offset="0" stop-color="#24868e" stop-opacity="0.405"/><stop offset="1" stop-color="#2fb47c" stop-opacity="0.18000000000000002"/></linearGradient><clipPath id="c8"><rect x="35.5" y="332.3" width="26.3" height="29.5"/></clipPath><linearGradient id="g8" x1="0" y1="0" x2="0" y2="1"><stop offset="0" stop-color="#2e6f8e" stop-opacity="0.9"/><stop offset="1" stop-color="#22a884" stop-opacity="0.45"/></linearGradient><clipPath id="c9"><rect x="35.5" y="366.1" width="26.3" height="19.4"/></clipPath><linearGradient id="g9" x1="0" y1="0" x2="0" y2="1"><stop offset="0" stop-color="#21918c" stop-opacity="0.3825"/><stop offset="1" stop-color="#37b878" stop-opacity="0.13999999999999999"/></linearGradient><clipPath id="c10"><rect x="35.5" y="366.1" width="26.3" height="19.4"/></clipPath><linearGradient id="g10" x1="0" y1="0" x2="0" y2="1"><stop offset="0" stop-color="#2a788e" stop-opacity="0.85"/><stop offset="1" stop-color="#26ad81" stop-opacity="0.35"/></linearGradient><clipPath id="c11"><rect x="35.5" y="389.4" width="26.3" height="83.9"/></clipPath><linearGradient id="g11" x1="0" y1="0" x2="0" y2="1"><stop offset="0" stop-color="#7ad151" stop-opacity="0.2025"/><stop offset="1" stop-color="#7ad151" stop-opacity="0.12"/></linearGradient><clipPath id="c12"><rect x="35.5" y="389.4" width="26.3" height="83.9"/></clipPath><linearGradient id="g12" x1="0" y1="0" x2="0" y2="1"><stop offset="0" stop-color="#44bf70" stop-opacity="0.45"/><stop offset="1" stop-color="#5ec962" stop-opacity="0.3"/></linearGradient><clipPath id="c13"><rect x="35.5" y="477.2" width="26.3" height="33.3"/></clipPath><linearGradient id="g13" x1="0" y1="0" x2="0" y2="1"><stop offset="0" stop-color="#5ec962" stop-opacity="0.24750000000000003"/><stop offset="1" stop-color="#7ad151" stop-opacity="0.12"/></linearGradient><clipPath id="c14"><rect x="35.5" y="477.2" width="26.3" height="33.3"/></clipPath><linearGradient id="g14" x1="0" y1="0" x2="0" y2="1"><stop offset="0" stop-color="#2fb47c" stop-opacity="0.55"/><stop offset="1" stop-color="#5ec962" stop-opacity="0.3"/></linearGradient><clipPath id="c15"><rect x="35.5" y="514.7" width="26.3" height="27.4"/></clipPath><linearGradient id="g15" x1="0" y1="0" x2="0" y2="1"><stop offset="0" stop-color="#7ad151" stop-opacity="0.2025"/><stop offset="1" stop-color="#7ad151" stop-opacity="0.12"/></linearGradient><clipPath id="c16"><rect x="35.5" y="514.7" width="26.3" height="27.4"/></clipPath><linearGradient id="g16" x1="0" y1="0" x2="0" y2="1"><stop offset="0" stop-color="#44bf70" stop-opacity="0.45"/><stop offset="1" stop-color="#5ec962" stop-opacity="0.3"/></linearGradient><clipPath id="c17"><rect x="35.5" y="546.4" width="26.3" height="38.1"/></clipPath><linearGradient id="g17" x1="0" y1="0" x2="0" y2="1"><stop offset="0" stop-color="#21918c" stop-opacity="0.4275"/><stop offset="1" stop-color="#5ec962" stop-opacity="0.0"/></linearGradient><clipPath id="c18"><rect x="35.5" y="546.4" width="26.3" height="38.1"/></clipPath><linearGradient id="g18" x1="0" y1="0" x2="0" y2="1"><stop offset="0" stop-color="#2a788e" stop-opacity="0.95"/><stop offset="1" stop-color="#44bf70" stop-opacity="0.0"/></linearGradient><clipPath id="c19"><rect x="284.8" y="96.2" width="27.3" height="168.3"/></clipPath><linearGradient id="g19" x1="0" y1="0" x2="0" y2="1"><stop offset="0" stop-color="#e57760" stop-opacity="0.55"/><stop offset="1" stop-color="#c14683" stop-opacity="0.425"/></linearGradient><clipPath id="c20"><rect x="284.8" y="96.2" width="27.3" height="168.3"/></clipPath><linearGradient id="g20" x1="0" y1="0" x2="0" y2="1"><stop offset="0" stop-color="#f3d83a" stop-opacity="1.0"/><stop offset="1" stop-color="#f09b48" stop-opacity="0.85"/></linearGradient><clipPath id="c21"><rect x="284.8" y="268.1" width="27.3" height="32.8"/></clipPath><linearGradient id="g21" x1="0" y1="0" x2="0" y2="1"><stop offset="0" stop-color="#81279d" stop-opacity="0.49500000000000005"/><stop offset="1" stop-color="#4d2f97" stop-opacity="0.1"/></linearGradient><clipPath id="c22"><rect x="284.8" y="268.1" width="27.3" height="32.8"/></clipPath><linearGradient id="g22" x1="0" y1="0" x2="0" y2="1"><stop offset="0" stop-color="#de676a" stop-opacity="0.9"/><stop offset="1" stop-color="#9f3394" stop-opacity="0.2"/></linearGradient><clipPath id="c23"><rect x="284.8" y="305.2" width="27.3" height="23.4"/></clipPath><linearGradient id="g23" x1="0" y1="0" x2="0" y2="1"><stop offset="0" stop-color="#81279d" stop-opacity="0.49500000000000005"/><stop offset="1" stop-color="#4d2f97" stop-opacity="0.1"/></linearGradient><clipPath id="c24"><rect x="284.8" y="305.2" width="27.3" height="23.4"/></clipPath><linearGradient id="g24" x1="0" y1="0" x2="0" y2="1"><stop offset="0" stop-color="#de676a" stop-opacity="0.9"/><stop offset="1" stop-color="#9f3394" stop-opacity="0.2"/></linearGradient><clipPath id="c25"><rect x="284.8" y="332.3" width="27.3" height="29.5"/></clipPath><linearGradient id="g25" x1="0" y1="0" x2="0" y2="1"><stop offset="0" stop-color="#7a249f" stop-opacity="0.4675"/><stop offset="1" stop-color="#4a3095" stop-opacity="0.1"/></linearGradient><clipPath id="c26"><rect x="284.8" y="332.3" width="27.3" height="29.5"/></clipPath><linearGradient id="g26" x1="0" y1="0" x2="0" y2="1"><stop offset="0" stop-color="#db616e" stop-opacity="0.85"/><stop offset="1" stop-color="#983096" stop-opacity="0.2"/></linearGradient><clipPath id="c27"><rect x="284.8" y="366.1" width="27.3" height="19.4"/></clipPath><linearGradient id="g27" x1="0" y1="0" x2="0" y2="1"><stop offset="0" stop-color="#81279d" stop-opacity="0.49500000000000005"/><stop offset="1" stop-color="#4d2f97" stop-opacity="0.1"/></linearGradient><clipPath id="c28"><rect x="284.8" y="366.1" width="27.3" height="19.4"/></clipPath><linearGradient id="g28" x1="0" y1="0" x2="0" y2="1"><stop offset="0" stop-color="#de676a" stop-opacity="0.9"/><stop offset="1" stop-color="#9f3394" stop-opacity="0.2"/></linearGradient><clipPath id="c29"><rect x="284.8" y="389.4" width="27.3" height="83.9"/></clipPath><linearGradient id="g29" x1="0" y1="0" x2="0" y2="1"><stop offset="0" stop-color="#302a80" stop-opacity="0.3"/><stop offset="1" stop-color="#302a80" stop-opacity="0.3"/></linearGradient><clipPath id="c30"><rect x="284.8" y="477.2" width="27.3" height="33.3"/></clipPath><linearGradient id="g30" x1="0" y1="0" x2="0" y2="1"><stop offset="0" stop-color="#302a80" stop-opacity="0.3"/><stop offset="1" stop-color="#302a80" stop-opacity="0.3"/></linearGradient><clipPath id="c31"><rect x="284.8" y="514.7" width="27.3" height="27.4"/></clipPath><linearGradient id="g31" x1="0" y1="0" x2="0" y2="1"><stop offset="0" stop-color="#302a80" stop-opacity="0.3"/><stop offset="1" stop-color="#302a80" stop-opacity="0.3"/></linearGradient><clipPath id="c32"><rect x="284.8" y="546.4" width="27.3" height="38.1"/></clipPath><linearGradient id="g32" x1="0" y1="0" x2="0" y2="1"><stop offset="0" stop-color="#b23a8e" stop-opacity="0.55"/><stop offset="1" stop-color="#4d2f97" stop-opacity="0.3"/></linearGradient><clipPath id="c33"><rect x="284.8" y="546.4" width="27.3" height="38.1"/></clipPath><linearGradient id="g33" x1="0" y1="0" x2="0" y2="1"><stop offset="0" stop-color="#ed8e51" stop-opacity="1.0"/><stop offset="1" stop-color="#9f3394" stop-opacity="0.6"/></linearGradient><clipPath id="c34"><rect x="321" y="96.2" width="27.8" height="168.3"/></clipPath><linearGradient id="g34" x1="0" y1="0" x2="0" y2="1"><stop offset="0" stop-color="#9f3394" stop-opacity="0.6"/><stop offset="1" stop-color="#bb4188" stop-opacity="0.45"/></linearGradient><clipPath id="c35"><rect x="321" y="96.2" width="27.8" height="168.3"/></clipPath><linearGradient id="g35" x1="0" y1="0" x2="0" y2="1"><stop offset="0" stop-color="#66289c" stop-opacity="0.95"/><stop offset="1" stop-color="#902d98" stop-opacity="0.8"/></linearGradient><clipPath id="c36"><rect x="352.2" y="96.2" width="27.8" height="168.3"/></clipPath><linearGradient id="g36" x1="0" y1="0" x2="0" y2="1"><stop offset="0" stop-color="#9f3394" stop-opacity="0.6"/><stop offset="1" stop-color="#bb4188" stop-opacity="0.45"/></linearGradient><clipPath id="c37"><rect x="352.2" y="96.2" width="27.8" height="168.3"/></clipPath><linearGradient id="g37" x1="0" y1="0" x2="0" y2="1"><stop offset="0" stop-color="#66289c" stop-opacity="0.95"/><stop offset="1" stop-color="#902d98" stop-opacity="0.8"/></linearGradient><clipPath id="c38"><rect x="321" y="268.1" width="27.8" height="32.8"/></clipPath><linearGradient id="g38" x1="0" y1="0" x2="0" y2="1"><stop offset="0" stop-color="#9f3394" stop-opacity="0.55"/><stop offset="1" stop-color="#c14683" stop-opacity="0.3"/></linearGradient><clipPath id="c39"><rect x="321" y="268.1" width="27.8" height="32.8"/></clipPath><linearGradient id="g39" x1="0" y1="0" x2="0" y2="1"><stop offset="0" stop-color="#61299c" stop-opacity="0.95"/><stop offset="1" stop-color="#9f3394" stop-opacity="0.65"/></linearGradient><clipPath id="c40"><rect x="352.2" y="268.1" width="27.8" height="32.8"/></clipPath><linearGradient id="g40" x1="0" y1="0" x2="0" y2="1"><stop offset="0" stop-color="#9f3394" stop-opacity="0.55"/><stop offset="1" stop-color="#c14683" stop-opacity="0.3"/></linearGradient><clipPath id="c41"><rect x="352.2" y="268.1" width="27.8" height="32.8"/></clipPath><linearGradient id="g41" x1="0" y1="0" x2="0" y2="1"><stop offset="0" stop-color="#61299c" stop-opacity="0.95"/><stop offset="1" stop-color="#9f3394" stop-opacity="0.65"/></linearGradient><clipPath id="c42"><rect x="321" y="305.2" width="27.8" height="23.4"/></clipPath><linearGradient id="g42" x1="0" y1="0" x2="0" y2="1"><stop offset="0" stop-color="#9f3394" stop-opacity="0.55"/><stop offset="1" stop-color="#c14683" stop-opacity="0.3"/></linearGradient><clipPath id="c43"><rect x="321" y="305.2" width="27.8" height="23.4"/></clipPath><linearGradient id="g43" x1="0" y1="0" x2="0" y2="1"><stop offset="0" stop-color="#61299c" stop-opacity="0.95"/><stop offset="1" stop-color="#9f3394" stop-opacity="0.65"/></linearGradient><clipPath id="c44"><rect x="352.2" y="305.2" width="27.8" height="23.4"/></clipPath><linearGradient id="g44" x1="0" y1="0" x2="0" y2="1"><stop offset="0" stop-color="#9f3394" stop-opacity="0.55"/><stop offset="1" stop-color="#c14683" stop-opacity="0.3"/></linearGradient><clipPath id="c45"><rect x="352.2" y="305.2" width="27.8" height="23.4"/></clipPath><linearGradient id="g45" x1="0" y1="0" x2="0" y2="1"><stop offset="0" stop-color="#61299c" stop-opacity="0.95"/><stop offset="1" stop-color="#9f3394" stop-opacity="0.65"/></linearGradient><clipPath id="c46"><rect x="321" y="332.3" width="27.8" height="29.5"/></clipPath><linearGradient id="g46" x1="0" y1="0" x2="0" y2="1"><stop offset="0" stop-color="#9f3394" stop-opacity="0.55"/><stop offset="1" stop-color="#c14683" stop-opacity="0.3"/></linearGradient><clipPath id="c47"><rect x="321" y="332.3" width="27.8" height="29.5"/></clipPath><linearGradient id="g47" x1="0" y1="0" x2="0" y2="1"><stop offset="0" stop-color="#61299c" stop-opacity="0.95"/><stop offset="1" stop-color="#9f3394" stop-opacity="0.65"/></linearGradient><clipPath id="c48"><rect x="352.2" y="332.3" width="27.8" height="29.5"/></clipPath><linearGradient id="g48" x1="0" y1="0" x2="0" y2="1"><stop offset="0" stop-color="#9f3394" stop-opacity="0.55"/><stop offset="1" stop-color="#c14683" stop-opacity="0.3"/></linearGradient><clipPath id="c49"><rect x="352.2" y="332.3" width="27.8" height="29.5"/></clipPath><linearGradient id="g49" x1="0" y1="0" x2="0" y2="1"><stop offset="0" stop-color="#61299c" stop-opacity="0.95"/><stop offset="1" stop-color="#9f3394" stop-opacity="0.65"/></linearGradient><clipPath id="c50"><rect x="321" y="366.1" width="27.8" height="19.4"/></clipPath><linearGradient id="g50" x1="0" y1="0" x2="0" y2="1"><stop offset="0" stop-color="#9f3394" stop-opacity="0.55"/><stop offset="1" stop-color="#c14683" stop-opacity="0.3"/></linearGradient><clipPath id="c51"><rect x="321" y="366.1" width="27.8" height="19.4"/></clipPath><linearGradient id="g51" x1="0" y1="0" x2="0" y2="1"><stop offset="0" stop-color="#61299c" stop-opacity="0.95"/><stop offset="1" stop-color="#9f3394" stop-opacity="0.65"/></linearGradient><clipPath id="c52"><rect x="352.2" y="366.1" width="27.8" height="19.4"/></clipPath><linearGradient id="g52" x1="0" y1="0" x2="0" y2="1"><stop offset="0" stop-color="#9f3394" stop-opacity="0.55"/><stop offset="1" stop-color="#c14683" stop-opacity="0.3"/></linearGradient><clipPath id="c53"><rect x="352.2" y="366.1" width="27.8" height="19.4"/></clipPath><linearGradient id="g53" x1="0" y1="0" x2="0" y2="1"><stop offset="0" stop-color="#61299c" stop-opacity="0.95"/><stop offset="1" stop-color="#9f3394" stop-opacity="0.65"/></linearGradient><clipPath id="c54"><rect x="321" y="477.2" width="27.8" height="33.3"/></clipPath><linearGradient id="g54" x1="0" y1="0" x2="0" y2="1"><stop offset="0" stop-color="#7a249f" stop-opacity="0.6"/><stop offset="1" stop-color="#c14683" stop-opacity="0.0"/></linearGradient><clipPath id="c55"><rect x="352.2" y="477.2" width="27.8" height="33.3"/></clipPath><linearGradient id="g55" x1="0" y1="0" x2="0" y2="1"><stop offset="0" stop-color="#7a249f" stop-opacity="0.6"/><stop offset="1" stop-color="#c14683" stop-opacity="0.0"/></linearGradient><clipPath id="c56"><rect x="321" y="514.7" width="27.8" height="27.4"/></clipPath><linearGradient id="g56" x1="0" y1="0" x2="0" y2="1"><stop offset="0" stop-color="#7a249f" stop-opacity="0.6"/><stop offset="1" stop-color="#c14683" stop-opacity="0.0"/></linearGradient><clipPath id="c57"><rect x="352.2" y="514.7" width="27.8" height="27.4"/></clipPath><linearGradient id="g57" x1="0" y1="0" x2="0" y2="1"><stop offset="0" stop-color="#7a249f" stop-opacity="0.6"/><stop offset="1" stop-color="#c14683" stop-opacity="0.0"/></linearGradient><clipPath id="c58"><rect x="321" y="546.4" width="27.8" height="38.1"/></clipPath><linearGradient id="g58" x1="0" y1="0" x2="0" y2="1"><stop offset="0" stop-color="#7a249f" stop-opacity="0.6"/><stop offset="1" stop-color="#c14683" stop-opacity="0.0"/></linearGradient><clipPath id="c59"><rect x="352.2" y="546.4" width="27.8" height="38.1"/></clipPath><linearGradient id="g59" x1="0" y1="0" x2="0" y2="1"><stop offset="0" stop-color="#7a249f" stop-opacity="0.6"/><stop offset="1" stop-color="#c14683" stop-opacity="0.0"/></linearGradient><clipPath id="c60"><rect x="413.2" y="96.2" width="27" height="168.3"/></clipPath><linearGradient id="g60" x1="0" y1="0" x2="0" y2="1"><stop offset="0" stop-color="#c44981" stop-opacity="0.45"/><stop offset="1" stop-color="#ab3790" stop-opacity="0.32000000000000006"/></linearGradient><clipPath id="c61"><rect x="413.2" y="96.2" width="27" height="168.3"/></clipPath><linearGradient id="g61" x1="0" y1="0" x2="0" y2="1"><stop offset="0" stop-color="#ee904f" stop-opacity="0.9"/><stop offset="1" stop-color="#e67b5e" stop-opacity="0.8"/></linearGradient><clipPath id="c62"><rect x="444.1" y="96.2" width="27" height="168.3"/></clipPath><linearGradient id="g62" x1="0" y1="0" x2="0" y2="1"><stop offset="0" stop-color="#c44981" stop-opacity="0.45"/><stop offset="1" stop-color="#ab3790" stop-opacity="0.32000000000000006"/></linearGradient><clipPath id="c63"><rect x="444.1" y="96.2" width="27" height="168.3"/></clipPath><linearGradient id="g63" x1="0" y1="0" x2="0" y2="1"><stop offset="0" stop-color="#ee904f" stop-opacity="0.9"/><stop offset="1" stop-color="#e67b5e" stop-opacity="0.8"/></linearGradient><clipPath id="c64"><rect x="413.2" y="268.1" width="27" height="32.8"/></clipPath><linearGradient id="g64" x1="0" y1="0" x2="0" y2="1"><stop offset="0" stop-color="#73269e" stop-opacity="0.425"/><stop offset="1" stop-color="#5a2b9b" stop-opacity="0.2"/></linearGradient><clipPath id="c65"><rect x="413.2" y="268.1" width="27" height="32.8"/></clipPath><linearGradient id="g65" x1="0" y1="0" x2="0" y2="1"><stop offset="0" stop-color="#c64b7f" stop-opacity="0.85"/><stop offset="1" stop-color="#a73691" stop-opacity="0.5"/></linearGradient><clipPath id="c66"><rect x="444.1" y="268.1" width="27" height="32.8"/></clipPath><linearGradient id="g66" x1="0" y1="0" x2="0" y2="1"><stop offset="0" stop-color="#73269e" stop-opacity="0.425"/><stop offset="1" stop-color="#5a2b9b" stop-opacity="0.2"/></linearGradient><clipPath id="c67"><rect x="444.1" y="268.1" width="27" height="32.8"/></clipPath><linearGradient id="g67" x1="0" y1="0" x2="0" y2="1"><stop offset="0" stop-color="#c64b7f" stop-opacity="0.85"/><stop offset="1" stop-color="#a73691" stop-opacity="0.5"/></linearGradient><clipPath id="c68"><rect x="413.2" y="305.2" width="27" height="23.4"/></clipPath><linearGradient id="g68" x1="0" y1="0" x2="0" y2="1"><stop offset="0" stop-color="#73269e" stop-opacity="0.425"/><stop offset="1" stop-color="#5a2b9b" stop-opacity="0.2"/></linearGradient><clipPath id="c69"><rect x="413.2" y="305.2" width="27" height="23.4"/></clipPath><linearGradient id="g69" x1="0" y1="0" x2="0" y2="1"><stop offset="0" stop-color="#c64b7f" stop-opacity="0.85"/><stop offset="1" stop-color="#a73691" stop-opacity="0.5"/></linearGradient><clipPath id="c70"><rect x="444.1" y="305.2" width="27" height="23.4"/></clipPath><linearGradient id="g70" x1="0" y1="0" x2="0" y2="1"><stop offset="0" stop-color="#73269e" stop-opacity="0.425"/><stop offset="1" stop-color="#5a2b9b" stop-opacity="0.2"/></linearGradient><clipPath id="c71"><rect x="444.1" y="305.2" width="27" height="23.4"/></clipPath><linearGradient id="g71" x1="0" y1="0" x2="0" y2="1"><stop offset="0" stop-color="#c64b7f" stop-opacity="0.85"/><stop offset="1" stop-color="#a73691" stop-opacity="0.5"/></linearGradient><clipPath id="c72"><rect x="413.2" y="332.3" width="27" height="29.5"/></clipPath><linearGradient id="g72" x1="0" y1="0" x2="0" y2="1"><stop offset="0" stop-color="#7a249f" stop-opacity="0.425"/><stop offset="1" stop-color="#61299c" stop-opacity="0.2"/></linearGradient><clipPath id="c73"><rect x="413.2" y="332.3" width="27" height="29.5"/></clipPath><linearGradient id="g73" x1="0" y1="0" x2="0" y2="1"><stop offset="0" stop-color="#cf5378" stop-opacity="0.85"/><stop offset="1" stop-color="#b23a8e" stop-opacity="0.5"/></linearGradient><clipPath id="c74"><rect x="444.1" y="332.3" width="27" height="29.5"/></clipPath><linearGradient id="g74" x1="0" y1="0" x2="0" y2="1"><stop offset="0" stop-color="#7a249f" stop-opacity="0.425"/><stop offset="1" stop-color="#61299c" stop-opacity="0.2"/></linearGradient><clipPath id="c75"><rect x="444.1" y="332.3" width="27" height="29.5"/></clipPath><linearGradient id="g75" x1="0" y1="0" x2="0" y2="1"><stop offset="0" stop-color="#cf5378" stop-opacity="0.85"/><stop offset="1" stop-color="#b23a8e" stop-opacity="0.5"/></linearGradient><clipPath id="c76"><rect x="413.2" y="366.1" width="27" height="19.4"/></clipPath><linearGradient id="g76" x1="0" y1="0" x2="0" y2="1"><stop offset="0" stop-color="#73269e" stop-opacity="0.425"/><stop offset="1" stop-color="#5a2b9b" stop-opacity="0.18000000000000002"/></linearGradient><clipPath id="c77"><rect x="413.2" y="366.1" width="27" height="19.4"/></clipPath><linearGradient id="g77" x1="0" y1="0" x2="0" y2="1"><stop offset="0" stop-color="#c64b7f" stop-opacity="0.85"/><stop offset="1" stop-color="#a73691" stop-opacity="0.45"/></linearGradient><clipPath id="c78"><rect x="444.1" y="366.1" width="27" height="19.4"/></clipPath><linearGradient id="g78" x1="0" y1="0" x2="0" y2="1"><stop offset="0" stop-color="#73269e" stop-opacity="0.425"/><stop offset="1" stop-color="#5a2b9b" stop-opacity="0.18000000000000002"/></linearGradient><clipPath id="c79"><rect x="444.1" y="366.1" width="27" height="19.4"/></clipPath><linearGradient id="g79" x1="0" y1="0" x2="0" y2="1"><stop offset="0" stop-color="#c64b7f" stop-opacity="0.85"/><stop offset="1" stop-color="#a73691" stop-opacity="0.45"/></linearGradient><clipPath id="c80"><rect x="413.2" y="546.4" width="27" height="38.1"/></clipPath><linearGradient id="g80" x1="0" y1="0" x2="0" y2="1"><stop offset="0" stop-color="#6e279d" stop-opacity="0.45"/><stop offset="1" stop-color="#453293" stop-opacity="0.2"/></linearGradient><clipPath id="c81"><rect x="413.2" y="546.4" width="27" height="38.1"/></clipPath><linearGradient id="g81" x1="0" y1="0" x2="0" y2="1"><stop offset="0" stop-color="#c14683" stop-opacity="0.9"/><stop offset="1" stop-color="#7a249f" stop-opacity="0.5"/></linearGradient><clipPath id="c82"><rect x="444.1" y="546.4" width="27" height="38.1"/></clipPath><linearGradient id="g82" x1="0" y1="0" x2="0" y2="1"><stop offset="0" stop-color="#6e279d" stop-opacity="0.45"/><stop offset="1" stop-color="#453293" stop-opacity="0.2"/></linearGradient><clipPath id="c83"><rect x="444.1" y="546.4" width="27" height="38.1"/></clipPath><linearGradient id="g83" x1="0" y1="0" x2="0" y2="1"><stop offset="0" stop-color="#c14683" stop-opacity="0.9"/><stop offset="1" stop-color="#7a249f" stop-opacity="0.5"/></linearGradient><clipPath id="c84"><rect x="505" y="96.2" width="27.6" height="168.3"/></clipPath><linearGradient id="g84" x1="0" y1="0" x2="0" y2="1"><stop offset="0" stop-color="#302a80" stop-opacity="0.35"/><stop offset="1" stop-color="#302a80" stop-opacity="0.35"/></linearGradient><clipPath id="c85"><rect x="536" y="96.2" width="27" height="168.3"/></clipPath><linearGradient id="g85" x1="0" y1="0" x2="0" y2="1"><stop offset="0" stop-color="#302a80" stop-opacity="0.35"/><stop offset="1" stop-color="#302a80" stop-opacity="0.35"/></linearGradient><clipPath id="c86"><rect x="505" y="268.1" width="27.6" height="32.8"/></clipPath><linearGradient id="g86" x1="0" y1="0" x2="0" y2="1"><stop offset="0" stop-color="#66289c" stop-opacity="0.6"/><stop offset="1" stop-color="#4d2f97" stop-opacity="0.0"/></linearGradient><clipPath id="c87"><rect x="505" y="268.1" width="27.6" height="32.8"/></clipPath><linearGradient id="g87" x1="0" y1="0" x2="0" y2="1"><stop offset="0" stop-color="#902d98" stop-opacity="0.8"/><stop offset="1" stop-color="#61299c" stop-opacity="0.3"/></linearGradient><clipPath id="c88"><rect x="505" y="268.1" width="27.6" height="32.8"/></clipPath><linearGradient id="g88" x1="0" y1="0" x2="0" y2="1"><stop offset="0" stop-color="#902d98" stop-opacity="0.8"/><stop offset="1" stop-color="#61299c" stop-opacity="0.3"/></linearGradient><clipPath id="c89"><rect x="536" y="268.1" width="27" height="32.8"/></clipPath><linearGradient id="g89" x1="0" y1="0" x2="0" y2="1"><stop offset="0" stop-color="#66289c" stop-opacity="0.6"/><stop offset="1" stop-color="#4d2f97" stop-opacity="0.0"/></linearGradient><clipPath id="c90"><rect x="536" y="268.1" width="27" height="32.8"/></clipPath><linearGradient id="g90" x1="0" y1="0" x2="0" y2="1"><stop offset="0" stop-color="#902d98" stop-opacity="0.8"/><stop offset="1" stop-color="#61299c" stop-opacity="0.3"/></linearGradient><clipPath id="c91"><rect x="536" y="268.1" width="27" height="32.8"/></clipPath><linearGradient id="g91" x1="0" y1="0" x2="0" y2="1"><stop offset="0" stop-color="#902d98" stop-opacity="0.8"/><stop offset="1" stop-color="#61299c" stop-opacity="0.3"/></linearGradient><clipPath id="c92"><rect x="505" y="305.2" width="27.6" height="23.4"/></clipPath><linearGradient id="g92" x1="0" y1="0" x2="0" y2="1"><stop offset="0" stop-color="#81279d" stop-opacity="0.75"/><stop offset="1" stop-color="#61299c" stop-opacity="0.2"/></linearGradient><clipPath id="c93"><rect x="505" y="305.2" width="27.6" height="23.4"/></clipPath><linearGradient id="g93" x1="0" y1="0" x2="0" y2="1"><stop offset="0" stop-color="#db616e" stop-opacity="1.0"/><stop offset="1" stop-color="#b23a8e" stop-opacity="0.7"/></linearGradient><clipPath id="c94"><rect x="505" y="305.2" width="27.6" height="23.4"/></clipPath><linearGradient id="g94" x1="0" y1="0" x2="0" y2="1"><stop offset="0" stop-color="#db616e" stop-opacity="1.0"/><stop offset="1" stop-color="#b23a8e" stop-opacity="0.7"/></linearGradient><clipPath id="c95"><rect x="505" y="305.2" width="27.6" height="23.4"/></clipPath><linearGradient id="g95" x1="0" y1="0" x2="0" y2="1"><stop offset="0" stop-color="#9f3394" stop-opacity="0.8"/><stop offset="1" stop-color="#61299c" stop-opacity="0.1"/></linearGradient><clipPath id="c96"><rect x="536" y="305.2" width="27" height="23.4"/></clipPath><linearGradient id="g96" x1="0" y1="0" x2="0" y2="1"><stop offset="0" stop-color="#81279d" stop-opacity="0.75"/><stop offset="1" stop-color="#61299c" stop-opacity="0.2"/></linearGradient><clipPath id="c97"><rect x="536" y="305.2" width="27" height="23.4"/></clipPath><linearGradient id="g97" x1="0" y1="0" x2="0" y2="1"><stop offset="0" stop-color="#db616e" stop-opacity="0.8"/><stop offset="1" stop-color="#b23a8e" stop-opacity="0.7"/></linearGradient><clipPath id="c98"><rect x="536" y="305.2" width="27" height="23.4"/></clipPath><linearGradient id="g98" x1="0" y1="0" x2="0" y2="1"><stop offset="0" stop-color="#db616e" stop-opacity="0.8"/><stop offset="1" stop-color="#b23a8e" stop-opacity="0.7"/></linearGradient><clipPath id="c99"><rect x="536" y="305.2" width="27" height="23.4"/></clipPath><linearGradient id="g99" x1="0" y1="0" x2="0" y2="1"><stop offset="0" stop-color="#9f3394" stop-opacity="0.6400000000000001"/><stop offset="1" stop-color="#61299c" stop-opacity="0.1"/></linearGradient><clipPath id="c100"><rect x="505" y="332.3" width="27.6" height="29.5"/></clipPath><linearGradient id="g100" x1="0" y1="0" x2="0" y2="1"><stop offset="0" stop-color="#b23a8e" stop-opacity="0.85"/><stop offset="1" stop-color="#75259e" stop-opacity="0.3"/></linearGradient><clipPath id="c101"><rect x="505" y="332.3" width="27.6" height="29.5"/></clipPath><linearGradient id="g101" x1="0" y1="0" x2="0" y2="1"><stop offset="0" stop-color="#f4cf3a" stop-opacity="1.0"/><stop offset="1" stop-color="#ef964b" stop-opacity="0.9"/></linearGradient><clipPath id="c102"><rect x="505" y="332.3" width="27.6" height="29.5"/></clipPath><linearGradient id="g102" x1="0" y1="0" x2="0" y2="1"><stop offset="0" stop-color="#f4cf3a" stop-opacity="1.0"/><stop offset="1" stop-color="#ef964b" stop-opacity="0.9"/></linearGradient><clipPath id="c103"><rect x="505" y="332.3" width="27.6" height="29.5"/></clipPath><linearGradient id="g103" x1="0" y1="0" x2="0" y2="1"><stop offset="0" stop-color="#ed8e51" stop-opacity="0.9"/><stop offset="1" stop-color="#b23a8e" stop-opacity="0.3"/></linearGradient><clipPath id="c104"><rect x="536" y="332.3" width="27" height="29.5"/></clipPath><linearGradient id="g104" x1="0" y1="0" x2="0" y2="1"><stop offset="0" stop-color="#b23a8e" stop-opacity="0.85"/><stop offset="1" stop-color="#75259e" stop-opacity="0.3"/></linearGradient><clipPath id="c105"><rect x="536" y="332.3" width="27" height="29.5"/></clipPath><linearGradient id="g105" x1="0" y1="0" x2="0" y2="1"><stop offset="0" stop-color="#f4cf3a" stop-opacity="1.0"/><stop offset="1" stop-color="#ef964b" stop-opacity="0.9"/></linearGradient><clipPath id="c106"><rect x="536" y="332.3" width="27" height="29.5"/></clipPath><linearGradient id="g106" x1="0" y1="0" x2="0" y2="1"><stop offset="0" stop-color="#f4cf3a" stop-opacity="1.0"/><stop offset="1" stop-color="#ef964b" stop-opacity="0.9"/></linearGradient><clipPath id="c107"><rect x="536" y="332.3" width="27" height="29.5"/></clipPath><linearGradient id="g107" x1="0" y1="0" x2="0" y2="1"><stop offset="0" stop-color="#ed8e51" stop-opacity="0.9"/><stop offset="1" stop-color="#b23a8e" stop-opacity="0.3"/></linearGradient><clipPath id="c108"><rect x="505" y="389.4" width="27.6" height="83.9"/></clipPath><linearGradient id="g108" x1="0" y1="0" x2="0" y2="1"><stop offset="0" stop-color="#302a80" stop-opacity="0.35"/><stop offset="1" stop-color="#302a80" stop-opacity="0.35"/></linearGradient><clipPath id="c109"><rect x="536" y="389.4" width="27" height="83.9"/></clipPath><linearGradient id="g109" x1="0" y1="0" x2="0" y2="1"><stop offset="0" stop-color="#302a80" stop-opacity="0.35"/><stop offset="1" stop-color="#302a80" stop-opacity="0.35"/></linearGradient><clipPath id="c110"><rect x="505" y="477.2" width="27.6" height="33.3"/></clipPath><linearGradient id="g110" x1="0" y1="0" x2="0" y2="1"><stop offset="0" stop-color="#302a80" stop-opacity="0.35"/><stop offset="1" stop-color="#302a80" stop-opacity="0.35"/></linearGradient><clipPath id="c111"><rect x="536" y="477.2" width="27" height="33.3"/></clipPath><linearGradient id="g111" x1="0" y1="0" x2="0" y2="1"><stop offset="0" stop-color="#302a80" stop-opacity="0.35"/><stop offset="1" stop-color="#302a80" stop-opacity="0.35"/></linearGradient><clipPath id="c112"><rect x="505" y="514.7" width="27.6" height="27.4"/></clipPath><linearGradient id="g112" x1="0" y1="0" x2="0" y2="1"><stop offset="0" stop-color="#302a80" stop-opacity="0.35"/><stop offset="1" stop-color="#302a80" stop-opacity="0.35"/></linearGradient><clipPath id="c113"><rect x="536" y="514.7" width="27" height="27.4"/></clipPath><linearGradient id="g113" x1="0" y1="0" x2="0" y2="1"><stop offset="0" stop-color="#302a80" stop-opacity="0.35"/><stop offset="1" stop-color="#302a80" stop-opacity="0.35"/></linearGradient><clipPath id="c114"><rect x="505" y="546.4" width="27.6" height="38.1"/></clipPath><linearGradient id="g114" x1="0" y1="0" x2="0" y2="1"><stop offset="0" stop-color="#302a80" stop-opacity="0.35"/><stop offset="1" stop-color="#302a80" stop-opacity="0.35"/></linearGradient><clipPath id="c115"><rect x="536" y="546.4" width="27" height="38.1"/></clipPath><linearGradient id="g115" x1="0" y1="0" x2="0" y2="1"><stop offset="0" stop-color="#302a80" stop-opacity="0.35"/><stop offset="1" stop-color="#302a80" stop-opacity="0.35"/></linearGradient><linearGradient id="vir" x1="0" x2="1" y1="0" y2="0"><stop offset="0" stop-color="#fde725"/><stop offset="0.1" stop-color="#bddf26"/><stop offset="0.2" stop-color="#7ad151"/><stop offset="0.3" stop-color="#44bf70"/><stop offset="0.4" stop-color="#22a884"/><stop offset="0.5" stop-color="#21918c"/><stop offset="0.6" stop-color="#2a788e"/><stop offset="0.7" stop-color="#355f8d"/><stop offset="0.8" stop-color="#414487"/><stop offset="0.9" stop-color="#482475"/><stop offset="1" stop-color="#440154"/></linearGradient><linearGradient id="p1" x1="0" x2="1" y1="0" y2="0"><stop offset="0" stop-color="#3d3590"/><stop offset="0.1" stop-color="#4d2f97"/><stop offset="0.2" stop-color="#61299c"/><stop offset="0.3" stop-color="#7a249f"/><stop offset="0.4" stop-color="#9f3394"/><stop offset="0.5" stop-color="#c14683"/><stop offset="0.6" stop-color="#db616e"/><stop offset="0.7" stop-color="#e9815a"/><stop offset="0.8" stop-color="#f09b48"/><stop offset="0.9" stop-color="#f4bb3c"/><stop offset="1" stop-color="#f2e63a"/></linearGradient><linearGradient id="f1" x1="0" x2="1" y1="0" y2="0"><stop offset="0" stop-color="#3b4cc0"/><stop offset="0.5" stop-color="#ffffff"/><stop offset="1" stop-color="#e0301e"/></linearGradient><linearGradient id="p2" x1="0" x2="1" y1="0" y2="0"><stop offset="0" stop-color="#3d3590"/><stop offset="0.1" stop-color="#4d2f97"/><stop offset="0.2" stop-color="#61299c"/><stop offset="0.3" stop-color="#7a249f"/><stop offset="0.4" stop-color="#9f3394"/><stop offset="0.5" stop-color="#c14683"/><stop offset="0.6" stop-color="#db616e"/><stop offset="0.7" stop-color="#e9815a"/><stop offset="0.8" stop-color="#f09b48"/><stop offset="0.9" stop-color="#f4bb3c"/><stop offset="1" stop-color="#f2e63a"/></linearGradient><linearGradient id="p3" x1="0" x2="1" y1="0" y2="0"><stop offset="0" stop-color="#3d3590"/><stop offset="0.1" stop-color="#4d2f97"/><stop offset="0.2" stop-color="#61299c"/><stop offset="0.3" stop-color="#7a249f"/><stop offset="0.4" stop-color="#9f3394"/><stop offset="0.5" stop-color="#c14683"/><stop offset="0.6" stop-color="#db616e"/><stop offset="0.7" stop-color="#e9815a"/><stop offset="0.8" stop-color="#f09b48"/><stop offset="0.9" stop-color="#f4bb3c"/><stop offset="1" stop-color="#f2e63a"/></linearGradient><linearGradient id="f2" x1="0" x2="1" y1="0" y2="0"><stop offset="0" stop-color="#3b4cc0"/><stop offset="0.5" stop-color="#ffffff"/><stop offset="1" stop-color="#e0301e"/></linearGradient><linearGradient id="p4" x1="0" x2="1" y1="0" y2="0"><stop offset="0" stop-color="#3d3590"/><stop offset="0.1" stop-color="#4d2f97"/><stop offset="0.2" stop-color="#61299c"/><stop offset="0.3" stop-color="#7a249f"/><stop offset="0.4" stop-color="#9f3394"/><stop offset="0.5" stop-color="#c14683"/><stop offset="0.6" stop-color="#db616e"/><stop offset="0.7" stop-color="#e9815a"/><stop offset="0.8" stop-color="#f09b48"/><stop offset="0.9" stop-color="#f4bb3c"/><stop offset="1" stop-color="#f2e63a"/></linearGradient><linearGradient id="f3" x1="0" x2="1" y1="0" y2="0"><stop offset="0" stop-color="#3b4cc0"/><stop offset="0.5" stop-color="#ffffff"/><stop offset="1" stop-color="#e0301e"/></linearGradient><linearGradient id="p5" x1="0" x2="1" y1="0" y2="0"><stop offset="0" stop-color="#3d3590"/><stop offset="0.1" stop-color="#4d2f97"/><stop offset="0.2" stop-color="#61299c"/><stop offset="0.3" stop-color="#7a249f"/><stop offset="0.4" stop-color="#9f3394"/><stop offset="0.5" stop-color="#c14683"/><stop offset="0.6" stop-color="#db616e"/><stop offset="0.7" stop-color="#e9815a"/><stop offset="0.8" stop-color="#f09b48"/><stop offset="0.9" stop-color="#f4bb3c"/><stop offset="1" stop-color="#f2e63a"/></linearGradient><linearGradient id="f4" x1="0" x2="1" y1="0" y2="0"><stop offset="0" stop-color="#3b4cc0"/><stop offset="0.5" stop-color="#ffffff"/><stop offset="1" stop-color="#e0301e"/></linearGradient><linearGradient id="gr1" x1="0" x2="1" y1="0" y2="0"><stop offset="0" stop-color="#ffffff"/><stop offset="1" stop-color="#000000"/></linearGradient><linearGradient id="f5" x1="0" x2="1" y1="0" y2="0"><stop offset="0" stop-color="#3b4cc0"/><stop offset="0.5" stop-color="#ffffff"/><stop offset="1" stop-color="#e0301e"/></linearGradient></defs><text x="5.6" y="180.35" font-size="9.5" fill="#111" transform="rotate(90 5.6 180.35)" text-anchor="middle">1</text><text x="5.6" y="284.5" font-size="9.5" fill="#111" transform="rotate(90 5.6 284.5)" text-anchor="middle">2</text><text x="5.6" y="316.9" font-size="9.5" fill="#111" transform="rotate(90 5.6 316.9)" text-anchor="middle">3</text><text x="5.6" y="347.05" font-size="9.5" fill="#111" transform="rotate(90 5.6 347.05)" text-anchor="middle">4</text><text x="5.6" y="375.8" font-size="9.5" fill="#111" transform="rotate(90 5.6 375.8)" text-anchor="middle">5</text><text x="5.6" y="431.35" font-size="9.5" fill="#111" transform="rotate(90 5.6 431.35)" text-anchor="middle">6</text><text x="5.6" y="493.85" font-size="9.5" fill="#111" transform="rotate(90 5.6 493.85)" text-anchor="middle">7</text><text x="5.6" y="528.4" font-size="9.5" fill="#111" transform="rotate(90 5.6 528.4)" text-anchor="middle">8</text><text x="5.6" y="565.45" font-size="9.5" fill="#111" transform="rotate(90 5.6 565.45)" text-anchor="middle">9</text><rect class="b" x="35.5" y="96.2" width="26.3" height="168.3"/><g clip-path="url(#c1)"><polygon points="46.31,96.2 50.99,96.2 50.09,264.5 47.21,264.5" fill="url(#g1)" filter="url(#b1_5)"/></g><g clip-path="url(#c2)"><polygon points="47.75,96.2 49.55,96.2 49.25,264.5 48.05,264.5" fill="url(#g2)" filter="url(#b0_5)"/></g><rect class="b" x="35.5" y="268.1" width="26.3" height="32.8"/><g clip-path="url(#c3)"><polygon points="45.53,268.1 51.77,268.1 50.33,300.9 46.97,300.9" fill="url(#g3)" filter="url(#b1_5)"/></g><g clip-path="url(#c4)"><polygon points="47.45,268.1 49.85,268.1 49.35,300.9 47.95,300.9" fill="url(#g4)" filter="url(#b0_5)"/></g><rect class="b" x="35.5" y="305.2" width="26.3" height="23.4"/><g clip-path="url(#c5)"><polygon points="45.53,305.2 51.77,305.2 50.33,328.6 46.97,328.6" fill="url(#g5)" filter="url(#b1_5)"/></g><g clip-path="url(#c6)"><polygon points="47.45,305.2 49.85,305.2 49.35,328.6 47.95,328.6" fill="url(#g6)" filter="url(#b0_5)"/></g><rect class="b" x="35.5" y="332.3" width="26.3" height="29.5"/><g clip-path="url(#c7)"><polygon points="45.53,332.3 51.77,332.3 50.33,361.8 46.97,361.8" fill="url(#g7)" filter="url(#b1_5)"/></g><g clip-path="url(#c8)"><polygon points="47.45,332.3 49.85,332.3 49.35,361.8 47.95,361.8" fill="url(#g8)" filter="url(#b0_5)"/></g><rect class="b" x="35.5" y="366.1" width="26.3" height="19.4"/><g clip-path="url(#c9)"><polygon points="45.79,366.1 51.51,366.1 50.33,385.5 46.97,385.5" fill="url(#g9)" filter="url(#b1_5)"/></g><g clip-path="url(#c10)"><polygon points="47.55,366.1 49.75,366.1 49.35,385.5 47.95,385.5" fill="url(#g10)" filter="url(#b0_5)"/></g><rect class="b" x="35.5" y="389.4" width="26.3" height="83.9"/><g clip-path="url(#c11)"><polygon points="46.57,389.4 50.73,389.4 50.09,473.3 47.21,473.3" fill="url(#g11)" filter="url(#b1_5)"/></g><g clip-path="url(#c12)"><polygon points="47.85,389.4 49.45,389.4 49.25,473.3 48.05,473.3" fill="url(#g12)" filter="url(#b0_5)"/></g><rect class="b" x="35.5" y="477.2" width="26.3" height="33.3"/><g clip-path="url(#c13)"><polygon points="46.31,477.2 50.99,477.2 50.09,510.5 47.21,510.5" fill="url(#g13)" filter="url(#b1_5)"/></g><g clip-path="url(#c14)"><polygon points="47.75,477.2 49.55,477.2 49.25,510.5 48.05,510.5" fill="url(#g14)" filter="url(#b0_5)"/></g><rect class="b" x="35.5" y="514.7" width="26.3" height="27.4"/><g clip-path="url(#c15)"><polygon points="46.57,514.7 50.73,514.7 50.09,542.1 47.21,542.1" fill="url(#g15)" filter="url(#b1_5)"/></g><g clip-path="url(#c16)"><polygon points="47.85,514.7 49.45,514.7 49.25,542.1 48.05,542.1" fill="url(#g16)" filter="url(#b0_5)"/></g><rect class="b" x="35.5" y="546.4" width="26.3" height="38.1"/><g clip-path="url(#c17)"><polygon points="45.53,546.4 51.77,546.4 50.33,569.26 46.97,569.26" fill="url(#g17)" filter="url(#b1_5)"/></g><g clip-path="url(#c18)"><polygon points="47.45,546.4 49.85,546.4 49.35,569.26 47.95,569.26" fill="url(#g18)" filter="url(#b0_5)"/></g><rect class="b" x="65.7" y="96.2" width="18.2" height="168.3"/><rect class="b" x="87.2" y="96.2" width="17.8" height="168.3"/><rect class="b" x="108.3" y="96.2" width="17.5" height="168.3"/><rect class="b" x="129.5" y="96.2" width="17.4" height="168.3"/><rect class="b" x="150.5" y="96.2" width="17.8" height="168.3"/><rect class="b" x="171.8" y="96.2" width="17.6" height="168.3"/><rect class="b" x="65.7" y="268.1" width="18.2" height="32.8"/><rect class="b" x="87.2" y="268.1" width="17.8" height="32.8"/><rect class="b" x="108.3" y="268.1" width="17.5" height="32.8"/><rect class="b" x="129.5" y="268.1" width="17.4" height="32.8"/><rect class="b" x="150.5" y="268.1" width="17.8" height="32.8"/><rect class="b" x="171.8" y="268.1" width="17.6" height="32.8"/><rect class="b" x="65.7" y="305.2" width="18.2" height="23.4"/><rect class="b" x="87.2" y="305.2" width="17.8" height="23.4"/><rect class="b" x="108.3" y="305.2" width="17.5" height="23.4"/><rect class="b" x="129.5" y="305.2" width="17.4" height="23.4"/><rect class="b" x="150.5" y="305.2" width="17.8" height="23.4"/><rect class="b" x="171.8" y="305.2" width="17.6" height="23.4"/><rect class="b" x="65.7" y="332.3" width="18.2" height="29.5"/><rect class="b" x="87.2" y="332.3" width="17.8" height="29.5"/><rect class="b" x="108.3" y="332.3" width="17.5" height="29.5"/><rect class="b" x="129.5" y="332.3" width="17.4" height="29.5"/><rect class="b" x="150.5" y="332.3" width="17.8" height="29.5"/><rect class="b" x="171.8" y="332.3" width="17.6" height="29.5"/><rect class="b" x="65.7" y="366.1" width="18.2" height="19.4"/><rect class="b" x="87.2" y="366.1" width="17.8" height="19.4"/><rect class="b" x="108.3" y="366.1" width="17.5" height="19.4"/><rect class="b" x="129.5" y="366.1" width="17.4" height="19.4"/><rect class="b" x="150.5" y="366.1" width="17.8" height="19.4"/><rect class="b" x="171.8" y="366.1" width="17.6" height="19.4"/><rect class="b" x="65.7" y="389.4" width="18.2" height="83.9"/><rect class="b" x="87.2" y="389.4" width="17.8" height="83.9"/><rect class="b" x="108.3" y="389.4" width="17.5" height="83.9"/><rect class="b" x="129.5" y="389.4" width="17.4" height="83.9"/><rect class="b" x="150.5" y="389.4" width="17.8" height="83.9"/><rect class="b" x="171.8" y="389.4" width="17.6" height="83.9"/><rect class="b" x="65.7" y="477.2" width="18.2" height="33.3"/><rect class="b" x="87.2" y="477.2" width="17.8" height="33.3"/><rect class="b" x="108.3" y="477.2" width="17.5" height="33.3"/><rect class="b" x="129.5" y="477.2" width="17.4" height="33.3"/><rect class="b" x="150.5" y="477.2" width="17.8" height="33.3"/><rect class="b" x="171.8" y="477.2" width="17.6" height="33.3"/><rect class="b" x="65.7" y="514.7" width="18.2" height="27.4"/><rect class="b" x="87.2" y="514.7" width="17.8" height="27.4"/><rect class="b" x="108.3" y="514.7" width="17.5" height="27.4"/><rect class="b" x="129.5" y="514.7" width="17.4" height="27.4"/><rect class="b" x="150.5" y="514.7" width="17.8" height="27.4"/><rect class="b" x="171.8" y="514.7" width="17.6" height="27.4"/><rect class="b" x="65.7" y="546.4" width="18.2" height="38.1"/><rect class="b" x="87.2" y="546.4" width="17.8" height="38.1"/><rect class="b" x="108.3" y="546.4" width="17.5" height="38.1"/><rect class="b" x="129.5" y="546.4" width="17.4" height="38.1"/><rect class="b" x="150.5" y="546.4" width="17.8" height="38.1"/><rect class="b" x="171.8" y="546.4" width="17.6" height="38.1"/><rect class="b" x="192.9" y="96.2" width="14.2" height="168.3"/><rect class="b" x="222.2" y="96.2" width="13.9" height="168.3"/><rect class="b" x="251" y="96.2" width="14.3" height="168.3"/><rect class="b" x="192.9" y="268.1" width="14.2" height="32.8"/><rect class="b" x="222.2" y="268.1" width="13.9" height="32.8"/><rect class="b" x="251" y="268.1" width="14.3" height="32.8"/><rect class="b" x="192.9" y="305.2" width="14.2" height="23.4"/><rect class="b" x="222.2" y="305.2" width="13.9" height="23.4"/><rect class="b" x="251" y="305.2" width="14.3" height="23.4"/><rect class="b" x="192.9" y="332.3" width="14.2" height="29.5"/><rect class="b" x="222.2" y="332.3" width="13.9" height="29.5"/><rect class="b" x="251" y="332.3" width="14.3" height="29.5"/><rect class="b" x="192.9" y="366.1" width="14.2" height="19.4"/><rect class="b" x="222.2" y="366.1" width="13.9" height="19.4"/><rect class="b" x="251" y="366.1" width="14.3" height="19.4"/><rect class="b" x="192.9" y="389.4" width="14.2" height="83.9"/><rect class="b" x="222.2" y="389.4" width="13.9" height="83.9"/><rect class="b" x="251" y="389.4" width="14.3" height="83.9"/><rect class="b" x="192.9" y="477.2" width="14.2" height="33.3"/><rect class="b" x="222.2" y="477.2" width="13.9" height="33.3"/><rect class="b" x="251" y="477.2" width="14.3" height="33.3"/><rect class="b" x="192.9" y="514.7" width="14.2" height="27.4"/><rect class="b" x="222.2" y="514.7" width="13.9" height="27.4"/><rect class="b" x="251" y="514.7" width="14.3" height="27.4"/><rect class="b" x="192.9" y="546.4" width="14.2" height="38.1"/><rect class="b" x="222.2" y="546.4" width="13.9" height="38.1"/><rect class="b" x="251" y="546.4" width="14.3" height="38.1"/><rect class="b" x="284.8" y="96.2" width="27.3" height="168.3"/><g clip-path="url(#c19)"><polygon points="293.85,96.2 303.05,96.2 300.21,264.5 296.69,264.5" fill="url(#g19)" filter="url(#b1_5)"/></g><g clip-path="url(#c20)"><polygon points="296.15,96.2 300.75,96.2 299.25,264.5 297.65,264.5" fill="url(#g20)" filter="url(#b0_5)"/></g><rect class="b" x="284.8" y="268.1" width="27.3" height="32.8"/><g clip-path="url(#c21)"><polygon points="296.25,268.1 300.65,268.1 299.77,295.98 297.13,295.98" fill="url(#g21)" filter="url(#b1_5)"/></g><g clip-path="url(#c22)"><polygon points="297.35,268.1 299.55,268.1 299.05,295.98 297.85,295.98" fill="url(#g22)" filter="url(#b0_5)"/></g><rect class="b" x="284.8" y="305.2" width="27.3" height="23.4"/><g clip-path="url(#c23)"><polygon points="296.25,305.2 300.65,305.2 299.77,322.75 297.13,322.75" fill="url(#g23)" filter="url(#b1_5)"/></g><g clip-path="url(#c24)"><polygon points="297.35,305.2 299.55,305.2 299.05,322.75 297.85,322.75" fill="url(#g24)" filter="url(#b0_5)"/></g><rect class="b" x="284.8" y="332.3" width="27.3" height="29.5"/><g clip-path="url(#c25)"><polygon points="296.25,332.3 300.65,332.3 299.77,355.9 297.13,355.9" fill="url(#g25)" filter="url(#b1_5)"/></g><g clip-path="url(#c26)"><polygon points="297.35,332.3 299.55,332.3 299.05,355.9 297.85,355.9" fill="url(#g26)" filter="url(#b0_5)"/></g><rect class="b" x="284.8" y="366.1" width="27.3" height="19.4"/><g clip-path="url(#c27)"><polygon points="296.25,366.1 300.65,366.1 299.77,380.65 297.13,380.65" fill="url(#g27)" filter="url(#b1_5)"/></g><g clip-path="url(#c28)"><polygon points="297.35,366.1 299.55,366.1 299.05,380.65 297.85,380.65" fill="url(#g28)" filter="url(#b0_5)"/></g><rect class="b" x="284.8" y="389.4" width="27.3" height="83.9"/><g clip-path="url(#c29)"><polygon points="296.95,389.4 299.95,389.4 299.95,473.3 296.95,473.3" fill="url(#g29)" filter="url(#b1_0)"/></g><rect class="b" x="284.8" y="477.2" width="27.3" height="33.3"/><g clip-path="url(#c30)"><polygon points="296.95,477.2 299.95,477.2 299.95,510.5 296.95,510.5" fill="url(#g30)" filter="url(#b1_0)"/></g><rect class="b" x="284.8" y="514.7" width="27.3" height="27.4"/><g clip-path="url(#c31)"><polygon points="296.95,514.7 299.95,514.7 299.95,542.1 296.95,542.1" fill="url(#g31)" filter="url(#b1_0)"/></g><rect class="b" x="284.8" y="546.4" width="27.3" height="38.1"/><g clip-path="url(#c32)"><polygon points="295.45,546.4 301.45,546.4 300.65,550.21 296.25,550.21" fill="url(#g32)" filter="url(#b1_5)"/></g><g clip-path="url(#c33)"><polygon points="296.95,546.4 299.95,546.4 299.45,550.21 297.45,550.21" fill="url(#g33)" filter="url(#b0_5)"/></g><rect x="321" y="96.2" width="27.8" height="168.3" filter="url(#nz)"/><rect class="b" x="321" y="96.2" width="27.8" height="168.3"/><g clip-path="url(#c34)"><polygon points="330.9,96.2 338.9,96.2 337.4,264.5 332.4,264.5" fill="url(#g34)" filter="url(#b1_5)"/></g><g clip-path="url(#c35)"><polygon points="333,96.2 336.8,96.2 336.1,264.5 333.7,264.5" fill="url(#g35)" filter="url(#b0_9)"/></g><rect x="352.2" y="96.2" width="27.8" height="168.3" filter="url(#nz)"/><rect class="b" x="352.2" y="96.2" width="27.8" height="168.3"/><g clip-path="url(#c36)"><polygon points="361.54,96.2 369.54,96.2 368.04,264.5 363.04,264.5" fill="url(#g36)" filter="url(#b1_5)"/></g><g clip-path="url(#c37)"><polygon points="363.64,96.2 367.44,96.2 366.74,264.5 364.34,264.5" fill="url(#g37)" filter="url(#b0_9)"/></g><rect x="321" y="268.1" width="27.8" height="32.8" filter="url(#nz)"/><rect class="b" x="321" y="268.1" width="27.8" height="32.8"/><g clip-path="url(#c38)"><polygon points="330.4,268.1 339.4,268.1 337.4,300.9 332.4,300.9" fill="url(#g38)" filter="url(#b1_5)"/></g><g clip-path="url(#c39)"><polygon points="332.4,268.1 337.4,268.1 336.4,300.9 333.4,300.9" fill="url(#g39)" filter="url(#b1_0)"/></g><rect x="352.2" y="268.1" width="27.8" height="32.8" filter="url(#nz)"/><rect class="b" x="352.2" y="268.1" width="27.8" height="32.8"/><g clip-path="url(#c40)"><polygon points="361.04,268.1 370.04,268.1 368.04,300.9 363.04,300.9" fill="url(#g40)" filter="url(#b1_5)"/></g><g clip-path="url(#c41)"><polygon points="363.04,268.1 368.04,268.1 367.04,300.9 364.04,300.9" fill="url(#g41)" filter="url(#b1_0)"/></g><rect x="321" y="305.2" width="27.8" height="23.4" filter="url(#nz)"/><rect class="b" x="321" y="305.2" width="27.8" height="23.4"/><g clip-path="url(#c42)"><polygon points="330.4,305.2 339.4,305.2 337.4,328.6 332.4,328.6" fill="url(#g42)" filter="url(#b1_5)"/></g><g clip-path="url(#c43)"><polygon points="332.4,305.2 337.4,305.2 336.4,328.6 333.4,328.6" fill="url(#g43)" filter="url(#b1_0)"/></g><rect x="352.2" y="305.2" width="27.8" height="23.4" filter="url(#nz)"/><rect class="b" x="352.2" y="305.2" width="27.8" height="23.4"/><g clip-path="url(#c44)"><polygon points="361.04,305.2 370.04,305.2 368.04,328.6 363.04,328.6" fill="url(#g44)" filter="url(#b1_5)"/></g><g clip-path="url(#c45)"><polygon points="363.04,305.2 368.04,305.2 367.04,328.6 364.04,328.6" fill="url(#g45)" filter="url(#b1_0)"/></g><rect x="321" y="332.3" width="27.8" height="29.5" filter="url(#nz)"/><rect class="b" x="321" y="332.3" width="27.8" height="29.5"/><g clip-path="url(#c46)"><polygon points="330.4,332.3 339.4,332.3 337.4,361.8 332.4,361.8" fill="url(#g46)" filter="url(#b1_5)"/></g><g clip-path="url(#c47)"><polygon points="332.4,332.3 337.4,332.3 336.4,361.8 333.4,361.8" fill="url(#g47)" filter="url(#b1_0)"/></g><rect x="352.2" y="332.3" width="27.8" height="29.5" filter="url(#nz)"/><rect class="b" x="352.2" y="332.3" width="27.8" height="29.5"/><g clip-path="url(#c48)"><polygon points="361.04,332.3 370.04,332.3 368.04,361.8 363.04,361.8" fill="url(#g48)" filter="url(#b1_5)"/></g><g clip-path="url(#c49)"><polygon points="363.04,332.3 368.04,332.3 367.04,361.8 364.04,361.8" fill="url(#g49)" filter="url(#b1_0)"/></g><rect x="321" y="366.1" width="27.8" height="19.4" filter="url(#nz)"/><rect class="b" x="321" y="366.1" width="27.8" height="19.4"/><g clip-path="url(#c50)"><polygon points="330.4,366.1 339.4,366.1 337.4,385.5 332.4,385.5" fill="url(#g50)" filter="url(#b1_5)"/></g><g clip-path="url(#c51)"><polygon points="332.4,366.1 337.4,366.1 336.4,385.5 333.4,385.5" fill="url(#g51)" filter="url(#b1_0)"/></g><rect x="352.2" y="366.1" width="27.8" height="19.4" filter="url(#nz)"/><rect class="b" x="352.2" y="366.1" width="27.8" height="19.4"/><g clip-path="url(#c52)"><polygon points="361.04,366.1 370.04,366.1 368.04,385.5 363.04,385.5" fill="url(#g52)" filter="url(#b1_5)"/></g><g clip-path="url(#c53)"><polygon points="363.04,366.1 368.04,366.1 367.04,385.5 364.04,385.5" fill="url(#g53)" filter="url(#b1_0)"/></g><rect x="321" y="389.4" width="27.8" height="83.9" filter="url(#nz)"/><rect class="b" x="321" y="389.4" width="27.8" height="83.9"/><rect x="352.2" y="389.4" width="27.8" height="83.9" filter="url(#nz)"/><rect class="b" x="352.2" y="389.4" width="27.8" height="83.9"/><rect x="321" y="477.2" width="27.8" height="33.3" filter="url(#nz)"/><rect class="b" x="321" y="477.2" width="27.8" height="33.3"/><g clip-path="url(#c54)"><polygon points="332.9,477.2 336.9,477.2 335.9,490.52 333.9,490.52" fill="url(#g54)" filter="url(#b1_0)"/></g><rect x="352.2" y="477.2" width="27.8" height="33.3" filter="url(#nz)"/><rect class="b" x="352.2" y="477.2" width="27.8" height="33.3"/><g clip-path="url(#c55)"><polygon points="364.1,477.2 368.1,477.2 367.1,490.52 365.1,490.52" fill="url(#g55)" filter="url(#b1_0)"/></g><rect x="321" y="514.7" width="27.8" height="27.4" filter="url(#nz)"/><rect class="b" x="321" y="514.7" width="27.8" height="27.4"/><g clip-path="url(#c56)"><polygon points="332.9,514.7 336.9,514.7 335.9,525.66 333.9,525.66" fill="url(#g56)" filter="url(#b1_0)"/></g><rect x="352.2" y="514.7" width="27.8" height="27.4" filter="url(#nz)"/><rect class="b" x="352.2" y="514.7" width="27.8" height="27.4"/><g clip-path="url(#c57)"><polygon points="364.1,514.7 368.1,514.7 367.1,525.66 365.1,525.66" fill="url(#g57)" filter="url(#b1_0)"/></g><rect x="321" y="546.4" width="27.8" height="38.1" filter="url(#nz)"/><rect class="b" x="321" y="546.4" width="27.8" height="38.1"/><g clip-path="url(#c58)"><polygon points="332.9,546.4 336.9,546.4 335.9,561.64 333.9,561.64" fill="url(#g58)" filter="url(#b1_0)"/></g><rect x="352.2" y="546.4" width="27.8" height="38.1" filter="url(#nz)"/><rect class="b" x="352.2" y="546.4" width="27.8" height="38.1"/><g clip-path="url(#c59)"><polygon points="364.1,546.4 368.1,546.4 367.1,561.64 365.1,561.64" fill="url(#g59)" filter="url(#b1_0)"/></g><rect class="b" x="383" y="96.2" width="13.7" height="168.3"/><rect class="b" x="383" y="268.1" width="13.7" height="32.8"/><rect class="b" x="383" y="305.2" width="13.7" height="23.4"/><rect class="b" x="383" y="332.3" width="13.7" height="29.5"/><rect class="b" x="383" y="366.1" width="13.7" height="19.4"/><rect class="b" x="383" y="389.4" width="13.7" height="83.9"/><rect class="b" x="383" y="477.2" width="13.7" height="33.3"/><rect class="b" x="383" y="514.7" width="13.7" height="27.4"/><rect class="b" x="383" y="546.4" width="13.7" height="38.1"/><rect class="b" x="413.2" y="96.2" width="27" height="168.3"/><g clip-path="url(#c60)"><polygon points="422.3,96.2 431.1,96.2 429.34,264.5 424.06,264.5" fill="url(#g60)" filter="url(#b1_5)"/></g><g clip-path="url(#c61)"><polygon points="424.7,96.2 428.7,96.2 427.9,264.5 425.5,264.5" fill="url(#g61)" filter="url(#b0_6)"/></g><rect x="413.7" y="96.7" width="26" height="167.3" filter="url(#nz2)"/><rect class="b" x="444.1" y="96.2" width="27" height="168.3"/><g clip-path="url(#c62)"><polygon points="454.01,96.2 462.81,96.2 461.05,264.5 455.77,264.5" fill="url(#g62)" filter="url(#b1_5)"/></g><g clip-path="url(#c63)"><polygon points="456.41,96.2 460.41,96.2 459.61,264.5 457.21,264.5" fill="url(#g63)" filter="url(#b0_6)"/></g><rect x="444.6" y="96.7" width="26" height="167.3" filter="url(#nz2)"/><rect class="b" x="413.2" y="268.1" width="27" height="32.8"/><g clip-path="url(#c64)"><polygon points="422.3,268.1 431.1,268.1 429.12,299.26 424.28,299.26" fill="url(#g64)" filter="url(#b1_5)"/></g><g clip-path="url(#c65)"><polygon points="424.7,268.1 428.7,268.1 427.8,299.26 425.6,299.26" fill="url(#g65)" filter="url(#b0_6)"/></g><rect x="413.7" y="268.6" width="26" height="31.8" filter="url(#nz2)"/><rect class="b" x="444.1" y="268.1" width="27" height="32.8"/><g clip-path="url(#c66)"><polygon points="454.01,268.1 462.81,268.1 460.83,299.26 455.99,299.26" fill="url(#g66)" filter="url(#b1_5)"/></g><g clip-path="url(#c67)"><polygon points="456.41,268.1 460.41,268.1 459.51,299.26 457.31,299.26" fill="url(#g67)" filter="url(#b0_6)"/></g><rect x="444.6" y="268.6" width="26" height="31.8" filter="url(#nz2)"/><rect class="b" x="413.2" y="305.2" width="27" height="23.4"/><g clip-path="url(#c68)"><polygon points="422.3,305.2 431.1,305.2 429.12,325.09 424.28,325.09" fill="url(#g68)" filter="url(#b1_5)"/></g><g clip-path="url(#c69)"><polygon points="424.7,305.2 428.7,305.2 427.8,325.09 425.6,325.09" fill="url(#g69)" filter="url(#b0_6)"/></g><rect x="413.7" y="305.7" width="26" height="22.4" filter="url(#nz2)"/><rect class="b" x="444.1" y="305.2" width="27" height="23.4"/><g clip-path="url(#c70)"><polygon points="454.01,305.2 462.81,305.2 460.83,325.09 455.99,325.09" fill="url(#g70)" filter="url(#b1_5)"/></g><g clip-path="url(#c71)"><polygon points="456.41,305.2 460.41,305.2 459.51,325.09 457.31,325.09" fill="url(#g71)" filter="url(#b0_6)"/></g><rect x="444.6" y="305.7" width="26" height="22.4" filter="url(#nz2)"/><rect class="b" x="413.2" y="332.3" width="27" height="29.5"/><g clip-path="url(#c72)"><polygon points="422.3,332.3 431.1,332.3 429.12,360.32 424.28,360.32" fill="url(#g72)" filter="url(#b1_5)"/></g><g clip-path="url(#c73)"><polygon points="424.7,332.3 428.7,332.3 427.8,360.32 425.6,360.32" fill="url(#g73)" filter="url(#b0_6)"/></g><rect x="413.7" y="332.8" width="26" height="28.5" filter="url(#nz2)"/><rect class="b" x="444.1" y="332.3" width="27" height="29.5"/><g clip-path="url(#c74)"><polygon points="454.01,332.3 462.81,332.3 460.83,360.32 455.99,360.32" fill="url(#g74)" filter="url(#b1_5)"/></g><g clip-path="url(#c75)"><polygon points="456.41,332.3 460.41,332.3 459.51,360.32 457.31,360.32" fill="url(#g75)" filter="url(#b0_6)"/></g><rect x="444.6" y="332.8" width="26" height="28.5" filter="url(#nz2)"/><rect class="b" x="413.2" y="366.1" width="27" height="19.4"/><g clip-path="url(#c76)"><polygon points="423.4,366.1 430,366.1 428.68,382.59 424.72,382.59" fill="url(#g76)" filter="url(#b1_5)"/></g><g clip-path="url(#c77)"><polygon points="425.2,366.1 428.2,366.1 427.6,382.59 425.8,382.59" fill="url(#g77)" filter="url(#b0_6)"/></g><rect x="413.7" y="366.6" width="26" height="18.4" filter="url(#nz2)"/><rect class="b" x="444.1" y="366.1" width="27" height="19.4"/><g clip-path="url(#c78)"><polygon points="455.11,366.1 461.71,366.1 460.39,382.59 456.43,382.59" fill="url(#g78)" filter="url(#b1_5)"/></g><g clip-path="url(#c79)"><polygon points="456.91,366.1 459.91,366.1 459.31,382.59 457.51,382.59" fill="url(#g79)" filter="url(#b0_6)"/></g><rect x="444.6" y="366.6" width="26" height="18.4" filter="url(#nz2)"/><rect class="b" x="413.2" y="389.4" width="27" height="83.9"/><rect class="b" x="444.1" y="389.4" width="27" height="83.9"/><rect class="b" x="413.2" y="477.2" width="27" height="33.3"/><rect class="b" x="444.1" y="477.2" width="27" height="33.3"/><rect class="b" x="413.2" y="514.7" width="27" height="27.4"/><rect class="b" x="444.1" y="514.7" width="27" height="27.4"/><rect class="b" x="413.2" y="546.4" width="27" height="38.1"/><g clip-path="url(#c80)"><polygon points="422.3,546.4 431.1,546.4 428.9,555.92 424.5,555.92" fill="url(#g80)" filter="url(#b1_5)"/></g><g clip-path="url(#c81)"><polygon points="424.7,546.4 428.7,546.4 427.7,555.92 425.7,555.92" fill="url(#g81)" filter="url(#b0_6)"/></g><rect class="b" x="444.1" y="546.4" width="27" height="38.1"/><g clip-path="url(#c82)"><polygon points="454.01,546.4 462.81,546.4 460.61,555.92 456.21,555.92" fill="url(#g82)" filter="url(#b1_5)"/></g><g clip-path="url(#c83)"><polygon points="456.41,546.4 460.41,546.4 459.41,555.92 457.41,555.92" fill="url(#g83)" filter="url(#b0_6)"/></g><rect class="b" x="474.3" y="96.2" width="14.1" height="168.3"/><rect class="b" x="474.3" y="268.1" width="14.1" height="32.8"/><rect class="b" x="474.3" y="305.2" width="14.1" height="23.4"/><rect class="b" x="474.3" y="332.3" width="14.1" height="29.5"/><rect class="b" x="474.3" y="366.1" width="14.1" height="19.4"/><rect class="b" x="474.3" y="389.4" width="14.1" height="83.9"/><rect class="b" x="474.3" y="477.2" width="14.1" height="33.3"/><rect class="b" x="474.3" y="514.7" width="14.1" height="27.4"/><rect class="b" x="474.3" y="546.4" width="14.1" height="38.1"/><rect class="b" x="505" y="96.2" width="27.6" height="168.3"/><g clip-path="url(#c84)"><polygon points="517.3,96.2 520.3,96.2 520.3,264.5 517.3,264.5" fill="url(#g84)" filter="url(#b1_0)"/></g><rect class="b" x="536" y="96.2" width="27" height="168.3"/><g clip-path="url(#c85)"><polygon points="548,96.2 551,96.2 551,264.5 548,264.5" fill="url(#g85)" filter="url(#b1_0)"/></g><rect class="b" x="505" y="268.1" width="27.6" height="32.8"/><g clip-path="url(#c86)"><polygon points="505.8,268.1 531.8,268.1 528.8,284.5 508.8,284.5" fill="url(#g86)" filter="url(#b2_0)"/></g><g clip-path="url(#c87)"><polygon points="513.99,268.1 516.99,268.1 516.49,299.26 514.49,299.26" fill="url(#g87)" filter="url(#b1_0)"/></g><g clip-path="url(#c88)"><polygon points="520.61,268.1 523.61,268.1 523.11,299.26 521.11,299.26" fill="url(#g88)" filter="url(#b1_0)"/></g><rect class="b" x="536" y="268.1" width="27" height="32.8"/><g clip-path="url(#c89)"><polygon points="536.5,268.1 562.5,268.1 559.5,284.5 539.5,284.5" fill="url(#g89)" filter="url(#b2_0)"/></g><g clip-path="url(#c90)"><polygon points="544.76,268.1 547.76,268.1 547.26,299.26 545.26,299.26" fill="url(#g90)" filter="url(#b1_0)"/></g><g clip-path="url(#c91)"><polygon points="551.24,268.1 554.24,268.1 553.74,299.26 551.74,299.26" fill="url(#g91)" filter="url(#b1_0)"/></g><rect class="b" x="505" y="305.2" width="27.6" height="23.4"/><g clip-path="url(#c92)"><polygon points="509.8,305.2 527.8,305.2 522.8,326.26 514.8,326.26" fill="url(#g92)" filter="url(#b2_0)"/></g><g clip-path="url(#c93)"><polygon points="512.71,305.2 517.71,305.2 519.72,319.24 516.22,319.24" fill="url(#g93)" filter="url(#b0_9)"/></g><g clip-path="url(#c94)"><polygon points="519.89,305.2 524.89,305.2 521.38,319.24 517.88,319.24" fill="url(#g94)" filter="url(#b0_9)"/></g><g clip-path="url(#c95)"><polygon points="516.8,316.9 520.8,316.9 520.05,328.6 517.55,328.6" fill="url(#g95)" filter="url(#b1_0)"/></g><rect class="b" x="536" y="305.2" width="27" height="23.4"/><g clip-path="url(#c96)"><polygon points="540.5,305.2 558.5,305.2 553.5,326.26 545.5,326.26" fill="url(#g96)" filter="url(#b2_0)"/></g><g clip-path="url(#c97)"><polygon points="543.49,305.2 548.49,305.2 550.44,319.24 546.94,319.24" fill="url(#g97)" filter="url(#b0_9)"/></g><g clip-path="url(#c98)"><polygon points="550.51,305.2 555.51,305.2 552.06,319.24 548.56,319.24" fill="url(#g98)" filter="url(#b0_9)"/></g><g clip-path="url(#c99)"><polygon points="547.5,316.9 551.5,316.9 550.75,328.6 548.25,328.6" fill="url(#g99)" filter="url(#b1_0)"/></g><rect class="b" x="505" y="332.3" width="27.6" height="29.5"/><g clip-path="url(#c100)"><polygon points="507.8,332.3 529.8,332.3 522.8,360.32 514.8,360.32" fill="url(#g100)" filter="url(#b2_0)"/></g><g clip-path="url(#c101)"><polygon points="511.94,332.3 517.94,332.3 520.22,349.41 515.72,349.41" fill="url(#g101)" filter="url(#b1_0)"/></g><g clip-path="url(#c102)"><polygon points="519.66,332.3 525.66,332.3 521.88,349.41 517.38,349.41" fill="url(#g102)" filter="url(#b1_0)"/></g><g clip-path="url(#c103)"><polygon points="515.8,345.57 521.8,345.57 520.3,361.8 517.3,361.8" fill="url(#g103)" filter="url(#b1_2)"/></g><rect class="b" x="536" y="332.3" width="27" height="29.5"/><g clip-path="url(#c104)"><polygon points="538.5,332.3 560.5,332.3 553.5,360.32 545.5,360.32" fill="url(#g104)" filter="url(#b2_0)"/></g><g clip-path="url(#c105)"><polygon points="542.72,332.3 548.72,332.3 550.94,349.41 546.44,349.41" fill="url(#g105)" filter="url(#b1_0)"/></g><g clip-path="url(#c106)"><polygon points="550.28,332.3 556.28,332.3 552.56,349.41 548.06,349.41" fill="url(#g106)" filter="url(#b1_0)"/></g><g clip-path="url(#c107)"><polygon points="546.5,345.57 552.5,345.57 551,361.8 548,361.8" fill="url(#g107)" filter="url(#b1_2)"/></g><rect class="b" x="505" y="366.1" width="27.6" height="19.4"/><rect class="b" x="536" y="366.1" width="27" height="19.4"/><rect class="b" x="505" y="389.4" width="27.6" height="83.9"/><g clip-path="url(#c108)"><polygon points="517.3,389.4 520.3,389.4 520.3,473.3 517.3,473.3" fill="url(#g108)" filter="url(#b1_0)"/></g><rect class="b" x="536" y="389.4" width="27" height="83.9"/><g clip-path="url(#c109)"><polygon points="548,389.4 551,389.4 551,473.3 548,473.3" fill="url(#g109)" filter="url(#b1_0)"/></g><rect class="b" x="505" y="477.2" width="27.6" height="33.3"/><g clip-path="url(#c110)"><polygon points="517.3,477.2 520.3,477.2 520.3,510.5 517.3,510.5" fill="url(#g110)" filter="url(#b1_0)"/></g><rect class="b" x="536" y="477.2" width="27" height="33.3"/><g clip-path="url(#c111)"><polygon points="548,477.2 551,477.2 551,510.5 548,510.5" fill="url(#g111)" filter="url(#b1_0)"/></g><rect class="b" x="505" y="514.7" width="27.6" height="27.4"/><g clip-path="url(#c112)"><polygon points="517.3,514.7 520.3,514.7 520.3,542.1 517.3,542.1" fill="url(#g112)" filter="url(#b1_0)"/></g><rect class="b" x="536" y="514.7" width="27" height="27.4"/><g clip-path="url(#c113)"><polygon points="548,514.7 551,514.7 551,542.1 548,542.1" fill="url(#g113)" filter="url(#b1_0)"/></g><rect class="b" x="505" y="546.4" width="27.6" height="38.1"/><g clip-path="url(#c114)"><polygon points="517.3,546.4 520.3,546.4 520.3,584.5 517.3,584.5" fill="url(#g114)" filter="url(#b1_0)"/></g><rect class="b" x="536" y="546.4" width="27" height="38.1"/><g clip-path="url(#c115)"><polygon points="548,546.4 551,546.4 551,584.5 548,584.5" fill="url(#g115)" filter="url(#b1_0)"/></g><rect class="b" x="566.4" y="96.2" width="13.8" height="168.3"/><rect class="b" x="566.4" y="268.1" width="13.8" height="32.8"/><rect class="b" x="566.4" y="305.2" width="13.8" height="23.4"/><rect class="b" x="566.4" y="332.3" width="13.8" height="29.5"/><rect class="b" x="566.4" y="366.1" width="13.8" height="19.4"/><rect class="b" x="566.4" y="389.4" width="13.8" height="83.9"/><rect class="b" x="566.4" y="477.2" width="13.8" height="33.3"/><rect class="b" x="566.4" y="514.7" width="13.8" height="27.4"/><rect class="b" x="566.4" y="546.4" width="13.8" height="38.1"/><rect class="b" x="596.1" y="96.2" width="26.6" height="168.3"/><rect class="b" x="626.1" y="96.2" width="26.6" height="168.3"/><rect class="b" x="596.1" y="268.1" width="26.6" height="32.8"/><rect class="b" x="626.1" y="268.1" width="26.6" height="32.8"/><rect class="b" x="596.1" y="305.2" width="26.6" height="23.4"/><rect class="b" x="626.1" y="305.2" width="26.6" height="23.4"/><rect class="b" x="596.1" y="332.3" width="26.6" height="29.5"/><rect class="b" x="626.1" y="332.3" width="26.6" height="29.5"/><rect class="b" x="596.1" y="366.1" width="26.6" height="19.4"/><rect class="b" x="626.1" y="366.1" width="26.6" height="19.4"/><rect class="b" x="596.1" y="389.4" width="26.6" height="83.9"/><rect class="b" x="626.1" y="389.4" width="26.6" height="83.9"/><rect class="b" x="596.1" y="477.2" width="26.6" height="33.3"/><rect class="b" x="626.1" y="477.2" width="26.6" height="33.3"/><rect class="b" x="596.1" y="514.7" width="26.6" height="27.4"/><rect class="b" x="626.1" y="514.7" width="26.6" height="27.4"/><rect class="b" x="596.1" y="546.4" width="26.6" height="38.1"/><rect class="b" x="626.1" y="546.4" width="26.6" height="38.1"/><rect class="b" x="656.4" y="96.2" width="13.7" height="168.3"/><rect class="b" x="656.4" y="268.1" width="13.7" height="32.8"/><rect class="b" x="656.4" y="305.2" width="13.7" height="23.4"/><rect class="b" x="656.4" y="332.3" width="13.7" height="29.5"/><rect class="b" x="656.4" y="366.1" width="13.7" height="19.4"/><rect class="b" x="656.4" y="389.4" width="13.7" height="83.9"/><rect class="b" x="656.4" y="477.2" width="13.7" height="33.3"/><rect class="b" x="656.4" y="514.7" width="13.7" height="27.4"/><rect class="b" x="656.4" y="546.4" width="13.7" height="38.1"/><text x="-0.5" y="11.7" font-size="16.3" font-weight="bold" fill="#111" text-anchor="start">A</text><text x="163.5" y="17.6" font-size="9.3" font-weight="bold" fill="#111" text-anchor="middle">RNA expression</text><line x1="72.8" y1="20.9" x2="258.4" y2="20.9" stroke="#444" stroke-width="0.8"/><text x="358.6" y="17.6" font-size="9.3" font-weight="bold" fill="#111" text-anchor="middle">H3K36me2</text><line x1="321.9" y1="20.9" x2="394.9" y2="20.9" stroke="#444" stroke-width="0.8"/><text x="451.8" y="17.6" font-size="9.3" font-weight="bold" fill="#111" text-anchor="middle">H3K4me3</text><line x1="413.9" y1="20.9" x2="489.8" y2="20.9" stroke="#444" stroke-width="0.8"/><text x="544.5" y="17.6" font-size="9.3" font-weight="bold" fill="#111" text-anchor="middle">H3K27me3</text><line x1="508.4" y1="20.9" x2="579.9" y2="20.9" stroke="#444" stroke-width="0.8"/><text x="637" y="17.6" font-size="9.3" font-weight="bold" fill="#111" text-anchor="middle">DNA methylation</text><line x1="601.8" y1="20.9" x2="671.9" y2="20.9" stroke="#444" stroke-width="0.8"/><text x="50.6" y="95" font-size="9.4" font-weight="bold" fill="#111" text-anchor="start" transform="rotate(-90 50.6 95)">CpG</text><text x="79.3" y="95" font-size="9.4" font-weight="bold" fill="#111" text-anchor="start" transform="rotate(-90 79.3 95)">SgU Ctrl</text><text x="100" y="95" font-size="9.4" font-weight="bold" fill="#111" text-anchor="start" transform="rotate(-90 100 95)">SgU iKO</text><text x="121.2" y="95" font-size="9.4" font-weight="bold" fill="#111" text-anchor="start" transform="rotate(-90 121.2 95)">SgD Ctrl</text><text x="141.8" y="95" font-size="9.4" font-weight="bold" fill="#111" text-anchor="start" transform="rotate(-90 141.8 95)">SgD iKO</text><text x="163" y="95" font-size="9.4" font-weight="bold" fill="#111" text-anchor="start" transform="rotate(-90 163 95)">ScLZ Ctrl</text><text x="183.7" y="95" font-size="9.4" font-weight="bold" fill="#111" text-anchor="start" transform="rotate(-90 183.7 95)">ScLZ iKO</text><text x="203.1" y="95" font-size="9.4" font-weight="bold" fill="#111" text-anchor="start" transform="rotate(-90 203.1 95)">SgU iKO / Ctrl</text><text x="232.6" y="95" font-size="9.4" font-weight="bold" fill="#111" text-anchor="start" transform="rotate(-90 232.6 95)">SgD iKO / Ctrl</text><text x="261" y="95" font-size="9.4" font-weight="bold" fill="#111" text-anchor="start" transform="rotate(-90 261 95)">ScLZ iKO / Ctrl</text><text x="301.6" y="95" font-size="9.4" font-weight="bold" fill="#111" text-anchor="start" transform="rotate(-90 301.6 95)">KDM2A /Input</text><text x="336.2" y="95" font-size="9.4" font-weight="bold" fill="#111" text-anchor="start" transform="rotate(-90 336.2 95)">SgD Ctrl</text><text x="367.6" y="95" font-size="9.4" font-weight="bold" fill="#111" text-anchor="start" transform="rotate(-90 367.6 95)">SgD iKO</text><text x="393.1" y="95" font-size="9.4" font-weight="bold" fill="#111" text-anchor="start" transform="rotate(-90 393.1 95)">SgD iKO / Ctrl</text><text x="428.3" y="95" font-size="9.4" font-weight="bold" fill="#111" text-anchor="start" transform="rotate(-90 428.3 95)">SgD Ctrl</text><text x="458.2" y="95" font-size="9.4" font-weight="bold" fill="#111" text-anchor="start" transform="rotate(-90 458.2 95)">SgD iKO</text><text x="482.6" y="95" font-size="9.4" font-weight="bold" fill="#111" text-anchor="start" transform="rotate(-90 482.6 95)">SgD iKO / Ctrl</text><text x="521.9" y="95" font-size="9.4" font-weight="bold" fill="#111" text-anchor="start" transform="rotate(-90 521.9 95)">SgD Ctrl</text><text x="551.1" y="95" font-size="9.4" font-weight="bold" fill="#111" text-anchor="start" transform="rotate(-90 551.1 95)">SgD iKO</text><text x="576.4" y="95" font-size="9.4" font-weight="bold" fill="#111" text-anchor="start" transform="rotate(-90 576.4 95)">SgD iKO / Ctrl</text><text x="611.3" y="95" font-size="9.4" font-weight="bold" fill="#111" text-anchor="start" transform="rotate(-90 611.3 95)">SgD Ctrl</text><text x="640.5" y="95" font-size="9.4" font-weight="bold" fill="#111" text-anchor="start" transform="rotate(-90 640.5 95)">SgD iKO</text><text x="664.6" y="95" font-size="9.4" font-weight="bold" fill="#111" text-anchor="start" transform="rotate(-90 664.6 95)">SgD iKO - Ctrl</text><text x="5.8" y="608.7" font-size="7.0" fill="#222" text-anchor="start">Cluster</text><rect x="5.8" y="611.5" width="6.5" height="6.3" fill="#8b8178"/><text x="13.8" y="617.7" font-size="6.9" fill="#222" text-anchor="start">9002</text><rect x="5.8" y="619.13" width="6.5" height="6.3" fill="#8dc63f"/><text x="13.8" y="625.33" font-size="6.9" fill="#222" text-anchor="start">1775</text><rect x="5.8" y="626.76" width="6.5" height="6.3" fill="#f4a02c"/><text x="13.8" y="632.96" font-size="6.9" fill="#222" text-anchor="start">1254</text><rect x="5.8" y="634.39" width="6.5" height="6.3" fill="#e6e12e"/><text x="13.8" y="640.59" font-size="6.9" fill="#222" text-anchor="start">1596</text><rect x="5.8" y="642.02" width="6.5" height="6.3" fill="#a51f2a"/><text x="13.8" y="648.22" font-size="6.9" fill="#222" text-anchor="start">1047</text><rect x="5.8" y="649.65" width="6.5" height="6.3" fill="#6b61af"/><text x="13.8" y="655.85" font-size="6.9" fill="#222" text-anchor="start">4506</text><rect x="5.8" y="657.28" width="6.5" height="6.3" fill="#5bc7d4"/><text x="13.8" y="663.48" font-size="6.9" fill="#222" text-anchor="start">1806</text><rect x="5.8" y="664.91" width="6.5" height="6.3" fill="#4e6430"/><text x="13.8" y="671.11" font-size="6.9" fill="#222" text-anchor="start">1493</text><rect x="5.8" y="672.54" width="6.5" height="6.3" fill="#e42d8e"/><text x="13.8" y="678.74" font-size="6.9" fill="#222" text-anchor="start">2049</text><rect x="39.9" y="592.6" width="28" height="6.2" fill="url(#vir)"/><text x="41.4" y="605.7" font-size="6.8" fill="#222" text-anchor="middle">0</text><text x="49.8" y="605.7" font-size="6.8" fill="#222" text-anchor="middle">1</text><text x="58.2" y="605.7" font-size="6.8" fill="#222" text-anchor="middle">2</text><text x="66.6" y="605.7" font-size="6.8" fill="#222" text-anchor="middle">3</text><text x="38" y="613.2" font-size="6.9" fill="#222" text-anchor="start">CpG / 10bp</text><text x="38.6" y="624.4" font-size="7.0" fill="#222" text-anchor="start">Promoter type</text><rect x="38.6" y="628" width="6.7" height="6.8" fill="#5dbb46"/><rect x="38.6" y="635.3" width="6.7" height="6.7" fill="#f8d21c"/><text x="46.8" y="634.2" font-size="7.0" fill="#222" text-anchor="start">CGI</text><text x="46.8" y="641.6" font-size="7.0" fill="#222" text-anchor="start">non-CGI</text><text x="37.8" y="653.5" font-size="7.0" fill="#222" text-anchor="start">Sex Chromosome</text><text x="37.8" y="662.2" font-size="7.0" fill="#222" text-anchor="start">linked gene</text><rect x="37.8" y="665.5" width="6.4" height="6.2" fill="#000"/><rect x="38.1" y="674.6" width="5.9" height="6" fill="#fff" stroke="#999" stroke-width="0.6"/><text x="45.6" y="671.6" font-size="7.0" fill="#222" text-anchor="start">Yes</text><text x="45.6" y="680.6" font-size="7.0" fill="#222" text-anchor="start">No</text><text x="101.2" y="649.3" font-size="7.2" fill="#222" text-anchor="start">Significant Change</text><rect x="101.5" y="653.2" width="6.3" height="6.6" fill="#3b3fa8"/><text x="108.6" y="659.5" font-size="7.0" fill="#222" text-anchor="start">DOWN</text><rect x="101.8" y="661.2" width="5.8" height="6.1" fill="#fff" stroke="#999" stroke-width="0.6"/><text x="108.6" y="667.2" font-size="7.0" fill="#222" text-anchor="start">N.S.</text><rect x="101.5" y="668.6" width="6.3" height="6.6" fill="#e02020"/><text x="108.6" y="674.9" font-size="7.0" fill="#222" text-anchor="start">UP</text><rect x="101.5" y="676.3" width="6.3" height="6.6" fill="#a6d38c"/><text x="108.6" y="682.6" font-size="7.0" fill="#222" text-anchor="start">N/A</text><rect x="115.8" y="592" width="27.1" height="5.6" fill="url(#p1)"/><text x="117" y="603.5" font-size="6.6" fill="#222" text-anchor="middle">0</text><text x="129.2" y="603.5" font-size="6.6" fill="#222" text-anchor="middle">5</text><text x="141.3" y="603.5" font-size="6.6" fill="#222" text-anchor="middle">10</text><text x="129.6" y="611.8" font-size="6.9" fill="#222" text-anchor="middle">log<tspan font-size="4.6" dy="1.2">2</tspan><tspan dy="-1.2"> </tspan>RPKM</text><rect x="218" y="592" width="26.5" height="5.6" fill="url(#f1)"/><text x="218.8" y="603.5" font-size="6.6" fill="#222" text-anchor="middle">-1</text><text x="231.3" y="603.5" font-size="6.6" fill="#222" text-anchor="middle">0</text><text x="243.3" y="603.5" font-size="6.6" fill="#222" text-anchor="middle">1</text><text x="231.6" y="611.8" font-size="6.9" fill="#222" text-anchor="middle">log<tspan font-size="4.6" dy="1.2">2</tspan><tspan dy="-1.2"> </tspan>FC</text><rect x="285.2" y="592" width="26.3" height="5.6" fill="url(#p2)"/><text x="284.3" y="603.5" font-size="6.6" fill="#222" text-anchor="middle">-0.05</text><text x="307.5" y="603.5" font-size="6.6" fill="#222" text-anchor="middle">0.45</text><text x="297.6" y="611.8" font-size="6.9" fill="#222" text-anchor="middle">log<tspan font-size="4.6" dy="1.2">2</tspan><tspan dy="-1.2"> </tspan>RPKM</text><rect x="337.8" y="592" width="27.2" height="5.6" fill="url(#p3)"/><text x="339" y="603.5" font-size="6.6" fill="#222" text-anchor="middle">0</text><text x="362" y="603.5" font-size="6.6" fill="#222" text-anchor="middle">0.06</text><text x="351.4" y="611.8" font-size="6.9" fill="#222" text-anchor="middle">log<tspan font-size="4.6" dy="1.2">2</tspan><tspan dy="-1.2"> </tspan>RPKM</text><rect x="380" y="592" width="25.8" height="5.6" fill="url(#f2)"/><text x="380.8" y="603.5" font-size="6.6" fill="#222" text-anchor="middle">-1</text><text x="393" y="603.5" font-size="6.6" fill="#222" text-anchor="middle">0</text><text x="405" y="603.5" font-size="6.6" fill="#222" text-anchor="middle">1</text><text x="393" y="611.8" font-size="6.9" fill="#222" text-anchor="middle">log<tspan font-size="4.6" dy="1.2">2</tspan><tspan dy="-1.2"> </tspan>FC</text><rect x="429.7" y="592" width="27.8" height="5.6" fill="url(#p4)"/><text x="431" y="603.5" font-size="6.6" fill="#222" text-anchor="middle">0</text><text x="455" y="603.5" font-size="6.6" fill="#222" text-anchor="middle">0.4</text><text x="444" y="611.8" font-size="6.9" fill="#222" text-anchor="middle">log<tspan font-size="4.6" dy="1.2">2</tspan><tspan dy="-1.2"> </tspan>RPKM</text><rect x="470.8" y="592" width="26" height="5.6" fill="url(#f3)"/><text x="471.6" y="603.5" font-size="6.6" fill="#222" text-anchor="middle">-1</text><text x="483.8" y="603.5" font-size="6.6" fill="#222" text-anchor="middle">0</text><text x="495.8" y="603.5" font-size="6.6" fill="#222" text-anchor="middle">1</text><text x="484.5" y="611.8" font-size="6.9" fill="#222" text-anchor="middle">log<tspan font-size="4.6" dy="1.2">2</tspan><tspan dy="-1.2"> </tspan>FC</text><rect x="523.4" y="592" width="26" height="5.6" fill="url(#p5)"/><text x="524.8" y="603.5" font-size="6.6" fill="#222" text-anchor="middle">0</text><text x="546.5" y="603.5" font-size="6.6" fill="#222" text-anchor="middle">0.25</text><text x="538" y="611.8" font-size="6.9" fill="#222" text-anchor="middle">log<tspan font-size="4.6" dy="1.2">2</tspan><tspan dy="-1.2"> </tspan>RPKM</text><rect x="563.5" y="592" width="24.5" height="5.6" fill="url(#f4)"/><text x="564.3" y="603.5" font-size="6.6" fill="#222" text-anchor="middle">-1</text><text x="576" y="603.5" font-size="6.6" fill="#222" text-anchor="middle">0</text><text x="587.5" y="603.5" font-size="6.6" fill="#222" text-anchor="middle">1</text><text x="577" y="611.8" font-size="6.9" fill="#222" text-anchor="middle">log<tspan font-size="4.6" dy="1.2">2</tspan><tspan dy="-1.2"> </tspan>FC</text><rect x="614.4" y="592" width="25.6" height="5.6" fill="url(#gr1)"/><text x="615.5" y="603.5" font-size="6.6" fill="#222" text-anchor="middle">0</text><text x="638" y="603.5" font-size="6.6" fill="#222" text-anchor="middle">20</text><rect x="650.5" y="592" width="25.3" height="5.6" fill="url(#f5)"/><text x="650.5" y="603.5" font-size="6.6" fill="#222" text-anchor="middle">-20</text><text x="663" y="603.5" font-size="6.6" fill="#222" text-anchor="middle">0</text><text x="675" y="603.5" font-size="6.6" fill="#222" text-anchor="middle">20</text><text x="646.5" y="611.5" font-size="7.0" fill="#222" text-anchor="middle">Percentage %</text><text x="4.5" y="713.3" font-size="15.5" font-weight="bold" fill="#111" text-anchor="start">B</text><text x="72.8" y="720" font-size="9.3" font-weight="bold" fill="#111" text-anchor="middle">RNA expression</text><rect x="19.2" y="723.8" width="110.4" height="157.2" fill="#fff" stroke="#b8b8b8" stroke-width="0.7"/><line x1="19.2" y1="730.6" x2="129.6" y2="730.6" stroke="#ececec" stroke-width="0.5"/><line x1="19.2" y1="754.5" x2="129.6" y2="754.5" stroke="#ececec" stroke-width="0.5"/><line x1="19.2" y1="778.5" x2="129.6" y2="778.5" stroke="#ececec" stroke-width="0.5"/><line x1="19.2" y1="802.4" x2="129.6" y2="802.4" stroke="#ececec" stroke-width="0.5"/><line x1="19.2" y1="826.4" x2="129.6" y2="826.4" stroke="#ececec" stroke-width="0.5"/><line x1="19.2" y1="850.3" x2="129.6" y2="850.3" stroke="#ececec" stroke-width="0.5"/><line x1="19.2" y1="874.2" x2="129.6" y2="874.2" stroke="#ececec" stroke-width="0.5"/><line x1="26.5" y1="723.8" x2="26.5" y2="881" stroke="#ececec" stroke-width="0.5"/><line x1="38.4" y1="723.8" x2="38.4" y2="881" stroke="#ececec" stroke-width="0.5"/><line x1="50.5" y1="723.8" x2="50.5" y2="881" stroke="#ececec" stroke-width="0.5"/><line x1="62.5" y1="723.8" x2="62.5" y2="881" stroke="#ececec" stroke-width="0.5"/><line x1="74.4" y1="723.8" x2="74.4" y2="881" stroke="#ececec" stroke-width="0.5"/><line x1="86.3" y1="723.8" x2="86.3" y2="881" stroke="#ececec" stroke-width="0.5"/><line x1="98.4" y1="723.8" x2="98.4" y2="881" stroke="#ececec" stroke-width="0.5"/><line x1="110.3" y1="723.8" x2="110.3" y2="881" stroke="#ececec" stroke-width="0.5"/><line x1="122.3" y1="723.8" x2="122.3" y2="881" stroke="#ececec" stroke-width="0.5"/><text x="17.5" y="756" font-size="4.2" fill="#777" text-anchor="end">2</text><line x1="17.7" y1="754.5" x2="19.2" y2="754.5" stroke="#777" stroke-width="0.4"/><text x="17.5" y="803.9" font-size="4.2" fill="#777" text-anchor="end">0</text><line x1="17.7" y1="802.4" x2="19.2" y2="802.4" stroke="#777" stroke-width="0.4"/><text x="17.5" y="851.8" font-size="4.2" fill="#777" text-anchor="end">-2</text><line x1="17.7" y1="850.3" x2="19.2" y2="850.3" stroke="#777" stroke-width="0.4"/><path d="M23.5 753.8V869.8" stroke="#b8b8b8" stroke-width="0.5" stroke-dasharray="0.5 2.2"/><path d="M26.5 754.2V847.6" stroke="#a0a0a0" stroke-width="0.5" stroke-dasharray="0.5 2.2"/><path d="M29.5 753.5V857.9" stroke="#909090" stroke-width="0.5" stroke-dasharray="0.5 2.2"/><path d="M35.4 732.7V867.8" stroke="#b8b8b8" stroke-width="0.5" stroke-dasharray="0.5 2.2"/><path d="M38.4 745.5V864.1" stroke="#a0a0a0" stroke-width="0.5" stroke-dasharray="0.5 2.2"/><path d="M41.4 742.7V866.8" stroke="#909090" stroke-width="0.5" stroke-dasharray="0.5 2.2"/><path d="M47.5 745.3V847.9" stroke="#b8b8b8" stroke-width="0.5" stroke-dasharray="0.5 2.2"/><path d="M50.5 732V842" stroke="#a0a0a0" stroke-width="0.5" stroke-dasharray="0.5 2.2"/><path d="M53.5 734.5V846.5" stroke="#909090" stroke-width="0.5" stroke-dasharray="0.5 2.2"/><path d="M59.5 736.6V867" stroke="#b8b8b8" stroke-width="0.5" stroke-dasharray="0.5 2.2"/><path d="M62.5 759.8V842.7" stroke="#a0a0a0" stroke-width="0.5" stroke-dasharray="0.5 2.2"/><path d="M65.5 748.2V850.1" stroke="#909090" stroke-width="0.5" stroke-dasharray="0.5 2.2"/><path d="M71.4 737.8V872.6" stroke="#b8b8b8" stroke-width="0.5" stroke-dasharray="0.5 2.2"/><path d="M74.4 740.6V865.3" stroke="#a0a0a0" stroke-width="0.5" stroke-dasharray="0.5 2.2"/><path d="M77.4 740V853.9" stroke="#909090" stroke-width="0.5" stroke-dasharray="0.5 2.2"/><path d="M83.3 735.5V862.9" stroke="#b8b8b8" stroke-width="0.5" stroke-dasharray="0.5 2.2"/><path d="M86.3 748.7V842.1" stroke="#a0a0a0" stroke-width="0.5" stroke-dasharray="0.5 2.2"/><path d="M89.3 748.3V851.6" stroke="#909090" stroke-width="0.5" stroke-dasharray="0.5 2.2"/><path d="M95.4 745.9V848.3" stroke="#b8b8b8" stroke-width="0.5" stroke-dasharray="0.5 2.2"/><path d="M98.4 730.5V861.9" stroke="#a0a0a0" stroke-width="0.5" stroke-dasharray="0.5 2.2"/><path d="M101.4 736.1V863.6" stroke="#909090" stroke-width="0.5" stroke-dasharray="0.5 2.2"/><path d="M107.3 739.3V851.4" stroke="#b8b8b8" stroke-width="0.5" stroke-dasharray="0.5 2.2"/><path d="M110.3 750.1V852.9" stroke="#a0a0a0" stroke-width="0.5" stroke-dasharray="0.5 2.2"/><path d="M113.3 744.1V869.8" stroke="#909090" stroke-width="0.5" stroke-dasharray="0.5 2.2"/><path d="M119.3 736.6V857" stroke="#b8b8b8" stroke-width="0.5" stroke-dasharray="0.5 2.2"/><path d="M122.3 737.5V860.6" stroke="#a0a0a0" stroke-width="0.5" stroke-dasharray="0.5 2.2"/><path d="M125.3 761.3V865.4" stroke="#909090" stroke-width="0.5" stroke-dasharray="0.5 2.2"/><rect x="22.1" y="796.3" width="2.9" height="11.5" fill="#9b9b9b"/><line x1="22.1" y1="800.87" x2="25" y2="800.87" stroke="#cfcfcf" stroke-width="0.4"/><rect x="25" y="796" width="2.8" height="9.7" fill="#6b6b6b"/><line x1="25" y1="802.24" x2="27.8" y2="802.24" stroke="#cfcfcf" stroke-width="0.4"/><rect x="27.8" y="798.6" width="3.1" height="7.1" fill="#333333"/><line x1="27.8" y1="803.1" x2="30.9" y2="803.1" stroke="#cfcfcf" stroke-width="0.4"/><rect x="34.2" y="802.8" width="2.5" height="8.6" fill="#9b9b9b"/><line x1="34.2" y1="805.93" x2="36.7" y2="805.93" stroke="#cfcfcf" stroke-width="0.4"/><rect x="37" y="783.3" width="3" height="18.5" fill="#6b6b6b"/><line x1="37" y1="793.72" x2="40" y2="793.72" stroke="#cfcfcf" stroke-width="0.4"/><rect x="40" y="792.3" width="3" height="12.4" fill="#333333"/><line x1="40" y1="798.8" x2="43" y2="798.8" stroke="#cfcfcf" stroke-width="0.4"/><rect x="46" y="797.6" width="3" height="14" fill="#9b9b9b"/><line x1="46" y1="803.66" x2="49" y2="803.66" stroke="#cfcfcf" stroke-width="0.4"/><rect x="49.1" y="777.9" width="2.9" height="21.6" fill="#6b6b6b"/><line x1="49.1" y1="789.45" x2="52" y2="789.45" stroke="#cfcfcf" stroke-width="0.4"/><rect x="52" y="793.8" width="3" height="11.1" fill="#333333"/><line x1="52" y1="799.13" x2="55" y2="799.13" stroke="#cfcfcf" stroke-width="0.4"/><rect x="58.1" y="799" width="2.9" height="13" fill="#9b9b9b"/><line x1="58.1" y1="806.77" x2="61" y2="806.77" stroke="#cfcfcf" stroke-width="0.4"/><rect x="61" y="789" width="2.9" height="12.5" fill="#6b6b6b"/><line x1="61" y1="796.63" x2="63.9" y2="796.63" stroke="#cfcfcf" stroke-width="0.4"/><rect x="63.9" y="794.8" width="2.9" height="10.1" fill="#333333"/><line x1="63.9" y1="798.56" x2="66.8" y2="798.56" stroke="#cfcfcf" stroke-width="0.4"/><rect x="70.2" y="798.6" width="2.7" height="13.4" fill="#9b9b9b"/><line x1="70.2" y1="806.38" x2="72.9" y2="806.38" stroke="#cfcfcf" stroke-width="0.4"/><rect x="72.9" y="794.8" width="3.1" height="12" fill="#6b6b6b"/><line x1="72.9" y1="799.44" x2="76" y2="799.44" stroke="#cfcfcf" stroke-width="0.4"/><rect x="76" y="796" width="2.8" height="10.8" fill="#333333"/><line x1="76" y1="802.6" x2="78.8" y2="802.6" stroke="#cfcfcf" stroke-width="0.4"/><rect x="82" y="800.5" width="2.8" height="6.7" fill="#9b9b9b"/><line x1="82" y1="803.81" x2="84.8" y2="803.81" stroke="#cfcfcf" stroke-width="0.4"/><rect x="85" y="799" width="2.8" height="3.4" fill="#6b6b6b"/><line x1="85" y1="799.46" x2="87.8" y2="799.46" stroke="#cfcfcf" stroke-width="0.4"/><rect x="87.8" y="798" width="3.1" height="4" fill="#333333"/><line x1="87.8" y1="799.7" x2="90.9" y2="799.7" stroke="#cfcfcf" stroke-width="0.4"/><rect x="94" y="802.4" width="2.8" height="11.6" fill="#9b9b9b"/><line x1="94" y1="807.68" x2="96.8" y2="807.68" stroke="#cfcfcf" stroke-width="0.4"/><rect x="96.8" y="782.9" width="2.9" height="19.1" fill="#6b6b6b"/><line x1="96.8" y1="793.04" x2="99.7" y2="793.04" stroke="#cfcfcf" stroke-width="0.4"/><rect x="99.7" y="792.8" width="3.1" height="12.1" fill="#333333"/><line x1="99.7" y1="799.47" x2="102.8" y2="799.47" stroke="#cfcfcf" stroke-width="0.4"/><rect x="106" y="796" width="2.9" height="12.7" fill="#9b9b9b"/><line x1="106" y1="801.95" x2="108.9" y2="801.95" stroke="#cfcfcf" stroke-width="0.4"/><rect x="108.9" y="796.7" width="2.9" height="10.1" fill="#6b6b6b"/><line x1="108.9" y1="802.39" x2="111.8" y2="802.39" stroke="#cfcfcf" stroke-width="0.4"/><rect x="111.8" y="796" width="2.9" height="8.3" fill="#333333"/><line x1="111.8" y1="798.68" x2="114.7" y2="798.68" stroke="#cfcfcf" stroke-width="0.4"/><rect x="118.1" y="799" width="2.9" height="3.8" fill="#9b9b9b"/><line x1="118.1" y1="800.1" x2="121" y2="800.1" stroke="#cfcfcf" stroke-width="0.4"/><rect x="121" y="801.5" width="2.9" height="1.3" fill="#6b6b6b"/><line x1="121" y1="800.98" x2="123.9" y2="800.98" stroke="#cfcfcf" stroke-width="0.4"/><rect x="123.9" y="796" width="2.8" height="6.4" fill="#333333"/><line x1="123.9" y1="798.18" x2="126.7" y2="798.18" stroke="#cfcfcf" stroke-width="0.4"/><rect x="21.4" y="882.6" width="10.2" height="7" fill="#8b8178"/><text x="26.5" y="888.6" font-size="6.4" fill="#222" text-anchor="middle">1</text><rect x="33.3" y="882.6" width="10.2" height="7" fill="#8dc63f"/><text x="38.4" y="888.6" font-size="6.4" fill="#222" text-anchor="middle">2</text><rect x="45.4" y="882.6" width="10.2" height="7" fill="#f4a02c"/><text x="50.5" y="888.6" font-size="6.4" fill="#222" text-anchor="middle">3</text><rect x="57.4" y="882.6" width="10.2" height="7" fill="#e6e12e"/><text x="62.5" y="888.6" font-size="6.4" fill="#222" text-anchor="middle">4</text><rect x="69.3" y="882.6" width="10.2" height="7" fill="#a51f2a"/><text x="74.4" y="888.6" font-size="6.4" fill="#222" text-anchor="middle">5</text><rect x="81.2" y="882.6" width="10.2" height="7" fill="#6b61af"/><text x="86.3" y="888.6" font-size="6.4" fill="#222" text-anchor="middle">6</text><rect x="93.3" y="882.6" width="10.2" height="7" fill="#5bc7d4"/><text x="98.4" y="888.6" font-size="6.4" fill="#222" text-anchor="middle">7</text><rect x="105.2" y="882.6" width="10.2" height="7" fill="#4e6430"/><text x="110.3" y="888.6" font-size="6.4" fill="#222" text-anchor="middle">8</text><rect x="117.2" y="882.6" width="10.2" height="7" fill="#e42d8e"/><text x="122.3" y="888.6" font-size="6.4" fill="#222" text-anchor="middle">9</text><text x="72.5" y="898.4" font-size="7.6" fill="#222" text-anchor="middle">Cluster</text><text x="25.7" y="904.4" font-size="6.9" fill="#222" text-anchor="start">Celltype</text><rect x="25.7" y="908.8" width="5.6" height="6.2" fill="#9b9b9b"/><text x="33.6" y="915" font-size="6.9" fill="#222" text-anchor="start">SgU</text><rect x="53" y="908.8" width="5.6" height="6.2" fill="#6b6b6b"/><text x="61.5" y="915" font-size="6.9" fill="#222" text-anchor="start">SgD</text><rect x="82.2" y="908.8" width="5.6" height="6.2" fill="#333333"/><text x="90.7" y="915" font-size="6.9" fill="#222" text-anchor="start">ScLZ</text><text x="13" y="798.7" font-size="6.6" fill="#222" text-anchor="middle" transform="rotate(-90 13 798.7)">log<tspan font-size="4.4" dy="1.2">2</tspan><tspan dy="-1.2"> FC iKO / Ctrl</tspan></text><text x="130.5" y="713.3" font-size="15.5" font-weight="bold" fill="#111" text-anchor="start">G</text><text x="202.2" y="720" font-size="9.3" font-weight="bold" fill="#111" text-anchor="middle">DNA methylation</text><rect x="150.2" y="724" width="98" height="156.3" fill="#fff" stroke="#cfcfcf" stroke-width="0.6"/><line x1="150.2" y1="876.3" x2="248.2" y2="876.3" stroke="#ececec" stroke-width="0.5"/><line x1="150.2" y1="857.81" x2="248.2" y2="857.81" stroke="#ececec" stroke-width="0.5"/><line x1="150.2" y1="839.32" x2="248.2" y2="839.32" stroke="#ececec" stroke-width="0.5"/><line x1="150.2" y1="820.84" x2="248.2" y2="820.84" stroke="#ececec" stroke-width="0.5"/><line x1="150.2" y1="802.35" x2="248.2" y2="802.35" stroke="#ececec" stroke-width="0.5"/><line x1="150.2" y1="783.86" x2="248.2" y2="783.86" stroke="#ececec" stroke-width="0.5"/><line x1="150.2" y1="765.38" x2="248.2" y2="765.38" stroke="#ececec" stroke-width="0.5"/><line x1="150.2" y1="746.89" x2="248.2" y2="746.89" stroke="#ececec" stroke-width="0.5"/><line x1="150.2" y1="728.4" x2="248.2" y2="728.4" stroke="#ececec" stroke-width="0.5"/><line x1="156.3" y1="724" x2="156.3" y2="880.3" stroke="#ececec" stroke-width="0.5"/><line x1="166.9" y1="724" x2="166.9" y2="880.3" stroke="#ececec" stroke-width="0.5"/><line x1="177.5" y1="724" x2="177.5" y2="880.3" stroke="#ececec" stroke-width="0.5"/><line x1="188.1" y1="724" x2="188.1" y2="880.3" stroke="#ececec" stroke-width="0.5"/><line x1="198.7" y1="724" x2="198.7" y2="880.3" stroke="#ececec" stroke-width="0.5"/><line x1="209.3" y1="724" x2="209.3" y2="880.3" stroke="#ececec" stroke-width="0.5"/><line x1="219.9" y1="724" x2="219.9" y2="880.3" stroke="#ececec" stroke-width="0.5"/><line x1="230.5" y1="724" x2="230.5" y2="880.3" stroke="#ececec" stroke-width="0.5"/><line x1="241.6" y1="724" x2="241.6" y2="880.3" stroke="#ececec" stroke-width="0.5"/><text x="148.5" y="877.7" font-size="4.0" fill="#888" text-anchor="end">0</text><line x1="148.6" y1="876.3" x2="150.2" y2="876.3" stroke="#888" stroke-width="0.4"/><text x="148.5" y="840.72" font-size="4.0" fill="#888" text-anchor="end">25</text><line x1="148.6" y1="839.32" x2="150.2" y2="839.32" stroke="#888" stroke-width="0.4"/><text x="148.5" y="803.75" font-size="4.0" fill="#888" text-anchor="end">50</text><line x1="148.6" y1="802.35" x2="150.2" y2="802.35" stroke="#888" stroke-width="0.4"/><text x="148.5" y="766.77" font-size="4.0" fill="#888" text-anchor="end">75</text><line x1="148.6" y1="765.38" x2="150.2" y2="765.38" stroke="#888" stroke-width="0.4"/><text x="148.5" y="729.8" font-size="4.0" fill="#888" text-anchor="end">100</text><line x1="148.6" y1="728.4" x2="150.2" y2="728.4" stroke="#888" stroke-width="0.4"/><path d="M154.5 820.3V874.8" stroke="#a8a8a8" stroke-width="0.55" stroke-dasharray="0.6 1.5"/><path d="M158.1 819.4V874.8" stroke="#a8a8a8" stroke-width="0.55" stroke-dasharray="0.6 1.5"/><path d="M165.1 788.1V874.8" stroke="#a8a8a8" stroke-width="0.55" stroke-dasharray="0.6 1.5"/><path d="M168.7 791.7V874.8" stroke="#a8a8a8" stroke-width="0.55" stroke-dasharray="0.6 1.5"/><path d="M175.7 773.4V874.8" stroke="#a8a8a8" stroke-width="0.55" stroke-dasharray="0.6 1.5"/><path d="M179.3 772.1V874.8" stroke="#a8a8a8" stroke-width="0.55" stroke-dasharray="0.6 1.5"/><path d="M186.3 754.5V874.8" stroke="#a8a8a8" stroke-width="0.55" stroke-dasharray="0.6 1.5"/><path d="M189.9 749.1V874.8" stroke="#a8a8a8" stroke-width="0.55" stroke-dasharray="0.6 1.5"/><path d="M196.9 760.7V874.8" stroke="#a8a8a8" stroke-width="0.55" stroke-dasharray="0.6 1.5"/><path d="M200.5 765.3V874.8" stroke="#a8a8a8" stroke-width="0.55" stroke-dasharray="0.6 1.5"/><path d="M207.5 734.4V874.8" stroke="#a8a8a8" stroke-width="0.55" stroke-dasharray="0.6 1.5"/><path d="M211.1 732.5V874.8" stroke="#a8a8a8" stroke-width="0.55" stroke-dasharray="0.6 1.5"/><path d="M218.1 731.7V874.8" stroke="#a8a8a8" stroke-width="0.55" stroke-dasharray="0.6 1.5"/><path d="M221.7 733.4V874.8" stroke="#a8a8a8" stroke-width="0.55" stroke-dasharray="0.6 1.5"/><path d="M228.7 737.6V874.8" stroke="#a8a8a8" stroke-width="0.55" stroke-dasharray="0.6 1.5"/><path d="M232.3 734.2V874.8" stroke="#a8a8a8" stroke-width="0.55" stroke-dasharray="0.6 1.5"/><path d="M239.8 741.2V874.8" stroke="#a8a8a8" stroke-width="0.55" stroke-dasharray="0.6 1.5"/><path d="M243.4 739.3V874.8" stroke="#a8a8a8" stroke-width="0.55" stroke-dasharray="0.6 1.5"/><rect x="152.8" y="868.4" width="3.5" height="2.6" fill="#69a9dd"/><line x1="152.8" y1="869.7" x2="156.3" y2="869.7" stroke="#ffffff" stroke-width="0.3" stroke-opacity="0.4"/><rect x="156.8" y="867.6" width="3.5" height="3.4" fill="#e8393a"/><line x1="156.8" y1="869.3" x2="160.3" y2="869.3" stroke="#ffffff" stroke-width="0.3" stroke-opacity="0.4"/><rect x="163.4" y="867.6" width="3.5" height="2.6" fill="#69a9dd"/><line x1="163.4" y1="868.9" x2="166.9" y2="868.9" stroke="#ffffff" stroke-width="0.3" stroke-opacity="0.4"/><rect x="167.4" y="865.7" width="3.5" height="4.5" fill="#e8393a"/><line x1="167.4" y1="867.95" x2="170.9" y2="867.95" stroke="#ffffff" stroke-width="0.3" stroke-opacity="0.4"/><rect x="174" y="866.3" width="3.5" height="3.4" fill="#69a9dd"/><line x1="174" y1="868" x2="177.5" y2="868" stroke="#ffffff" stroke-width="0.3" stroke-opacity="0.4"/><rect x="178" y="860.2" width="3.5" height="9.2" fill="#e8393a"/><line x1="178" y1="864.8" x2="181.5" y2="864.8" stroke="#ffffff" stroke-width="0.3" stroke-opacity="0.4"/><rect x="184.6" y="867" width="3.4" height="2.7" fill="#69a9dd"/><line x1="184.6" y1="868.35" x2="188" y2="868.35" stroke="#ffffff" stroke-width="0.3" stroke-opacity="0.4"/><rect x="188.6" y="863.6" width="3.4" height="5.8" fill="#e8393a"/><line x1="188.6" y1="866.5" x2="192" y2="866.5" stroke="#ffffff" stroke-width="0.3" stroke-opacity="0.4"/><rect x="195.2" y="863.6" width="3.5" height="5.3" fill="#69a9dd"/><line x1="195.2" y1="866.25" x2="198.7" y2="866.25" stroke="#ffffff" stroke-width="0.3" stroke-opacity="0.4"/><rect x="199.2" y="847.2" width="3.5" height="17.7" fill="#e8393a"/><line x1="199.2" y1="856.05" x2="202.7" y2="856.05" stroke="#ffffff" stroke-width="0.3" stroke-opacity="0.4"/><rect x="205.8" y="740.4" width="3.5" height="120.6" fill="#69a9dd"/><line x1="205.8" y1="800.7" x2="209.3" y2="800.7" stroke="#ffffff" stroke-width="0.3" stroke-opacity="0.4"/><rect x="209.8" y="743" width="3.5" height="96" fill="#e8393a"/><line x1="209.8" y1="791" x2="213.3" y2="791" stroke="#ffffff" stroke-width="0.3" stroke-opacity="0.4"/><rect x="216.4" y="739.8" width="3.5" height="88.8" fill="#69a9dd"/><line x1="216.4" y1="784.2" x2="219.9" y2="784.2" stroke="#ffffff" stroke-width="0.3" stroke-opacity="0.4"/><rect x="220.4" y="742.5" width="3.5" height="66" fill="#e8393a"/><line x1="220.4" y1="775.5" x2="223.9" y2="775.5" stroke="#ffffff" stroke-width="0.3" stroke-opacity="0.4"/><rect x="227" y="746.2" width="3.5" height="120.1" fill="#69a9dd"/><line x1="227" y1="806.25" x2="230.5" y2="806.25" stroke="#ffffff" stroke-width="0.3" stroke-opacity="0.4"/><rect x="231" y="746.2" width="3.5" height="110" fill="#e8393a"/><line x1="231" y1="801.2" x2="234.5" y2="801.2" stroke="#ffffff" stroke-width="0.3" stroke-opacity="0.4"/><rect x="238.2" y="861.7" width="3.4" height="8" fill="#69a9dd"/><line x1="238.2" y1="865.7" x2="241.6" y2="865.7" stroke="#ffffff" stroke-width="0.3" stroke-opacity="0.4"/><rect x="242.1" y="851.1" width="3.5" height="18.3" fill="#e8393a"/><line x1="242.1" y1="860.25" x2="245.6" y2="860.25" stroke="#ffffff" stroke-width="0.3" stroke-opacity="0.4"/><rect x="151.5" y="882.7" width="9.6" height="7" fill="#8b8178"/><text x="156.3" y="888.7" font-size="6.4" fill="#222" text-anchor="middle">1</text><rect x="162.1" y="882.7" width="9.6" height="7" fill="#8dc63f"/><text x="166.9" y="888.7" font-size="6.4" fill="#222" text-anchor="middle">2</text><rect x="172.7" y="882.7" width="9.6" height="7" fill="#f4a02c"/><text x="177.5" y="888.7" font-size="6.4" fill="#222" text-anchor="middle">3</text><rect x="183.3" y="882.7" width="9.6" height="7" fill="#e6e12e"/><text x="188.1" y="888.7" font-size="6.4" fill="#222" text-anchor="middle">4</text><rect x="193.9" y="882.7" width="9.6" height="7" fill="#a51f2a"/><text x="198.7" y="888.7" font-size="6.4" fill="#222" text-anchor="middle">5</text><rect x="204.5" y="882.7" width="9.6" height="7" fill="#6b61af"/><text x="209.3" y="888.7" font-size="6.4" fill="#222" text-anchor="middle">6</text><rect x="215.1" y="882.7" width="9.6" height="7" fill="#5bc7d4"/><text x="219.9" y="888.7" font-size="6.4" fill="#222" text-anchor="middle">7</text><rect x="225.7" y="882.7" width="9.6" height="7" fill="#4e6430"/><text x="230.5" y="888.7" font-size="6.4" fill="#222" text-anchor="middle">8</text><rect x="236.8" y="882.7" width="9.6" height="7" fill="#e42d8e"/><text x="241.6" y="888.7" font-size="6.4" fill="#222" text-anchor="middle">9</text><text x="199.7" y="898.4" font-size="7.6" fill="#222" text-anchor="middle">Cluster</text><text x="138.9" y="798.7" font-size="7.2" fill="#222" text-anchor="middle" transform="rotate(-90 138.9 798.7)">Percentage %</text><text x="254.3" y="640.7" font-size="15.2" font-weight="bold" fill="#111" text-anchor="start">C</text><text x="268.3" y="672.4" font-size="6.9" font-weight="bold" fill="#111" text-anchor="middle" transform="rotate(-90 268.3 672.4)">KDM2A /Input</text><text x="276.3" y="668" font-size="4.2" fill="#333" text-anchor="middle" transform="rotate(-90 276.3 668)">log<tspan font-size="3" dy="0.8">2</tspan><tspan dy="-0.8">RPKM</tspan></text><rect x="286.3" y="637.9" width="41.8" height="4.8" fill="#8b8178"/><text x="307.2" y="641.6" font-size="4.2" fill="#333" text-anchor="middle">Cluster 1</text><rect x="286.3" y="642.7" width="41.8" height="54.3" fill="#fff"/><path d="M293 642.7V697M297.7 642.7V697M302.5 642.7V697M312 642.7V697M316.7 642.7V697M321.5 642.7V697M286.3 651.9H328.1M286.3 664.7H328.1M286.3 677.2H328.1M286.3 690H328.1" stroke="#e8e8e8" stroke-width="0.45"/><path d="M286.3 645.5H328.1M286.3 658.3H328.1M286.3 670.8H328.1M286.3 683.6H328.1M286.3 696.4H328.1" stroke="#f4f4f4" stroke-width="0.45"/><line x1="307.2" y1="642.7" x2="307.2" y2="697" stroke="#8a8a8a" stroke-width="0.45" stroke-dasharray="1 1"/><rect x="286.3" y="642.7" width="41.8" height="54.3" fill="none" stroke="#a8a8a8" stroke-width="0.7"/><rect x="330.6" y="637.9" width="41.8" height="4.8" fill="#8dc63f"/><text x="351.5" y="641.6" font-size="4.2" fill="#333" text-anchor="middle">Cluster 2</text><rect x="330.6" y="642.7" width="41.8" height="54.3" fill="#fff"/><path d="M337.2 642.7V697M342 642.7V697M346.8 642.7V697M356.2 642.7V697M361 642.7V697M365.8 642.7V697M330.6 651.9H372.4M330.6 664.7H372.4M330.6 677.2H372.4M330.6 690H372.4" stroke="#e8e8e8" stroke-width="0.45"/><path d="M330.6 645.5H372.4M330.6 658.3H372.4M330.6 670.8H372.4M330.6 683.6H372.4M330.6 696.4H372.4" stroke="#f4f4f4" stroke-width="0.45"/><line x1="351.5" y1="642.7" x2="351.5" y2="697" stroke="#8a8a8a" stroke-width="0.45" stroke-dasharray="1 1"/><rect x="330.6" y="642.7" width="41.8" height="54.3" fill="none" stroke="#a8a8a8" stroke-width="0.7"/><rect x="374.9" y="637.9" width="41.8" height="4.8" fill="#f4a02c"/><text x="395.8" y="641.6" font-size="4.2" fill="#333" text-anchor="middle">Cluster 3</text><rect x="374.9" y="642.7" width="41.8" height="54.3" fill="#fff"/><path d="M381.5 642.7V697M386.3 642.7V697M391 642.7V697M400.5 642.7V697M405.3 642.7V697M410 642.7V697M374.9 651.9H416.7M374.9 664.7H416.7M374.9 677.2H416.7M374.9 690H416.7" stroke="#e8e8e8" stroke-width="0.45"/><path d="M374.9 645.5H416.7M374.9 658.3H416.7M374.9 670.8H416.7M374.9 683.6H416.7M374.9 696.4H416.7" stroke="#f4f4f4" stroke-width="0.45"/><line x1="395.8" y1="642.7" x2="395.8" y2="697" stroke="#8a8a8a" stroke-width="0.45" stroke-dasharray="1 1"/><rect x="374.9" y="642.7" width="41.8" height="54.3" fill="none" stroke="#a8a8a8" stroke-width="0.7"/><rect x="419.2" y="637.9" width="41.8" height="4.8" fill="#e6e12e"/><text x="440.1" y="641.6" font-size="4.2" fill="#333" text-anchor="middle">Cluster 4</text><rect x="419.2" y="642.7" width="41.8" height="54.3" fill="#fff"/><path d="M425.9 642.7V697M430.6 642.7V697M435.4 642.7V697M444.9 642.7V697M449.6 642.7V697M454.4 642.7V697M419.2 651.9H461M419.2 664.7H461M419.2 677.2H461M419.2 690H461" stroke="#e8e8e8" stroke-width="0.45"/><path d="M419.2 645.5H461M419.2 658.3H461M419.2 670.8H461M419.2 683.6H461M419.2 696.4H461" stroke="#f4f4f4" stroke-width="0.45"/><line x1="440.1" y1="642.7" x2="440.1" y2="697" stroke="#8a8a8a" stroke-width="0.45" stroke-dasharray="1 1"/><rect x="419.2" y="642.7" width="41.8" height="54.3" fill="none" stroke="#a8a8a8" stroke-width="0.7"/><rect x="463.5" y="637.9" width="41.8" height="4.8" fill="#a51f2a"/><text x="484.4" y="641.6" font-size="4.2" fill="#333" text-anchor="middle">Cluster 5</text><rect x="463.5" y="642.7" width="41.8" height="54.3" fill="#fff"/><path d="M470.1 642.7V697M474.9 642.7V697M479.6 642.7V697M489.1 642.7V697M493.9 642.7V697M498.6 642.7V697M463.5 651.9H505.3M463.5 664.7H505.3M463.5 677.2H505.3M463.5 690H505.3" stroke="#e8e8e8" stroke-width="0.45"/><path d="M463.5 645.5H505.3M463.5 658.3H505.3M463.5 670.8H505.3M463.5 683.6H505.3M463.5 696.4H505.3" stroke="#f4f4f4" stroke-width="0.45"/><line x1="484.4" y1="642.7" x2="484.4" y2="697" stroke="#8a8a8a" stroke-width="0.45" stroke-dasharray="1 1"/><rect x="463.5" y="642.7" width="41.8" height="54.3" fill="none" stroke="#a8a8a8" stroke-width="0.7"/><rect x="507.8" y="637.9" width="41.8" height="4.8" fill="#6b61af"/><text x="528.7" y="641.6" font-size="4.2" fill="#333" text-anchor="middle">Cluster 6</text><rect x="507.8" y="642.7" width="41.8" height="54.3" fill="#fff"/><path d="M514.5 642.7V697M519.2 642.7V697M524 642.7V697M533.5 642.7V697M538.2 642.7V697M543 642.7V697M507.8 651.9H549.6M507.8 664.7H549.6M507.8 677.2H549.6M507.8 690H549.6" stroke="#e8e8e8" stroke-width="0.45"/><path d="M507.8 645.5H549.6M507.8 658.3H549.6M507.8 670.8H549.6M507.8 683.6H549.6M507.8 696.4H549.6" stroke="#f4f4f4" stroke-width="0.45"/><line x1="528.7" y1="642.7" x2="528.7" y2="697" stroke="#8a8a8a" stroke-width="0.45" stroke-dasharray="1 1"/><rect x="507.8" y="642.7" width="41.8" height="54.3" fill="none" stroke="#a8a8a8" stroke-width="0.7"/><rect x="552.1" y="637.9" width="41.8" height="4.8" fill="#5bc7d4"/><text x="573" y="641.6" font-size="4.2" fill="#333" text-anchor="middle">Cluster 7</text><rect x="552.1" y="642.7" width="41.8" height="54.3" fill="#fff"/><path d="M558.7 642.7V697M563.5 642.7V697M568.2 642.7V697M577.7 642.7V697M582.5 642.7V697M587.2 642.7V697M552.1 651.9H593.9M552.1 664.7H593.9M552.1 677.2H593.9M552.1 690H593.9" stroke="#e8e8e8" stroke-width="0.45"/><path d="M552.1 645.5H593.9M552.1 658.3H593.9M552.1 670.8H593.9M552.1 683.6H593.9M552.1 696.4H593.9" stroke="#f4f4f4" stroke-width="0.45"/><line x1="573" y1="642.7" x2="573" y2="697" stroke="#8a8a8a" stroke-width="0.45" stroke-dasharray="1 1"/><rect x="552.1" y="642.7" width="41.8" height="54.3" fill="none" stroke="#a8a8a8" stroke-width="0.7"/><rect x="596.4" y="637.9" width="41.8" height="4.8" fill="#4e6430"/><text x="617.3" y="641.6" font-size="4.2" fill="#333" text-anchor="middle">Cluster 8</text><rect x="596.4" y="642.7" width="41.8" height="54.3" fill="#fff"/><path d="M603 642.7V697M607.8 642.7V697M612.5 642.7V697M622 642.7V697M626.8 642.7V697M631.5 642.7V697M596.4 651.9H638.2M596.4 664.7H638.2M596.4 677.2H638.2M596.4 690H638.2" stroke="#e8e8e8" stroke-width="0.45"/><path d="M596.4 645.5H638.2M596.4 658.3H638.2M596.4 670.8H638.2M596.4 683.6H638.2M596.4 696.4H638.2" stroke="#f4f4f4" stroke-width="0.45"/><line x1="617.3" y1="642.7" x2="617.3" y2="697" stroke="#8a8a8a" stroke-width="0.45" stroke-dasharray="1 1"/><rect x="596.4" y="642.7" width="41.8" height="54.3" fill="none" stroke="#a8a8a8" stroke-width="0.7"/><rect x="640.7" y="637.9" width="41.8" height="4.8" fill="#e42d8e"/><text x="661.6" y="641.6" font-size="4.2" fill="#333" text-anchor="middle">Cluster 9</text><rect x="640.7" y="642.7" width="41.8" height="54.3" fill="#fff"/><path d="M647.4 642.7V697M652.1 642.7V697M656.9 642.7V697M666.4 642.7V697M671.1 642.7V697M675.9 642.7V697M640.7 651.9H682.5M640.7 664.7H682.5M640.7 677.2H682.5M640.7 690H682.5" stroke="#e8e8e8" stroke-width="0.45"/><path d="M640.7 645.5H682.5M640.7 658.3H682.5M640.7 670.8H682.5M640.7 683.6H682.5M640.7 696.4H682.5" stroke="#f4f4f4" stroke-width="0.45"/><line x1="661.6" y1="642.7" x2="661.6" y2="697" stroke="#8a8a8a" stroke-width="0.45" stroke-dasharray="1 1"/><rect x="640.7" y="642.7" width="41.8" height="54.3" fill="none" stroke="#a8a8a8" stroke-width="0.7"/><text x="284.6" y="652.8" font-size="2.8" fill="#999" text-anchor="end">0.4</text><line x1="284.9" y1="651.9" x2="286.3" y2="651.9" stroke="#999" stroke-width="0.35"/><text x="284.6" y="665.6" font-size="2.8" fill="#999" text-anchor="end">0.3</text><line x1="284.9" y1="664.7" x2="286.3" y2="664.7" stroke="#999" stroke-width="0.35"/><text x="284.6" y="678.1" font-size="2.8" fill="#999" text-anchor="end">0.2</text><line x1="284.9" y1="677.2" x2="286.3" y2="677.2" stroke="#999" stroke-width="0.35"/><text x="284.6" y="690.9" font-size="2.8" fill="#999" text-anchor="end">0.1</text><line x1="284.9" y1="690" x2="286.3" y2="690" stroke="#999" stroke-width="0.35"/><text x="290.3" y="701.7" font-size="4.3" fill="#666" text-anchor="middle">-5kb</text><text x="307.2" y="701.7" font-size="4.3" fill="#666" text-anchor="middle">TSS</text><text x="324.1" y="701.7" font-size="4.3" fill="#666" text-anchor="middle">+5kb</text><text x="256.1" y="717.7" font-size="15.2" font-weight="bold" fill="#111" text-anchor="start">D</text><text x="270" y="754.9" font-size="6.9" font-weight="bold" fill="#111" text-anchor="middle" transform="rotate(-90 270 754.9)">H3K36me2</text><text x="277.7" y="753.5" font-size="4.2" fill="#333" text-anchor="middle" transform="rotate(-90 277.7 753.5)">log<tspan font-size="3" dy="0.8">2</tspan><tspan dy="-0.8">RPKM</tspan></text><rect x="287" y="720.1" width="41.7" height="4.5" fill="#8b8178"/><text x="307.85" y="723.5" font-size="4.2" fill="#333" text-anchor="middle">Cluster 1</text><rect x="287" y="724.6" width="41.7" height="54.4" fill="#fff"/><path d="M293.6 724.6V779M298.4 724.6V779M303.1 724.6V779M312.6 724.6V779M317.4 724.6V779M322.1 724.6V779M287 732.5H328.7M287 743.6H328.7M287 753.8H328.7M287 764.6H328.7M287 775.4H328.7" stroke="#e8e8e8" stroke-width="0.45"/><path d="M287 727H328.7M287 738H328.7M287 748.2H328.7M287 759H328.7M287 769.8H328.7" stroke="#f4f4f4" stroke-width="0.45"/><line x1="307.85" y1="724.6" x2="307.85" y2="779" stroke="#8a8a8a" stroke-width="0.45" stroke-dasharray="1 1"/><rect x="287" y="724.6" width="41.7" height="54.4" fill="none" stroke="#a8a8a8" stroke-width="0.7"/><rect x="331" y="720.1" width="41.7" height="4.5" fill="#8dc63f"/><text x="351.85" y="723.5" font-size="4.2" fill="#333" text-anchor="middle">Cluster 2</text><rect x="331" y="724.6" width="41.7" height="54.4" fill="#fff"/><path d="M337.6 724.6V779M342.4 724.6V779M347.1 724.6V779M356.6 724.6V779M361.4 724.6V779M366.1 724.6V779M331 732.5H372.7M331 743.6H372.7M331 753.8H372.7M331 764.6H372.7M331 775.4H372.7" stroke="#e8e8e8" stroke-width="0.45"/><path d="M331 727H372.7M331 738H372.7M331 748.2H372.7M331 759H372.7M331 769.8H372.7" stroke="#f4f4f4" stroke-width="0.45"/><line x1="351.85" y1="724.6" x2="351.85" y2="779" stroke="#8a8a8a" stroke-width="0.45" stroke-dasharray="1 1"/><rect x="331" y="724.6" width="41.7" height="54.4" fill="none" stroke="#a8a8a8" stroke-width="0.7"/><rect x="375" y="720.1" width="41.7" height="4.5" fill="#f4a02c"/><text x="395.85" y="723.5" font-size="4.2" fill="#333" text-anchor="middle">Cluster 3</text><rect x="375" y="724.6" width="41.7" height="54.4" fill="#fff"/><path d="M381.6 724.6V779M386.4 724.6V779M391.1 724.6V779M400.6 724.6V779M405.4 724.6V779M410.1 724.6V779M375 732.5H416.7M375 743.6H416.7M375 753.8H416.7M375 764.6H416.7M375 775.4H416.7" stroke="#e8e8e8" stroke-width="0.45"/><path d="M375 727H416.7M375 738H416.7M375 748.2H416.7M375 759H416.7M375 769.8H416.7" stroke="#f4f4f4" stroke-width="0.45"/><line x1="395.85" y1="724.6" x2="395.85" y2="779" stroke="#8a8a8a" stroke-width="0.45" stroke-dasharray="1 1"/><rect x="375" y="724.6" width="41.7" height="54.4" fill="none" stroke="#a8a8a8" stroke-width="0.7"/><rect x="419" y="720.1" width="41.7" height="4.5" fill="#e6e12e"/><text x="439.85" y="723.5" font-size="4.2" fill="#333" text-anchor="middle">Cluster 4</text><rect x="419" y="724.6" width="41.7" height="54.4" fill="#fff"/><path d="M425.6 724.6V779M430.4 724.6V779M435.1 724.6V779M444.6 724.6V779M449.4 724.6V779M454.1 724.6V779M419 732.5H460.7M419 743.6H460.7M419 753.8H460.7M419 764.6H460.7M419 775.4H460.7" stroke="#e8e8e8" stroke-width="0.45"/><path d="M419 727H460.7M419 738H460.7M419 748.2H460.7M419 759H460.7M419 769.8H460.7" stroke="#f4f4f4" stroke-width="0.45"/><line x1="439.85" y1="724.6" x2="439.85" y2="779" stroke="#8a8a8a" stroke-width="0.45" stroke-dasharray="1 1"/><rect x="419" y="724.6" width="41.7" height="54.4" fill="none" stroke="#a8a8a8" stroke-width="0.7"/><rect x="463" y="720.1" width="41.7" height="4.5" fill="#a51f2a"/><text x="483.85" y="723.5" font-size="4.2" fill="#333" text-anchor="middle">Cluster 5</text><rect x="463" y="724.6" width="41.7" height="54.4" fill="#fff"/><path d="M469.6 724.6V779M474.4 724.6V779M479.1 724.6V779M488.6 724.6V779M493.4 724.6V779M498.1 724.6V779M463 732.5H504.7M463 743.6H504.7M463 753.8H504.7M463 764.6H504.7M463 775.4H504.7" stroke="#e8e8e8" stroke-width="0.45"/><path d="M463 727H504.7M463 738H504.7M463 748.2H504.7M463 759H504.7M463 769.8H504.7" stroke="#f4f4f4" stroke-width="0.45"/><line x1="483.85" y1="724.6" x2="483.85" y2="779" stroke="#8a8a8a" stroke-width="0.45" stroke-dasharray="1 1"/><rect x="463" y="724.6" width="41.7" height="54.4" fill="none" stroke="#a8a8a8" stroke-width="0.7"/><rect x="507" y="720.1" width="41.7" height="4.5" fill="#6b61af"/><text x="527.85" y="723.5" font-size="4.2" fill="#333" text-anchor="middle">Cluster 6</text><rect x="507" y="724.6" width="41.7" height="54.4" fill="#fff"/><path d="M513.6 724.6V779M518.4 724.6V779M523.1 724.6V779M532.6 724.6V779M537.4 724.6V779M542.1 724.6V779M507 732.5H548.7M507 743.6H548.7M507 753.8H548.7M507 764.6H548.7M507 775.4H548.7" stroke="#e8e8e8" stroke-width="0.45"/><path d="M507 727H548.7M507 738H548.7M507 748.2H548.7M507 759H548.7M507 769.8H548.7" stroke="#f4f4f4" stroke-width="0.45"/><line x1="527.85" y1="724.6" x2="527.85" y2="779" stroke="#8a8a8a" stroke-width="0.45" stroke-dasharray="1 1"/><rect x="507" y="724.6" width="41.7" height="54.4" fill="none" stroke="#a8a8a8" stroke-width="0.7"/><rect x="551" y="720.1" width="41.7" height="4.5" fill="#5bc7d4"/><text x="571.85" y="723.5" font-size="4.2" fill="#333" text-anchor="middle">Cluster 7</text><rect x="551" y="724.6" width="41.7" height="54.4" fill="#fff"/><path d="M557.6 724.6V779M562.4 724.6V779M567.1 724.6V779M576.6 724.6V779M581.4 724.6V779M586.1 724.6V779M551 732.5H592.7M551 743.6H592.7M551 753.8H592.7M551 764.6H592.7M551 775.4H592.7" stroke="#e8e8e8" stroke-width="0.45"/><path d="M551 727H592.7M551 738H592.7M551 748.2H592.7M551 759H592.7M551 769.8H592.7" stroke="#f4f4f4" stroke-width="0.45"/><line x1="571.85" y1="724.6" x2="571.85" y2="779" stroke="#8a8a8a" stroke-width="0.45" stroke-dasharray="1 1"/><rect x="551" y="724.6" width="41.7" height="54.4" fill="none" stroke="#a8a8a8" stroke-width="0.7"/><rect x="595" y="720.1" width="41.7" height="4.5" fill="#4e6430"/><text x="615.85" y="723.5" font-size="4.2" fill="#333" text-anchor="middle">Cluster 8</text><rect x="595" y="724.6" width="41.7" height="54.4" fill="#fff"/><path d="M601.6 724.6V779M606.4 724.6V779M611.1 724.6V779M620.6 724.6V779M625.4 724.6V779M630.1 724.6V779M595 732.5H636.7M595 743.6H636.7M595 753.8H636.7M595 764.6H636.7M595 775.4H636.7" stroke="#e8e8e8" stroke-width="0.45"/><path d="M595 727H636.7M595 738H636.7M595 748.2H636.7M595 759H636.7M595 769.8H636.7" stroke="#f4f4f4" stroke-width="0.45"/><line x1="615.85" y1="724.6" x2="615.85" y2="779" stroke="#8a8a8a" stroke-width="0.45" stroke-dasharray="1 1"/><rect x="595" y="724.6" width="41.7" height="54.4" fill="none" stroke="#a8a8a8" stroke-width="0.7"/><rect x="639" y="720.1" width="41.7" height="4.5" fill="#e42d8e"/><text x="659.85" y="723.5" font-size="4.2" fill="#333" text-anchor="middle">Cluster 9</text><rect x="639" y="724.6" width="41.7" height="54.4" fill="#fff"/><path d="M645.6 724.6V779M650.4 724.6V779M655.1 724.6V779M664.6 724.6V779M669.4 724.6V779M674.1 724.6V779M639 732.5H680.7M639 743.6H680.7M639 753.8H680.7M639 764.6H680.7M639 775.4H680.7" stroke="#e8e8e8" stroke-width="0.45"/><path d="M639 727H680.7M639 738H680.7M639 748.2H680.7M639 759H680.7M639 769.8H680.7" stroke="#f4f4f4" stroke-width="0.45"/><line x1="659.85" y1="724.6" x2="659.85" y2="779" stroke="#8a8a8a" stroke-width="0.45" stroke-dasharray="1 1"/><rect x="639" y="724.6" width="41.7" height="54.4" fill="none" stroke="#a8a8a8" stroke-width="0.7"/><text x="285.3" y="733.4" font-size="2.8" fill="#999" text-anchor="end">0.075</text><line x1="285.6" y1="732.5" x2="287" y2="732.5" stroke="#999" stroke-width="0.35"/><text x="285.3" y="744.5" font-size="2.8" fill="#999" text-anchor="end">0.050</text><line x1="285.6" y1="743.6" x2="287" y2="743.6" stroke="#999" stroke-width="0.35"/><text x="285.3" y="754.7" font-size="2.8" fill="#999" text-anchor="end">0.025</text><line x1="285.6" y1="753.8" x2="287" y2="753.8" stroke="#999" stroke-width="0.35"/><text x="285.3" y="765.5" font-size="2.8" fill="#999" text-anchor="end">0.000</text><line x1="285.6" y1="764.6" x2="287" y2="764.6" stroke="#999" stroke-width="0.35"/><text x="285.3" y="776.3" font-size="2.8" fill="#999" text-anchor="end">-0.025</text><line x1="285.6" y1="775.4" x2="287" y2="775.4" stroke="#999" stroke-width="0.35"/><text x="291" y="783.7" font-size="4.3" fill="#666" text-anchor="middle">-5kb</text><text x="307.85" y="783.7" font-size="4.3" fill="#666" text-anchor="middle">TSS</text><text x="324.7" y="783.7" font-size="4.3" fill="#666" text-anchor="middle">+5kb</text><text x="256.1" y="798.2" font-size="15.2" font-weight="bold" fill="#111" text-anchor="start">E</text><text x="270" y="823.7" font-size="6.9" font-weight="bold" fill="#111" text-anchor="middle" transform="rotate(-90 270 823.7)">H3K4me3</text><text x="277.7" y="816" font-size="4.2" fill="#333" text-anchor="middle" transform="rotate(-90 277.7 816)">log<tspan font-size="3" dy="0.8">2</tspan><tspan dy="-0.8">RPKM</tspan></text><rect x="287.2" y="796.2" width="42.5" height="4.5" fill="#8b8178"/><text x="308.45" y="799.6" font-size="4.2" fill="#333" text-anchor="middle">Cluster 1</text><rect x="287.2" y="800.7" width="42.5" height="53.5" fill="#fff"/><path d="M294.2 800.7V854.2M298.9 800.7V854.2M303.7 800.7V854.2M313.2 800.7V854.2M317.9 800.7V854.2M322.7 800.7V854.2M287.2 803.4H329.7M287.2 820.5H329.7M287.2 837.9H329.7" stroke="#e8e8e8" stroke-width="0.45"/><path d="M287.2 812H329.7M287.2 829.3H329.7M287.2 846.5H329.7" stroke="#f4f4f4" stroke-width="0.45"/><line x1="308.45" y1="800.7" x2="308.45" y2="854.2" stroke="#8a8a8a" stroke-width="0.45" stroke-dasharray="1 1"/><rect x="287.2" y="800.7" width="42.5" height="53.5" fill="none" stroke="#a8a8a8" stroke-width="0.7"/><rect x="331.39" y="796.2" width="42.5" height="4.5" fill="#8dc63f"/><text x="352.64" y="799.6" font-size="4.2" fill="#333" text-anchor="middle">Cluster 2</text><rect x="331.39" y="800.7" width="42.5" height="53.5" fill="#fff"/><path d="M338.4 800.7V854.2M343.1 800.7V854.2M347.9 800.7V854.2M357.4 800.7V854.2M362.1 800.7V854.2M366.9 800.7V854.2M331.4 803.4H373.9M331.4 820.5H373.9M331.4 837.9H373.9" stroke="#e8e8e8" stroke-width="0.45"/><path d="M331.4 812H373.9M331.4 829.3H373.9M331.4 846.5H373.9" stroke="#f4f4f4" stroke-width="0.45"/><line x1="352.64" y1="800.7" x2="352.64" y2="854.2" stroke="#8a8a8a" stroke-width="0.45" stroke-dasharray="1 1"/><rect x="331.39" y="800.7" width="42.5" height="53.5" fill="none" stroke="#a8a8a8" stroke-width="0.7"/><rect x="375.58" y="796.2" width="42.5" height="4.5" fill="#f4a02c"/><text x="396.83" y="799.6" font-size="4.2" fill="#333" text-anchor="middle">Cluster 3</text><rect x="375.58" y="800.7" width="42.5" height="53.5" fill="#fff"/><path d="M382.6 800.7V854.2M387.3 800.7V854.2M392.1 800.7V854.2M401.6 800.7V854.2M406.3 800.7V854.2M411.1 800.7V854.2M375.6 803.4H418.1M375.6 820.5H418.1M375.6 837.9H418.1" stroke="#e8e8e8" stroke-width="0.45"/><path d="M375.6 812H418.1M375.6 829.3H418.1M375.6 846.5H418.1" stroke="#f4f4f4" stroke-width="0.45"/><line x1="396.83" y1="800.7" x2="396.83" y2="854.2" stroke="#8a8a8a" stroke-width="0.45" stroke-dasharray="1 1"/><rect x="375.58" y="800.7" width="42.5" height="53.5" fill="none" stroke="#a8a8a8" stroke-width="0.7"/><rect x="419.77" y="796.2" width="42.5" height="4.5" fill="#e6e12e"/><text x="441.02" y="799.6" font-size="4.2" fill="#333" text-anchor="middle">Cluster 4</text><rect x="419.77" y="800.7" width="42.5" height="53.5" fill="#fff"/><path d="M426.8 800.7V854.2M431.5 800.7V854.2M436.3 800.7V854.2M445.8 800.7V854.2M450.5 800.7V854.2M455.3 800.7V854.2M419.8 803.4H462.3M419.8 820.5H462.3M419.8 837.9H462.3" stroke="#e8e8e8" stroke-width="0.45"/><path d="M419.8 812H462.3M419.8 829.3H462.3M419.8 846.5H462.3" stroke="#f4f4f4" stroke-width="0.45"/><line x1="441.02" y1="800.7" x2="441.02" y2="854.2" stroke="#8a8a8a" stroke-width="0.45" stroke-dasharray="1 1"/><rect x="419.77" y="800.7" width="42.5" height="53.5" fill="none" stroke="#a8a8a8" stroke-width="0.7"/><rect x="463.96" y="796.2" width="42.5" height="4.5" fill="#a51f2a"/><text x="485.21" y="799.6" font-size="4.2" fill="#333" text-anchor="middle">Cluster 5</text><rect x="463.96" y="800.7" width="42.5" height="53.5" fill="#fff"/><path d="M471 800.7V854.2M475.7 800.7V854.2M480.5 800.7V854.2M490 800.7V854.2M494.7 800.7V854.2M499.5 800.7V854.2M464 803.4H506.5M464 820.5H506.5M464 837.9H506.5" stroke="#e8e8e8" stroke-width="0.45"/><path d="M464 812H506.5M464 829.3H506.5M464 846.5H506.5" stroke="#f4f4f4" stroke-width="0.45"/><line x1="485.21" y1="800.7" x2="485.21" y2="854.2" stroke="#8a8a8a" stroke-width="0.45" stroke-dasharray="1 1"/><rect x="463.96" y="800.7" width="42.5" height="53.5" fill="none" stroke="#a8a8a8" stroke-width="0.7"/><rect x="508.15" y="796.2" width="42.5" height="4.5" fill="#6b61af"/><text x="529.4" y="799.6" font-size="4.2" fill="#333" text-anchor="middle">Cluster 6</text><rect x="508.15" y="800.7" width="42.5" height="53.5" fill="#fff"/><path d="M515.1 800.7V854.2M519.9 800.7V854.2M524.6 800.7V854.2M534.1 800.7V854.2M538.9 800.7V854.2M543.6 800.7V854.2M508.1 803.4H550.6M508.1 820.5H550.6M508.1 837.9H550.6" stroke="#e8e8e8" stroke-width="0.45"/><path d="M508.1 812H550.6M508.1 829.3H550.6M508.1 846.5H550.6" stroke="#f4f4f4" stroke-width="0.45"/><line x1="529.4" y1="800.7" x2="529.4" y2="854.2" stroke="#8a8a8a" stroke-width="0.45" stroke-dasharray="1 1"/><rect x="508.15" y="800.7" width="42.5" height="53.5" fill="none" stroke="#a8a8a8" stroke-width="0.7"/><rect x="552.34" y="796.2" width="42.5" height="4.5" fill="#5bc7d4"/><text x="573.59" y="799.6" font-size="4.2" fill="#333" text-anchor="middle">Cluster 7</text><rect x="552.34" y="800.7" width="42.5" height="53.5" fill="#fff"/><path d="M559.3 800.7V854.2M564.1 800.7V854.2M568.8 800.7V854.2M578.3 800.7V854.2M583.1 800.7V854.2M587.8 800.7V854.2M552.3 803.4H594.8M552.3 820.5H594.8M552.3 837.9H594.8" stroke="#e8e8e8" stroke-width="0.45"/><path d="M552.3 812H594.8M552.3 829.3H594.8M552.3 846.5H594.8" stroke="#f4f4f4" stroke-width="0.45"/><line x1="573.59" y1="800.7" x2="573.59" y2="854.2" stroke="#8a8a8a" stroke-width="0.45" stroke-dasharray="1 1"/><rect x="552.34" y="800.7" width="42.5" height="53.5" fill="none" stroke="#a8a8a8" stroke-width="0.7"/><rect x="596.53" y="796.2" width="42.5" height="4.5" fill="#4e6430"/><text x="617.78" y="799.6" font-size="4.2" fill="#333" text-anchor="middle">Cluster 8</text><rect x="596.53" y="800.7" width="42.5" height="53.5" fill="#fff"/><path d="M603.5 800.7V854.2M608.3 800.7V854.2M613 800.7V854.2M622.5 800.7V854.2M627.3 800.7V854.2M632 800.7V854.2M596.5 803.4H639M596.5 820.5H639M596.5 837.9H639" stroke="#e8e8e8" stroke-width="0.45"/><path d="M596.5 812H639M596.5 829.3H639M596.5 846.5H639" stroke="#f4f4f4" stroke-width="0.45"/><line x1="617.78" y1="800.7" x2="617.78" y2="854.2" stroke="#8a8a8a" stroke-width="0.45" stroke-dasharray="1 1"/><rect x="596.53" y="800.7" width="42.5" height="53.5" fill="none" stroke="#a8a8a8" stroke-width="0.7"/><rect x="640.72" y="796.2" width="42.5" height="4.5" fill="#e42d8e"/><text x="661.97" y="799.6" font-size="4.2" fill="#333" text-anchor="middle">Cluster 9</text><rect x="640.72" y="800.7" width="42.5" height="53.5" fill="#fff"/><path d="M647.7 800.7V854.2M652.5 800.7V854.2M657.2 800.7V854.2M666.7 800.7V854.2M671.5 800.7V854.2M676.2 800.7V854.2M640.7 803.4H683.2M640.7 820.5H683.2M640.7 837.9H683.2" stroke="#e8e8e8" stroke-width="0.45"/><path d="M640.7 812H683.2M640.7 829.3H683.2M640.7 846.5H683.2" stroke="#f4f4f4" stroke-width="0.45"/><line x1="661.97" y1="800.7" x2="661.97" y2="854.2" stroke="#8a8a8a" stroke-width="0.45" stroke-dasharray="1 1"/><rect x="640.72" y="800.7" width="42.5" height="53.5" fill="none" stroke="#a8a8a8" stroke-width="0.7"/><text x="285.5" y="804.3" font-size="2.8" fill="#999" text-anchor="end">0.3</text><line x1="285.8" y1="803.4" x2="287.2" y2="803.4" stroke="#999" stroke-width="0.35"/><text x="285.5" y="821.4" font-size="2.8" fill="#999" text-anchor="end">0.2</text><line x1="285.8" y1="820.5" x2="287.2" y2="820.5" stroke="#999" stroke-width="0.35"/><text x="285.5" y="838.8" font-size="2.8" fill="#999" text-anchor="end">0.1</text><line x1="285.8" y1="837.9" x2="287.2" y2="837.9" stroke="#999" stroke-width="0.35"/><text x="291.2" y="858.9" font-size="4.3" fill="#666" text-anchor="middle">-5kb</text><text x="308.45" y="858.9" font-size="4.3" fill="#666" text-anchor="middle">TSS</text><text x="325.7" y="858.9" font-size="4.3" fill="#666" text-anchor="middle">+5kb</text><text x="256.1" y="871.3" font-size="15.2" font-weight="bold" fill="#111" text-anchor="start">F</text><text x="270" y="894.5" font-size="6.9" font-weight="bold" fill="#111" text-anchor="middle" transform="rotate(-90 270 894.5)">H3K27me3</text><text x="277.7" y="887.5" font-size="4.2" fill="#333" text-anchor="middle" transform="rotate(-90 277.7 887.5)">log<tspan font-size="3" dy="0.8">2</tspan><tspan dy="-0.8">RPKM</tspan></text><rect x="288.8" y="871" width="42" height="4.8" fill="#8b8178"/><text x="309.8" y="874.7" font-size="4.2" fill="#333" text-anchor="middle">Cluster 1</text><rect x="288.8" y="875.8" width="42" height="53.8" fill="#fff"/><path d="M295.6 875.8V929.6M300.3 875.8V929.6M305.1 875.8V929.6M314.6 875.8V929.6M319.3 875.8V929.6M324.1 875.8V929.6M288.8 878.9H330.8M288.8 892.7H330.8M288.8 906.5H330.8M288.8 920.3H330.8" stroke="#e8e8e8" stroke-width="0.45"/><path d="M288.8 885.8H330.8M288.8 899.6H330.8M288.8 913.4H330.8M288.8 927.2H330.8" stroke="#f4f4f4" stroke-width="0.45"/><line x1="309.8" y1="875.8" x2="309.8" y2="929.6" stroke="#8a8a8a" stroke-width="0.45" stroke-dasharray="1 1"/><rect x="288.8" y="875.8" width="42" height="53.8" fill="none" stroke="#a8a8a8" stroke-width="0.7"/><rect x="332.86" y="871" width="42" height="4.8" fill="#8dc63f"/><text x="353.86" y="874.7" font-size="4.2" fill="#333" text-anchor="middle">Cluster 2</text><rect x="332.86" y="875.8" width="42" height="53.8" fill="#fff"/><path d="M339.6 875.8V929.6M344.4 875.8V929.6M349.1 875.8V929.6M358.6 875.8V929.6M363.4 875.8V929.6M368.1 875.8V929.6M332.9 878.9H374.9M332.9 892.7H374.9M332.9 906.5H374.9M332.9 920.3H374.9" stroke="#e8e8e8" stroke-width="0.45"/><path d="M332.9 885.8H374.9M332.9 899.6H374.9M332.9 913.4H374.9M332.9 927.2H374.9" stroke="#f4f4f4" stroke-width="0.45"/><line x1="353.86" y1="875.8" x2="353.86" y2="929.6" stroke="#8a8a8a" stroke-width="0.45" stroke-dasharray="1 1"/><rect x="332.86" y="875.8" width="42" height="53.8" fill="none" stroke="#a8a8a8" stroke-width="0.7"/><rect x="376.92" y="871" width="42" height="4.8" fill="#f4a02c"/><text x="397.92" y="874.7" font-size="4.2" fill="#333" text-anchor="middle">Cluster 3</text><rect x="376.92" y="875.8" width="42" height="53.8" fill="#fff"/><path d="M383.7 875.8V929.6M388.4 875.8V929.6M393.2 875.8V929.6M402.7 875.8V929.6M407.4 875.8V929.6M412.2 875.8V929.6M376.9 878.9H418.9M376.9 892.7H418.9M376.9 906.5H418.9M376.9 920.3H418.9" stroke="#e8e8e8" stroke-width="0.45"/><path d="M376.9 885.8H418.9M376.9 899.6H418.9M376.9 913.4H418.9M376.9 927.2H418.9" stroke="#f4f4f4" stroke-width="0.45"/><line x1="397.92" y1="875.8" x2="397.92" y2="929.6" stroke="#8a8a8a" stroke-width="0.45" stroke-dasharray="1 1"/><rect x="376.92" y="875.8" width="42" height="53.8" fill="none" stroke="#a8a8a8" stroke-width="0.7"/><rect x="420.98" y="871" width="42" height="4.8" fill="#e6e12e"/><text x="441.98" y="874.7" font-size="4.2" fill="#333" text-anchor="middle">Cluster 4</text><rect x="420.98" y="875.8" width="42" height="53.8" fill="#fff"/><path d="M427.7 875.8V929.6M432.5 875.8V929.6M437.2 875.8V929.6M446.7 875.8V929.6M451.5 875.8V929.6M456.2 875.8V929.6M421 878.9H463M421 892.7H463M421 906.5H463M421 920.3H463" stroke="#e8e8e8" stroke-width="0.45"/><path d="M421 885.8H463M421 899.6H463M421 913.4H463M421 927.2H463" stroke="#f4f4f4" stroke-width="0.45"/><line x1="441.98" y1="875.8" x2="441.98" y2="929.6" stroke="#8a8a8a" stroke-width="0.45" stroke-dasharray="1 1"/><rect x="420.98" y="875.8" width="42" height="53.8" fill="none" stroke="#a8a8a8" stroke-width="0.7"/><rect x="465.04" y="871" width="42" height="4.8" fill="#a51f2a"/><text x="486.04" y="874.7" font-size="4.2" fill="#333" text-anchor="middle">Cluster 5</text><rect x="465.04" y="875.8" width="42" height="53.8" fill="#fff"/><path d="M471.8 875.8V929.6M476.5 875.8V929.6M481.3 875.8V929.6M490.8 875.8V929.6M495.5 875.8V929.6M500.3 875.8V929.6M465 878.9H507M465 892.7H507M465 906.5H507M465 920.3H507" stroke="#e8e8e8" stroke-width="0.45"/><path d="M465 885.8H507M465 899.6H507M465 913.4H507M465 927.2H507" stroke="#f4f4f4" stroke-width="0.45"/><line x1="486.04" y1="875.8" x2="486.04" y2="929.6" stroke="#8a8a8a" stroke-width="0.45" stroke-dasharray="1 1"/><rect x="465.04" y="875.8" width="42" height="53.8" fill="none" stroke="#a8a8a8" stroke-width="0.7"/><rect x="509.1" y="871" width="42" height="4.8" fill="#6b61af"/><text x="530.1" y="874.7" font-size="4.2" fill="#333" text-anchor="middle">Cluster 6</text><rect x="509.1" y="875.8" width="42" height="53.8" fill="#fff"/><path d="M515.9 875.8V929.6M520.6 875.8V929.6M525.4 875.8V929.6M534.9 875.8V929.6M539.6 875.8V929.6M544.4 875.8V929.6M509.1 878.9H551.1M509.1 892.7H551.1M509.1 906.5H551.1M509.1 920.3H551.1" stroke="#e8e8e8" stroke-width="0.45"/><path d="M509.1 885.8H551.1M509.1 899.6H551.1M509.1 913.4H551.1M509.1 927.2H551.1" stroke="#f4f4f4" stroke-width="0.45"/><line x1="530.1" y1="875.8" x2="530.1" y2="929.6" stroke="#8a8a8a" stroke-width="0.45" stroke-dasharray="1 1"/><rect x="509.1" y="875.8" width="42" height="53.8" fill="none" stroke="#a8a8a8" stroke-width="0.7"/><rect x="553.16" y="871" width="42" height="4.8" fill="#5bc7d4"/><text x="574.16" y="874.7" font-size="4.2" fill="#333" text-anchor="middle">Cluster 7</text><rect x="553.16" y="875.8" width="42" height="53.8" fill="#fff"/><path d="M559.9 875.8V929.6M564.7 875.8V929.6M569.4 875.8V929.6M578.9 875.8V929.6M583.7 875.8V929.6M588.4 875.8V929.6M553.2 878.9H595.2M553.2 892.7H595.2M553.2 906.5H595.2M553.2 920.3H595.2" stroke="#e8e8e8" stroke-width="0.45"/><path d="M553.2 885.8H595.2M553.2 899.6H595.2M553.2 913.4H595.2M553.2 927.2H595.2" stroke="#f4f4f4" stroke-width="0.45"/><line x1="574.16" y1="875.8" x2="574.16" y2="929.6" stroke="#8a8a8a" stroke-width="0.45" stroke-dasharray="1 1"/><rect x="553.16" y="875.8" width="42" height="53.8" fill="none" stroke="#a8a8a8" stroke-width="0.7"/><rect x="597.22" y="871" width="42" height="4.8" fill="#4e6430"/><text x="618.22" y="874.7" font-size="4.2" fill="#333" text-anchor="middle">Cluster 8</text><rect x="597.22" y="875.8" width="42" height="53.8" fill="#fff"/><path d="M604 875.8V929.6M608.7 875.8V929.6M613.5 875.8V929.6M623 875.8V929.6M627.7 875.8V929.6M632.5 875.8V929.6M597.2 878.9H639.2M597.2 892.7H639.2M597.2 906.5H639.2M597.2 920.3H639.2" stroke="#e8e8e8" stroke-width="0.45"/><path d="M597.2 885.8H639.2M597.2 899.6H639.2M597.2 913.4H639.2M597.2 927.2H639.2" stroke="#f4f4f4" stroke-width="0.45"/><line x1="618.22" y1="875.8" x2="618.22" y2="929.6" stroke="#8a8a8a" stroke-width="0.45" stroke-dasharray="1 1"/><rect x="597.22" y="875.8" width="42" height="53.8" fill="none" stroke="#a8a8a8" stroke-width="0.7"/><rect x="641.28" y="871" width="42" height="4.8" fill="#e42d8e"/><text x="662.28" y="874.7" font-size="4.2" fill="#333" text-anchor="middle">Cluster 9</text><rect x="641.28" y="875.8" width="42" height="53.8" fill="#fff"/><path d="M648 875.8V929.6M652.8 875.8V929.6M657.5 875.8V929.6M667 875.8V929.6M671.8 875.8V929.6M676.5 875.8V929.6M641.3 878.9H683.3M641.3 892.7H683.3M641.3 906.5H683.3M641.3 920.3H683.3" stroke="#e8e8e8" stroke-width="0.45"/><path d="M641.3 885.8H683.3M641.3 899.6H683.3M641.3 913.4H683.3M641.3 927.2H683.3" stroke="#f4f4f4" stroke-width="0.45"/><line x1="662.28" y1="875.8" x2="662.28" y2="929.6" stroke="#8a8a8a" stroke-width="0.45" stroke-dasharray="1 1"/><rect x="641.28" y="875.8" width="42" height="53.8" fill="none" stroke="#a8a8a8" stroke-width="0.7"/><text x="287.1" y="879.8" font-size="2.8" fill="#999" text-anchor="end">2.00</text><line x1="287.4" y1="878.9" x2="288.8" y2="878.9" stroke="#999" stroke-width="0.35"/><text x="287.1" y="893.6" font-size="2.8" fill="#999" text-anchor="end">1.50</text><line x1="287.4" y1="892.7" x2="288.8" y2="892.7" stroke="#999" stroke-width="0.35"/><text x="287.1" y="907.4" font-size="2.8" fill="#999" text-anchor="end">1.00</text><line x1="287.4" y1="906.5" x2="288.8" y2="906.5" stroke="#999" stroke-width="0.35"/><text x="287.1" y="921.2" font-size="2.8" fill="#999" text-anchor="end">0.50</text><line x1="287.4" y1="920.3" x2="288.8" y2="920.3" stroke="#999" stroke-width="0.35"/><text x="292.8" y="934.3" font-size="4.3" fill="#666" text-anchor="middle">-5kb</text><text x="309.8" y="934.3" font-size="4.3" fill="#666" text-anchor="middle">TSS</text><text x="326.8" y="934.3" font-size="4.3" fill="#666" text-anchor="middle">+5kb</text><path d="M287.5 690.5 288.3 690.4 289.1 690.4 290 690.3 290.8 690.3 291.6 690.2 292.4 690.2 293.2 690.1 294.1 690 294.9 689.9 295.7 689.8 296.5 689.6 297.4 689.5 298.2 689.2 299 688.8 299.8 688.1 300.6 687 301.5 685.2 302.3 682.2 303.1 677.8 303.9 671.7 304.7 664.1 305.6 655.7 306.4 648.5 307.2 645.4 308 648.5 308.8 655.7 309.7 664.1 310.5 671.7 311.3 677.8 312.1 682.2 312.9 685.2 313.8 687 314.6 688.1 315.4 688.8 316.2 689.2 317.1 689.5 317.9 689.6 318.7 689.8 319.5 689.9 320.3 690 321.2 690.1 322 690.2 322.8 690.2 323.6 690.3 324.4 690.3 325.3 690.4 326.1 690.4 326.9 690.5" fill="none" stroke="#9352bc" stroke-width="1.05" stroke-linejoin="round"/><path d="M331.8 690.9 332.6 690.9 333.4 690.9 334.3 690.8 335.1 690.8 335.9 690.8 336.7 690.8 337.5 690.8 338.4 690.7 339.2 690.7 340 690.7 340.8 690.6 341.7 690.5 342.5 690.5 343.3 690.4 344.1 690.2 344.9 690 345.8 689.6 346.6 688.9 347.4 687.8 348.2 686 349 683.4 349.9 680.1 350.7 676.8 351.5 675.2 352.3 676.8 353.1 680.1 354 683.4 354.8 686 355.6 687.8 356.4 688.9 357.2 689.6 358.1 690 358.9 690.2 359.7 690.4 360.5 690.5 361.4 690.5 362.2 690.6 363 690.7 363.8 690.7 364.6 690.7 365.5 690.8 366.3 690.8 367.1 690.8 367.9 690.8 368.7 690.8 369.6 690.9 370.4 690.9 371.2 690.9" fill="none" stroke="#9352bc" stroke-width="1.05" stroke-linejoin="round"/><path d="M376.1 691.4 376.9 691.4 377.7 691.4 378.6 691.4 379.4 691.4 380.2 691.4 381 691.3 381.8 691.3 382.7 691.3 383.5 691.3 384.3 691.2 385.1 691.2 385.9 691.1 386.8 691.1 387.6 691 388.4 690.9 389.2 690.7 390.1 690.4 390.9 689.8 391.7 688.8 392.5 687.2 393.3 685 394.2 682.1 395 679.3 395.8 678 396.6 679.3 397.4 682.1 398.3 685 399.1 687.2 399.9 688.8 400.7 689.8 401.5 690.4 402.4 690.7 403.2 690.9 404 691 404.8 691.1 405.6 691.1 406.5 691.2 407.3 691.2 408.1 691.3 408.9 691.3 409.8 691.3 410.6 691.3 411.4 691.4 412.2 691.4 413 691.4 413.9 691.4 414.7 691.4 415.5 691.4" fill="none" stroke="#9352bc" stroke-width="1.05" stroke-linejoin="round"/><path d="M420.4 690.5 421.2 690.5 422 690.5 422.9 690.5 423.7 690.5 424.5 690.5 425.3 690.5 426.1 690.5 427 690.5 427.8 690.5 428.6 690.4 429.4 690.4 430.2 690.4 431.1 690.3 431.9 690.3 432.7 690.2 433.5 690 434.4 689.7 435.2 689.3 436 688.6 436.8 687.7 437.6 686.5 438.5 685.2 439.3 684.1 440.1 683.6 440.9 684.1 441.7 685.2 442.6 686.5 443.4 687.7 444.2 688.6 445 689.3 445.8 689.7 446.7 690 447.5 690.2 448.3 690.3 449.1 690.3 449.9 690.4 450.8 690.4 451.6 690.4 452.4 690.5 453.2 690.5 454.1 690.5 454.9 690.5 455.7 690.5 456.5 690.5 457.3 690.5 458.2 690.5 459 690.5 459.8 690.5" fill="none" stroke="#9352bc" stroke-width="1.05" stroke-linejoin="round"/><path d="M464.7 691.4 465.5 691.3 466.3 691.3 467.2 691.3 468 691.3 468.8 691.3 469.6 691.3 470.4 691.3 471.3 691.3 472.1 691.3 472.9 691.3 473.7 691.2 474.6 691.2 475.4 691.2 476.2 691.1 477 691.1 477.8 691 478.7 690.9 479.5 690.6 480.3 690 481.1 689 481.9 687.4 482.8 685.1 483.6 682.6 484.4 681.4 485.2 682.6 486 685.1 486.9 687.4 487.7 689 488.5 690 489.3 690.6 490.1 690.9 491 691 491.8 691.1 492.6 691.1 493.4 691.2 494.2 691.2 495.1 691.2 495.9 691.3 496.7 691.3 497.5 691.3 498.4 691.3 499.2 691.3 500 691.3 500.8 691.3 501.6 691.3 502.5 691.3 503.3 691.3 504.1 691.4" fill="none" stroke="#9352bc" stroke-width="1.05" stroke-linejoin="round"/><path d="M509 690.2 509.8 690.2 510.6 690.2 511.5 690.2 512.3 690.2 513.1 690.2 513.9 690.2 514.7 690.2 515.6 690.2 516.4 690.2 517.2 690.2 518 690.2 518.9 690.2 519.7 690.2 520.5 690.2 521.3 690.2 522.1 690.3 523 690.3 523.8 690.4 524.6 690.5 525.4 690.7 526.2 690.9 527.1 691.1 527.9 691.3 528.7 691.4 529.5 691.3 530.3 691.1 531.2 690.9 532 690.7 532.8 690.5 533.6 690.4 534.4 690.3 535.3 690.3 536.1 690.2 536.9 690.2 537.7 690.2 538.5 690.2 539.4 690.2 540.2 690.2 541 690.2 541.8 690.2 542.7 690.2 543.5 690.2 544.3 690.2 545.1 690.2 545.9 690.2 546.8 690.2 547.6 690.2 548.4 690.2" fill="none" stroke="#9352bc" stroke-width="1.05" stroke-linejoin="round"/><path d="M553.3 691.7 554.1 691.8 554.9 691.8 555.8 691.8 556.6 691.8 557.4 691.8 558.2 691.8 559 691.8 559.9 691.8 560.7 691.8 561.5 691.9 562.3 691.9 563.1 692 564 692 564.8 692.1 565.6 692.3 566.4 692.5 567.3 692.7 568.1 693 568.9 693.3 569.7 693.7 570.5 694.1 571.4 694.4 572.2 694.6 573 694.7 573.8 694.6 574.6 694.4 575.5 694.1 576.3 693.7 577.1 693.3 577.9 693 578.7 692.7 579.6 692.5 580.4 692.3 581.2 692.1 582 692 582.8 692 583.7 691.9 584.5 691.9 585.3 691.8 586.1 691.8 587 691.8 587.8 691.8 588.6 691.8 589.4 691.8 590.2 691.8 591.1 691.8 591.9 691.8 592.7 691.7" fill="none" stroke="#9352bc" stroke-width="1.05" stroke-linejoin="round"/><path d="M597.6 689.8 598.4 689.8 599.2 689.8 600.1 689.8 600.9 689.8 601.7 689.8 602.5 689.7 603.3 689.7 604.2 689.6 605 689.5 605.8 689.3 606.6 689 607.5 688.8 608.3 688.5 609.1 688.3 609.9 688.2 610.7 688.3 611.6 688.5 612.4 688.9 613.2 689.4 614 690 614.8 690.6 615.7 691.2 616.5 691.7 617.3 691.9 618.1 691.7 618.9 691.2 619.8 690.6 620.6 690 621.4 689.4 622.2 688.9 623 688.5 623.9 688.3 624.7 688.2 625.5 688.3 626.3 688.5 627.1 688.8 628 689 628.8 689.3 629.6 689.5 630.4 689.6 631.3 689.7 632.1 689.7 632.9 689.8 633.7 689.8 634.5 689.8 635.4 689.8 636.2 689.8 637 689.8" fill="none" stroke="#9352bc" stroke-width="1.05" stroke-linejoin="round"/><path d="M641.9 689.3 642.7 689.3 643.5 689.3 644.4 689.3 645.2 689.3 646 689.3 646.8 689.3 647.6 689.3 648.5 689.3 649.3 689.3 650.1 689.3 650.9 689.3 651.8 689.2 652.6 689.2 653.4 689.2 654.2 689.2 655 689.2 655.9 689.1 656.7 689 657.5 688.9 658.3 688.6 659.1 688.1 660 687.5 660.8 686.8 661.6 686.5 662.4 686.8 663.2 687.5 664.1 688.1 664.9 688.6 665.7 688.9 666.5 689 667.3 689.1 668.2 689.2 669 689.2 669.8 689.2 670.6 689.2 671.5 689.2 672.3 689.3 673.1 689.3 673.9 689.3 674.7 689.3 675.6 689.3 676.4 689.3 677.2 689.3 678 689.3 678.8 689.3 679.7 689.3 680.5 689.3 681.3 689.3" fill="none" stroke="#9352bc" stroke-width="1.05" stroke-linejoin="round"/><path d="M288.2 740.3 288.9 740.3 289.6 740.2 290.3 740.9 291 741 291.7 740.8 292.4 740 293.1 741 293.8 741.5 294.5 740.3 295.2 740.5 295.9 741.6 296.6 741 297.3 741.8 298 741.2 298.7 740.8 299.4 742 300.1 742.5 300.8 743.5 301.5 744 302.2 745.8 302.9 749.1 303.6 750 304.3 753.8 305 755.1 305.7 758.6 306.4 761 307.1 762.9 307.9 763 308.6 762 309.3 760.8 310 757.6 310.7 754.3 311.4 752.1 312.1 751.2 312.8 748.4 313.5 747.1 314.2 744.8 314.9 742.6 315.6 742 316.3 742.2 317 741.1 317.7 740.8 318.4 740.6 319.1 740.7 319.8 740 320.5 741.2 321.2 740.6 321.9 741.6 322.6 741.8 323.3 740.9 324 741.5 324.7 741.5 325.4 741 326.1 740.7 326.8 741.5 327.5 741.2" fill="none" stroke="#72b2e4" stroke-width="1.0" stroke-linejoin="round"/><path d="M288.2 742.8 288.9 742.6 289.6 742.9 290.3 743.4 291 743.3 291.7 742.6 292.4 742.9 293.1 743.1 293.8 742.8 294.5 743 295.2 742.5 295.9 742.6 296.6 743.3 297.3 743.3 298 743.1 298.7 744.6 299.4 743.6 300.1 744.5 300.8 744.9 301.5 745.4 302.2 747.3 302.9 749.2 303.6 750.7 304.3 753.4 305 757.3 305.7 757.9 306.4 760.6 307.1 762.7 307.9 763 308.6 761.9 309.3 760.5 310 758.3 310.7 755.6 311.4 753.1 312.1 751.5 312.8 748.7 313.5 746.7 314.2 746 314.9 745.1 315.6 743.5 316.3 743.4 317 742.8 317.7 743.5 318.4 743.7 319.1 743 319.8 743.8 320.5 742.7 321.2 742.8 321.9 743 322.6 743.1 323.3 743.9 324 742.3 324.7 743.3 325.4 743 326.1 743.6 326.8 742.2 327.5 742.3" fill="none" stroke="#e8413b" stroke-width="1.0" stroke-linejoin="round"/><path d="M332.2 741.1 332.9 740.9 333.6 740.9 334.3 740.4 335 741.2 335.7 740.8 336.4 740.3 337.1 741.1 337.8 741.3 338.5 741.3 339.2 742 339.9 742.5 340.6 743.9 341.3 745 342 746.2 342.7 747.5 343.4 747.8 344.1 750.5 344.8 752.7 345.5 754.9 346.2 756.7 346.9 758.5 347.6 763.2 348.3 765.7 349 769.7 349.7 771.2 350.4 774.6 351.1 775.6 351.9 775.7 352.6 775.6 353.3 774.2 354 772.5 354.7 769.6 355.4 766.8 356.1 763.5 356.8 759.8 357.5 757 358.2 754.7 358.9 752.1 359.6 749.3 360.3 747.3 361 747.3 361.7 745.6 362.4 745.6 363.1 743.3 363.8 743.5 364.5 742.4 365.2 742.1 365.9 741.5 366.6 741.8 367.3 741.2 368 740.5 368.7 740.5 369.4 740.3 370.1 740.4 370.8 740.4 371.5 739.9" fill="none" stroke="#72b2e4" stroke-width="1.0" stroke-linejoin="round"/><path d="M332.2 742.8 332.9 743.1 333.6 742.2 334.3 743.4 335 743.4 335.7 741.6 336.4 742.7 337.1 743.3 337.8 742.2 338.5 743.7 339.2 744.1 339.9 744 340.6 744.4 341.3 744 342 744.9 342.7 745.2 343.4 745.3 344.1 746.2 344.8 746.2 345.5 747.6 346.2 750.4 346.9 752.2 347.6 753.2 348.3 755 349 757.1 349.7 761.1 350.4 762.6 351.1 764.9 351.9 765 352.6 764.9 353.3 762.9 354 760.1 354.7 758 355.4 756.5 356.1 752.9 356.8 751.9 357.5 749.6 358.2 749 358.9 746.8 359.6 745.7 360.3 745.9 361 743 361.7 745 362.4 744.2 363.1 743.5 363.8 744.1 364.5 743.3 365.2 743.8 365.9 743.5 366.6 743.8 367.3 742.8 368 742.9 368.7 744.2 369.4 743.4 370.1 743.1 370.8 742.6 371.5 742.8" fill="none" stroke="#e8413b" stroke-width="1.0" stroke-linejoin="round"/><path d="M376.2 741.6 376.9 740.9 377.6 741.6 378.3 741.6 379 740.7 379.7 741.9 380.4 742.7 381.1 741.9 381.8 742.2 382.5 742.7 383.2 742.6 383.9 742.3 384.6 743.7 385.3 744.1 386 744.7 386.7 746.8 387.4 747.3 388.1 748.2 388.8 749.9 389.5 753.1 390.2 754.8 390.9 755.8 391.6 759.8 392.3 761.9 393 764.7 393.7 768.3 394.4 770.3 395.1 770.9 395.9 771.9 396.6 771.7 397.3 769.8 398 767.9 398.7 764.6 399.4 762.9 400.1 760.2 400.8 756.4 401.5 753.6 402.2 751.9 402.9 750.7 403.6 748.7 404.3 747.2 405 746.1 405.7 744.3 406.4 744.3 407.1 743.7 407.8 742.9 408.5 743.3 409.2 742.2 409.9 742 410.6 742.6 411.3 742.4 412 741.9 412.7 741.9 413.4 741.9 414.1 741.8 414.8 741 415.5 742" fill="none" stroke="#72b2e4" stroke-width="1.0" stroke-linejoin="round"/><path d="M376.2 738.2 376.9 737.4 377.6 737 378.3 737.8 379 737.6 379.7 736.8 380.4 737.2 381.1 737 381.8 737.9 382.5 736.7 383.2 738.2 383.9 737.2 384.6 737.8 385.3 737.6 386 738.2 386.7 739 387.4 739.1 388.1 738.7 388.8 739.9 389.5 741.1 390.2 743.4 390.9 743.5 391.6 745.4 392.3 747.1 393 749.6 393.7 752.1 394.4 753 395.1 755.6 395.9 756 396.6 755.3 397.3 753.9 398 753 398.7 749 399.4 747.2 400.1 746.8 400.8 743.1 401.5 742.5 402.2 741 402.9 739.6 403.6 738.8 404.3 738.6 405 738.5 405.7 738.3 406.4 738.2 407.1 737.7 407.8 737.6 408.5 737.8 409.2 737.1 409.9 736.6 410.6 737.8 411.3 736.1 412 737.6 412.7 737.9 413.4 736.5 414.1 735.9 414.8 736.7 415.5 737.3" fill="none" stroke="#e8413b" stroke-width="1.0" stroke-linejoin="round"/><path d="M420.2 738.5 420.9 739.7 421.6 739.7 422.3 739 423 740.1 423.7 739.1 424.4 739.9 425.1 740.5 425.8 741.5 426.5 741.6 427.2 742.4 427.9 741.4 428.6 744.6 429.3 743.2 430 744.9 430.7 746.8 431.4 747.6 432.1 749.6 432.8 750.2 433.5 752.3 434.2 755 434.9 757.5 435.6 760.5 436.3 763.1 437 765.3 437.7 768.6 438.4 769.8 439.1 771.6 439.9 772.7 440.6 771.6 441.3 770.8 442 769.2 442.7 767.3 443.4 764.6 444.1 761.8 444.8 759.1 445.5 755.7 446.2 753.7 446.9 751.8 447.6 750.2 448.3 748.9 449 747.2 449.7 746.4 450.4 746.4 451.1 744.9 451.8 743.5 452.5 744 453.2 743.7 453.9 743.3 454.6 744.5 455.3 743.7 456 744.1 456.7 742.7 457.4 743.4 458.1 743.1 458.8 742.9 459.5 742.5" fill="none" stroke="#72b2e4" stroke-width="1.0" stroke-linejoin="round"/><path d="M420.2 738.2 420.9 737 421.6 738.6 422.3 739.7 423 739 423.7 737 424.4 738.3 425.1 737.8 425.8 738 426.5 738.2 427.2 739.1 427.9 739 428.6 738.2 429.3 739.2 430 739.2 430.7 740.7 431.4 739.2 432.1 740.6 432.8 741 433.5 742.6 434.2 742.8 434.9 744.9 435.6 747.2 436.3 748.8 437 750.7 437.7 753.1 438.4 754.5 439.1 755.5 439.9 756.3 440.6 756.1 441.3 755 442 752.2 442.7 750.9 443.4 749.8 444.1 746.4 444.8 745.5 445.5 743.6 446.2 743.2 446.9 742.2 447.6 740.8 448.3 739.7 449 738.6 449.7 738.9 450.4 738.4 451.1 738.7 451.8 739.4 452.5 739.5 453.2 738.5 453.9 738.4 454.6 738.2 455.3 738.4 456 738.1 456.7 739.1 457.4 737.7 458.1 738.2 458.8 737.7 459.5 738.6" fill="none" stroke="#e8413b" stroke-width="1.0" stroke-linejoin="round"/><path d="M464.2 739.5 464.9 738.9 465.6 738.6 466.3 738.6 467 738.9 467.7 738.3 468.4 739.5 469.1 739.6 469.8 739.2 470.5 739.1 471.2 738.5 471.9 739.7 472.6 738 473.3 738.4 474 740.1 474.7 738.8 475.4 738.7 476.1 738.5 476.8 740.4 477.5 741.1 478.2 741.6 478.9 742.2 479.6 745.3 480.3 747.9 481 752.5 481.7 756.8 482.4 760.1 483.1 763.1 483.9 764.9 484.6 763.8 485.3 759.2 486 756.2 486.7 751.3 487.4 747.9 488.1 746 488.8 742.5 489.5 741.4 490.2 741.1 490.9 740.1 491.6 738.5 492.3 739.1 493 738.9 493.7 738.4 494.4 740 495.1 738.8 495.8 738.8 496.5 739.3 497.2 738.8 497.9 738 498.6 738.7 499.3 738.9 500 738.7 500.7 739.2 501.4 739.1 502.1 738.9 502.8 738.5 503.5 738.6" fill="none" stroke="#72b2e4" stroke-width="1.0" stroke-linejoin="round"/><path d="M464.2 739.5 464.9 737.6 465.6 739.1 466.3 738.7 467 738.1 467.7 738.5 468.4 738.8 469.1 737.7 469.8 738.6 470.5 738.8 471.2 738 471.9 738.6 472.6 739.3 473.3 738.6 474 738.1 474.7 737.7 475.4 737.6 476.1 739.2 476.8 738.6 477.5 738.7 478.2 738.8 478.9 738.9 479.6 740.7 480.3 741 481 742.5 481.7 742.3 482.4 744.7 483.1 745.9 483.9 745.4 484.6 745.1 485.3 744 486 743.5 486.7 741.8 487.4 740.2 488.1 740.2 488.8 738.9 489.5 739 490.2 738.7 490.9 738.2 491.6 739.1 492.3 738.6 493 737.3 493.7 738.4 494.4 739.3 495.1 737.3 495.8 739 496.5 738.6 497.2 737.8 497.9 738.5 498.6 737.9 499.3 737.7 500 738.7 500.7 738.6 501.4 737.5 502.1 738.2 502.8 738.5 503.5 737.6" fill="none" stroke="#e8413b" stroke-width="1.0" stroke-linejoin="round"/><path d="M508.2 741.6 508.9 740.6 509.6 741.2 510.3 741.4 511 740.5 511.7 741.2 512.4 741.1 513.1 741.2 513.8 740.8 514.5 741.5 515.2 741.4 515.9 741.8 516.6 741.6 517.3 740.3 518 740.7 518.7 741.2 519.4 741.5 520.1 740.6 520.8 741 521.5 741.1 522.2 740.9 522.9 741.4 523.6 740.2 524.3 740.9 525 739.9 525.7 740.2 526.4 739.1 527.1 739.1 527.9 739.5 528.6 738.7 529.3 739.6 530 740.3 530.7 740.3 531.4 740.4 532.1 740.8 532.8 740.4 533.5 741.3 534.2 741.3 534.9 741.9 535.6 741.1 536.3 741.6 537 740.7 537.7 741.3 538.4 740.5 539.1 741.1 539.8 740.8 540.5 741.5 541.2 739.9 541.9 740.9 542.6 740.9 543.3 741.4 544 740.6 544.7 740.8 545.4 741.7 546.1 740.7 546.8 740.8 547.5 741.6" fill="none" stroke="#72b2e4" stroke-width="1.0" stroke-linejoin="round"/><path d="M508.2 746.5 508.9 747.8 509.6 747.8 510.3 747.8 511 746.7 511.7 746.9 512.4 747.2 513.1 747.2 513.8 748 514.5 747.4 515.2 748.4 515.9 747.6 516.6 747.9 517.3 747.2 518 747.3 518.7 747.8 519.4 748.1 520.1 747.2 520.8 748.3 521.5 747.4 522.2 748.4 522.9 746.8 523.6 747.2 524.3 747.6 525 746.8 525.7 745.9 526.4 745.6 527.1 744.7 527.9 743.4 528.6 744.6 529.3 745 530 745.8 530.7 747.5 531.4 746.9 532.1 747.1 532.8 747.9 533.5 747 534.2 747 534.9 747.4 535.6 747.6 536.3 748.1 537 747.5 537.7 747.3 538.4 746.9 539.1 747.4 539.8 747.4 540.5 748.2 541.2 746.8 541.9 746.7 542.6 746.6 543.3 747.5 544 747.9 544.7 748.5 545.4 746.8 546.1 747.7 546.8 747.3 547.5 748.5" fill="none" stroke="#e8413b" stroke-width="1.0" stroke-linejoin="round"/><path d="M552.2 738.1 552.9 738.7 553.6 737.9 554.3 738.5 555 738.1 555.7 737.6 556.4 738.4 557.1 737.8 557.8 736.7 558.5 737.9 559.2 737.3 559.9 738.2 560.6 738.8 561.3 738.2 562 738.3 562.7 737.4 563.4 737.7 564.1 737.8 564.8 739.3 565.5 738.2 566.2 738.8 566.9 738 567.6 739.2 568.3 740.3 569 741 569.7 742 570.4 743.4 571.1 744.3 571.9 743.8 572.6 743.4 573.3 743.5 574 742.5 574.7 740.3 575.4 740.5 576.1 738.7 576.8 738.9 577.5 739.3 578.2 737.5 578.9 738.2 579.6 738 580.3 737.5 581 738.4 581.7 737.5 582.4 737.6 583.1 737.4 583.8 738.2 584.5 738.2 585.2 738.7 585.9 737.8 586.6 737.5 587.3 738.7 588 737.6 588.7 738.3 589.4 738.8 590.1 738.3 590.8 736.9 591.5 737.3" fill="none" stroke="#72b2e4" stroke-width="1.0" stroke-linejoin="round"/><path d="M552.2 734 552.9 734.8 553.6 733.9 554.3 734.8 555 734.5 555.7 734.4 556.4 734.3 557.1 733.9 557.8 735 558.5 734.3 559.2 735 559.9 733.6 560.6 733.1 561.3 734.6 562 733.1 562.7 733.6 563.4 733.1 564.1 732.9 564.8 732.4 565.5 731.6 566.2 731 566.9 731.3 567.6 730.2 568.3 730.9 569 729.5 569.7 729.6 570.4 728.2 571.1 728.5 571.9 727.7 572.6 727.6 573.3 728.3 574 728.8 574.7 730.8 575.4 729.3 576.1 730.2 576.8 731.5 577.5 731.6 578.2 732.2 578.9 733 579.6 732.9 580.3 732.9 581 732.7 581.7 733.6 582.4 734.1 583.1 734.1 583.8 734.7 584.5 733.9 585.2 734.3 585.9 733.8 586.6 733.2 587.3 734.6 588 734 588.7 734.7 589.4 734 590.1 733.5 590.8 733.9 591.5 734.2" fill="none" stroke="#e8413b" stroke-width="1.0" stroke-linejoin="round"/><path d="M596.2 740.6 596.9 740.8 597.6 741.3 598.3 741 599 741.3 599.7 740.9 600.4 740.6 601.1 740.5 601.8 739.8 602.5 741.3 603.2 741.6 603.9 740.5 604.6 740.5 605.3 740.5 606 741.2 606.7 741.1 607.4 740.9 608.1 741 608.8 740.1 609.5 741 610.2 741 610.9 741.4 611.6 740.8 612.3 741 613 741.7 613.7 743.5 614.4 742.4 615.1 744.7 615.9 743.5 616.6 743.6 617.3 742.3 618 742.8 618.7 741.6 619.4 741.4 620.1 741.7 620.8 741.8 621.5 740.7 622.2 741.2 622.9 740.8 623.6 741.7 624.3 739.9 625 742.2 625.7 740.9 626.4 739.9 627.1 741.2 627.8 740.6 628.5 741 629.2 741.1 629.9 741.6 630.6 740 631.3 741.2 632 741.6 632.7 740.3 633.4 741.4 634.1 741.4 634.8 740.7 635.5 740" fill="none" stroke="#72b2e4" stroke-width="1.0" stroke-linejoin="round"/><path d="M596.2 741.6 596.9 741.2 597.6 742.3 598.3 741.4 599 741.9 599.7 741.7 600.4 741.6 601.1 740.8 601.8 741.1 602.5 741.6 603.2 741.5 603.9 741.4 604.6 741.9 605.3 741.5 606 741.9 606.7 741.6 607.4 741.7 608.1 741.2 608.8 740.7 609.5 742 610.2 742 610.9 741.9 611.6 741.2 612.3 742.3 613 741.9 613.7 742.1 614.4 741.9 615.1 742.1 615.9 742.1 616.6 742.6 617.3 741.9 618 742 618.7 741.6 619.4 741 620.1 741.7 620.8 741.7 621.5 741.6 622.2 739.9 622.9 742.1 623.6 741.5 624.3 741 625 742.6 625.7 741.5 626.4 741.9 627.1 741.6 627.8 740.2 628.5 742.2 629.2 740.9 629.9 742.1 630.6 741.4 631.3 741 632 740.2 632.7 741.2 633.4 741 634.1 741.5 634.8 740.9 635.5 741.9" fill="none" stroke="#e8413b" stroke-width="1.0" stroke-linejoin="round"/><path d="M640.2 757.2 640.9 757.2 641.6 758.6 642.3 757.9 643 757.1 643.7 757.7 644.4 756.6 645.1 757.1 645.8 757.4 646.5 757.1 647.2 756.9 647.9 757.8 648.6 757.2 649.3 757.1 650 757.2 650.7 757.1 651.4 757.9 652.1 757.6 652.8 756.7 653.5 758.2 654.2 758.1 654.9 757.3 655.6 757 656.3 757.5 657 757.2 657.7 757.8 658.4 757.5 659.1 758.2 659.9 756.6 660.6 757.2 661.3 757.6 662 757.2 662.7 757.3 663.4 756.9 664.1 758.5 664.8 757.4 665.5 757.9 666.2 757.1 666.9 757.2 667.6 757.4 668.3 758.4 669 758.2 669.7 758.6 670.4 758.3 671.1 758.3 671.8 757.4 672.5 757.1 673.2 758.2 673.9 757.1 674.6 757.8 675.3 757.2 676 756.9 676.7 757.5 677.4 757 678.1 757.3 678.8 758 679.5 757.4" fill="none" stroke="#72b2e4" stroke-width="1.0" stroke-linejoin="round"/><path d="M640.2 762.3 640.9 761.5 641.6 762 642.3 761.2 643 762.5 643.7 760.7 644.4 761.9 645.1 762.1 645.8 760.4 646.5 760.9 647.2 761 647.9 761.7 648.6 761.6 649.3 761.6 650 762.1 650.7 763 651.4 761.2 652.1 762 652.8 761.8 653.5 762.4 654.2 760.6 654.9 760.9 655.6 761.2 656.3 761.2 657 761.9 657.7 761.5 658.4 760.7 659.1 761.4 659.9 760.9 660.6 761.4 661.3 761.7 662 761.4 662.7 762.4 663.4 763 664.1 762.1 664.8 760.9 665.5 762.6 666.2 762.9 666.9 761.7 667.6 762 668.3 762.4 669 761.9 669.7 762.5 670.4 762.1 671.1 761.5 671.8 761.5 672.5 761.6 673.2 761.4 673.9 762.5 674.6 762 675.3 761.7 676 762.2 676.7 761.8 677.4 762.3 678.1 762.7 678.8 761.9 679.5 761.5" fill="none" stroke="#e8413b" stroke-width="1.0" stroke-linejoin="round"/><path d="M288.4 848.6 289.3 849 290.2 848.8 291.1 848.6 292 848.7 293 848.5 293.9 848.8 294.8 848.6 295.7 848.3 296.6 847.9 297.5 848.1 298.4 847.1 299.3 845.7 300.2 844.2 301.2 841.9 302.1 838.6 303 834.1 303.9 829.4 304.8 823.8 305.7 818.3 306.6 813.8 307.5 811.7 308.4 811.9 309.4 811.9 310.3 813.7 311.2 818.3 312.1 823.8 313 829.1 313.9 834.2 314.8 838.5 315.7 842.1 316.7 844.5 317.6 845.7 318.5 847 319.4 848.1 320.3 848.1 321.2 848.6 322.1 848.6 323 848.8 323.9 848.6 324.9 848.7 325.8 848.8 326.7 848.7 327.6 848.8 328.5 849" fill="none" stroke="#72b2e4" stroke-width="1.0" stroke-linejoin="round"/><path d="M288.4 850.5 289.3 850.7 290.2 850.4 291.1 850.4 292 850.6 293 850.5 293.9 850.5 294.8 850.3 295.7 850.1 296.6 849.8 297.5 849.2 298.4 848.6 299.3 847.6 300.2 845.5 301.2 842.9 302.1 839.3 303 834.2 303.9 828.8 304.8 822.5 305.7 816.7 306.6 811.4 307.5 809.5 308.4 809.6 309.4 809.5 310.3 811.5 311.2 816.8 312.1 822.5 313 828.7 313.9 834.1 314.8 838.9 315.7 842.7 316.7 845.4 317.6 847.5 318.5 848.6 319.4 849.3 320.3 849.8 321.2 850 322.1 850.1 323 850.2 323.9 850.4 324.9 850.4 325.8 850.4 326.7 850.8 327.6 850.6 328.5 850.7" fill="none" stroke="#e8413b" stroke-width="1.0" stroke-linejoin="round"/><path d="M332.6 849.9 333.5 849.5 334.4 849.8 335.3 849.6 336.2 849.6 337.1 849.3 338.1 849.3 339 849.4 339.9 849.3 340.8 849.4 341.7 848.9 342.6 848.7 343.5 848.2 344.4 847.4 345.3 846.4 346.3 844.9 347.2 842.9 348.1 839.9 349 836 349.9 831.9 350.8 827.9 351.7 824.6 352.6 823.8 353.6 824.8 354.5 827.9 355.4 831.9 356.3 835.9 357.2 839.7 358.1 842.3 359 844.8 359.9 846.4 360.8 847.8 361.8 848 362.7 848.8 363.6 848.9 364.5 849.3 365.4 849.2 366.3 849.4 367.2 849.6 368.1 849.9 369 849.4 370 849.6 370.9 849.6 371.8 849.6 372.7 849.7" fill="none" stroke="#72b2e4" stroke-width="1.0" stroke-linejoin="round"/><path d="M332.6 849.6 333.5 849.5 334.4 849.3 335.3 849.5 336.2 849.2 337.1 849.3 338.1 849.4 339 849 339.9 849 340.8 848.9 341.7 848.6 342.6 848.2 343.5 847.6 344.4 846.8 345.3 845.1 346.3 843 347.2 840.1 348.1 835.8 349 830.8 349.9 825.5 350.8 820 351.7 815.6 352.6 813.7 353.6 815.3 354.5 820.1 355.4 825.6 356.3 831.1 357.2 835.9 358.1 840 359 842.9 359.9 845.1 360.8 846.7 361.8 847.7 362.7 848.3 363.6 848.6 364.5 849.1 365.4 848.9 366.3 849.3 367.2 849.2 368.1 849.5 369 849.3 370 849.8 370.9 849.7 371.8 849.3 372.7 849.8" fill="none" stroke="#e8413b" stroke-width="1.0" stroke-linejoin="round"/><path d="M376.8 847.8 377.7 847.9 378.6 847.8 379.5 847.7 380.4 847.5 381.3 847.6 382.2 847.7 383.2 847.4 384.1 847.4 385 847.5 385.9 847.5 386.8 847.2 387.7 847.3 388.6 846.6 389.5 846.2 390.5 845.4 391.4 843.6 392.3 841.7 393.2 838.7 394.1 835.1 395 831.8 395.9 828.7 396.8 827.2 397.7 828.6 398.7 831.7 399.6 835.2 400.5 839 401.4 841.5 402.3 843.6 403.2 845.2 404.1 846.1 405 846.7 405.9 847 406.9 847.1 407.8 847.5 408.7 847.3 409.6 847.7 410.5 847.7 411.4 847.6 412.3 847.7 413.2 847.6 414.1 847.8 415.1 848 416 847.9 416.9 847.8" fill="none" stroke="#72b2e4" stroke-width="1.0" stroke-linejoin="round"/><path d="M376.8 848.5 377.7 848.2 378.6 848.2 379.5 848.5 380.4 848.3 381.3 848.3 382.2 848.2 383.2 848.1 384.1 848.1 385 848 385.9 848.1 386.8 847.5 387.7 847.1 388.6 847 389.5 846.1 390.5 845.2 391.4 843.3 392.3 840.9 393.2 837.7 394.1 833.4 395 829 395.9 825.6 396.8 823.9 397.7 825.5 398.7 829.1 399.6 833.3 400.5 837.7 401.4 840.7 402.3 843.6 403.2 845.3 404.1 846.2 405 847 405.9 847.5 406.9 847.6 407.8 848.1 408.7 847.8 409.6 848.2 410.5 847.8 411.4 848.1 412.3 848.3 413.2 847.9 414.1 848.3 415.1 848.1 416 848.1 416.9 848.2" fill="none" stroke="#e8413b" stroke-width="1.0" stroke-linejoin="round"/><path d="M421 847.1 421.9 847 422.8 847 423.7 846.9 424.6 846.6 425.5 847.2 426.4 847.2 427.3 846.9 428.3 846.7 429.2 846.4 430.1 846.4 431 846.2 431.9 845.6 432.8 845 433.7 844.3 434.6 843 435.6 841.4 436.5 839.5 437.4 837.1 438.3 834.7 439.2 832.3 440.1 830.4 441 829.8 441.9 830.6 442.8 832.5 443.8 834.4 444.7 837 445.6 839.6 446.5 841.5 447.4 843 448.3 844 449.2 845.1 450.1 845.8 451 846.2 452 846.3 452.9 846.5 453.8 846.8 454.7 846.8 455.6 847.1 456.5 846.6 457.4 846.9 458.3 847.2 459.2 846.9 460.2 847.1 461.1 847.3" fill="none" stroke="#72b2e4" stroke-width="1.0" stroke-linejoin="round"/><path d="M421 847 421.9 847.2 422.8 847.4 423.7 846.8 424.6 846.7 425.5 847 426.4 846.7 427.3 846.7 428.3 846.5 429.2 846.5 430.1 845.9 431 845.7 431.9 845 432.8 843.9 433.7 842.6 434.6 840.5 435.6 838 436.5 835.3 437.4 830.9 438.3 827.1 439.2 823.3 440.1 820.5 441 819.4 441.9 820.5 442.8 823.8 443.8 827.2 444.7 831 445.6 834.8 446.5 837.9 447.4 840.4 448.3 842.6 449.2 843.9 450.1 845 451 845.4 452 846.1 452.9 846.3 453.8 846.4 454.7 846.4 455.6 846.8 456.5 846.7 457.4 847.1 458.3 847.1 459.2 847.1 460.2 847.5 461.1 847.3" fill="none" stroke="#e8413b" stroke-width="1.0" stroke-linejoin="round"/><path d="M465.2 848.1 466.1 848.5 467 848.4 467.9 848.4 468.8 848.3 469.7 848.5 470.6 848 471.5 848.2 472.5 848.4 473.4 848.3 474.3 848.4 475.2 848.2 476.1 848.1 477 848.2 477.9 848 478.8 847.6 479.7 847.6 480.7 846.6 481.6 845.1 482.5 841.5 483.4 836.1 484.3 829.6 485.2 825.9 486.1 829.6 487 836 487.9 841.5 488.9 845 489.8 846.7 490.7 847.5 491.6 847.8 492.5 847.9 493.4 848.2 494.3 848.2 495.2 848.1 496.1 848.3 497.1 848.4 498 848.1 498.9 848.4 499.8 848.3 500.7 848.4 501.6 848.4 502.5 848.5 503.4 848.4 504.3 848.1 505.3 848.4" fill="none" stroke="#72b2e4" stroke-width="1.0" stroke-linejoin="round"/><path d="M465.2 849.5 466.1 849.6 467 849.6 467.9 849.5 468.8 849.6 469.7 849.5 470.6 849.3 471.5 849.3 472.5 849.6 473.4 849.5 474.3 849.1 475.2 849.1 476.1 849.4 477 849.2 477.9 848.9 478.8 849.1 479.7 848.9 480.7 848.3 481.6 847 482.5 844.5 483.4 840.5 484.3 835.9 485.2 833.5 486.1 836.3 487 841 487.9 844.5 488.9 846.8 489.8 848.2 490.7 848.7 491.6 849 492.5 848.9 493.4 849.2 494.3 849.2 495.2 849.3 496.1 849.1 497.1 849.4 498 849.2 498.9 849.3 499.8 849.3 500.7 849.3 501.6 849.3 502.5 849.3 503.4 849.3 504.3 849.3 505.3 849.4" fill="none" stroke="#e8413b" stroke-width="1.0" stroke-linejoin="round"/><path d="M509.3 849.1 510.3 849.5 511.2 849.3 512.1 849.1 513 849 513.9 849.4 514.8 849.2 515.7 849.2 516.6 849.4 517.6 848.9 518.5 849.1 519.4 849.2 520.3 849.4 521.2 849.2 522.1 849.2 523 849.2 523.9 849.2 524.8 849.2 525.8 849 526.7 848.9 527.6 848.8 528.5 848.8 529.4 848.8 530.3 848.7 531.2 848.8 532.1 849.2 533 849.2 534 849.2 534.9 849.1 535.8 849.1 536.7 849.3 537.6 849.2 538.5 849.4 539.4 849.1 540.3 849.2 541.2 849.2 542.2 849 543.1 849.1 544 849 544.9 849.1 545.8 849.2 546.7 849.6 547.6 849 548.5 849.3 549.4 849.1" fill="none" stroke="#72b2e4" stroke-width="1.0" stroke-linejoin="round"/><path d="M509.3 850.5 510.3 850.3 511.2 850.3 512.1 850.6 513 850.6 513.9 850.1 514.8 850.4 515.7 850.3 516.6 850.2 517.6 850.4 518.5 850.5 519.4 850.4 520.3 850.5 521.2 850.6 522.1 850.3 523 850.6 523.9 850.7 524.8 849.9 525.8 850.2 526.7 850.4 527.6 850.1 528.5 849.8 529.4 850 530.3 850 531.2 849.8 532.1 850.3 533 850.3 534 850.4 534.9 850.2 535.8 850.5 536.7 850.4 537.6 850.2 538.5 850.3 539.4 850.6 540.3 850.6 541.2 850.2 542.2 850.5 543.1 850.4 544 850.3 544.9 850.4 545.8 850.6 546.7 850.5 547.6 850.3 548.5 850.4 549.4 850.5" fill="none" stroke="#e8413b" stroke-width="1.0" stroke-linejoin="round"/><path d="M553.5 848.5 554.5 848.3 555.4 848.3 556.3 848.3 557.2 848.4 558.1 848 559 848.5 559.9 848.3 560.8 848.3 561.7 848.1 562.7 848.3 563.6 848.6 564.5 848.2 565.4 848.1 566.3 848.4 567.2 848.3 568.1 848.3 569 848 569.9 848.3 570.9 848.2 571.8 847.4 572.7 847.9 573.6 847.9 574.5 847.7 575.4 847.7 576.3 848.1 577.2 848.5 578.1 848.3 579.1 848.6 580 848.3 580.9 848.3 581.8 848.2 582.7 848.5 583.6 848.1 584.5 848.2 585.4 848.2 586.3 848.3 587.3 848.3 588.2 848.1 589.1 848.1 590 848.6 590.9 848.3 591.8 848.3 592.7 848.3 593.6 848.3" fill="none" stroke="#72b2e4" stroke-width="1.0" stroke-linejoin="round"/><path d="M553.5 849.7 554.5 850 555.4 849.9 556.3 849.8 557.2 849.9 558.1 849.8 559 849.7 559.9 849.9 560.8 849.8 561.7 849.7 562.7 850 563.6 849.8 564.5 849.9 565.4 850 566.3 849.6 567.2 849.7 568.1 849.9 569 849.7 569.9 849.7 570.9 849.6 571.8 849.5 572.7 849.4 573.6 849.5 574.5 849.5 575.4 849.8 576.3 849.7 577.2 850 578.1 849.8 579.1 850 580 849.8 580.9 850 581.8 849.8 582.7 850 583.6 849.7 584.5 849.7 585.4 849.9 586.3 849.7 587.3 850 588.2 849.8 589.1 849.9 590 850 590.9 849.9 591.8 849.7 592.7 849.6 593.6 849.6" fill="none" stroke="#e8413b" stroke-width="1.0" stroke-linejoin="round"/><path d="M597.7 847.7 598.6 847.7 599.6 847.7 600.5 847.9 601.4 847.6 602.3 847.6 603.2 847.8 604.1 848.1 605 847.7 605.9 847.8 606.8 847.8 607.8 848 608.7 847.9 609.6 847.7 610.5 847.9 611.4 847.8 612.3 847.9 613.2 848 614.1 847.3 615 847.2 616 847 616.9 846.8 617.8 846.8 618.7 847 619.6 847.5 620.5 847.6 621.4 847.6 622.3 847.7 623.2 847.8 624.2 847.8 625.1 847.7 626 847.9 626.9 847.7 627.8 847.8 628.7 847.8 629.6 847.7 630.5 847.7 631.5 847.8 632.4 847.8 633.3 847.6 634.2 848 635.1 848 636 848 636.9 848 637.8 847.8" fill="none" stroke="#72b2e4" stroke-width="1.0" stroke-linejoin="round"/><path d="M597.7 848.3 598.6 848.2 599.6 848.1 600.5 848.3 601.4 848.1 602.3 848.4 603.2 848.4 604.1 848.3 605 848.3 605.9 848.4 606.8 848.5 607.8 848.3 608.7 848.6 609.6 848.2 610.5 848.3 611.4 848.3 612.3 848.3 613.2 848.3 614.1 848.2 615 847.9 616 847.9 616.9 847.1 617.8 847.2 618.7 847.4 619.6 847.5 620.5 847.7 621.4 848.2 622.3 848.4 623.2 848.4 624.2 848.3 625.1 848.3 626 848.3 626.9 848.3 627.8 848.5 628.7 848.5 629.6 848.5 630.5 848.3 631.5 848.5 632.4 848.5 633.3 848.1 634.2 848.4 635.1 848.3 636 848.4 636.9 848.2 637.8 848.2" fill="none" stroke="#e8413b" stroke-width="1.0" stroke-linejoin="round"/><path d="M641.9 850.2 642.8 850.1 643.7 850.1 644.7 850 645.6 850.2 646.5 850.3 647.4 850 648.3 850.2 649.2 850.1 650.1 850.2 651 850.3 651.9 850.1 652.9 850.1 653.8 849.9 654.7 850.2 655.6 850.2 656.5 849.5 657.4 849.6 658.3 849 659.2 848 660.1 847.5 661.1 846.2 662 845.9 662.9 846 663.8 847.1 664.7 848 665.6 849 666.5 849.2 667.4 849.7 668.3 850.1 669.3 850.1 670.2 850.2 671.1 850.1 672 850.2 672.9 850.1 673.8 849.9 674.7 850.2 675.6 850.1 676.6 850 677.5 850 678.4 850.3 679.3 849.9 680.2 850 681.1 850.2 682 850.3" fill="none" stroke="#72b2e4" stroke-width="1.0" stroke-linejoin="round"/><path d="M641.9 850.6 642.8 850.3 643.7 850.7 644.7 850.5 645.6 850.3 646.5 850.7 647.4 850.5 648.3 850.3 649.2 850.1 650.1 850.5 651 850.4 651.9 850.5 652.9 850.5 653.8 850.3 654.7 850.4 655.6 850.3 656.5 850 657.4 849.9 658.3 849.3 659.2 848.3 660.1 847.3 661.1 845.9 662 845.3 662.9 846 663.8 847.1 664.7 848.6 665.6 849.3 666.5 849.9 667.4 850.4 668.3 850.5 669.3 850.7 670.2 850.3 671.1 850.7 672 850.4 672.9 850.5 673.8 850.5 674.7 850.5 675.6 850.5 676.6 850.6 677.5 850.8 678.4 850.2 679.3 850.3 680.2 850.4 681.1 850.6 682 850.6" fill="none" stroke="#e8413b" stroke-width="1.0" stroke-linejoin="round"/><path d="M290 924.9 290.9 925 291.8 924.8 292.7 924.7 293.6 924.9 294.5 925 295.4 925.1 296.3 924.8 297.2 924.9 298.1 924.9 299 924.9 299.9 924.9 300.8 924.9 301.7 925.1 302.6 925.2 303.5 925.1 304.4 925.2 305.3 925.4 306.2 925.8 307.1 926.3 308 927.1 308.9 927.6 309.8 928 310.7 927.7 311.6 927 312.5 926.4 313.4 925.6 314.3 925.5 315.2 925.2 316.1 925.2 317 924.9 317.9 924.9 318.8 924.8 319.7 925.1 320.6 924.9 321.5 925 322.4 924.8 323.3 924.9 324.2 924.7 325.1 924.8 326 924.8 326.9 924.7 327.8 924.9 328.7 924.9 329.6 925" fill="none" stroke="#72b2e4" stroke-width="1.0" stroke-linejoin="round"/><path d="M290 924.5 290.9 924.6 291.8 924.6 292.7 924.7 293.6 924.5 294.5 924.6 295.4 924.8 296.3 924.7 297.2 924.6 298.1 924.5 299 924.6 299.9 924.8 300.8 924.8 301.7 924.5 302.6 924.8 303.5 924.8 304.4 924.9 305.3 925.5 306.2 925.8 307.1 926.1 308 926.8 308.9 927.5 309.8 927.6 310.7 927.5 311.6 927 312.5 926.1 313.4 925.7 314.3 925.3 315.2 924.9 316.1 924.9 317 924.9 317.9 924.8 318.8 924.6 319.7 924.8 320.6 924.6 321.5 924.7 322.4 924.7 323.3 924.6 324.2 924.4 325.1 924.8 326 924.7 326.9 924.6 327.8 924.7 328.7 924.6 329.6 924.6" fill="none" stroke="#e8413b" stroke-width="1.0" stroke-linejoin="round"/><path d="M334.1 922.9 335 922.5 335.9 922.7 336.8 922.7 337.7 922.6 338.6 922.5 339.5 922.4 340.4 922.3 341.3 922.1 342.2 921.7 343.1 921.3 344 920.5 344.9 919.8 345.8 918.8 346.7 917.5 347.6 916.5 348.5 915.9 349.4 915.8 350.3 916.4 351.2 917.5 352.1 918.8 353 919.8 353.9 920.2 354.8 919.8 355.7 918.8 356.6 917.1 357.5 916.4 358.4 915.9 359.3 915.9 360.2 916.8 361.1 917.7 362 918.7 362.9 919.4 363.8 920.5 364.7 921.2 365.6 921.7 366.5 921.8 367.4 922.1 368.3 922.5 369.2 922.4 370.1 922.8 371 922.6 371.9 922.9 372.8 922.8 373.7 923.1" fill="none" stroke="#72b2e4" stroke-width="1.0" stroke-linejoin="round"/><path d="M334.1 922.3 335 922.5 335.9 922.2 336.8 922.1 337.7 922.2 338.6 922.2 339.5 921.9 340.4 921.9 341.3 921.6 342.2 921.1 343.1 920.5 344 919.8 344.9 918.8 345.8 917.8 346.7 916.7 347.6 915.5 348.5 914.4 349.4 914.4 350.3 914.5 351.2 915.4 352.1 916.1 353 917 353.9 917.2 354.8 916.9 355.7 916.2 356.6 915.3 357.5 914.4 358.4 914.5 359.3 914.9 360.2 915.6 361.1 916.5 362 917.9 362.9 918.9 363.8 920 364.7 920.5 365.6 921.1 366.5 921.6 367.4 921.5 368.3 921.9 369.2 922.1 370.1 921.9 371 922.1 371.9 922.3 372.8 922.3 373.7 922.5" fill="none" stroke="#e8413b" stroke-width="1.0" stroke-linejoin="round"/><path d="M378.1 920.4 379 920.1 379.9 920.3 380.8 920.2 381.7 920.1 382.6 919.9 383.5 920.2 384.4 920 385.3 919.6 386.2 919.1 387.1 918.4 388 917.5 388.9 916.3 389.8 914.1 390.7 912.2 391.6 909.6 392.5 907.4 393.4 905.9 394.3 906.1 395.2 907.4 396.1 909.6 397 911.7 397.9 912.4 398.8 911.6 399.7 909.7 400.6 907.2 401.5 905.9 402.4 905.7 403.3 907.5 404.2 909.6 405.1 911.9 406 914.4 406.9 916.3 407.8 917.6 408.7 918.4 409.6 919 410.5 919.6 411.4 920.1 412.3 920 413.2 920.1 414.1 920.2 415 920 415.9 920.3 416.8 920.1 417.7 920.2" fill="none" stroke="#72b2e4" stroke-width="1.0" stroke-linejoin="round"/><path d="M378.1 920.2 379 920.2 379.9 920.2 380.8 920.2 381.7 920.2 382.6 920.4 383.5 920.2 384.4 920 385.3 919.9 386.2 919.5 387.1 919.3 388 918.6 388.9 917.7 389.8 916.6 390.7 915.4 391.6 913.9 392.5 912.7 393.4 912 394.3 911.9 395.2 912.8 396.1 914 397 914.9 397.9 915.4 398.8 915.2 399.7 913.9 400.6 912.9 401.5 911.9 402.4 911.9 403.3 912.9 404.2 914 405.1 915.2 406 916.8 406.9 917.8 407.8 918.4 408.7 919.1 409.6 919.6 410.5 919.7 411.4 920.1 412.3 920 413.2 920 414.1 920.4 415 920.2 415.9 920.2 416.8 920.3 417.7 920.3" fill="none" stroke="#e8413b" stroke-width="1.0" stroke-linejoin="round"/><path d="M422.2 908.7 423.1 908.1 424 907.6 424.9 907 425.8 906.4 426.7 905.1 427.6 904.4 428.5 903.2 429.4 901.8 430.3 900.3 431.2 898.4 432.1 896.1 433 894 433.9 891.4 434.8 889 435.7 886 436.6 884 437.5 882.2 438.4 881.6 439.3 882 440.2 883 441.1 884.6 442 885.1 442.9 884.4 443.8 883.3 444.7 881.9 445.6 881.7 446.5 882.3 447.4 883.8 448.3 886.3 449.2 888.8 450.1 891.5 451 894 451.9 896.4 452.8 898.2 453.7 900.2 454.6 901.6 455.5 903.2 456.4 904.2 457.3 905.2 458.2 906.2 459.1 906.8 460 907.7 460.9 907.9 461.8 908.6" fill="none" stroke="#72b2e4" stroke-width="1.0" stroke-linejoin="round"/><path d="M422.2 906.7 423.1 906.2 424 905.7 424.9 905 425.8 904.4 426.7 903.3 427.6 902.1 428.5 900.9 429.4 899.3 430.3 897.6 431.2 895.5 432.1 893.3 433 890.9 433.9 888.1 434.8 885.3 435.7 882.3 436.6 879.7 437.5 877.5 438.4 876.5 439.3 876.2 440.2 876.5 441.1 877.2 442 877.3 442.9 877 443.8 876.5 444.7 875.8 445.6 876.6 446.5 877.7 447.4 879.9 448.3 882.3 449.2 885.1 450.1 888 451 890.7 451.9 893.4 452.8 895.5 453.7 897.5 454.6 899.5 455.5 900.7 456.4 902.1 457.3 903.4 458.2 904.5 459.1 904.8 460 905.3 460.9 906.1 461.8 906.7" fill="none" stroke="#e8413b" stroke-width="1.0" stroke-linejoin="round"/><path d="M466.2 923.6 467.1 923.5 468 923.4 468.9 923.7 469.8 923.5 470.7 923.5 471.6 923.5 472.5 923.7 473.4 923.5 474.3 923.8 475.2 923.4 476.1 923.5 477 923.1 477.9 923.2 478.8 923.2 479.7 923 480.6 922.8 481.5 922.7 482.4 922.4 483.3 922.2 484.2 922.1 485.1 921.9 486 921.7 486.9 921.8 487.8 921.9 488.7 922.4 489.6 922.7 490.5 922.8 491.4 923 492.3 923.1 493.2 923.3 494.1 923.3 495 923.2 495.9 923.6 496.8 923.7 497.7 923.6 498.6 923.5 499.5 923.6 500.4 923.7 501.3 923.5 502.2 923.6 503.1 923.6 504 923.3 504.9 923.5 505.8 923.6" fill="none" stroke="#72b2e4" stroke-width="1.0" stroke-linejoin="round"/><path d="M466.2 923.8 467.1 923.7 468 923.6 468.9 923.7 469.8 923.7 470.7 923.7 471.6 923.9 472.5 923.6 473.4 923.7 474.3 923.6 475.2 923.8 476.1 923.5 477 923.6 477.9 923 478.8 922.8 479.7 922.7 480.6 922.2 481.5 921.9 482.4 921.3 483.3 920.8 484.2 920.1 485.1 919.8 486 919.7 486.9 919.7 487.8 920.2 488.7 920.8 489.6 921.2 490.5 921.8 491.4 922.4 492.3 922.7 493.2 922.7 494.1 923.1 495 923.3 495.9 923.5 496.8 923.8 497.7 923.7 498.6 923.6 499.5 923.6 500.4 923.8 501.3 923.7 502.2 923.8 503.1 923.7 504 923.8 504.9 923.6 505.8 923.7" fill="none" stroke="#e8413b" stroke-width="1.0" stroke-linejoin="round"/><path d="M510.3 923.2 511.2 923.1 512.1 923.3 513 923.2 513.9 923.2 514.8 923.1 515.7 923.2 516.6 923 517.5 923.3 518.4 923.3 519.3 923.3 520.2 923.4 521.1 923.2 522 923.2 522.9 923.4 523.8 923.2 524.7 923.2 525.6 922.9 526.5 923.1 527.4 923.1 528.3 923.1 529.2 923 530.1 923 531 922.9 531.9 923 532.8 923.1 533.7 923 534.6 923.1 535.5 923.2 536.4 923 537.3 923 538.2 923.2 539.1 923.1 540 923.3 540.9 923.1 541.8 923.1 542.7 923.3 543.6 923.2 544.5 923.2 545.4 923.1 546.3 923.1 547.2 923.2 548.1 923.1 549 923.2 549.9 923.1" fill="none" stroke="#72b2e4" stroke-width="1.0" stroke-linejoin="round"/><path d="M510.3 924 511.2 924.1 512.1 924.1 513 923.8 513.9 924.1 514.8 923.8 515.7 924 516.6 924 517.5 924.1 518.4 923.9 519.3 923.9 520.2 924.1 521.1 924.1 522 923.9 522.9 924 523.8 923.9 524.7 923.7 525.6 924.1 526.5 923.9 527.4 923.9 528.3 923.8 529.2 923.6 530.1 923.8 531 923.7 531.9 923.6 532.8 923.9 533.7 924 534.6 923.9 535.5 924 536.4 924.2 537.3 924.1 538.2 924 539.1 924 540 924.2 540.9 923.9 541.8 923.8 542.7 924.1 543.6 923.9 544.5 923.7 545.4 923.8 546.3 923.8 547.2 923.7 548.1 923.9 549 923.9 549.9 924.2" fill="none" stroke="#e8413b" stroke-width="1.0" stroke-linejoin="round"/><path d="M554.4 923 555.3 922.9 556.2 923 557.1 923 558 923.1 558.9 923.2 559.8 922.8 560.7 922.8 561.6 923 562.5 923.2 563.4 923 564.3 923.2 565.2 923 566.1 923 567 923 567.9 923.2 568.8 923.1 569.7 923.2 570.6 923.3 571.5 923.4 572.4 923.4 573.3 923.6 574.2 923.7 575.1 923.6 576 923.4 576.9 923.3 577.8 923.3 578.7 923.1 579.6 923 580.5 923 581.4 923 582.3 922.8 583.2 923.4 584.1 923.1 585 923 585.9 922.9 586.8 923.2 587.7 922.8 588.6 922.9 589.5 923.1 590.4 923 591.3 923.1 592.2 923 593.1 923 594 922.9" fill="none" stroke="#72b2e4" stroke-width="1.0" stroke-linejoin="round"/><path d="M554.4 923.9 555.3 923.8 556.2 923.8 557.1 923.7 558 923.9 558.9 923.8 559.8 923.9 560.7 923.7 561.6 923.6 562.5 923.9 563.4 923.7 564.3 923.7 565.2 923.8 566.1 924 567 923.8 567.9 923.8 568.8 923.8 569.7 923.8 570.6 923.7 571.5 923.5 572.4 923.7 573.3 923.4 574.2 923.8 575.1 923.5 576 923.6 576.9 923.7 577.8 923.8 578.7 924.1 579.6 923.8 580.5 923.9 581.4 923.8 582.3 923.8 583.2 923.9 584.1 923.8 585 923.8 585.9 923.7 586.8 923.9 587.7 924.2 588.6 923.8 589.5 923.9 590.4 923.7 591.3 924.2 592.2 923.6 593.1 923.7 594 923.6" fill="none" stroke="#e8413b" stroke-width="1.0" stroke-linejoin="round"/><path d="M598.4 923.5 599.3 923.4 600.2 923.4 601.1 923.4 602 923.6 602.9 923.6 603.8 923.5 604.7 923.1 605.6 923.3 606.5 923.4 607.4 923.5 608.3 923 609.2 923.6 610.1 923.4 611 923.5 611.9 923.2 612.8 923.2 613.7 923.1 614.6 923.1 615.5 922.9 616.4 922.7 617.3 923 618.2 922.9 619.1 922.7 620 922.7 620.9 923.2 621.8 922.9 622.7 923.1 623.6 923.1 624.5 923.2 625.4 923.4 626.3 923.5 627.2 923.4 628.1 923.2 629 923.5 629.9 923.5 630.8 923.5 631.7 923.7 632.6 923.3 633.5 923.3 634.4 923.3 635.3 923.3 636.2 923.5 637.1 923.4 638 923.3" fill="none" stroke="#72b2e4" stroke-width="1.0" stroke-linejoin="round"/><path d="M598.4 923.9 599.3 923.8 600.2 923.7 601.1 923.7 602 923.6 602.9 923.8 603.8 923.7 604.7 923.8 605.6 923.8 606.5 923.8 607.4 923.7 608.3 924 609.2 923.6 610.1 923.8 611 923.7 611.9 923.7 612.8 923.6 613.7 923.5 614.6 923.6 615.5 923.2 616.4 923.3 617.3 923.1 618.2 923 619.1 923.2 620 923.3 620.9 923.7 621.8 923.3 622.7 923.6 623.6 923.7 624.5 923.7 625.4 923.7 626.3 923.6 627.2 923.9 628.1 923.9 629 923.8 629.9 923.8 630.8 923.9 631.7 923.9 632.6 923.9 633.5 923.7 634.4 923.9 635.3 923.7 636.2 923.8 637.1 923.7 638 923.8" fill="none" stroke="#e8413b" stroke-width="1.0" stroke-linejoin="round"/><path d="M642.5 924.1 643.4 923.9 644.3 924.1 645.2 923.9 646.1 924.2 647 924 647.9 924.3 648.8 924.1 649.7 924 650.6 923.8 651.5 923.9 652.4 924.2 653.3 923.8 654.2 923.7 655.1 923.9 656 924 656.9 923.7 657.8 923.5 658.7 923.3 659.6 922.9 660.5 922.7 661.4 922.4 662.3 922 663.2 922.1 664.1 922.4 665 922.8 665.9 923.3 666.8 923.4 667.7 923.8 668.6 923.8 669.5 923.8 670.4 924.1 671.3 923.7 672.2 924.1 673.1 924 674 924 674.9 924 675.8 923.8 676.7 924 677.6 924.1 678.5 923.7 679.4 924 680.3 924 681.2 923.9 682.1 924" fill="none" stroke="#72b2e4" stroke-width="1.0" stroke-linejoin="round"/><path d="M642.5 924.2 643.4 924.1 644.3 924.3 645.2 924.1 646.1 924.1 647 924.1 647.9 924.1 648.8 924.1 649.7 924.3 650.6 924.1 651.5 924.5 652.4 924 653.3 923.8 654.2 924 655.1 923.9 656 924.2 656.9 924 657.8 923.6 658.7 923.5 659.6 923.1 660.5 923.1 661.4 922.4 662.3 922.2 663.2 922.4 664.1 922.8 665 923.2 665.9 923.4 666.8 923.8 667.7 924 668.6 923.9 669.5 924.1 670.4 924 671.3 923.9 672.2 924.1 673.1 924.2 674 924.3 674.9 924.1 675.8 924 676.7 924.1 677.6 924.1 678.5 924.2 679.4 924.2 680.3 924.2 681.2 924.3 682.1 924.1" fill="none" stroke="#e8413b" stroke-width="1.0" stroke-linejoin="round"/><rect x="642.2" y="697.6" width="2.8" height="2.8" fill="#9352bc"/><text x="645.4" y="700.4" font-size="4.3" fill="#333" text-anchor="start">P10 cKIT+</text><rect x="640.3" y="782.4" width="2.8" height="2.8" fill="#72b2e4"/><text x="643.3" y="785.2" font-size="4.3" fill="#333" text-anchor="start">SgD Ctrl</text><rect x="661.2" y="782.4" width="2.8" height="2.8" fill="#e8413b"/><text x="664.2" y="785.2" font-size="4.3" fill="#333" text-anchor="start">SgD iKO</text><rect x="640.3" y="857.4" width="2.8" height="2.8" fill="#72b2e4"/><text x="643.3" y="860.2" font-size="4.3" fill="#333" text-anchor="start">SgD Ctrl</text><rect x="661.2" y="857.4" width="2.8" height="2.8" fill="#e8413b"/><text x="664.2" y="860.2" font-size="4.3" fill="#333" text-anchor="start">SgD iKO</text><rect x="640.3" y="933" width="2.8" height="2.8" fill="#72b2e4"/><text x="643.3" y="935.8" font-size="4.3" fill="#333" text-anchor="start">SgD Ctrl</text><rect x="661.2" y="933" width="2.8" height="2.8" fill="#e8413b"/><text x="664.2" y="935.8" font-size="4.3" fill="#333" text-anchor="start">SgD iKO</text></svg><div id="o"><div style="left:505.4px;top:305.6px;width:26.8px;height:22.6px;background:linear-gradient(rgba(61,53,144,0.00) 0px 0.8px,rgba(61,53,144,0.00) 0.8px 1.8px,rgba(61,53,144,0.00) 1.8px 3.1px,rgba(61,53,144,0.24) 3.1px 3.9px,rgba(61,53,144,0.33) 3.9px 4.5px,rgba(61,53,144,0.00) 4.5px 5.4px,rgba(61,53,144,0.27) 5.4px 6.5px,rgba(61,53,144,0.34) 6.5px 7.7px,rgba(61,53,144,0.19) 7.7px 8.4px,rgba(61,53,144,0.00) 8.4px 9.4px,rgba(61,53,144,0.00) 9.4px 10.1px,rgba(61,53,144,0.05) 10.1px 11.4px,rgba(61,53,144,0.07) 11.4px 12.2px,rgba(61,53,144,0.13) 12.2px 13.5px,rgba(61,53,144,0.21) 13.5px 14.2px,rgba(61,53,144,0.00) 14.2px 15.5px,rgba(61,53,144,0.00) 15.5px 16.2px,rgba(61,53,144,0.11) 16.2px 17.5px,rgba(61,53,144,0.00) 17.5px 18.4px,rgba(61,53,144,0.00) 18.4px 19.8px,rgba(61,53,144,0.18) 19.8px 20.7px,rgba(61,53,144,0.00) 20.7px 21.5px,rgba(61,53,144,0.26) 21.5px 22.5px,rgba(61,53,144,0.17) 22.5px 23.4px)"></div><div style="left:536.4px;top:305.6px;width:26.2px;height:22.6px;background:linear-gradient(rgba(61,53,144,0.27) 0px 1.3px,rgba(61,53,144,0.24) 1.3px 2.2px,rgba(61,53,144,0.31) 2.2px 2.9px,rgba(61,53,144,0.16) 2.9px 4.3px,rgba(61,53,144,0.00) 4.3px 5.3px,rgba(61,53,144,0.29) 5.3px 6.4px,rgba(61,53,144,0.00) 6.4px 7.3px,rgba(61,53,144,0.23) 7.3px 8.6px,rgba(61,53,144,0.34) 8.6px 9.8px,rgba(61,53,144,0.00) 9.8px 10.7px,rgba(61,53,144,0.08) 10.7px 11.6px,rgba(61,53,144,0.00) 11.6px 13px,rgba(61,53,144,0.00) 13px 14.2px,rgba(61,53,144,0.00) 14.2px 15.5px,rgba(61,53,144,0.00) 15.5px 16.1px,rgba(61,53,144,0.00) 16.1px 17.3px,rgba(61,53,144,0.00) 17.3px 18.3px,rgba(61,53,144,0.00) 18.3px 19.5px,rgba(61,53,144,0.17) 19.5px 20.4px,rgba(61,53,144,0.31) 20.4px 21.1px,rgba(61,53,144,0.00) 21.1px 22.3px,rgba(61,53,144,0.22) 22.3px 23.4px)"></div><div style="left:505.4px;top:332.7px;width:26.8px;height:28.7px;background:linear-gradient(rgba(61,53,144,0.10) 0px 1.1px,rgba(61,53,144,0.00) 1.1px 2.2px,rgba(61,53,144,0.00) 2.2px 3.1px,rgba(61,53,144,0.07) 3.1px 3.9px,rgba(61,53,144,0.00) 3.9px 5.3px,rgba(61,53,144,0.00) 5.3px 6.3px,rgba(61,53,144,0.00) 6.3px 7px,rgba(61,53,144,0.12) 7px 8.4px,rgba(61,53,144,0.00) 8.4px 9.7px,rgba(61,53,144,0.00) 9.7px 10.4px,rgba(61,53,144,0.24) 10.4px 11.7px,rgba(61,53,144,0.23) 11.7px 12.9px,rgba(61,53,144,0.00) 12.9px 13.8px,rgba(61,53,144,0.07) 13.8px 14.6px,rgba(61,53,144,0.15) 14.6px 15.6px,rgba(61,53,144,0.00) 15.6px 16.9px,rgba(61,53,144,0.09) 16.9px 17.7px,rgba(61,53,144,0.00) 17.7px 18.5px,rgba(61,53,144,0.00) 18.5px 19.2px,rgba(61,53,144,0.00) 19.2px 20.4px,rgba(61,53,144,0.16) 20.4px 21.7px,rgba(61,53,144,0.12) 21.7px 22.5px,rgba(61,53,144,0.00) 22.5px 23.4px,rgba(61,53,144,0.00) 23.4px 24.3px,rgba(61,53,144,0.00) 24.3px 25.5px,rgba(61,53,144,0.00) 25.5px 26.5px,rgba(61,53,144,0.00) 26.5px 27.2px,rgba(61,53,144,0.00) 27.2px 28.1px,rgba(61,53,144,0.00) 28.1px 29.4px,rgba(61,53,144,0.00) 29.4px 29.5px)"></div><div style="left:536.4px;top:332.7px;width:26.2px;height:28.7px;background:linear-gradient(rgba(61,53,144,0.00) 0px 0.9px,rgba(61,53,144,0.26) 0.9px 2.2px,rgba(61,53,144,0.35) 2.2px 3.2px,rgba(61,53,144,0.00) 3.2px 4.1px,rgba(61,53,144,0.14) 4.1px 5.3px,rgba(61,53,144,0.00) 5.3px 6.2px,rgba(61,53,144,0.00) 6.2px 7.5px,rgba(61,53,144,0.16) 7.5px 8.4px,rgba(61,53,144,0.17) 8.4px 9.3px,rgba(61,53,144,0.00) 9.3px 10.1px,rgba(61,53,144,0.00) 10.1px 11.4px,rgba(61,53,144,0.00) 11.4px 12.2px,rgba(61,53,144,0.00) 12.2px 12.9px,rgba(61,53,144,0.29) 12.9px 13.9px,rgba(61,53,144,0.31) 13.9px 15.1px,rgba(61,53,144,0.00) 15.1px 15.7px,rgba(61,53,144,0.23) 15.7px 17.1px,rgba(61,53,144,0.30) 17.1px 18px,rgba(61,53,144,0.30) 18px 19.2px,rgba(61,53,144,0.00) 19.2px 20.1px,rgba(61,53,144,0.00) 20.1px 21px,rgba(61,53,144,0.00) 21px 21.8px,rgba(61,53,144,0.17) 21.8px 22.5px,rgba(61,53,144,0.16) 22.5px 23.2px,rgba(61,53,144,0.06) 23.2px 24.4px,rgba(61,53,144,0.12) 24.4px 25.3px,rgba(61,53,144,0.20) 25.3px 26.2px,rgba(61,53,144,0.00) 26.2px 27.3px,rgba(61,53,144,0.00) 27.3px 28.6px,rgba(61,53,144,0.18) 28.6px 29.5px)"></div></div></body></html>
